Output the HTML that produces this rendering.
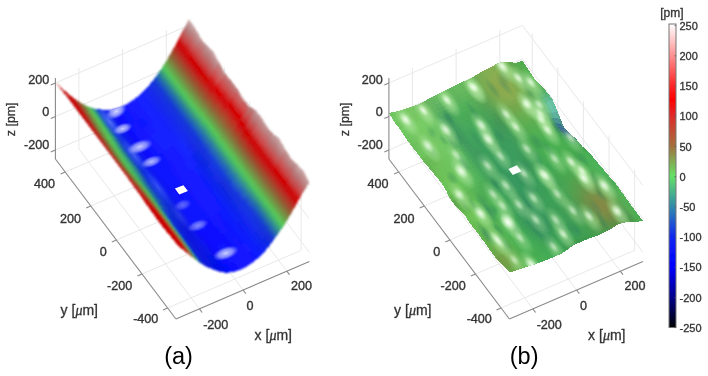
<!DOCTYPE html>
<html><head><meta charset="utf-8"><style>
html,body{margin:0;padding:0;background:#fff;}
svg{display:block;}
text{font-family:"Liberation Sans",sans-serif;fill:#333;}
.tk{font-size:12.6px;stroke:#333;stroke-width:0.35px;}
.al{font-size:14px;stroke:#333;stroke-width:0.3px;}
.mu{font-family:"Liberation Serif",serif;font-style:italic;}
.cb{font-size:11px;stroke:#333;stroke-width:0.3px;}
.g{stroke:#e8e8e8;stroke-width:1;}
.ax{stroke:#8a8a8a;stroke-width:1.1;}
.cbt{stroke:#555;stroke-width:0.8;}
.lab{font-size:23.5px;fill:#000;}
</style></head><body>
<svg width="708" height="376" viewBox="0 0 708 376">
<defs>
<filter id="bl" x="-5%" y="-5%" width="110%" height="110%"><feGaussianBlur stdDeviation="0.6"/></filter>
<filter id="bla" x="-5%" y="-5%" width="110%" height="110%"><feGaussianBlur stdDeviation="0.8"/></filter>
<filter id="tb" x="-5%" y="-5%" width="110%" height="110%"><feGaussianBlur stdDeviation="0.35"/></filter>
<filter id="sb" x="-20%" y="-20%" width="140%" height="140%"><feGaussianBlur stdDeviation="1.6"/></filter>
<radialGradient id="sg"><stop offset="0" stop-color="#f4fff0" stop-opacity="0.95"/><stop offset="0.3" stop-color="#dcf8d4" stop-opacity="0.65"/><stop offset="0.65" stop-color="#c4f0bc" stop-opacity="0.22"/><stop offset="1" stop-color="#b0e8a8" stop-opacity="0"/></radialGradient>
<radialGradient id="sga"><stop offset="0" stop-color="#e0e4ff" stop-opacity="0.95"/><stop offset="0.55" stop-color="#b8c0ff" stop-opacity="0.7"/><stop offset="1" stop-color="#8090ff" stop-opacity="0"/></radialGradient>
<radialGradient id="sgb"><stop offset="0" stop-color="#7090ff" stop-opacity="0.9"/><stop offset="0.6" stop-color="#5070ff" stop-opacity="0.45"/><stop offset="1" stop-color="#3050ff" stop-opacity="0"/></radialGradient>
<radialGradient id="sh"><stop offset="0" stop-color="#c0eeb0" stop-opacity="0.75"/><stop offset="0.55" stop-color="#b0e8a0" stop-opacity="0.45"/><stop offset="1" stop-color="#a0e090" stop-opacity="0"/></radialGradient>
<clipPath id="cpA"><path d="M55.4 81.8 57.4 84.5 59.4 87.1 61.4 89.8 63.4 92.4 65.4 95.1 67.5 97.8 69.5 100.4 71.5 103.1 73.5 105.8 75.5 108.4 77.5 111.1 79.5 113.8 81.5 116.4 83.5 119.1 85.5 121.8 87.5 124.4 89.5 127.1 91.5 129.8 93.6 132.5 95.6 135.1 97.6 137.8 99.6 140.5 101.6 143.1 103.6 145.8 105.6 148.5 107.6 151.1 109.6 153.8 111.6 156.5 113.6 159.1 115.7 161.8 117.7 164.5 119.7 167.2 121.7 169.9 123.7 172.6 125.7 175.3 127.7 178.1 129.7 180.8 131.7 183.6 133.7 186.4 135.7 189.2 137.7 192.1 139.8 194.9 141.8 197.8 143.8 200.7 145.8 203.6 147.8 206.4 149.8 209.3 151.8 212.1 153.8 214.9 155.8 217.6 157.8 220.3 159.8 223.0 161.8 225.6 163.8 228.2 165.9 230.7 167.9 233.2 169.9 235.7 171.9 238.2 173.9 240.6 175.9 243.1 175.9 243.1 178.1 245.4 180.3 247.5 182.6 249.4 184.8 251.3 187.0 253.1 189.2 254.8 191.5 256.6 193.7 258.3 195.9 260.0 198.2 261.6 200.4 263.1 202.6 264.5 204.8 265.8 207.1 267.0 209.3 268.0 211.5 268.9 213.7 269.7 215.9 270.5 218.2 271.2 220.4 271.9 222.6 272.3 224.8 272.6 227.1 272.6 229.3 272.5 231.5 272.3 233.8 271.9 236.0 271.3 238.2 270.6 240.4 269.7 242.7 268.6 244.9 267.5 247.1 266.2 249.3 264.9 251.5 263.4 253.8 261.7 256.0 259.9 258.2 257.9 260.4 255.9 262.7 253.6 264.9 251.3 267.1 248.7 269.4 246.0 271.6 243.0 273.8 239.9 276.0 236.7 278.2 233.6 280.5 230.5 282.7 227.3 284.9 224.0 287.1 220.4 289.4 216.7 291.6 212.8 293.8 208.8 296.1 204.8 298.3 200.8 300.5 196.9 302.7 193.1 305.0 189.4 307.2 185.8 309.4 182.3 309.4 182.3 307.4 178.6 305.4 174.8 303.4 171.3 301.4 168.4 299.4 166.1 297.4 164.3 295.3 162.8 293.3 161.1 291.3 159.0 289.3 156.3 287.3 152.9 285.3 149.2 283.3 145.4 281.3 141.9 279.3 139.0 277.3 136.7 275.3 135.0 273.2 133.5 271.2 131.9 269.2 129.8 267.2 127.1 265.2 123.9 263.2 120.4 261.2 117.0 259.2 114.0 257.2 111.6 255.2 109.9 253.2 108.7 251.2 107.7 249.2 106.6 247.1 104.9 245.1 102.5 243.1 99.4 241.1 95.8 239.1 92.1 237.1 88.6 235.1 85.6 233.1 83.1 231.1 80.9 229.1 78.8 227.1 76.5 225.1 73.7 223.0 70.3 221.0 66.3 219.0 62.2 217.0 58.1 215.0 54.5 213.0 51.6 211.0 49.3 209.0 47.6 207.0 46.0 205.0 44.1 203.0 41.8 201.0 38.8 198.9 35.2 196.9 31.4 194.9 27.7 192.9 24.4 190.9 21.8 188.9 19.7 188.9 19.7 186.7 23.5 184.5 27.6 182.2 31.8 180.0 36.2 177.8 40.4 175.6 44.6 173.3 48.7 171.1 52.7 168.9 56.5 166.7 60.3 164.4 64.0 162.2 67.5 160.0 70.8 157.8 74.1 155.5 77.1 153.3 80.1 151.1 82.8 148.8 85.5 146.6 88.0 144.4 90.3 142.2 92.5 139.9 94.6 137.7 96.5 135.5 98.2 133.3 99.9 131.0 101.5 128.8 102.9 126.6 104.3 124.4 105.5 122.2 106.6 119.9 107.5 117.7 108.3 115.5 109.0 113.2 109.5 111.0 109.7 108.8 109.8 106.6 109.8 104.3 109.7 102.1 109.5 99.9 109.4 97.7 109.1 95.4 108.8 93.2 108.2 91.0 107.5 88.8 106.7 86.5 105.8 84.3 104.7 82.1 103.6 79.9 102.3 77.7 100.9 75.4 99.3 73.2 97.7 71.0 95.9 68.8 94.1 66.5 92.3 64.3 90.4 62.1 88.4 59.9 86.3 57.6 84.1 55.4 81.8Z"/></clipPath>
<clipPath id="cpB"><path d="M388.9 112.8 390.9 116.2 392.9 119.7 394.9 123.1 396.9 125.5 398.9 128.0 400.9 130.7 403.0 133.9 405.0 137.1 407.0 140.0 409.0 142.8 411.0 145.5 413.0 147.9 415.0 150.3 417.0 152.9 419.0 155.8 421.0 158.6 423.0 161.0 425.0 163.3 427.1 165.7 429.1 168.1 431.1 170.6 433.1 173.0 435.1 175.4 437.1 177.8 439.1 180.1 441.1 182.5 443.1 185.8 445.1 189.0 447.1 192.8 449.1 197.1 451.2 200.7 453.2 203.0 455.2 205.2 457.2 207.5 459.2 209.7 461.2 211.8 463.2 213.9 465.2 216.0 467.2 219.1 469.2 222.3 471.2 225.2 473.2 227.6 475.3 230.0 477.3 232.6 479.3 235.4 481.3 238.3 483.3 240.9 485.3 243.5 487.3 246.4 489.3 249.2 491.3 252.0 493.3 254.8 495.3 257.5 497.3 259.7 499.4 261.7 501.4 263.7 503.4 265.7 505.4 267.8 507.4 270.0 509.4 272.5 509.4 272.5 511.6 271.8 513.8 271.1 516.1 270.4 518.3 269.6 520.5 268.9 522.8 268.1 525.0 267.3 527.2 266.6 529.4 266.0 531.6 265.3 533.9 264.7 536.1 264.1 538.3 263.2 540.5 262.3 542.8 261.4 545.0 260.5 547.2 259.7 549.5 258.8 551.7 257.9 553.9 257.0 556.1 256.1 558.3 255.2 560.6 254.0 562.8 252.8 565.0 251.6 567.2 249.9 569.5 248.1 571.7 246.3 573.9 245.1 576.1 244.1 578.4 243.1 580.6 242.1 582.8 241.1 585.0 240.1 587.3 239.2 589.5 238.5 591.7 237.7 594.0 236.9 596.2 236.1 598.4 235.2 600.6 234.2 602.8 233.1 605.1 232.0 607.3 230.9 609.5 229.8 611.8 228.5 614.0 226.9 616.2 225.4 618.4 224.2 620.6 223.6 622.9 223.0 625.1 222.4 627.3 222.3 629.5 222.2 631.8 222.2 634.0 222.1 636.2 222.1 638.5 221.7 640.7 221.3 642.9 220.9 642.9 220.9 640.9 218.2 638.9 215.5 636.9 212.8 634.9 210.0 632.9 207.3 630.9 204.6 628.8 201.9 626.8 199.0 624.8 196.2 622.8 193.4 620.8 190.6 618.8 187.8 616.8 185.0 614.8 182.6 612.8 180.2 610.8 177.9 608.8 175.6 606.8 173.2 604.7 170.9 602.7 168.6 600.7 166.3 598.7 163.9 596.7 161.4 594.7 159.0 592.7 156.6 590.7 154.2 588.7 151.8 586.7 149.8 584.7 148.5 582.6 146.7 580.6 144.2 578.6 141.7 576.6 139.6 574.6 137.6 572.6 135.6 570.6 134.1 568.6 132.6 566.6 130.6 564.6 127.9 562.6 124.0 560.6 118.9 558.5 113.9 556.5 108.9 554.5 103.9 552.5 99.4 550.5 96.7 548.5 94.1 546.5 91.4 544.5 89.0 542.5 86.9 540.5 84.9 538.5 82.9 536.5 80.8 534.4 78.8 532.4 75.8 530.4 72.7 528.4 69.7 526.4 66.7 524.4 63.5 522.4 60.4 522.4 60.4 520.2 61.4 518.0 62.4 515.7 62.6 513.5 62.6 511.3 62.3 509.0 61.9 506.8 61.7 504.6 61.9 502.4 62.1 500.1 62.4 497.9 63.3 495.7 64.3 493.5 65.6 491.2 66.8 489.0 68.0 486.8 69.1 484.6 70.2 482.3 71.4 480.1 72.6 477.9 74.0 475.7 75.3 473.4 76.6 471.2 77.7 469.0 78.8 466.8 79.9 464.5 81.0 462.3 82.0 460.1 83.0 457.9 84.0 455.6 85.1 453.4 86.2 451.2 87.4 449.0 88.5 446.8 89.6 444.5 90.7 442.3 91.8 440.1 92.9 437.8 94.0 435.6 95.1 433.4 96.2 431.2 97.3 428.9 98.5 426.7 99.8 424.5 101.2 422.3 102.6 420.0 103.7 417.8 104.5 415.6 105.3 413.4 106.1 411.1 106.8 408.9 107.6 406.7 108.4 404.5 109.1 402.2 109.8 400.0 110.5 397.8 111.2 395.6 111.6 393.3 112.0 391.1 112.4 388.9 112.8Z"/></clipPath>
<radialGradient id="sgc"><stop offset="0" stop-color="#ffffff" stop-opacity="1"/><stop offset="0.4" stop-color="#e8ffe0" stop-opacity="0.75"/><stop offset="1" stop-color="#d0f8c8" stop-opacity="0"/></radialGradient>
<radialGradient id="sdk"><stop offset="0" stop-color="#2a7a60" stop-opacity="0.6"/><stop offset="0.6" stop-color="#2a7a60" stop-opacity="0.3"/><stop offset="1" stop-color="#2a7a60" stop-opacity="0"/></radialGradient>
<linearGradient id="cbg" x1="0" y1="0" x2="0" y2="1"><stop offset="0.000" stop-color="rgb(255,255,255)"/>
<stop offset="0.100" stop-color="rgb(255,150,150)"/>
<stop offset="0.200" stop-color="rgb(255,40,40)"/>
<stop offset="0.250" stop-color="rgb(255,0,0)"/>
<stop offset="0.300" stop-color="rgb(225,40,40)"/>
<stop offset="0.400" stop-color="rgb(165,110,60)"/>
<stop offset="0.500" stop-color="rgb(100,225,100)"/>
<stop offset="0.600" stop-color="rgb(50,140,170)"/>
<stop offset="0.700" stop-color="rgb(15,40,240)"/>
<stop offset="0.800" stop-color="rgb(0,0,255)"/>
<stop offset="0.900" stop-color="rgb(0,0,140)"/>
<stop offset="1.000" stop-color="rgb(0,0,0)"/></linearGradient>
</defs>
<rect width="708" height="376" fill="#fff"/>
<line x1="78.9" y1="148.9" x2="78.9" y2="67.9" class="g"/>
<line x1="122.6" y1="130.0" x2="122.6" y2="49.0" class="g"/>
<line x1="166.3" y1="111.1" x2="166.3" y2="30.1" class="g"/>
<line x1="55.4" y1="83.0" x2="188.9" y2="25.4" class="g"/>
<line x1="55.4" y1="116.5" x2="188.9" y2="58.9" class="g"/>
<line x1="55.4" y1="150.0" x2="188.9" y2="92.4" class="g"/>
<line x1="198.7" y1="114.4" x2="198.7" y2="33.4" class="g"/>
<line x1="224.3" y1="148.4" x2="224.3" y2="67.4" class="g"/>
<line x1="249.9" y1="182.4" x2="249.9" y2="101.4" class="g"/>
<line x1="275.5" y1="216.4" x2="275.5" y2="135.4" class="g"/>
<line x1="301.1" y1="250.4" x2="301.1" y2="169.4" class="g"/>
<line x1="188.9" y1="25.4" x2="309.4" y2="185.4" class="g"/>
<line x1="188.9" y1="58.9" x2="309.4" y2="218.9" class="g"/>
<line x1="188.9" y1="92.4" x2="309.4" y2="252.4" class="g"/>
<line x1="78.9" y1="148.9" x2="199.4" y2="308.9" class="g"/>
<line x1="122.6" y1="130.0" x2="243.1" y2="290.0" class="g"/>
<line x1="166.3" y1="111.1" x2="286.8" y2="271.1" class="g"/>
<line x1="65.2" y1="172.0" x2="198.7" y2="114.4" class="g"/>
<line x1="90.8" y1="206.0" x2="224.3" y2="148.4" class="g"/>
<line x1="116.4" y1="240.0" x2="249.9" y2="182.4" class="g"/>
<line x1="142.0" y1="274.0" x2="275.5" y2="216.4" class="g"/>
<line x1="167.6" y1="308.0" x2="301.1" y2="250.4" class="g"/>
<line x1="412.4" y1="148.9" x2="412.4" y2="67.9" class="g"/>
<line x1="456.1" y1="130.0" x2="456.1" y2="49.0" class="g"/>
<line x1="499.8" y1="111.1" x2="499.8" y2="30.1" class="g"/>
<line x1="388.9" y1="83.0" x2="522.4" y2="25.4" class="g"/>
<line x1="388.9" y1="116.5" x2="522.4" y2="58.9" class="g"/>
<line x1="388.9" y1="150.0" x2="522.4" y2="92.4" class="g"/>
<line x1="532.2" y1="114.4" x2="532.2" y2="33.4" class="g"/>
<line x1="557.8" y1="148.4" x2="557.8" y2="67.4" class="g"/>
<line x1="583.4" y1="182.4" x2="583.4" y2="101.4" class="g"/>
<line x1="609.0" y1="216.4" x2="609.0" y2="135.4" class="g"/>
<line x1="634.6" y1="250.4" x2="634.6" y2="169.4" class="g"/>
<line x1="522.4" y1="25.4" x2="642.9" y2="185.4" class="g"/>
<line x1="522.4" y1="58.9" x2="642.9" y2="218.9" class="g"/>
<line x1="522.4" y1="92.4" x2="642.9" y2="252.4" class="g"/>
<line x1="412.4" y1="148.9" x2="532.9" y2="308.9" class="g"/>
<line x1="456.1" y1="130.0" x2="576.6" y2="290.0" class="g"/>
<line x1="499.8" y1="111.1" x2="620.3" y2="271.1" class="g"/>
<line x1="398.7" y1="172.0" x2="532.2" y2="114.4" class="g"/>
<line x1="424.3" y1="206.0" x2="557.8" y2="148.4" class="g"/>
<line x1="449.9" y1="240.0" x2="583.4" y2="182.4" class="g"/>
<line x1="475.5" y1="274.0" x2="609.0" y2="216.4" class="g"/>
<line x1="501.1" y1="308.0" x2="634.6" y2="250.4" class="g"/>
<g filter="url(#bla)" shape-rendering="crispEdges">
<path d="M134.0 99.3L135.5 98.2L141.5 106.2L140.0 107.3Z" fill="#141fff"/>
<path d="M135.5 98.2L137.0 97.1L143.0 105.1L141.5 106.2Z" fill="#1420ff"/>
<path d="M132.5 100.4L134.0 99.3L140.0 107.3L138.6 108.4Z" fill="#141eff"/>
<path d="M131.0 101.5L132.5 100.4L138.6 108.4L137.1 109.4Z" fill="#141dff"/>
<path d="M137.0 97.1L138.5 95.8L144.5 103.8L143.0 105.1Z" fill="#1420ff"/>
<path d="M129.6 102.4L131.0 101.5L137.1 109.4L135.6 110.4Z" fill="#141cff"/>
<path d="M138.5 95.8L139.9 94.6L146.0 102.6L144.5 103.8Z" fill="#1321ff"/>
<path d="M128.1 103.4L129.6 102.4L135.6 110.4L134.1 111.3Z" fill="#141bff"/>
<path d="M139.9 94.6L141.4 93.2L147.5 101.2L146.0 102.6Z" fill="#1322fe"/>
<path d="M126.6 104.3L128.1 103.4L134.1 111.3L132.6 112.2Z" fill="#141aff"/>
<path d="M141.4 93.2L142.9 91.8L148.9 99.8L147.5 101.2Z" fill="#1223fa"/>
<path d="M125.1 105.1L126.6 104.3L132.6 112.2L131.1 113.1Z" fill="#1319ff"/>
<path d="M142.9 91.8L144.4 90.3L150.4 98.3L148.9 99.8Z" fill="#1225f6"/>
<path d="M123.6 105.8L125.1 105.1L131.1 113.1L129.7 113.8Z" fill="#1218ff"/>
<path d="M144.4 90.3L145.9 88.8L151.9 96.8L150.4 98.3Z" fill="#1227f2"/>
<path d="M122.2 106.6L123.6 105.8L129.7 113.8L128.2 114.5Z" fill="#1117ff"/>
<path d="M145.9 88.8L147.4 87.2L153.4 95.2L151.9 96.8Z" fill="#1229ee"/>
<path d="M120.7 107.2L122.2 106.6L128.2 114.5L126.7 115.2Z" fill="#1015ff"/>
<path d="M147.4 87.2L148.8 85.5L154.9 93.5L153.4 95.2Z" fill="#132ce9"/>
<path d="M119.2 107.8L120.7 107.2L126.7 115.2L125.2 115.8Z" fill="#0f14ff"/>
<path d="M148.8 85.5L150.3 83.7L156.4 91.7L154.9 93.5Z" fill="#142fe5"/>
<path d="M117.7 108.3L119.2 107.8L125.2 115.8L123.7 116.3Z" fill="#0d13ff"/>
<path d="M116.2 108.8L117.7 108.3L123.7 116.3L122.2 116.8Z" fill="#0c11ff"/>
<path d="M150.3 83.7L151.8 81.9L157.8 89.9L156.4 91.7Z" fill="#1432e1"/>
<path d="M114.7 109.1L116.2 108.8L122.2 116.8L120.8 117.1Z" fill="#0a10ff"/>
<path d="M151.8 81.9L153.3 80.1L159.3 88.1L157.8 89.9Z" fill="#1535dc"/>
<path d="M113.2 109.5L114.7 109.1L120.8 117.1L119.3 117.4Z" fill="#0910ff"/>
<path d="M153.3 80.1L154.8 78.1L160.8 86.1L159.3 88.1Z" fill="#1941d1"/>
<path d="M141.5 106.2L143.0 105.1L149.0 113.1L147.6 114.2Z" fill="#1420ff"/>
<path d="M140.0 107.3L141.5 106.2L147.6 114.2L146.1 115.3Z" fill="#141fff"/>
<path d="M111.8 109.7L113.2 109.5L119.3 117.4L117.8 117.6Z" fill="#0810fa"/>
<path d="M154.8 78.1L156.3 76.1L162.3 84.1L160.8 86.1Z" fill="#1e54c0"/>
<path d="M138.6 108.4L140.0 107.3L146.1 115.3L144.6 116.3Z" fill="#141eff"/>
<path d="M143.0 105.1L144.5 103.8L150.5 111.9L149.0 113.1Z" fill="#1421ff"/>
<path d="M137.1 109.4L138.6 108.4L144.6 116.3L143.1 117.2Z" fill="#141cff"/>
<path d="M144.5 103.8L146.0 102.6L152.0 110.6L150.5 111.9Z" fill="#1321ff"/>
<path d="M135.6 110.4L137.1 109.4L143.1 117.2L141.6 118.2Z" fill="#131bff"/>
<path d="M146.0 102.6L147.5 101.2L153.5 109.2L152.0 110.6Z" fill="#1322fe"/>
<path d="M134.1 111.3L135.6 110.4L141.6 118.2L140.1 119.1Z" fill="#131aff"/>
<path d="M147.5 101.2L148.9 99.8L155.0 107.8L153.5 109.2Z" fill="#1223fa"/>
<path d="M132.6 112.2L134.1 111.3L140.1 119.1L138.7 120.0Z" fill="#1219ff"/>
<path d="M131.1 113.1L132.6 112.2L138.7 120.0L137.2 120.9Z" fill="#1218ff"/>
<path d="M156.3 76.1L157.8 74.1L163.8 82.1L162.3 84.1Z" fill="#2469ad"/>
<path d="M110.3 109.8L111.8 109.7L117.8 117.6L116.3 117.7Z" fill="#0711f6"/>
<path d="M148.9 99.8L150.4 98.3L156.5 106.3L155.0 107.8Z" fill="#1225f6"/>
<path d="M129.7 113.8L131.1 113.1L137.2 120.9L135.7 121.7Z" fill="#1217ff"/>
<path d="M150.4 98.3L151.9 96.8L157.9 104.8L156.5 106.3Z" fill="#1227f2"/>
<path d="M128.2 114.5L129.7 113.8L135.7 121.7L134.2 122.5Z" fill="#1117ff"/>
<path d="M151.9 96.8L153.4 95.2L159.4 103.2L157.9 104.8Z" fill="#1229ee"/>
<path d="M157.8 74.1L159.2 71.9L165.3 79.9L163.8 82.1Z" fill="#2c8099"/>
<path d="M126.7 115.2L128.2 114.5L134.2 122.5L132.7 123.2Z" fill="#1116ff"/>
<path d="M108.8 109.8L110.3 109.8L116.3 117.7L114.8 117.6Z" fill="#0713f1"/>
<path d="M153.4 95.2L154.9 93.5L160.9 101.5L159.4 103.2Z" fill="#132ce9"/>
<path d="M125.2 115.8L126.7 115.2L132.7 123.2L131.2 123.8Z" fill="#0f14ff"/>
<path d="M154.9 93.5L156.4 91.7L162.4 99.7L160.9 101.5Z" fill="#142fe5"/>
<path d="M159.2 71.9L160.7 69.7L166.7 77.7L165.3 79.9Z" fill="#389b81"/>
<path d="M123.7 116.3L125.2 115.8L131.2 123.8L129.8 124.3Z" fill="#0e13ff"/>
<path d="M107.3 109.8L108.8 109.8L114.8 117.6L113.3 117.5Z" fill="#0815ed"/>
<path d="M122.2 116.8L123.7 116.3L129.8 124.3L128.3 124.8Z" fill="#0c11ff"/>
<path d="M156.4 91.7L157.8 89.9L163.9 97.9L162.4 99.7Z" fill="#1432e1"/>
<path d="M160.7 69.7L162.2 67.5L168.2 75.5L166.7 77.7Z" fill="#45b36b"/>
<path d="M120.8 117.1L122.2 116.8L128.3 124.8L126.8 125.2Z" fill="#0a10ff"/>
<path d="M157.8 89.9L159.3 88.1L165.4 96.1L163.9 97.9Z" fill="#1535dc"/>
<path d="M105.8 109.8L107.3 109.8L113.3 117.5L111.9 117.3Z" fill="#0919ea"/>
<path d="M119.3 117.4L120.8 117.1L126.8 125.2L125.3 125.4Z" fill="#0810ff"/>
<path d="M159.3 88.1L160.8 86.1L166.8 94.1L165.4 96.1Z" fill="#1941d1"/>
<path d="M162.2 67.5L163.7 65.1L169.7 73.1L168.2 75.5Z" fill="#53c45b"/>
<path d="M104.3 109.7L105.8 109.8L111.9 117.3L110.4 117.2Z" fill="#0a1de9"/>
<path d="M160.8 86.1L162.3 84.1L168.3 92.1L166.8 94.1Z" fill="#1e54c0"/>
<path d="M117.8 117.6L119.3 117.4L125.3 125.4L123.8 125.6Z" fill="#0710fa"/>
<path d="M147.6 114.2L149.0 113.1L155.1 120.9L153.6 122.0Z" fill="#1420ff"/>
<path d="M149.0 113.1L150.5 111.9L156.5 119.8L155.1 120.9Z" fill="#1421ff"/>
<path d="M146.1 115.3L147.6 114.2L153.6 122.0L152.1 122.9Z" fill="#141fff"/>
<path d="M150.5 111.9L152.0 110.6L158.0 118.5L156.5 119.8Z" fill="#1321ff"/>
<path d="M144.6 116.3L146.1 115.3L152.1 122.9L150.6 123.8Z" fill="#131eff"/>
<path d="M152.0 110.6L153.5 109.2L159.5 117.2L158.0 118.5Z" fill="#1222fe"/>
<path d="M143.1 117.2L144.6 116.3L150.6 123.8L149.1 124.7Z" fill="#121cff"/>
<path d="M163.7 65.1L165.2 62.8L171.2 70.8L169.7 73.1Z" fill="#5fb852"/>
<path d="M153.5 109.2L155.0 107.8L161.0 115.8L159.5 117.2Z" fill="#1223fa"/>
<path d="M141.6 118.2L143.1 117.2L149.1 124.7L147.6 125.5Z" fill="#111aff"/>
<path d="M102.9 109.6L104.3 109.7L110.4 117.2L108.9 117.1Z" fill="#0c21e6"/>
<path d="M140.1 119.1L141.6 118.2L147.6 125.5L146.2 126.4Z" fill="#1119ff"/>
<path d="M162.3 84.1L163.8 82.1L169.8 90.1L168.3 92.1Z" fill="#2469ad"/>
<path d="M155.0 107.8L156.5 106.3L162.5 114.3L161.0 115.8Z" fill="#1225f6"/>
<path d="M116.3 117.7L117.8 117.6L123.8 125.6L122.3 125.7Z" fill="#0711f5"/>
<path d="M138.7 120.0L140.1 119.1L146.2 126.4L144.7 127.4Z" fill="#1118ff"/>
<path d="M137.2 120.9L138.7 120.0L144.7 127.4L143.2 128.4Z" fill="#1118ff"/>
<path d="M156.5 106.3L157.9 104.8L164.0 112.8L162.5 114.3Z" fill="#1227f2"/>
<path d="M135.7 121.7L137.2 120.9L143.2 128.4L141.7 129.4Z" fill="#1118ff"/>
<path d="M134.2 122.5L135.7 121.7L141.7 129.4L140.2 130.3Z" fill="#1218ff"/>
<path d="M165.2 62.8L166.7 60.3L172.7 68.3L171.2 70.8Z" fill="#6ba24a"/>
<path d="M157.9 104.8L159.4 103.2L165.4 111.2L164.0 112.8Z" fill="#1229ee"/>
<path d="M163.8 82.1L165.3 79.9L171.3 87.9L169.8 90.1Z" fill="#2c8099"/>
<path d="M132.7 123.2L134.2 122.5L140.2 130.3L138.7 131.2Z" fill="#1218ff"/>
<path d="M114.8 117.6L116.3 117.7L122.3 125.7L120.9 125.7Z" fill="#0713f0"/>
<path d="M101.4 109.5L102.9 109.6L108.9 117.1L107.4 117.0Z" fill="#0e26e4"/>
<path d="M159.4 103.2L160.9 101.5L166.9 109.5L165.4 111.2Z" fill="#132ce9"/>
<path d="M131.2 123.8L132.7 123.2L138.7 131.2L137.3 131.9Z" fill="#1217ff"/>
<path d="M129.8 124.3L131.2 123.8L137.3 131.9L135.8 132.6Z" fill="#1015ff"/>
<path d="M165.3 79.9L166.7 77.7L172.8 85.7L171.3 87.9Z" fill="#389b81"/>
<path d="M160.9 101.5L162.4 99.7L168.4 107.7L166.9 109.5Z" fill="#142fe5"/>
<path d="M166.7 60.3L168.1 57.8L174.2 65.8L172.7 68.3Z" fill="#778c43"/>
<path d="M113.3 117.5L114.8 117.6L120.9 125.7L119.4 125.6Z" fill="#0816ed"/>
<path d="M99.9 109.4L101.4 109.5L107.4 117.0L105.9 117.0Z" fill="#102ce2"/>
<path d="M128.3 124.8L129.8 124.3L135.8 132.6L134.3 133.1Z" fill="#0d12ff"/>
<path d="M162.4 99.7L163.9 97.9L169.9 105.9L168.4 107.7Z" fill="#1432e1"/>
<path d="M166.7 77.7L168.2 75.5L174.3 83.5L172.8 85.7Z" fill="#45b36b"/>
<path d="M126.8 125.2L128.3 124.8L134.3 133.1L132.8 133.4Z" fill="#0b10ff"/>
<path d="M163.9 97.9L165.4 96.1L171.4 104.1L169.9 105.9Z" fill="#1535dc"/>
<path d="M98.4 109.2L99.9 109.4L105.9 117.0L104.4 116.9Z" fill="#1232dd"/>
<path d="M111.9 117.3L113.3 117.5L119.4 125.6L117.9 125.5Z" fill="#091aea"/>
<path d="M168.1 57.8L169.6 55.3L175.6 63.3L174.2 65.8Z" fill="#84753c"/>
<path d="M125.3 125.4L126.8 125.2L132.8 133.4L131.3 133.7Z" fill="#090fff"/>
<path d="M165.4 96.1L166.8 94.1L172.9 102.1L171.4 104.1Z" fill="#1941d1"/>
<path d="M168.2 75.5L169.7 73.1L175.7 81.1L174.3 83.5Z" fill="#53c45b"/>
<path d="M96.9 109.0L98.4 109.2L104.4 116.9L103.0 116.8Z" fill="#1741d0"/>
<path d="M110.4 117.2L111.9 117.3L117.9 125.5L116.4 125.3Z" fill="#0a1ee9"/>
<path d="M123.8 125.6L125.3 125.4L131.3 133.7L129.8 133.9Z" fill="#0810fa"/>
<path d="M166.8 94.1L168.3 92.1L174.3 100.1L172.9 102.1Z" fill="#1e54c0"/>
<path d="M169.6 55.3L171.1 52.7L177.1 60.7L175.6 63.3Z" fill="#925f35"/>
<path d="M155.1 120.9L156.5 119.8L162.6 127.6L161.1 128.8Z" fill="#1421ff"/>
<path d="M153.6 122.0L155.1 120.9L161.1 128.8L159.6 129.8Z" fill="#1521ff"/>
<path d="M156.5 119.8L158.0 118.5L164.0 126.4L162.6 127.6Z" fill="#1322ff"/>
<path d="M152.1 122.9L153.6 122.0L159.6 129.8L158.1 130.8Z" fill="#1521ff"/>
<path d="M158.0 118.5L159.5 117.2L165.5 125.0L164.0 126.4Z" fill="#1222fd"/>
<path d="M169.7 73.1L171.2 70.8L177.2 78.8L175.7 81.1Z" fill="#5fb852"/>
<path d="M150.6 123.8L152.1 122.9L158.1 130.8L156.6 131.6Z" fill="#1520ff"/>
<path d="M159.5 117.2L161.0 115.8L167.0 123.6L165.5 125.0Z" fill="#1224fa"/>
<path d="M149.1 124.7L150.6 123.8L156.6 131.6L155.1 132.4Z" fill="#141fff"/>
<path d="M122.3 125.7L123.8 125.6L129.8 133.9L128.4 134.0Z" fill="#0711f6"/>
<path d="M168.3 92.1L169.8 90.1L175.8 98.1L174.3 100.1Z" fill="#2469ad"/>
<path d="M161.0 115.8L162.5 114.3L168.5 122.2L167.0 123.6Z" fill="#1225f7"/>
<path d="M108.9 117.1L110.4 117.2L116.4 125.3L114.9 125.2Z" fill="#0c22e7"/>
<path d="M95.4 108.8L96.9 109.0L103.0 116.8L101.5 116.6Z" fill="#1f5cb9"/>
<path d="M147.6 125.5L149.1 124.7L155.1 132.4L153.7 133.3Z" fill="#141eff"/>
<path d="M146.2 126.4L147.6 125.5L153.7 133.3L152.2 134.2Z" fill="#141dff"/>
<path d="M162.5 114.3L164.0 112.8L170.0 120.7L168.5 122.2Z" fill="#1227f2"/>
<path d="M144.7 127.4L146.2 126.4L152.2 134.2L150.7 135.2Z" fill="#131cff"/>
<path d="M171.1 52.7L172.6 50.0L178.6 58.0L177.1 60.7Z" fill="#a14b2d"/>
<path d="M143.2 128.4L144.7 127.4L150.7 135.2L149.2 136.2Z" fill="#131bff"/>
<path d="M141.7 129.4L143.2 128.4L149.2 136.2L147.7 137.3Z" fill="#1319ff"/>
<path d="M171.2 70.8L172.7 68.3L178.7 76.3L177.2 78.8Z" fill="#6ba24a"/>
<path d="M140.2 130.3L141.7 129.4L147.7 137.3L146.2 138.3Z" fill="#1319ff"/>
<path d="M164.0 112.8L165.4 111.2L171.5 119.1L170.0 120.7Z" fill="#1229ee"/>
<path d="M169.8 90.1L171.3 87.9L177.3 95.9L175.8 98.1Z" fill="#2c8099"/>
<path d="M120.9 125.7L122.3 125.7L128.4 134.0L126.9 134.0Z" fill="#0713f2"/>
<path d="M138.7 131.2L140.2 130.3L146.2 138.3L144.8 139.3Z" fill="#1419ff"/>
<path d="M107.4 117.0L108.9 117.1L114.9 125.2L113.4 125.2Z" fill="#0e27e6"/>
<path d="M137.3 131.9L138.7 131.2L144.8 139.3L143.3 140.1Z" fill="#1418ff"/>
<path d="M165.4 111.2L166.9 109.5L172.9 117.5L171.5 119.1Z" fill="#132cea"/>
<path d="M94.0 108.4L95.4 108.8L101.5 116.6L100.0 116.3Z" fill="#2573a4"/>
<path d="M135.8 132.6L137.3 131.9L143.3 140.1L141.8 140.9Z" fill="#1216ff"/>
<path d="M171.3 87.9L172.8 85.7L178.8 93.7L177.3 95.9Z" fill="#389b81"/>
<path d="M166.9 109.5L168.4 107.7L174.4 115.7L172.9 117.5Z" fill="#142fe5"/>
<path d="M119.4 125.6L120.9 125.7L126.9 134.0L125.4 134.0Z" fill="#0816ef"/>
<path d="M172.6 50.0L174.1 47.3L180.1 55.3L178.6 58.0Z" fill="#b03725"/>
<path d="M172.7 68.3L174.2 65.8L180.2 73.8L178.7 76.3Z" fill="#778c43"/>
<path d="M134.3 133.1L135.8 132.6L141.8 140.9L140.3 141.4Z" fill="#0e13ff"/>
<path d="M105.9 117.0L107.4 117.0L113.4 125.2L112.0 125.1Z" fill="#112de3"/>
<path d="M168.4 107.7L169.9 105.9L175.9 113.9L174.4 115.7Z" fill="#1432e1"/>
<path d="M132.8 133.4L134.3 133.1L140.3 141.4L138.8 141.8Z" fill="#0a0fff"/>
<path d="M92.5 108.0L94.0 108.4L100.0 116.3L98.5 116.0Z" fill="#2f8a8e"/>
<path d="M172.8 85.7L174.3 83.5L180.3 91.5L178.8 93.7Z" fill="#45b36b"/>
<path d="M117.9 125.5L119.4 125.6L125.4 134.0L123.9 134.0Z" fill="#0919ed"/>
<path d="M169.9 105.9L171.4 104.1L177.4 112.1L175.9 113.9Z" fill="#1535dc"/>
<path d="M174.2 65.8L175.6 63.3L181.7 71.3L180.2 73.8Z" fill="#84753c"/>
<path d="M104.4 116.9L105.9 117.0L112.0 125.1L110.5 125.0Z" fill="#1332df"/>
<path d="M131.3 133.7L132.8 133.4L138.8 141.8L137.3 142.0Z" fill="#080eff"/>
<path d="M174.1 47.3L175.6 44.6L181.6 52.6L180.1 55.3Z" fill="#c0221c"/>
<path d="M171.4 104.1L172.9 102.1L178.9 110.1L177.4 112.1Z" fill="#1941d1"/>
<path d="M174.3 83.5L175.7 81.1L181.8 89.1L180.3 91.5Z" fill="#53c45b"/>
<path d="M116.4 125.3L117.9 125.5L123.9 134.0L122.4 133.9Z" fill="#0a1deb"/>
<path d="M91.0 107.5L92.5 108.0L98.5 116.0L97.0 115.5Z" fill="#3ba277"/>
<path d="M129.8 133.9L131.3 133.7L137.3 142.0L135.9 142.1Z" fill="#070efa"/>
<path d="M103.0 116.8L104.4 116.9L110.5 125.0L109.0 124.9Z" fill="#173fd3"/>
<path d="M172.9 102.1L174.3 100.1L180.4 108.1L178.9 110.1Z" fill="#1e55c0"/>
<path d="M175.6 63.3L177.1 60.7L183.2 68.7L181.7 71.3Z" fill="#925f35"/>
<path d="M159.6 129.8L161.1 128.8L167.1 136.7L165.6 137.9Z" fill="#1521ff"/>
<path d="M175.6 44.6L177.0 41.8L183.1 49.8L181.6 52.6Z" fill="#c90f0d"/>
<path d="M158.1 130.8L159.6 129.8L165.6 137.9L164.1 139.0Z" fill="#1722ff"/>
<path d="M161.1 128.8L162.6 127.6L168.6 135.4L167.1 136.7Z" fill="#1321ff"/>
<path d="M175.7 81.1L177.2 78.8L183.2 86.8L181.8 89.1Z" fill="#5fb852"/>
<path d="M162.6 127.6L164.0 126.4L170.1 134.1L168.6 135.4Z" fill="#1322ff"/>
<path d="M156.6 131.6L158.1 130.8L164.1 139.0L162.7 140.0Z" fill="#1823ff"/>
<path d="M128.4 134.0L129.8 133.9L135.9 142.1L134.4 142.2Z" fill="#0710f6"/>
<path d="M164.0 126.4L165.5 125.0L171.6 132.8L170.1 134.1Z" fill="#1223fd"/>
<path d="M114.9 125.2L116.4 125.3L122.4 133.9L120.9 133.8Z" fill="#0c21e9"/>
<path d="M155.1 132.4L156.6 131.6L162.7 140.0L161.2 140.9Z" fill="#1923ff"/>
<path d="M174.3 100.1L175.8 98.1L181.8 106.1L180.4 108.1Z" fill="#2469ad"/>
<path d="M165.5 125.0L167.0 123.6L173.0 131.4L171.6 132.8Z" fill="#1224fa"/>
<path d="M153.7 133.3L155.1 132.4L161.2 140.9L159.7 141.8Z" fill="#1923ff"/>
<path d="M89.5 107.0L91.0 107.5L97.0 115.5L95.5 115.0Z" fill="#47b565"/>
<path d="M101.5 116.6L103.0 116.8L109.0 124.9L107.5 124.7Z" fill="#1e59bc"/>
<path d="M152.2 134.2L153.7 133.3L159.7 141.8L158.2 142.7Z" fill="#1922ff"/>
<path d="M167.0 123.6L168.5 122.2L174.5 130.0L173.0 131.4Z" fill="#1326f7"/>
<path d="M150.7 135.2L152.2 134.2L158.2 142.7L156.7 143.6Z" fill="#1821ff"/>
<path d="M177.1 60.7L178.6 58.0L184.6 66.1L183.2 68.7Z" fill="#a14b2d"/>
<path d="M168.5 122.2L170.0 120.7L176.0 128.6L174.5 130.0Z" fill="#1328f3"/>
<path d="M149.2 136.2L150.7 135.2L156.7 143.6L155.2 144.5Z" fill="#171eff"/>
<path d="M126.9 134.0L128.4 134.0L134.4 142.2L132.9 142.2Z" fill="#0712f3"/>
<path d="M147.7 137.3L149.2 136.2L155.2 144.5L153.8 145.4Z" fill="#151cff"/>
<path d="M177.2 78.8L178.7 76.3L184.7 84.3L183.2 86.8Z" fill="#6ba24a"/>
<path d="M146.2 138.3L147.7 137.3L153.8 145.4L152.3 146.2Z" fill="#141aff"/>
<path d="M175.8 98.1L177.3 95.9L183.3 103.9L181.8 106.1Z" fill="#2c8099"/>
<path d="M113.4 125.2L114.9 125.2L120.9 133.8L119.5 133.7Z" fill="#0e26e6"/>
<path d="M170.0 120.7L171.5 119.1L177.5 127.0L176.0 128.6Z" fill="#132aef"/>
<path d="M177.0 41.8L178.5 39.0L184.5 47.0L183.1 49.8Z" fill="#ce0909"/>
<path d="M144.8 139.3L146.2 138.3L152.3 146.2L150.8 147.1Z" fill="#1318ff"/>
<path d="M143.3 140.1L144.8 139.3L150.8 147.1L149.3 147.8Z" fill="#1116ff"/>
<path d="M171.5 119.1L172.9 117.5L179.0 125.4L177.5 127.0Z" fill="#132cea"/>
<path d="M100.0 116.3L101.5 116.6L107.5 124.7L106.0 124.4Z" fill="#246fa7"/>
<path d="M141.8 140.9L143.3 140.1L149.3 147.8L147.8 148.5Z" fill="#0f14ff"/>
<path d="M125.4 134.0L126.9 134.0L132.9 142.2L131.4 142.2Z" fill="#0815f1"/>
<path d="M88.0 106.4L89.5 107.0L95.5 115.0L94.1 114.5Z" fill="#54c558"/>
<path d="M177.3 95.9L178.8 93.7L184.8 101.7L183.3 103.9Z" fill="#389a81"/>
<path d="M172.9 117.5L174.4 115.7L180.5 123.7L179.0 125.4Z" fill="#142fe6"/>
<path d="M178.6 58.0L180.1 55.3L186.1 63.4L184.6 66.1Z" fill="#b03725"/>
<path d="M112.0 125.1L113.4 125.2L119.5 133.7L118.0 133.5Z" fill="#102be3"/>
<path d="M178.7 76.3L180.2 73.8L186.2 81.8L184.7 84.3Z" fill="#778c43"/>
<path d="M140.3 141.4L141.8 140.9L147.8 148.5L146.3 149.1Z" fill="#0c11ff"/>
<path d="M174.4 115.7L175.9 113.9L181.9 121.9L180.5 123.7Z" fill="#1532e1"/>
<path d="M178.5 39.0L180.0 36.2L186.0 44.2L184.5 47.0Z" fill="#cb2828"/>
<path d="M138.8 141.8L140.3 141.4L146.3 149.1L144.9 149.5Z" fill="#090eff"/>
<path d="M123.9 134.0L125.4 134.0L131.4 142.2L129.9 142.2Z" fill="#0918ef"/>
<path d="M98.5 116.0L100.0 116.3L106.0 124.4L104.5 124.0Z" fill="#2d8493"/>
<path d="M178.8 93.7L180.3 91.5L186.3 99.5L184.8 101.7Z" fill="#45b36b"/>
<path d="M175.9 113.9L177.4 112.1L183.4 120.1L181.9 121.9Z" fill="#1635dd"/>
<path d="M110.5 125.0L112.0 125.1L118.0 133.5L116.5 133.4Z" fill="#1230de"/>
<path d="M86.5 105.8L88.0 106.4L94.1 114.5L92.6 114.0Z" fill="#5db851"/>
<path d="M180.2 73.8L181.7 71.3L187.7 79.3L186.2 81.8Z" fill="#84763c"/>
<path d="M137.3 142.0L138.8 141.8L144.9 149.5L143.4 149.8Z" fill="#070dfe"/>
<path d="M180.1 55.3L181.6 52.6L187.6 60.7L186.1 63.4Z" fill="#c0231d"/>
<path d="M122.4 133.9L123.9 134.0L129.9 142.2L128.4 142.2Z" fill="#0a1ced"/>
<path d="M177.4 112.1L178.9 110.1L184.9 118.1L183.4 120.1Z" fill="#1941d2"/>
<path d="M180.3 91.5L181.8 89.1L187.8 97.2L186.3 99.5Z" fill="#53c45b"/>
<path d="M97.0 115.5L98.5 116.0L104.5 124.0L103.0 123.5Z" fill="#379b7e"/>
<path d="M135.9 142.1L137.3 142.0L143.4 149.8L141.9 150.0Z" fill="#060ef9"/>
<path d="M180.0 36.2L181.5 33.3L187.5 41.3L186.0 44.2Z" fill="#c84646"/>
<path d="M109.0 124.9L110.5 125.0L116.5 133.4L115.0 133.1Z" fill="#1436d8"/>
<path d="M178.9 110.1L180.4 108.1L186.4 116.2L184.9 118.1Z" fill="#1e54c0"/>
<path d="M181.7 71.3L183.2 68.7L189.2 76.7L187.7 79.3Z" fill="#916035"/>
<path d="M162.7 140.0L164.1 139.0L170.2 147.3L168.7 148.4Z" fill="#1620ff"/>
<path d="M164.1 139.0L165.6 137.9L171.7 146.0L170.2 147.3Z" fill="#1520ff"/>
<path d="M85.1 105.1L86.5 105.8L92.6 114.0L91.1 113.4Z" fill="#66a74b"/>
<path d="M181.6 52.6L183.1 49.8L189.1 58.1L187.6 60.7Z" fill="#ca100e"/>
<path d="M161.2 140.9L162.7 140.0L168.7 148.4L167.2 149.5Z" fill="#1821ff"/>
<path d="M120.9 133.8L122.4 133.9L128.4 142.2L127.0 142.1Z" fill="#0b1fea"/>
<path d="M165.6 137.9L167.1 136.7L173.1 144.7L171.7 146.0Z" fill="#1320ff"/>
<path d="M159.7 141.8L161.2 140.9L167.2 149.5L165.7 150.4Z" fill="#1821ff"/>
<path d="M167.1 136.7L168.6 135.4L174.6 143.4L173.1 144.7Z" fill="#1320ff"/>
<path d="M181.8 89.1L183.2 86.8L189.3 94.8L187.8 97.2Z" fill="#5fb852"/>
<path d="M134.4 142.2L135.9 142.1L141.9 150.0L140.4 150.1Z" fill="#070ff6"/>
<path d="M168.6 135.4L170.1 134.1L176.1 142.1L174.6 143.4Z" fill="#1322ff"/>
<path d="M158.2 142.7L159.7 141.8L165.7 150.4L164.2 151.3Z" fill="#1820ff"/>
<path d="M170.1 134.1L171.6 132.8L177.6 140.8L176.1 142.1Z" fill="#1324fd"/>
<path d="M180.4 108.1L181.8 106.1L187.9 114.1L186.4 116.2Z" fill="#2469ae"/>
<path d="M156.7 143.6L158.2 142.7L164.2 151.3L162.8 152.0Z" fill="#171eff"/>
<path d="M107.5 124.7L109.0 124.9L115.0 133.1L113.5 132.8Z" fill="#1b4fc1"/>
<path d="M171.6 132.8L173.0 131.4L179.1 139.4L177.6 140.8Z" fill="#1426fc"/>
<path d="M95.5 115.0L97.0 115.5L103.0 123.5L101.6 123.0Z" fill="#43b16a"/>
<path d="M155.2 144.5L156.7 143.6L162.8 152.0L161.3 152.7Z" fill="#161cff"/>
<path d="M181.5 33.3L183.0 30.4L189.0 38.4L187.5 41.3Z" fill="#c15a5a"/>
<path d="M173.0 131.4L174.5 130.0L180.6 138.0L179.1 139.4Z" fill="#1428f9"/>
<path d="M119.5 133.7L120.9 133.8L127.0 142.1L125.5 142.0Z" fill="#0d23e6"/>
<path d="M183.2 68.7L184.6 66.1L190.7 74.1L189.2 76.7Z" fill="#a14c2d"/>
<path d="M132.9 142.2L134.4 142.2L140.4 150.1L138.9 150.2Z" fill="#0712f4"/>
<path d="M153.8 145.4L155.2 144.5L161.3 152.7L159.8 153.4Z" fill="#141aff"/>
<path d="M174.5 130.0L176.0 128.6L182.0 136.6L180.6 138.0Z" fill="#142af5"/>
<path d="M183.2 86.8L184.7 84.3L190.8 92.3L189.3 94.8Z" fill="#6ba24a"/>
<path d="M183.1 49.8L184.5 47.0L190.6 55.5L189.1 58.1Z" fill="#d00707"/>
<path d="M181.8 106.1L183.3 103.9L189.4 112.0L187.9 114.1Z" fill="#2c8099"/>
<path d="M152.3 146.2L153.8 145.4L159.8 153.4L158.3 154.0Z" fill="#1218ff"/>
<path d="M83.6 104.4L85.1 105.1L91.1 113.4L89.6 112.8Z" fill="#6f9646"/>
<path d="M176.0 128.6L177.5 127.0L183.5 135.0L182.0 136.6Z" fill="#142bf0"/>
<path d="M150.8 147.1L152.3 146.2L158.3 154.0L156.8 154.6Z" fill="#1016ff"/>
<path d="M106.0 124.4L107.5 124.7L113.5 132.8L112.0 132.4Z" fill="#2165ad"/>
<path d="M177.5 127.0L179.0 125.4L185.0 133.4L183.5 135.0Z" fill="#142deb"/>
<path d="M131.4 142.2L132.9 142.2L138.9 150.2L137.4 150.2Z" fill="#0814f2"/>
<path d="M149.3 147.8L150.8 147.1L156.8 154.6L155.3 155.2Z" fill="#0f14ff"/>
<path d="M94.1 114.5L95.5 115.0L101.6 123.0L100.1 122.5Z" fill="#4fbf5d"/>
<path d="M118.0 133.5L119.5 133.7L125.5 142.0L124.0 141.8Z" fill="#0f28e2"/>
<path d="M183.3 103.9L184.8 101.7L190.8 109.8L189.4 112.0Z" fill="#389a82"/>
<path d="M179.0 125.4L180.5 123.7L186.5 131.7L185.0 133.4Z" fill="#142fe6"/>
<path d="M184.6 66.1L186.1 63.4L192.1 71.4L190.7 74.1Z" fill="#b03825"/>
<path d="M183.0 30.4L184.5 27.6L190.5 35.5L189.0 38.4Z" fill="#bb6d6d"/>
<path d="M184.7 84.3L186.2 81.8L192.2 89.9L190.8 92.3Z" fill="#778c43"/>
<path d="M147.8 148.5L149.3 147.8L155.3 155.2L153.9 155.9Z" fill="#0d13ff"/>
<path d="M184.5 47.0L186.0 44.2L192.1 52.9L190.6 55.5Z" fill="#ce2424"/>
<path d="M180.5 123.7L181.9 121.9L188.0 129.9L186.5 131.7Z" fill="#1532e1"/>
<path d="M146.3 149.1L147.8 148.5L153.9 155.9L152.4 156.4Z" fill="#0c11ff"/>
<path d="M129.9 142.2L131.4 142.2L137.4 150.2L136.0 150.3Z" fill="#0918ef"/>
<path d="M82.1 103.6L83.6 104.4L89.6 112.8L88.1 112.1Z" fill="#798440"/>
<path d="M104.5 124.0L106.0 124.4L112.0 132.4L110.6 131.9Z" fill="#27789c"/>
<path d="M184.8 101.7L186.3 99.5L192.3 107.6L190.8 109.8Z" fill="#45b26b"/>
<path d="M116.5 133.4L118.0 133.5L124.0 141.8L122.5 141.5Z" fill="#102ddd"/>
<path d="M144.9 149.5L146.3 149.1L152.4 156.4L150.9 156.9Z" fill="#0a10ff"/>
<path d="M181.9 121.9L183.4 120.1L189.5 128.1L188.0 129.9Z" fill="#1635dd"/>
<path d="M92.6 114.0L94.1 114.5L100.1 122.5L98.6 122.0Z" fill="#5ac154"/>
<path d="M186.2 81.8L187.7 79.3L193.7 87.3L192.2 89.9Z" fill="#84763c"/>
<path d="M186.1 63.4L187.6 60.7L193.6 68.7L192.1 71.4Z" fill="#c0241d"/>
<path d="M184.5 27.6L185.9 24.8L192.0 32.8L190.5 35.5Z" fill="#b58080"/>
<path d="M128.4 142.2L129.9 142.2L136.0 150.3L134.5 150.2Z" fill="#0a1bed"/>
<path d="M143.4 149.8L144.9 149.5L150.9 156.9L149.4 157.4Z" fill="#090fff"/>
<path d="M186.0 44.2L187.5 41.3L193.5 50.5L192.1 52.9Z" fill="#cc4141"/>
<path d="M183.4 120.1L184.9 118.1L190.9 126.2L189.5 128.1Z" fill="#1941d2"/>
<path d="M186.3 99.5L187.8 97.2L193.8 105.3L192.3 107.6Z" fill="#53c35c"/>
<path d="M115.0 133.1L116.5 133.4L122.5 141.5L121.0 141.2Z" fill="#1232d8"/>
<path d="M103.0 123.5L104.5 124.0L110.6 131.9L109.1 131.3Z" fill="#328e87"/>
<path d="M80.6 102.7L82.1 103.6L88.1 112.1L86.6 111.3Z" fill="#82733b"/>
<path d="M141.9 150.0L143.4 149.8L149.4 157.4L147.9 157.7Z" fill="#0810fc"/>
<path d="M168.7 148.4L170.2 147.3L176.2 155.4L174.7 156.6Z" fill="#141dff"/>
<path d="M184.9 118.1L186.4 116.2L192.4 124.3L190.9 126.2Z" fill="#1e54c1"/>
<path d="M167.2 149.5L168.7 148.4L174.7 156.6L173.2 157.6Z" fill="#151dff"/>
<path d="M170.2 147.3L171.7 146.0L177.7 154.2L176.2 155.4Z" fill="#131eff"/>
<path d="M187.7 79.3L189.2 76.7L195.2 84.7L193.7 87.3Z" fill="#916035"/>
<path d="M91.1 113.4L92.6 114.0L98.6 122.0L97.1 121.5Z" fill="#62b24f"/>
<path d="M165.7 150.4L167.2 149.5L173.2 157.6L171.7 158.5Z" fill="#151dff"/>
<path d="M127.0 142.1L128.4 142.2L134.5 150.2L133.0 150.1Z" fill="#0b1fea"/>
<path d="M171.7 146.0L173.1 144.7L179.2 153.0L177.7 154.2Z" fill="#131fff"/>
<path d="M187.6 60.7L189.1 58.1L195.1 66.1L193.6 68.7Z" fill="#ca110e"/>
<path d="M173.1 144.7L174.6 143.4L180.6 151.7L179.2 153.0Z" fill="#1321ff"/>
<path d="M164.2 151.3L165.7 150.4L171.7 158.5L170.3 159.4Z" fill="#151cff"/>
<path d="M185.9 24.8L187.4 22.2L193.4 30.2L192.0 32.8Z" fill="#be9292"/>
<path d="M187.8 97.2L189.3 94.8L195.3 102.9L193.8 105.3Z" fill="#5fb952"/>
<path d="M174.6 143.4L176.1 142.1L182.1 150.4L180.6 151.7Z" fill="#1423ff"/>
<path d="M187.5 41.3L189.0 38.4L195.0 48.0L193.5 50.5Z" fill="#c75656"/>
<path d="M162.8 152.0L164.2 151.3L170.3 159.4L168.8 160.1Z" fill="#141aff"/>
<path d="M176.1 142.1L177.6 140.8L183.6 149.1L182.1 150.4Z" fill="#1525ff"/>
<path d="M140.4 150.1L141.9 150.0L147.9 157.7L146.4 157.9Z" fill="#0811f9"/>
<path d="M186.4 116.2L187.9 114.1L193.9 122.3L192.4 124.3Z" fill="#2468b0"/>
<path d="M113.5 132.8L115.0 133.1L121.0 141.2L119.5 140.9Z" fill="#1744c8"/>
<path d="M177.6 140.8L179.1 139.4L185.1 147.7L183.6 149.1Z" fill="#1527fe"/>
<path d="M161.3 152.7L162.8 152.0L168.8 160.1L167.3 160.7Z" fill="#1218ff"/>
<path d="M179.1 139.4L180.6 138.0L186.6 146.3L185.1 147.7Z" fill="#1529fb"/>
<path d="M101.6 123.0L103.0 123.5L109.1 131.3L107.6 130.7Z" fill="#3ca572"/>
<path d="M125.5 142.0L127.0 142.1L133.0 150.1L131.5 150.0Z" fill="#0c22e6"/>
<path d="M180.6 138.0L182.0 136.6L188.1 144.8L186.6 146.3Z" fill="#142af6"/>
<path d="M189.2 76.7L190.7 74.1L196.7 82.1L195.2 84.7Z" fill="#a14c2d"/>
<path d="M159.8 153.4L161.3 152.7L167.3 160.7L165.8 161.3Z" fill="#1016ff"/>
<path d="M138.9 150.2L140.4 150.1L146.4 157.9L145.0 158.1Z" fill="#0813f6"/>
<path d="M189.1 58.1L190.6 55.5L196.6 63.4L195.1 66.1Z" fill="#d10505"/>
<path d="M79.1 101.8L80.6 102.7L86.6 111.3L85.2 110.4Z" fill="#8a6335"/>
<path d="M189.3 94.8L190.8 92.3L196.8 100.5L195.3 102.9Z" fill="#6aa34a"/>
<path d="M89.6 112.8L91.1 113.4L97.1 121.5L95.6 121.0Z" fill="#6aa34a"/>
<path d="M187.9 114.1L189.4 112.0L195.4 120.2L193.9 122.3Z" fill="#2b7f9c"/>
<path d="M187.4 22.2L188.9 19.7L194.9 27.7L193.4 30.2Z" fill="#c8a4a4"/>
<path d="M182.0 136.6L183.5 135.0L189.5 143.2L188.1 144.8Z" fill="#142bf0"/>
<path d="M158.3 154.0L159.8 153.4L165.8 161.3L164.3 161.9Z" fill="#0f16ff"/>
<path d="M189.0 38.4L190.5 35.5L196.5 45.7L195.0 48.0Z" fill="#c26767"/>
<path d="M183.5 135.0L185.0 133.4L191.0 141.6L189.5 143.2Z" fill="#142ceb"/>
<path d="M112.0 132.4L113.5 132.8L119.5 140.9L118.1 140.4Z" fill="#1d59b5"/>
<path d="M156.8 154.6L158.3 154.0L164.3 161.9L162.8 162.4Z" fill="#0f15ff"/>
<path d="M124.0 141.8L125.5 142.0L131.5 150.0L130.0 149.9Z" fill="#0e27e2"/>
<path d="M137.4 150.2L138.9 150.2L145.0 158.1L143.5 158.2Z" fill="#0815f3"/>
<path d="M189.4 112.0L190.8 109.8L196.9 118.1L195.4 120.2Z" fill="#379885"/>
<path d="M100.1 122.5L101.6 123.0L107.6 130.7L106.1 130.1Z" fill="#48b664"/>
<path d="M185.0 133.4L186.5 131.7L192.5 139.8L191.0 141.6Z" fill="#142fe6"/>
<path d="M190.7 74.1L192.1 71.4L198.2 79.5L196.7 82.1Z" fill="#b03825"/>
<path d="M190.8 92.3L192.2 89.9L198.3 98.0L196.8 100.5Z" fill="#778d44"/>
<path d="M155.3 155.2L156.8 154.6L162.8 162.4L161.4 163.0Z" fill="#0f15ff"/>
<path d="M190.6 55.5L192.1 52.9L198.1 60.8L196.6 63.4Z" fill="#cf2121"/>
<path d="M88.1 112.1L89.6 112.8L95.6 121.0L94.1 120.4Z" fill="#729245"/>
<path d="M190.5 35.5L192.0 32.8L198.0 43.4L196.5 45.7Z" fill="#bd7979"/>
<path d="M186.5 131.7L188.0 129.9L194.0 138.0L192.5 139.8Z" fill="#1532e1"/>
<path d="M153.9 155.9L155.3 155.2L161.4 163.0L159.9 163.6Z" fill="#0f15ff"/>
<path d="M136.0 150.3L137.4 150.2L143.5 158.2L142.0 158.2Z" fill="#0918f0"/>
<path d="M77.7 100.9L79.1 101.8L85.2 110.4L83.7 109.3Z" fill="#94542f"/>
<path d="M190.8 109.8L192.3 107.6L198.4 115.9L196.9 118.1Z" fill="#43b16e"/>
<path d="M122.5 141.5L124.0 141.8L130.0 149.9L128.5 149.6Z" fill="#102bdd"/>
<path d="M110.6 131.9L112.0 132.4L118.1 140.4L116.6 139.8Z" fill="#226aa4"/>
<path d="M152.4 156.4L153.9 155.9L159.9 163.6L158.4 164.2Z" fill="#0e15ff"/>
<path d="M188.0 129.9L189.5 128.1L195.5 136.2L194.0 138.0Z" fill="#1635dd"/>
<path d="M192.2 89.9L193.7 87.3L199.7 95.5L198.3 98.0Z" fill="#83773d"/>
<path d="M98.6 122.0L100.1 122.5L106.1 130.1L104.6 129.6Z" fill="#53c359"/>
<path d="M192.1 71.4L193.6 68.7L199.7 76.8L198.2 79.5Z" fill="#c0241d"/>
<path d="M192.1 52.9L193.5 50.5L199.6 58.2L198.1 60.8Z" fill="#cd3c3c"/>
<path d="M150.9 156.9L152.4 156.4L158.4 164.2L156.9 164.7Z" fill="#0d14ff"/>
<path d="M134.5 150.2L136.0 150.3L142.0 158.2L140.5 158.2Z" fill="#0a1bee"/>
<path d="M192.3 107.6L193.8 105.3L199.8 113.7L198.4 115.9Z" fill="#51c15f"/>
<path d="M192.0 32.8L193.4 30.2L199.5 41.1L198.0 43.4Z" fill="#bd8a8a"/>
<path d="M189.5 128.1L190.9 126.2L197.0 134.3L195.5 136.2Z" fill="#1940d4"/>
<path d="M86.6 111.3L88.1 112.1L94.1 120.4L92.7 119.7Z" fill="#7a823f"/>
<path d="M121.0 141.2L122.5 141.5L128.5 149.6L127.1 149.3Z" fill="#1130d8"/>
<path d="M149.4 157.4L150.9 156.9L156.9 164.7L155.4 165.2Z" fill="#0c13ff"/>
<path d="M109.1 131.3L110.6 131.9L116.6 139.8L115.1 139.2Z" fill="#2b7f92"/>
<path d="M190.9 126.2L192.4 124.3L198.4 132.4L197.0 134.3Z" fill="#1e53c4"/>
<path d="M174.7 156.6L176.2 155.4L182.2 163.5L180.7 164.6Z" fill="#141dff"/>
<path d="M176.2 155.4L177.7 154.2L183.7 162.3L182.2 163.5Z" fill="#141eff"/>
<path d="M173.2 157.6L174.7 156.6L180.7 164.6L179.2 165.6Z" fill="#141cff"/>
<path d="M193.7 87.3L195.2 84.7L201.2 92.9L199.7 95.5Z" fill="#916136"/>
<path d="M177.7 154.2L179.2 153.0L185.2 161.2L183.7 162.3Z" fill="#141fff"/>
<path d="M76.2 99.9L77.7 100.9L83.7 109.3L82.2 108.2Z" fill="#9f4429"/>
<path d="M171.7 158.5L173.2 157.6L179.2 165.6L177.8 166.5Z" fill="#141cff"/>
<path d="M179.2 153.0L180.6 151.7L186.7 160.0L185.2 161.2Z" fill="#1522ff"/>
<path d="M193.5 50.5L195.0 48.0L201.0 55.6L199.6 58.2Z" fill="#ca5151"/>
<path d="M133.0 150.1L134.5 150.2L140.5 158.2L139.0 158.2Z" fill="#0b1eeb"/>
<path d="M147.9 157.7L149.4 157.4L155.4 165.2L153.9 165.5Z" fill="#0a13ff"/>
<path d="M180.6 151.7L182.1 150.4L188.1 158.8L186.7 160.0Z" fill="#1524ff"/>
<path d="M193.8 105.3L195.3 102.9L201.3 111.3L199.8 113.7Z" fill="#5ebc53"/>
<path d="M193.6 68.7L195.1 66.1L201.1 74.0L199.7 76.8Z" fill="#c9100e"/>
<path d="M97.1 121.5L98.6 122.0L104.6 129.6L103.1 129.1Z" fill="#5cbe53"/>
<path d="M170.3 159.4L171.7 158.5L177.8 166.5L176.3 167.4Z" fill="#141bff"/>
<path d="M193.4 30.2L194.9 27.7L201.0 38.8L199.5 41.1Z" fill="#c69a9a"/>
<path d="M182.1 150.4L183.6 149.1L189.6 157.5L188.1 158.8Z" fill="#1625ff"/>
<path d="M183.6 149.1L185.1 147.7L191.1 156.2L189.6 157.5Z" fill="#1526ff"/>
<path d="M168.8 160.1L170.3 159.4L176.3 167.4L174.8 168.2Z" fill="#1319ff"/>
<path d="M192.4 124.3L193.9 122.3L199.9 130.5L198.4 132.4Z" fill="#2467b4"/>
<path d="M185.1 147.7L186.6 146.3L192.6 154.7L191.1 156.2Z" fill="#1427fa"/>
<path d="M119.5 140.9L121.0 141.2L127.1 149.3L125.6 149.0Z" fill="#153acf"/>
<path d="M146.4 157.9L147.9 157.7L153.9 165.5L152.5 165.8Z" fill="#0913fc"/>
<path d="M167.3 160.7L168.8 160.1L174.8 168.2L173.3 168.8Z" fill="#1218ff"/>
<path d="M186.6 146.3L188.1 144.8L194.1 153.1L192.6 154.7Z" fill="#1327f4"/>
<path d="M85.2 110.4L86.6 111.3L92.7 119.7L91.2 118.8Z" fill="#81723a"/>
<path d="M131.5 150.0L133.0 150.1L139.0 158.2L137.5 158.1Z" fill="#0c22e7"/>
<path d="M195.2 84.7L196.7 82.1L202.7 90.3L201.2 92.9Z" fill="#a04d2e"/>
<path d="M195.0 48.0L196.5 45.7L202.5 53.1L201.0 55.6Z" fill="#c56161"/>
<path d="M107.6 130.7L109.1 131.3L115.1 139.2L113.6 138.6Z" fill="#35957d"/>
<path d="M195.3 102.9L196.8 100.5L202.8 108.8L201.3 111.3Z" fill="#69a64c"/>
<path d="M165.8 161.3L167.3 160.7L173.3 168.8L171.8 169.5Z" fill="#1017ff"/>
<path d="M193.9 122.3L195.4 120.2L201.4 128.6L199.9 130.5Z" fill="#2a7ca2"/>
<path d="M188.1 144.8L189.5 143.2L195.6 151.4L194.1 153.1Z" fill="#1228ed"/>
<path d="M145.0 158.1L146.4 157.9L152.5 165.8L151.0 166.0Z" fill="#0914f8"/>
<path d="M195.1 66.1L196.6 63.4L202.6 71.2L201.1 74.0Z" fill="#cf0606"/>
<path d="M95.6 121.0L97.1 121.5L103.1 129.1L101.7 128.6Z" fill="#63b14f"/>
<path d="M164.3 161.9L165.8 161.3L171.8 169.5L170.4 170.1Z" fill="#1016ff"/>
<path d="M74.7 98.8L76.2 99.9L82.2 108.2L80.7 107.0Z" fill="#aa3523"/>
<path d="M189.5 143.2L191.0 141.6L197.1 149.6L195.6 151.4Z" fill="#122ae8"/>
<path d="M118.1 140.4L119.5 140.9L125.6 149.0L124.1 148.5Z" fill="#1a4dbd"/>
<path d="M195.4 120.2L196.9 118.1L202.9 126.6L201.4 128.6Z" fill="#35938c"/>
<path d="M130.0 149.9L131.5 150.0L137.5 158.1L136.1 157.9Z" fill="#0e26e3"/>
<path d="M162.8 162.4L164.3 161.9L170.4 170.1L168.9 170.6Z" fill="#1017ff"/>
<path d="M196.5 45.7L198.0 43.4L204.0 50.7L202.5 53.1Z" fill="#c07171"/>
<path d="M143.5 158.2L145.0 158.1L151.0 166.0L149.5 166.2Z" fill="#0916f5"/>
<path d="M196.8 100.5L198.3 98.0L204.3 106.3L202.8 108.8Z" fill="#759044"/>
<path d="M196.7 82.1L198.2 79.5L204.2 87.7L202.7 90.3Z" fill="#af3a26"/>
<path d="M191.0 141.6L192.5 139.8L198.5 147.7L197.1 149.6Z" fill="#132de3"/>
<path d="M161.4 163.0L162.8 162.4L168.9 170.6L167.4 171.2Z" fill="#1017ff"/>
<path d="M106.1 130.1L107.6 130.7L113.6 138.6L112.1 137.9Z" fill="#40ab6b"/>
<path d="M83.7 109.3L85.2 110.4L91.2 118.8L89.7 117.8Z" fill="#896034"/>
<path d="M196.9 118.1L198.4 115.9L204.4 124.6L202.9 126.6Z" fill="#40ac75"/>
<path d="M196.6 63.4L198.1 60.8L204.1 68.3L202.6 71.2Z" fill="#cc2323"/>
<path d="M94.1 120.4L95.6 121.0L101.7 128.6L100.2 128.1Z" fill="#6aa24a"/>
<path d="M192.5 139.8L194.0 138.0L200.0 145.9L198.5 147.7Z" fill="#1431e0"/>
<path d="M159.9 163.6L161.4 163.0L167.4 171.2L165.9 171.8Z" fill="#1117ff"/>
<path d="M142.0 158.2L143.5 158.2L149.5 166.2L148.0 166.2Z" fill="#0918f2"/>
<path d="M128.5 149.6L130.0 149.9L136.1 157.9L134.6 157.7Z" fill="#0f2ade"/>
<path d="M198.0 43.4L199.5 41.1L205.5 48.3L204.0 50.7Z" fill="#bb8080"/>
<path d="M116.6 139.8L118.1 140.4L124.1 148.5L122.6 148.0Z" fill="#1f5dae"/>
<path d="M158.4 164.2L159.9 163.6L165.9 171.8L164.4 172.3Z" fill="#1017ff"/>
<path d="M198.3 98.0L199.7 95.5L205.8 103.8L204.3 106.3Z" fill="#827a3e"/>
<path d="M194.0 138.0L195.5 136.2L201.5 144.0L200.0 145.9Z" fill="#1635dd"/>
<path d="M198.2 79.5L199.7 76.8L205.7 85.1L204.2 87.7Z" fill="#bf261e"/>
<path d="M198.4 115.9L199.8 113.7L205.9 122.3L204.4 124.6Z" fill="#4dbd64"/>
<path d="M73.2 97.7L74.7 98.8L80.7 107.0L79.2 105.8Z" fill="#b3281e"/>
<path d="M156.9 164.7L158.4 164.2L164.4 172.3L162.9 172.8Z" fill="#0f16ff"/>
<path d="M140.5 158.2L142.0 158.2L148.0 166.2L146.5 166.2Z" fill="#0a1bef"/>
<path d="M104.6 129.6L106.1 130.1L112.1 137.9L110.7 137.3Z" fill="#4ab960"/>
<path d="M195.5 136.2L197.0 134.3L203.0 142.2L201.5 144.0Z" fill="#1941d4"/>
<path d="M198.1 60.8L199.6 58.2L205.6 65.4L204.1 68.3Z" fill="#c94141"/>
<path d="M199.5 41.1L201.0 38.8L207.0 46.0L205.5 48.3Z" fill="#bf8f8f"/>
<path d="M92.7 119.7L94.1 120.4L100.2 128.1L98.7 127.6Z" fill="#719445"/>
<path d="M127.1 149.3L128.5 149.6L134.6 157.7L133.1 157.4Z" fill="#112ed9"/>
<path d="M155.4 165.2L156.9 164.7L162.9 172.8L161.4 173.2Z" fill="#0d15ff"/>
<path d="M82.2 108.2L83.7 109.3L89.7 117.8L88.2 116.5Z" fill="#94502e"/>
<path d="M199.8 113.7L201.3 111.3L207.3 120.0L205.9 122.3Z" fill="#5ac356"/>
<path d="M199.7 95.5L201.2 92.9L207.2 101.3L205.8 103.8Z" fill="#8f6437"/>
<path d="M115.1 139.2L116.6 139.8L122.6 148.0L121.1 147.4Z" fill="#236e9f"/>
<path d="M182.2 163.5L183.7 162.3L189.7 170.4L188.2 171.5Z" fill="#141eff"/>
<path d="M183.7 162.3L185.2 161.2L191.2 169.3L189.7 170.4Z" fill="#1520ff"/>
<path d="M180.7 164.6L182.2 163.5L188.2 171.5L186.8 172.6Z" fill="#141dff"/>
<path d="M197.0 134.3L198.4 132.4L204.5 140.4L203.0 142.2Z" fill="#1e54c5"/>
<path d="M185.2 161.2L186.7 160.0L192.7 168.1L191.2 169.3Z" fill="#1521ff"/>
<path d="M179.2 165.6L180.7 164.6L186.8 172.6L185.3 173.6Z" fill="#141cff"/>
<path d="M186.7 160.0L188.1 158.8L194.2 166.9L192.7 168.1Z" fill="#1422ff"/>
<path d="M199.7 76.8L201.1 74.0L207.2 82.5L205.7 85.1Z" fill="#c91210"/>
<path d="M177.8 166.5L179.2 165.6L185.3 173.6L183.8 174.5Z" fill="#141cff"/>
<path d="M139.0 158.2L140.5 158.2L146.5 166.2L145.0 166.2Z" fill="#0b1eec"/>
<path d="M188.1 158.8L189.6 157.5L195.7 165.6L194.2 166.9Z" fill="#1423ff"/>
<path d="M153.9 165.5L155.4 165.2L161.4 173.2L160.0 173.6Z" fill="#0b14ff"/>
<path d="M176.3 167.4L177.8 166.5L183.8 174.5L182.3 175.4Z" fill="#141bff"/>
<path d="M189.6 157.5L191.1 156.2L197.1 164.1L195.7 165.6Z" fill="#1223fb"/>
<path d="M174.8 168.2L176.3 167.4L182.3 175.4L180.8 176.3Z" fill="#141aff"/>
<path d="M198.4 132.4L199.9 130.5L205.9 138.5L204.5 140.4Z" fill="#2466b6"/>
<path d="M103.1 129.1L104.6 129.6L110.7 137.3L109.2 136.7Z" fill="#54c558"/>
<path d="M191.1 156.2L192.6 154.7L198.6 162.5L197.1 164.1Z" fill="#1023f4"/>
<path d="M125.6 149.0L127.1 149.3L133.1 157.4L131.6 157.0Z" fill="#1233d4"/>
<path d="M199.6 58.2L201.0 55.6L207.1 62.5L205.6 65.4Z" fill="#c45555"/>
<path d="M71.7 96.5L73.2 97.7L79.2 105.8L77.7 104.5Z" fill="#bc1d19"/>
<path d="M173.3 168.8L174.8 168.2L180.8 176.3L179.3 177.0Z" fill="#1319ff"/>
<path d="M201.3 111.3L202.8 108.8L208.8 117.5L207.3 120.0Z" fill="#65ac4e"/>
<path d="M152.5 165.8L153.9 165.5L160.0 173.6L158.5 173.8Z" fill="#0a14fd"/>
<path d="M91.2 118.8L92.7 119.7L98.7 127.6L97.2 126.8Z" fill="#778540"/>
<path d="M201.2 92.9L202.7 90.3L208.7 98.8L207.2 101.3Z" fill="#9e512f"/>
<path d="M192.6 154.7L194.1 153.1L200.1 160.8L198.6 162.5Z" fill="#0f23ed"/>
<path d="M137.5 158.1L139.0 158.2L145.0 166.2L143.6 166.1Z" fill="#0c22e8"/>
<path d="M171.8 169.5L173.3 168.8L179.3 177.0L177.9 177.7Z" fill="#1218ff"/>
<path d="M199.9 130.5L201.4 128.6L207.4 136.6L205.9 138.5Z" fill="#297aa6"/>
<path d="M113.6 138.6L115.1 139.2L121.1 147.4L119.6 146.7Z" fill="#2d838c"/>
<path d="M201.1 74.0L202.6 71.2L208.6 79.9L207.2 82.5Z" fill="#d00303"/>
<path d="M194.1 153.1L195.6 151.4L201.6 158.9L200.1 160.8Z" fill="#0f26e7"/>
<path d="M170.4 170.1L171.8 169.5L177.9 177.7L176.4 178.4Z" fill="#1217ff"/>
<path d="M151.0 166.0L152.5 165.8L158.5 173.8L157.0 174.0Z" fill="#0915f9"/>
<path d="M80.7 107.0L82.2 108.2L88.2 116.5L86.7 115.2Z" fill="#9f4027"/>
<path d="M201.4 128.6L202.9 126.6L208.9 134.7L207.4 136.6Z" fill="#339091"/>
<path d="M101.7 128.6L103.1 129.1L109.2 136.7L107.7 136.3Z" fill="#5cbe53"/>
<path d="M124.1 148.5L125.6 149.0L131.6 157.0L130.1 156.5Z" fill="#1744c4"/>
<path d="M168.9 170.6L170.4 170.1L176.4 178.4L174.9 179.0Z" fill="#1117ff"/>
<path d="M202.8 108.8L204.3 106.3L210.3 114.9L208.8 117.5Z" fill="#719546"/>
<path d="M201.0 55.6L202.5 53.1L208.6 59.5L207.1 62.5Z" fill="#bd6767"/>
<path d="M195.6 151.4L197.1 149.6L203.1 157.0L201.6 158.9Z" fill="#1029e3"/>
<path d="M136.1 157.9L137.5 158.1L143.6 166.1L142.1 166.0Z" fill="#0e26e4"/>
<path d="M202.7 90.3L204.2 87.7L210.2 96.3L208.7 98.8Z" fill="#ae3e28"/>
<path d="M149.5 166.2L151.0 166.0L157.0 174.0L155.5 174.2Z" fill="#0916f6"/>
<path d="M167.4 171.2L168.9 170.6L174.9 179.0L173.4 179.5Z" fill="#1117ff"/>
<path d="M202.9 126.6L204.4 124.6L210.4 132.6L208.9 134.7Z" fill="#3ea77a"/>
<path d="M89.7 117.8L91.2 118.8L97.2 126.8L95.7 125.9Z" fill="#7e743a"/>
<path d="M70.2 95.3L71.7 96.5L77.7 104.5L76.3 103.2Z" fill="#c0110f"/>
<path d="M202.6 71.2L204.1 68.3L210.1 77.3L208.6 79.9Z" fill="#cd2020"/>
<path d="M112.1 137.9L113.6 138.6L119.6 146.7L118.2 146.1Z" fill="#37987a"/>
<path d="M197.1 149.6L198.5 147.7L204.6 155.2L203.1 157.0Z" fill="#122de0"/>
<path d="M165.9 171.8L167.4 171.2L173.4 179.5L171.9 180.1Z" fill="#1016ff"/>
<path d="M204.3 106.3L205.8 103.8L211.8 112.4L210.3 114.9Z" fill="#7f7f3f"/>
<path d="M134.6 157.7L136.1 157.9L142.1 166.0L140.6 165.8Z" fill="#0f29df"/>
<path d="M148.0 166.2L149.5 166.2L155.5 174.2L154.0 174.3Z" fill="#0a19f2"/>
<path d="M100.2 128.1L101.7 128.6L107.7 136.3L106.2 135.8Z" fill="#63b24f"/>
<path d="M122.6 148.0L124.1 148.5L130.1 156.5L128.6 156.0Z" fill="#1b52b6"/>
<path d="M202.5 53.1L204.0 50.7L210.0 56.7L208.6 59.5Z" fill="#b87878"/>
<path d="M198.5 147.7L200.0 145.9L206.0 153.3L204.6 155.2Z" fill="#1431de"/>
<path d="M204.2 87.7L205.7 85.1L211.7 93.8L210.2 96.3Z" fill="#bd2b20"/>
<path d="M164.4 172.3L165.9 171.8L171.9 180.1L170.4 180.5Z" fill="#0f15ff"/>
<path d="M204.4 124.6L205.9 122.3L211.9 130.4L210.4 132.6Z" fill="#4ab967"/>
<path d="M79.2 105.8L80.7 107.0L86.7 115.2L85.2 113.8Z" fill="#a93322"/>
<path d="M162.9 172.8L164.4 172.3L170.4 180.5L169.0 181.0Z" fill="#0d14ff"/>
<path d="M200.0 145.9L201.5 144.0L207.5 151.5L206.0 153.3Z" fill="#1636dc"/>
<path d="M204.1 68.3L205.6 65.4L211.6 74.7L210.1 77.3Z" fill="#cb3e3e"/>
<path d="M146.5 166.2L148.0 166.2L154.0 174.3L152.6 174.3Z" fill="#0a1cf0"/>
<path d="M110.7 137.3L112.1 137.9L118.2 146.1L116.7 145.4Z" fill="#40ac6b"/>
<path d="M133.1 157.4L134.6 157.7L140.6 165.8L139.1 165.5Z" fill="#102dda"/>
<path d="M205.8 103.8L207.2 101.3L213.3 109.9L211.8 112.4Z" fill="#8c6a39"/>
<path d="M205.9 122.3L207.3 120.0L213.4 128.1L211.9 130.4Z" fill="#57c857"/>
<path d="M88.2 116.5L89.7 117.8L95.7 125.9L94.2 124.7Z" fill="#866234"/>
<path d="M161.4 173.2L162.9 172.8L169.0 181.0L167.5 181.3Z" fill="#0c14ff"/>
<path d="M201.5 144.0L203.0 142.2L209.0 149.8L207.5 151.5Z" fill="#1a45d1"/>
<path d="M205.7 85.1L207.2 82.5L213.2 91.4L211.7 93.8Z" fill="#c91915"/>
<path d="M204.0 50.7L205.5 48.3L211.5 54.0L210.0 56.7Z" fill="#ba8989"/>
<path d="M98.7 127.6L100.2 128.1L106.2 135.8L104.7 135.3Z" fill="#68a64b"/>
<path d="M68.8 94.1L70.2 95.3L76.3 103.2L74.8 101.9Z" fill="#c50605"/>
<path d="M121.1 147.4L122.6 148.0L128.6 156.0L127.2 155.3Z" fill="#2062a8"/>
<path d="M188.2 171.5L189.7 170.4L195.8 178.5L194.3 179.6Z" fill="#141eff"/>
<path d="M189.7 170.4L191.2 169.3L197.2 177.3L195.8 178.5Z" fill="#141fff"/>
<path d="M186.8 172.6L188.2 171.5L194.3 179.6L192.8 180.6Z" fill="#141dff"/>
<path d="M191.2 169.3L192.7 168.1L198.7 176.0L197.2 177.3Z" fill="#131fff"/>
<path d="M185.3 173.6L186.8 172.6L192.8 180.6L191.3 181.6Z" fill="#151dff"/>
<path d="M192.7 168.1L194.2 166.9L200.2 174.7L198.7 176.0Z" fill="#1220ff"/>
<path d="M145.0 166.2L146.5 166.2L152.6 174.3L151.1 174.3Z" fill="#0b1fed"/>
<path d="M183.8 174.5L185.3 173.6L191.3 181.6L189.8 182.6Z" fill="#151cff"/>
<path d="M203.0 142.2L204.5 140.4L210.5 148.0L209.0 149.8Z" fill="#2057c3"/>
<path d="M160.0 173.6L161.4 173.2L167.5 181.3L166.0 181.6Z" fill="#0a13ff"/>
<path d="M194.2 166.9L195.7 165.6L201.7 173.2L200.2 174.7Z" fill="#1020fa"/>
<path d="M182.3 175.4L183.8 174.5L189.8 182.6L188.3 183.5Z" fill="#141bff"/>
<path d="M180.8 176.3L182.3 175.4L188.3 183.5L186.8 184.3Z" fill="#141aff"/>
<path d="M205.6 65.4L207.1 62.5L213.1 72.1L211.6 74.7Z" fill="#c65454"/>
<path d="M195.7 165.6L197.1 164.1L203.2 171.6L201.7 173.2Z" fill="#0f20f4"/>
<path d="M207.3 120.0L208.8 117.5L214.9 125.6L213.4 128.1Z" fill="#62b14f"/>
<path d="M207.2 101.3L208.7 98.8L214.8 107.4L213.3 109.9Z" fill="#9b5632"/>
<path d="M131.6 157.0L133.1 157.4L139.1 165.5L137.6 165.1Z" fill="#1231d4"/>
<path d="M109.2 136.7L110.7 137.3L116.7 145.4L115.2 144.8Z" fill="#49b762"/>
<path d="M205.5 48.3L207.0 46.0L213.0 51.6L211.5 54.0Z" fill="#c29a9a"/>
<path d="M207.2 82.5L208.6 79.9L214.7 89.0L213.2 91.4Z" fill="#d10707"/>
<path d="M204.5 140.4L205.9 138.5L212.0 146.1L210.5 148.0Z" fill="#256ab3"/>
<path d="M179.3 177.0L180.8 176.3L186.8 184.3L185.4 185.1Z" fill="#1319ff"/>
<path d="M77.7 104.5L79.2 105.8L85.2 113.8L83.8 112.4Z" fill="#b3261d"/>
<path d="M158.5 173.8L160.0 173.6L166.0 181.6L164.5 181.9Z" fill="#0a14fc"/>
<path d="M197.1 164.1L198.6 162.5L204.7 169.9L203.2 171.6Z" fill="#0e21ee"/>
<path d="M143.6 166.1L145.0 166.2L151.1 174.3L149.6 174.4Z" fill="#0c22ea"/>
<path d="M177.9 177.7L179.3 177.0L185.4 185.1L183.9 185.8Z" fill="#1218ff"/>
<path d="M97.2 126.8L98.7 127.6L104.7 135.3L103.2 134.7Z" fill="#6d9846"/>
<path d="M119.6 146.7L121.1 147.4L127.2 155.3L125.7 154.7Z" fill="#267499"/>
<path d="M205.9 138.5L207.4 136.6L213.5 144.2L212.0 146.1Z" fill="#2b7da2"/>
<path d="M176.4 178.4L177.9 177.7L183.9 185.8L182.4 186.5Z" fill="#1117ff"/>
<path d="M198.6 162.5L200.1 160.8L206.1 168.1L204.7 169.9Z" fill="#0e23e9"/>
<path d="M86.7 115.2L88.2 116.5L94.2 124.7L92.8 123.4Z" fill="#90522e"/>
<path d="M157.0 174.0L158.5 173.8L164.5 181.9L163.0 182.1Z" fill="#0914f9"/>
<path d="M208.8 117.5L210.3 114.9L216.3 123.2L214.9 125.6Z" fill="#6e9a47"/>
<path d="M67.3 92.9L68.8 94.1L74.8 101.9L73.3 100.6Z" fill="#c70303"/>
<path d="M208.7 98.8L210.2 96.3L216.2 105.0L214.8 107.4Z" fill="#aa442a"/>
<path d="M174.9 179.0L176.4 178.4L182.4 186.5L180.9 187.1Z" fill="#1016ff"/>
<path d="M208.6 79.9L210.1 77.3L216.2 86.7L214.7 89.0Z" fill="#d31212"/>
<path d="M207.1 62.5L208.6 59.5L214.6 69.5L213.1 72.1Z" fill="#c06666"/>
<path d="M130.1 156.5L131.6 157.0L137.6 165.1L136.1 164.5Z" fill="#163ec8"/>
<path d="M200.1 160.8L201.6 158.9L207.6 166.3L206.1 168.1Z" fill="#0f27e4"/>
<path d="M142.1 166.0L143.6 166.1L149.6 174.4L148.1 174.3Z" fill="#0e26e7"/>
<path d="M207.4 136.6L208.9 134.7L214.9 142.2L213.5 144.2Z" fill="#35938c"/>
<path d="M107.7 136.3L109.2 136.7L115.2 144.8L113.7 144.2Z" fill="#52c35a"/>
<path d="M173.4 179.5L174.9 179.0L180.9 187.1L179.4 187.7Z" fill="#0f15ff"/>
<path d="M155.5 174.2L157.0 174.0L163.0 182.1L161.5 182.2Z" fill="#0916f6"/>
<path d="M201.6 158.9L203.1 157.0L209.1 164.5L207.6 166.3Z" fill="#112be1"/>
<path d="M95.7 125.9L97.2 126.8L103.2 134.7L101.8 133.8Z" fill="#728941"/>
<path d="M118.2 146.1L119.6 146.7L125.7 154.7L124.2 154.0Z" fill="#2f8789"/>
<path d="M171.9 180.1L173.4 179.5L179.4 187.7L177.9 188.2Z" fill="#0e14ff"/>
<path d="M210.2 96.3L211.7 93.8L217.7 102.6L216.2 105.0Z" fill="#b93223"/>
<path d="M76.3 103.2L77.7 104.5L83.8 112.4L82.3 111.0Z" fill="#bb1915"/>
<path d="M208.9 134.7L210.4 132.6L216.4 140.1L214.9 142.2Z" fill="#3faa76"/>
<path d="M210.3 114.9L211.8 112.4L217.8 120.7L216.3 123.2Z" fill="#7c8541"/>
<path d="M210.1 77.3L211.6 74.7L217.6 84.5L216.2 86.7Z" fill="#d22c2c"/>
<path d="M140.6 165.8L142.1 166.0L148.1 174.3L146.6 174.2Z" fill="#0f29e2"/>
<path d="M203.1 157.0L204.6 155.2L210.6 162.7L209.1 164.5Z" fill="#132fe0"/>
<path d="M208.6 59.5L210.0 56.7L216.1 67.0L214.6 69.5Z" fill="#bb7979"/>
<path d="M154.0 174.3L155.5 174.2L161.5 182.2L160.1 182.3Z" fill="#0a19f3"/>
<path d="M170.4 180.5L171.9 180.1L177.9 188.2L176.5 188.6Z" fill="#0d13ff"/>
<path d="M128.6 156.0L130.1 156.5L136.1 164.5L134.7 163.9Z" fill="#1a4cb9"/>
<path d="M106.2 135.8L107.7 136.3L113.7 144.2L112.2 143.6Z" fill="#5ac154"/>
<path d="M85.2 113.8L86.7 115.2L92.8 123.4L91.3 122.0Z" fill="#9a4328"/>
<path d="M65.8 91.6L67.3 92.9L73.3 100.6L71.8 99.4Z" fill="#c60909"/>
<path d="M210.4 132.6L211.9 130.4L217.9 137.8L216.4 140.1Z" fill="#4bbb64"/>
<path d="M204.6 155.2L206.0 153.3L212.1 161.0L210.6 162.7Z" fill="#1534df"/>
<path d="M169.0 181.0L170.4 180.5L176.5 188.6L175.0 189.0Z" fill="#0b12ff"/>
<path d="M211.7 93.8L213.2 91.4L219.2 100.2L217.7 102.6Z" fill="#c8211c"/>
<path d="M211.8 112.4L213.3 109.9L219.3 118.3L217.8 120.7Z" fill="#8a703b"/>
<path d="M211.6 74.7L213.1 72.1L219.1 82.4L217.6 84.5Z" fill="#d14646"/>
<path d="M152.6 174.3L154.0 174.3L160.1 182.3L158.6 182.4Z" fill="#0b1cf1"/>
<path d="M139.1 165.5L140.6 165.8L146.6 174.2L145.1 174.0Z" fill="#102cdc"/>
<path d="M116.7 145.4L118.2 146.1L124.2 154.0L122.7 153.4Z" fill="#37997a"/>
<path d="M206.0 153.3L207.5 151.5L213.6 159.3L212.1 161.0Z" fill="#183add"/>
<path d="M167.5 181.3L169.0 181.0L175.0 189.0L173.5 189.4Z" fill="#0a12ff"/>
<path d="M94.2 124.7L95.7 125.9L101.8 133.8L100.3 132.7Z" fill="#79773b"/>
<path d="M210.0 56.7L211.5 54.0L217.5 64.5L216.1 67.0Z" fill="#bc8b8b"/>
<path d="M211.9 130.4L213.4 128.1L219.4 135.5L217.9 137.8Z" fill="#59c556"/>
<path d="M127.2 155.3L128.6 156.0L134.7 163.9L133.2 163.1Z" fill="#1e5cab"/>
<path d="M207.5 151.5L209.0 149.8L215.0 157.6L213.6 159.3Z" fill="#1d4ccf"/>
<path d="M104.7 135.3L106.2 135.8L112.2 143.6L110.7 143.0Z" fill="#5fb650"/>
<path d="M194.3 179.6L195.8 178.5L201.8 186.5L200.3 187.6Z" fill="#141eff"/>
<path d="M74.8 101.9L76.3 103.2L82.3 111.0L80.8 109.7Z" fill="#c10d0b"/>
<path d="M195.8 178.5L197.2 177.3L203.3 185.3L201.8 186.5Z" fill="#131eff"/>
<path d="M192.8 180.6L194.3 179.6L200.3 187.6L198.8 188.7Z" fill="#151dff"/>
<path d="M191.3 181.6L192.8 180.6L198.8 188.7L197.3 189.6Z" fill="#151dff"/>
<path d="M213.2 91.4L214.7 89.0L220.7 97.8L219.2 100.2Z" fill="#d0100e"/>
<path d="M197.2 177.3L198.7 176.0L204.7 184.0L203.3 185.3Z" fill="#121fff"/>
<path d="M151.1 174.3L152.6 174.3L158.6 182.4L157.1 182.4Z" fill="#0b1fef"/>
<path d="M213.1 72.1L214.6 69.5L220.6 80.3L219.1 82.4Z" fill="#cd5757"/>
<path d="M189.8 182.6L191.3 181.6L197.3 189.6L195.8 190.6Z" fill="#151cff"/>
<path d="M213.3 109.9L214.8 107.4L220.8 116.0L219.3 118.3Z" fill="#985d35"/>
<path d="M166.0 181.6L167.5 181.3L173.5 189.4L172.0 189.7Z" fill="#0a12ff"/>
<path d="M198.7 176.0L200.2 174.7L206.2 182.6L204.7 184.0Z" fill="#111ffd"/>
<path d="M188.3 183.5L189.8 182.6L195.8 190.6L194.4 191.5Z" fill="#141bff"/>
<path d="M137.6 165.1L139.1 165.5L145.1 174.0L143.6 173.6Z" fill="#1130d6"/>
<path d="M209.0 149.8L210.5 148.0L216.5 155.8L215.0 157.6Z" fill="#215dc0"/>
<path d="M200.2 174.7L201.7 173.2L207.7 181.1L206.2 182.6Z" fill="#101ff7"/>
<path d="M186.8 184.3L188.3 183.5L194.4 191.5L192.9 192.3Z" fill="#141aff"/>
<path d="M211.5 54.0L213.0 51.6L219.0 62.2L217.5 64.5Z" fill="#c69d9d"/>
<path d="M115.2 144.8L116.7 145.4L122.7 153.4L121.2 152.8Z" fill="#3faa6c"/>
<path d="M64.3 90.4L65.8 91.6L71.8 99.4L70.3 98.1Z" fill="#c60f0f"/>
<path d="M213.4 128.1L214.9 125.6L220.9 133.2L219.4 135.5Z" fill="#64af4e"/>
<path d="M185.4 185.1L186.8 184.3L192.9 192.3L191.4 193.1Z" fill="#1319ff"/>
<path d="M83.8 112.4L85.2 113.8L91.3 122.0L89.8 120.5Z" fill="#a53623"/>
<path d="M201.7 173.2L203.2 171.6L209.2 179.4L207.7 181.1Z" fill="#0f20f2"/>
<path d="M164.5 181.9L166.0 181.6L172.0 189.7L170.5 189.9Z" fill="#0913fb"/>
<path d="M149.6 174.4L151.1 174.3L157.1 182.4L155.6 182.5Z" fill="#0d22ed"/>
<path d="M210.5 148.0L212.0 146.1L218.0 153.9L216.5 155.8Z" fill="#266eb0"/>
<path d="M183.9 185.8L185.4 185.1L191.4 193.1L189.9 193.8Z" fill="#1217ff"/>
<path d="M214.7 89.0L216.2 86.7L222.2 95.4L220.7 97.8Z" fill="#d60404"/>
<path d="M214.6 69.5L216.1 67.0L222.1 78.2L220.6 80.3Z" fill="#c86767"/>
<path d="M214.8 107.4L216.2 105.0L222.3 113.8L220.8 116.0Z" fill="#a74c2e"/>
<path d="M203.2 171.6L204.7 169.9L210.7 177.8L209.2 179.4Z" fill="#0f23ee"/>
<path d="M103.2 134.7L104.7 135.3L110.7 143.0L109.3 142.3Z" fill="#63a94c"/>
<path d="M125.7 154.7L127.2 155.3L133.2 163.1L131.7 162.4Z" fill="#236d9d"/>
<path d="M182.4 186.5L183.9 185.8L189.9 193.8L188.4 194.5Z" fill="#1116ff"/>
<path d="M92.8 123.4L94.2 124.7L100.3 132.7L98.8 131.3Z" fill="#816635"/>
<path d="M163.0 182.1L164.5 181.9L170.5 189.9L169.1 190.1Z" fill="#0914f8"/>
<path d="M212.0 146.1L213.5 144.2L219.5 152.0L218.0 153.9Z" fill="#2d829d"/>
<path d="M136.1 164.5L137.6 165.1L143.6 173.6L142.2 173.1Z" fill="#1437cc"/>
<path d="M180.9 187.1L182.4 186.5L188.4 194.5L186.9 195.1Z" fill="#1015ff"/>
<path d="M204.7 169.9L206.1 168.1L212.2 176.0L210.7 177.8Z" fill="#1026ea"/>
<path d="M214.9 125.6L216.3 123.2L222.4 130.8L220.9 133.2Z" fill="#6f9947"/>
<path d="M148.1 174.3L149.6 174.4L155.6 182.5L154.1 182.5Z" fill="#0e26ea"/>
<path d="M73.3 100.6L74.8 101.9L80.8 109.7L79.3 108.4Z" fill="#c50504"/>
<path d="M216.2 86.7L217.6 84.5L223.7 93.0L222.2 95.4Z" fill="#d41c1c"/>
<path d="M216.1 67.0L217.5 64.5L223.6 76.0L222.1 78.2Z" fill="#c37676"/>
<path d="M113.7 144.2L115.2 144.8L121.2 152.8L119.7 152.1Z" fill="#47b563"/>
<path d="M216.2 105.0L217.7 102.6L223.8 111.6L222.3 113.8Z" fill="#b53c27"/>
<path d="M179.4 187.7L180.9 187.1L186.9 195.1L185.5 195.7Z" fill="#0f14ff"/>
<path d="M206.1 168.1L207.6 166.3L213.6 174.3L212.2 176.0Z" fill="#1129e7"/>
<path d="M213.5 144.2L214.9 142.2L221.0 149.9L219.5 152.0Z" fill="#379986"/>
<path d="M161.5 182.2L163.0 182.1L169.1 190.1L167.6 190.2Z" fill="#0916f5"/>
<path d="M62.8 89.1L64.3 90.4L70.3 98.1L68.8 96.9Z" fill="#c51515"/>
<path d="M177.9 188.2L179.4 187.7L185.5 195.7L184.0 196.2Z" fill="#0d13ff"/>
<path d="M146.6 174.2L148.1 174.3L154.1 182.5L152.6 182.5Z" fill="#0f29e6"/>
<path d="M124.2 154.0L125.7 154.7L131.7 162.4L130.2 161.7Z" fill="#2b808e"/>
<path d="M207.6 166.3L209.1 164.5L215.1 172.6L213.6 174.3Z" fill="#132ee5"/>
<path d="M82.3 111.0L83.8 112.4L89.8 120.5L88.3 119.1Z" fill="#b0291e"/>
<path d="M216.3 123.2L217.8 120.7L223.8 128.5L222.4 130.8Z" fill="#7c8541"/>
<path d="M101.8 133.8L103.2 134.7L109.3 142.3L107.8 141.3Z" fill="#689a46"/>
<path d="M217.6 84.5L219.1 82.4L225.1 90.5L223.7 93.0Z" fill="#d23434"/>
<path d="M217.5 64.5L219.0 62.2L225.1 73.7L223.6 76.0Z" fill="#be8585"/>
<path d="M217.7 102.6L219.2 100.2L225.2 109.3L223.8 111.6Z" fill="#c22a20"/>
<path d="M134.7 163.9L136.1 164.5L142.2 173.1L140.7 172.3Z" fill="#1847bc"/>
<path d="M214.9 142.2L216.4 140.1L222.5 147.8L221.0 149.9Z" fill="#42b06f"/>
<path d="M176.5 188.6L177.9 188.2L184.0 196.2L182.5 196.7Z" fill="#0c12ff"/>
<path d="M160.1 182.3L161.5 182.2L167.6 190.2L166.1 190.3Z" fill="#0a19f3"/>
<path d="M209.1 164.5L210.6 162.7L216.6 170.9L215.1 172.6Z" fill="#1532e4"/>
<path d="M112.2 143.6L113.7 144.2L119.7 152.1L118.2 151.5Z" fill="#50be5b"/>
<path d="M91.3 122.0L92.8 123.4L98.8 131.3L97.3 129.8Z" fill="#8a5630"/>
<path d="M175.0 189.0L176.5 188.6L182.5 196.7L181.0 197.1Z" fill="#0b11ff"/>
<path d="M145.1 174.0L146.6 174.2L152.6 182.5L151.2 182.4Z" fill="#102ce0"/>
<path d="M71.8 99.4L73.3 100.6L79.3 108.4L77.8 107.2Z" fill="#c70000"/>
<path d="M210.6 162.7L212.1 161.0L218.1 169.2L216.6 170.9Z" fill="#1737e2"/>
<path d="M217.8 120.7L219.3 118.3L225.3 126.3L223.8 128.5Z" fill="#8a723c"/>
<path d="M219.1 82.4L220.6 80.3L226.6 88.1L225.1 90.5Z" fill="#d04b4b"/>
<path d="M216.4 140.1L217.9 137.8L223.9 145.5L222.5 147.8Z" fill="#50c060"/>
<path d="M158.6 182.4L160.1 182.3L166.1 190.3L164.6 190.3Z" fill="#0a1cf1"/>
<path d="M219.2 100.2L220.7 97.8L226.7 106.8L225.2 109.3Z" fill="#cb1916"/>
<path d="M122.7 153.4L124.2 154.0L130.2 161.7L128.7 161.2Z" fill="#339281"/>
<path d="M212.1 161.0L213.6 159.3L219.6 167.5L218.1 169.2Z" fill="#193cde"/>
<path d="M173.5 189.4L175.0 189.0L181.0 197.1L179.5 197.4Z" fill="#0a11ff"/>
<path d="M61.3 87.7L62.8 89.1L68.8 96.9L67.4 95.6Z" fill="#c41c1c"/>
<path d="M133.2 163.1L134.7 163.9L140.7 172.3L139.2 171.5Z" fill="#1d58ad"/>
<path d="M100.3 132.7L101.8 133.8L107.8 141.3L106.3 140.2Z" fill="#6e8940"/>
<path d="M200.3 187.6L201.8 186.5L207.8 194.5L206.3 195.6Z" fill="#141eff"/>
<path d="M198.8 188.7L200.3 187.6L206.3 195.6L204.8 196.7Z" fill="#141dff"/>
<path d="M201.8 186.5L203.3 185.3L209.3 193.3L207.8 194.5Z" fill="#131eff"/>
<path d="M219.3 118.3L220.8 116.0L226.8 124.1L225.3 126.3Z" fill="#976136"/>
<path d="M213.6 159.3L215.0 157.6L221.1 165.7L219.6 167.5Z" fill="#1e4dd0"/>
<path d="M197.3 189.6L198.8 188.7L204.8 196.7L203.3 197.7Z" fill="#151cff"/>
<path d="M80.8 109.7L82.3 111.0L88.3 119.1L86.8 117.7Z" fill="#ba1c18"/>
<path d="M143.6 173.6L145.1 174.0L151.2 182.4L149.7 182.1Z" fill="#112fd9"/>
<path d="M203.3 185.3L204.7 184.0L210.8 192.0L209.3 193.3Z" fill="#121eff"/>
<path d="M220.6 80.3L222.1 78.2L228.1 85.7L226.6 88.1Z" fill="#ca5959"/>
<path d="M157.1 182.4L158.6 182.4L164.6 190.3L163.1 190.3Z" fill="#0b1fef"/>
<path d="M217.9 137.8L219.4 135.5L225.4 143.2L223.9 145.5Z" fill="#5cc054"/>
<path d="M110.7 143.0L112.2 143.6L118.2 151.5L116.8 150.7Z" fill="#56c154"/>
<path d="M195.8 190.6L197.3 189.6L203.3 197.7L201.9 198.7Z" fill="#151cff"/>
<path d="M172.0 189.7L173.5 189.4L179.5 197.4L178.0 197.7Z" fill="#0912fe"/>
<path d="M204.7 184.0L206.2 182.6L212.2 190.6L210.8 192.0Z" fill="#111ffd"/>
<path d="M194.4 191.5L195.8 190.6L201.9 198.7L200.4 199.6Z" fill="#151bff"/>
<path d="M220.7 97.8L222.2 95.4L228.2 104.3L226.7 106.8Z" fill="#d10807"/>
<path d="M192.9 192.3L194.4 191.5L200.4 199.6L198.9 200.4Z" fill="#141aff"/>
<path d="M215.0 157.6L216.5 155.8L222.5 163.9L221.1 165.7Z" fill="#225ec0"/>
<path d="M206.2 182.6L207.7 181.1L213.7 189.2L212.2 190.6Z" fill="#101ff8"/>
<path d="M191.4 193.1L192.9 192.3L198.9 200.4L197.4 201.2Z" fill="#1319ff"/>
<path d="M121.2 152.8L122.7 153.4L128.7 161.2L127.2 160.7Z" fill="#3ba274"/>
<path d="M89.8 120.5L91.3 122.0L97.3 129.8L95.8 128.2Z" fill="#95482a"/>
<path d="M220.8 116.0L222.3 113.8L228.3 122.0L226.8 124.1Z" fill="#a55230"/>
<path d="M207.7 181.1L209.2 179.4L215.2 187.6L213.7 189.2Z" fill="#0f21f3"/>
<path d="M170.5 189.9L172.0 189.7L178.0 197.7L176.6 197.9Z" fill="#0913fb"/>
<path d="M70.3 98.1L71.8 99.4L77.8 107.2L76.3 106.0Z" fill="#c70606"/>
<path d="M155.6 182.5L157.1 182.4L163.1 190.3L161.6 190.3Z" fill="#0d22ec"/>
<path d="M222.1 78.2L223.6 76.0L229.6 83.3L228.1 85.7Z" fill="#c56767"/>
<path d="M189.9 193.8L191.4 193.1L197.4 201.2L195.9 201.9Z" fill="#1217ff"/>
<path d="M216.5 155.8L218.0 153.9L224.0 162.0L222.5 163.9Z" fill="#266faf"/>
<path d="M219.4 135.5L220.9 133.2L226.9 140.9L225.4 143.2Z" fill="#67ab4d"/>
<path d="M142.2 173.1L143.6 173.6L149.7 182.1L148.2 181.7Z" fill="#1232d2"/>
<path d="M209.2 179.4L210.7 177.8L216.7 185.9L215.2 187.6Z" fill="#1023ef"/>
<path d="M131.7 162.4L133.2 163.1L139.2 171.5L137.7 170.7Z" fill="#226a9f"/>
<path d="M188.4 194.5L189.9 193.8L195.9 201.9L194.5 202.6Z" fill="#1116ff"/>
<path d="M222.2 95.4L223.7 93.0L229.7 101.7L228.2 104.3Z" fill="#d21212"/>
<path d="M169.1 190.1L170.5 189.9L176.6 197.9L175.1 198.1Z" fill="#0914f8"/>
<path d="M109.3 142.3L110.7 143.0L116.8 150.7L115.3 149.9Z" fill="#5bb44f"/>
<path d="M222.3 113.8L223.8 111.6L229.8 119.8L228.3 122.0Z" fill="#b1422a"/>
<path d="M218.0 153.9L219.5 152.0L225.5 160.0L224.0 162.0Z" fill="#2e839c"/>
<path d="M98.8 131.3L100.3 132.7L106.3 140.2L104.8 138.8Z" fill="#76783b"/>
<path d="M186.9 195.1L188.4 194.5L194.5 202.6L193.0 203.2Z" fill="#1015ff"/>
<path d="M210.7 177.8L212.2 176.0L218.2 184.1L216.7 185.9Z" fill="#1026eb"/>
<path d="M59.9 86.3L61.3 87.7L67.4 95.6L65.9 94.3Z" fill="#c32020"/>
<path d="M154.1 182.5L155.6 182.5L161.6 190.3L160.2 190.3Z" fill="#0e25e9"/>
<path d="M223.6 76.0L225.1 73.7L231.1 80.9L229.6 83.3Z" fill="#bf7676"/>
<path d="M79.3 108.4L80.8 109.7L86.8 117.7L85.3 116.4Z" fill="#bf1310"/>
<path d="M220.9 133.2L222.4 130.8L228.4 138.5L226.9 140.9Z" fill="#739646"/>
<path d="M119.7 152.1L121.2 152.8L127.2 160.7L125.8 160.2Z" fill="#42af6a"/>
<path d="M185.5 195.7L186.9 195.1L193.0 203.2L191.5 203.7Z" fill="#0e13ff"/>
<path d="M212.2 176.0L213.6 174.3L219.7 182.4L218.2 184.1Z" fill="#122ae7"/>
<path d="M167.6 190.2L169.1 190.1L175.1 198.1L173.6 198.2Z" fill="#0916f5"/>
<path d="M219.5 152.0L221.0 149.9L227.0 158.0L225.5 160.0Z" fill="#389a85"/>
<path d="M223.8 111.6L225.2 109.3L231.3 117.6L229.8 119.8Z" fill="#be3123"/>
<path d="M184.0 196.2L185.5 195.7L191.5 203.7L190.0 204.2Z" fill="#0d12ff"/>
<path d="M140.7 172.3L142.2 173.1L148.2 181.7L146.7 181.1Z" fill="#163ec4"/>
<path d="M223.7 93.0L225.1 90.5L231.2 99.0L229.7 101.7Z" fill="#cf2d2d"/>
<path d="M152.6 182.5L154.1 182.5L160.2 190.3L158.7 190.2Z" fill="#0f28e5"/>
<path d="M68.8 96.9L70.3 98.1L76.3 106.0L74.9 104.8Z" fill="#c60d0d"/>
<path d="M213.6 174.3L215.1 172.6L221.2 180.5L219.7 182.4Z" fill="#132de5"/>
<path d="M130.2 161.7L131.7 162.4L137.7 170.7L136.2 170.0Z" fill="#2a7d90"/>
<path d="M88.3 119.1L89.8 120.5L95.8 128.2L94.3 126.7Z" fill="#a03b25"/>
<path d="M222.4 130.8L223.8 128.5L229.9 136.1L228.4 138.5Z" fill="#7f8240"/>
<path d="M182.5 196.7L184.0 196.2L190.0 204.2L188.5 204.7Z" fill="#0c12ff"/>
<path d="M166.1 190.3L167.6 190.2L173.6 198.2L172.1 198.3Z" fill="#0918f2"/>
<path d="M221.0 149.9L222.5 147.8L228.5 155.9L227.0 158.0Z" fill="#43b26f"/>
<path d="M107.8 141.3L109.3 142.3L115.3 149.9L113.8 148.9Z" fill="#60a64a"/>
<path d="M215.1 172.6L216.6 170.9L222.6 178.7L221.2 180.5Z" fill="#1531e2"/>
<path d="M118.2 151.5L119.7 152.1L125.8 160.2L124.3 159.6Z" fill="#49b762"/>
<path d="M225.2 109.3L226.7 106.8L232.7 115.4L231.3 117.6Z" fill="#c9201c"/>
<path d="M181.0 197.1L182.5 196.7L188.5 204.7L187.0 205.1Z" fill="#0b11ff"/>
<path d="M151.2 182.4L152.6 182.5L158.7 190.2L157.2 190.1Z" fill="#102ce0"/>
<path d="M97.3 129.8L98.8 131.3L104.8 138.8L103.3 137.3Z" fill="#7e6735"/>
<path d="M58.4 84.9L59.9 86.3L65.9 94.3L64.4 92.8Z" fill="#c21f1f"/>
<path d="M216.6 170.9L218.1 169.2L224.1 176.9L222.6 178.7Z" fill="#1635e0"/>
<path d="M225.1 90.5L226.6 88.1L232.7 96.3L231.2 99.0Z" fill="#cc4848"/>
<path d="M77.8 107.2L79.3 108.4L85.3 116.4L83.9 115.2Z" fill="#c20e0c"/>
<path d="M222.5 147.8L223.9 145.5L230.0 153.7L228.5 155.9Z" fill="#51c160"/>
<path d="M164.6 190.3L166.1 190.3L172.1 198.3L170.6 198.3Z" fill="#0a1bef"/>
<path d="M223.8 128.5L225.3 126.3L231.3 133.7L229.9 136.1Z" fill="#8c6f3b"/>
<path d="M139.2 171.5L140.7 172.3L146.7 181.1L145.2 180.4Z" fill="#1a4fb5"/>
<path d="M128.7 161.2L130.2 161.7L136.2 170.0L134.8 169.5Z" fill="#328f84"/>
<path d="M179.5 197.4L181.0 197.1L187.0 205.1L185.6 205.5Z" fill="#0a12ff"/>
<path d="M218.1 169.2L219.6 167.5L225.6 175.2L224.1 176.9Z" fill="#183cdc"/>
<path d="M226.7 106.8L228.2 104.3L234.2 113.1L232.7 115.4Z" fill="#cf100e"/>
<path d="M67.4 95.6L68.8 96.9L74.9 104.8L73.4 103.5Z" fill="#c51414"/>
<path d="M204.8 196.7L206.3 195.6L212.3 203.7L210.9 204.9Z" fill="#141dff"/>
<path d="M206.3 195.6L207.8 194.5L213.8 202.5L212.3 203.7Z" fill="#131dff"/>
<path d="M203.3 197.7L204.8 196.7L210.9 204.9L209.4 205.9Z" fill="#151cff"/>
<path d="M207.8 194.5L209.3 193.3L215.3 201.3L213.8 202.5Z" fill="#131eff"/>
<path d="M149.7 182.1L151.2 182.4L157.2 190.1L155.7 189.8Z" fill="#112fda"/>
<path d="M201.9 198.7L203.3 197.7L209.4 205.9L207.9 207.0Z" fill="#161cff"/>
<path d="M219.6 167.5L221.1 165.7L227.1 173.4L225.6 175.2Z" fill="#1d4dce"/>
<path d="M209.3 193.3L210.8 192.0L216.8 200.0L215.3 201.3Z" fill="#121eff"/>
<path d="M178.0 197.7L179.5 197.4L185.6 205.5L184.1 205.8Z" fill="#0a12ff"/>
<path d="M116.8 150.7L118.2 151.5L124.3 159.6L122.8 159.0Z" fill="#50be59"/>
<path d="M200.4 199.6L201.9 198.7L207.9 207.0L206.4 207.9Z" fill="#161cff"/>
<path d="M86.8 117.7L88.3 119.1L94.3 126.7L92.8 125.4Z" fill="#ac2e20"/>
<path d="M106.3 140.2L107.8 141.3L113.8 148.9L112.3 147.8Z" fill="#669644"/>
<path d="M163.1 190.3L164.6 190.3L170.6 198.3L169.1 198.2Z" fill="#0b1eed"/>
<path d="M223.9 145.5L225.4 143.2L231.4 151.4L230.0 153.7Z" fill="#5dbf54"/>
<path d="M226.6 88.1L228.1 85.7L234.1 93.6L232.7 96.3Z" fill="#c65959"/>
<path d="M225.3 126.3L226.8 124.1L232.8 131.4L231.3 133.7Z" fill="#995d35"/>
<path d="M210.8 192.0L212.2 190.6L218.3 198.6L216.8 200.0Z" fill="#111ffd"/>
<path d="M198.9 200.4L200.4 199.6L206.4 207.9L204.9 208.7Z" fill="#151bff"/>
<path d="M212.2 190.6L213.7 189.2L219.8 197.1L218.3 198.6Z" fill="#1020f8"/>
<path d="M221.1 165.7L222.5 163.9L228.6 171.7L227.1 173.4Z" fill="#225ebe"/>
<path d="M197.4 201.2L198.9 200.4L204.9 208.7L203.4 209.4Z" fill="#1419ff"/>
<path d="M127.2 160.7L128.7 161.2L134.8 169.5L133.3 169.0Z" fill="#399f7a"/>
<path d="M176.6 197.9L178.0 197.7L184.1 205.8L182.6 206.1Z" fill="#0913fd"/>
<path d="M228.2 104.3L229.7 101.7L235.7 110.8L234.2 113.1Z" fill="#d40505"/>
<path d="M137.7 170.7L139.2 171.5L145.2 180.4L143.7 179.7Z" fill="#1f60a7"/>
<path d="M213.7 189.2L215.2 187.6L221.2 195.5L219.8 197.1Z" fill="#0f21f3"/>
<path d="M195.9 201.9L197.4 201.2L203.4 209.4L202.0 210.1Z" fill="#1217ff"/>
<path d="M76.3 106.0L77.8 107.2L83.9 115.2L82.4 114.1Z" fill="#c50807"/>
<path d="M56.9 83.4L58.4 84.9L64.4 92.8L62.9 91.3Z" fill="#c11d1d"/>
<path d="M161.6 190.3L163.1 190.3L169.1 198.2L167.7 198.1Z" fill="#0c21e9"/>
<path d="M226.8 124.1L228.3 122.0L234.3 129.1L232.8 131.4Z" fill="#a64d2e"/>
<path d="M95.8 128.2L97.3 129.8L103.3 137.3L101.8 135.8Z" fill="#885830"/>
<path d="M222.5 163.9L224.0 162.0L230.1 169.8L228.6 171.7Z" fill="#2670af"/>
<path d="M148.2 181.7L149.7 182.1L155.7 189.8L154.2 189.5Z" fill="#1232d5"/>
<path d="M225.4 143.2L226.9 140.9L232.9 149.0L231.4 151.4Z" fill="#67aa4d"/>
<path d="M215.2 187.6L216.7 185.9L222.7 193.8L221.2 195.5Z" fill="#0f22ee"/>
<path d="M194.5 202.6L195.9 201.9L202.0 210.1L200.5 210.7Z" fill="#1116ff"/>
<path d="M228.1 85.7L229.6 83.3L235.6 91.0L234.1 93.6Z" fill="#c16969"/>
<path d="M175.1 198.1L176.6 197.9L182.6 206.1L181.1 206.3Z" fill="#0914fa"/>
<path d="M115.3 149.9L116.8 150.7L122.8 159.0L121.3 158.2Z" fill="#56be52"/>
<path d="M193.0 203.2L194.5 202.6L200.5 210.7L199.0 211.3Z" fill="#0f14ff"/>
<path d="M224.0 162.0L225.5 160.0L231.5 168.0L230.1 169.8Z" fill="#2e849c"/>
<path d="M216.7 185.9L218.2 184.1L224.2 192.0L222.7 193.8Z" fill="#0f25e8"/>
<path d="M65.9 94.3L67.4 95.6L73.4 103.5L71.9 102.2Z" fill="#c41a1a"/>
<path d="M229.7 101.7L231.2 99.0L237.2 108.5L235.7 110.8Z" fill="#d22020"/>
<path d="M228.3 122.0L229.8 119.8L235.8 126.8L234.3 129.1Z" fill="#b33d28"/>
<path d="M125.8 160.2L127.2 160.7L133.3 169.0L131.8 168.6Z" fill="#40ad6f"/>
<path d="M104.8 138.8L106.3 140.2L112.3 147.8L110.8 146.6Z" fill="#6e863f"/>
<path d="M160.2 190.3L161.6 190.3L167.7 198.1L166.2 198.0Z" fill="#0d25e6"/>
<path d="M85.3 116.4L86.8 117.7L92.8 125.4L91.4 124.1Z" fill="#b5241c"/>
<path d="M191.5 203.7L193.0 203.2L199.0 211.3L197.5 211.8Z" fill="#0e13ff"/>
<path d="M226.9 140.9L228.4 138.5L234.4 146.5L232.9 149.0Z" fill="#739446"/>
<path d="M173.6 198.2L175.1 198.1L181.1 206.3L179.6 206.5Z" fill="#0915f6"/>
<path d="M136.2 170.0L137.7 170.7L143.7 179.7L142.3 179.0Z" fill="#25729a"/>
<path d="M218.2 184.1L219.7 182.4L225.7 190.0L224.2 192.0Z" fill="#1028e4"/>
<path d="M229.6 83.3L231.1 80.9L237.1 88.6L235.6 91.0Z" fill="#bd7a7a"/>
<path d="M146.7 181.1L148.2 181.7L154.2 189.5L152.7 189.2Z" fill="#153acb"/>
<path d="M225.5 160.0L227.0 158.0L233.0 166.0L231.5 168.0Z" fill="#389b86"/>
<path d="M190.0 204.2L191.5 203.7L197.5 211.8L196.0 212.3Z" fill="#0d12ff"/>
<path d="M74.9 104.8L76.3 106.0L82.4 114.1L80.9 112.8Z" fill="#c70303"/>
<path d="M229.8 119.8L231.3 117.6L237.3 124.5L235.8 126.8Z" fill="#bf2d21"/>
<path d="M219.7 182.4L221.2 180.5L227.2 188.1L225.7 190.0Z" fill="#122ce0"/>
<path d="M231.2 99.0L232.7 96.3L238.7 106.2L237.2 108.5Z" fill="#d03b3b"/>
<path d="M158.7 190.2L160.2 190.3L166.2 198.0L164.7 197.8Z" fill="#0e28e2"/>
<path d="M172.1 198.3L173.6 198.2L179.6 206.5L178.1 206.5Z" fill="#0917f2"/>
<path d="M188.5 204.7L190.0 204.2L196.0 212.3L194.5 212.8Z" fill="#0c12ff"/>
<path d="M227.0 158.0L228.5 155.9L234.5 163.9L233.0 166.0Z" fill="#43b270"/>
<path d="M55.4 81.8L56.9 83.4L62.9 91.3L61.4 89.8Z" fill="#c11c1c"/>
<path d="M94.3 126.7L95.8 128.2L101.8 135.8L100.4 134.3Z" fill="#934b2b"/>
<path d="M113.8 148.9L115.3 149.9L121.3 158.2L119.8 157.3Z" fill="#5bb04e"/>
<path d="M124.3 159.6L125.8 160.2L131.8 168.6L130.3 168.2Z" fill="#46b468"/>
<path d="M228.4 138.5L229.9 136.1L235.9 143.9L234.4 146.5Z" fill="#807e3f"/>
<path d="M221.2 180.5L222.6 178.7L228.7 186.1L227.2 188.1Z" fill="#1330dd"/>
<path d="M187.0 205.1L188.5 204.7L194.5 212.8L193.1 213.2Z" fill="#0c12ff"/>
<path d="M145.2 180.4L146.7 181.1L152.7 189.2L151.2 188.7Z" fill="#1948be"/>
<path d="M134.8 169.5L136.2 170.0L142.3 179.0L140.8 178.4Z" fill="#2d848d"/>
<path d="M231.3 117.6L232.7 115.4L238.8 122.2L237.3 124.5Z" fill="#ca1c18"/>
<path d="M64.4 92.8L65.9 94.3L71.9 102.2L70.4 100.8Z" fill="#c31c1c"/>
<path d="M83.9 115.2L85.3 116.4L91.4 124.1L89.9 123.0Z" fill="#bc1d19"/>
<path d="M170.6 198.3L172.1 198.3L178.1 206.5L176.7 206.5Z" fill="#091aef"/>
<path d="M228.5 155.9L230.0 153.7L236.0 161.7L234.5 163.9Z" fill="#50c061"/>
<path d="M103.3 137.3L104.8 138.8L110.8 146.6L109.4 145.3Z" fill="#76773b"/>
<path d="M157.2 190.1L158.7 190.2L164.7 197.8L163.2 197.5Z" fill="#102cde"/>
<path d="M232.7 96.3L234.1 93.6L240.2 104.0L238.7 106.2Z" fill="#cd5151"/>
<path d="M222.6 178.7L224.1 176.9L230.1 184.3L228.7 186.1Z" fill="#1535dc"/>
<path d="M185.6 205.5L187.0 205.1L193.1 213.2L191.6 213.7Z" fill="#0c12ff"/>
<path d="M229.9 136.1L231.3 133.7L237.4 141.4L235.9 143.9Z" fill="#8d6938"/>
<path d="M209.4 205.9L210.9 204.9L216.9 213.1L215.4 214.3Z" fill="#141bff"/>
<path d="M207.9 207.0L209.4 205.9L215.4 214.3L213.9 215.4Z" fill="#151bff"/>
<path d="M210.9 204.9L212.3 203.7L218.4 211.9L216.9 213.1Z" fill="#131bff"/>
<path d="M212.3 203.7L213.8 202.5L219.9 210.6L218.4 211.9Z" fill="#121cff"/>
<path d="M122.8 159.0L124.3 159.6L130.3 168.2L128.8 167.6Z" fill="#4bba60"/>
<path d="M206.4 207.9L207.9 207.0L213.9 215.4L212.4 216.4Z" fill="#161bff"/>
<path d="M224.1 176.9L225.6 175.2L231.6 182.5L230.1 184.3Z" fill="#1942d4"/>
<path d="M73.4 103.5L74.9 104.8L80.9 112.8L79.4 111.6Z" fill="#c70505"/>
<path d="M213.8 202.5L215.3 201.3L221.3 209.3L219.9 210.6Z" fill="#121dff"/>
<path d="M232.7 115.4L234.2 113.1L240.2 119.9L238.8 122.2Z" fill="#d00d0b"/>
<path d="M184.1 205.8L185.6 205.5L191.6 213.7L190.1 214.1Z" fill="#0b13ff"/>
<path d="M204.9 208.7L206.4 207.9L212.4 216.4L210.9 217.2Z" fill="#161aff"/>
<path d="M215.3 201.3L216.8 200.0L222.8 208.0L221.3 209.3Z" fill="#111eff"/>
<path d="M230.0 153.7L231.4 151.4L237.5 159.4L236.0 161.7Z" fill="#5cc055"/>
<path d="M169.1 198.2L170.6 198.3L176.7 206.5L175.2 206.3Z" fill="#0a1ceb"/>
<path d="M112.3 147.8L113.8 148.9L119.8 157.3L118.3 156.2Z" fill="#61a148"/>
<path d="M216.8 200.0L218.3 198.6L224.3 206.6L222.8 208.0Z" fill="#111ffd"/>
<path d="M133.3 169.0L134.8 169.5L140.8 178.4L139.3 177.8Z" fill="#349482"/>
<path d="M143.7 179.7L145.2 180.4L151.2 188.7L149.8 188.2Z" fill="#1d58b1"/>
<path d="M203.4 209.4L204.9 208.7L210.9 217.2L209.5 217.8Z" fill="#1418ff"/>
<path d="M155.7 189.8L157.2 190.1L163.2 197.5L161.7 197.2Z" fill="#112fd9"/>
<path d="M234.1 93.6L235.6 91.0L241.6 101.7L240.2 104.0Z" fill="#c86161"/>
<path d="M225.6 175.2L227.1 173.4L233.1 180.8L231.6 182.5Z" fill="#1f54c8"/>
<path d="M92.8 125.4L94.3 126.7L100.4 134.3L98.9 133.0Z" fill="#9f3f26"/>
<path d="M218.3 198.6L219.8 197.1L225.8 205.1L224.3 206.6Z" fill="#1020f8"/>
<path d="M182.6 206.1L184.1 205.8L190.1 214.1L188.6 214.5Z" fill="#0b14ff"/>
<path d="M231.3 133.7L232.8 131.4L238.9 138.8L237.4 141.4Z" fill="#9b5631"/>
<path d="M202.0 210.1L203.4 209.4L209.5 217.8L208.0 218.4Z" fill="#1115ff"/>
<path d="M219.8 197.1L221.2 195.5L227.3 203.6L225.8 205.1Z" fill="#0f21f3"/>
<path d="M234.2 113.1L235.7 110.8L241.7 117.7L240.2 119.9Z" fill="#d50606"/>
<path d="M227.1 173.4L228.6 171.7L234.6 179.2L233.1 180.8Z" fill="#2465bb"/>
<path d="M82.4 114.1L83.9 115.2L89.9 123.0L88.4 121.9Z" fill="#bf1714"/>
<path d="M200.5 210.7L202.0 210.1L208.0 218.4L206.5 218.9Z" fill="#0f13ff"/>
<path d="M62.9 91.3L64.4 92.8L70.4 100.8L68.9 99.3Z" fill="#c21d1d"/>
<path d="M231.4 151.4L232.9 149.0L239.0 157.0L237.5 159.4Z" fill="#67aa4d"/>
<path d="M167.7 198.1L169.1 198.2L175.2 206.3L173.7 206.1Z" fill="#0b20e7"/>
<path d="M101.8 135.8L103.3 137.3L109.4 145.3L107.9 144.0Z" fill="#7f6836"/>
<path d="M181.1 206.3L182.6 206.1L188.6 214.5L187.1 214.8Z" fill="#0a14fe"/>
<path d="M221.2 195.5L222.7 193.8L228.8 201.9L227.3 203.6Z" fill="#0f23ee"/>
<path d="M121.3 158.2L122.8 159.0L128.8 167.6L127.3 166.8Z" fill="#51bf57"/>
<path d="M228.6 171.7L230.1 169.8L236.1 177.4L234.6 179.2Z" fill="#2876ac"/>
<path d="M235.6 91.0L237.1 88.6L243.1 99.4L241.6 101.7Z" fill="#c37171"/>
<path d="M154.2 189.5L155.7 189.8L161.7 197.2L160.2 196.9Z" fill="#1232d6"/>
<path d="M199.0 211.3L200.5 210.7L206.5 218.9L205.0 219.4Z" fill="#0e12ff"/>
<path d="M131.8 168.6L133.3 169.0L139.3 177.8L137.8 177.2Z" fill="#3ba277"/>
<path d="M142.3 179.0L143.7 179.7L149.8 188.2L148.3 187.7Z" fill="#2167a5"/>
<path d="M232.8 131.4L234.3 129.1L240.3 136.2L238.9 138.8Z" fill="#a9442a"/>
<path d="M222.7 193.8L224.2 192.0L230.2 200.0L228.8 201.9Z" fill="#0f25e8"/>
<path d="M235.7 110.8L237.2 108.5L243.2 115.5L241.7 117.7Z" fill="#d31e1e"/>
<path d="M71.9 102.2L73.4 103.5L79.4 111.6L77.9 110.2Z" fill="#c50e0e"/>
<path d="M230.1 169.8L231.5 168.0L237.6 175.6L236.1 177.4Z" fill="#318999"/>
<path d="M179.6 206.5L181.1 206.3L187.1 214.8L185.6 215.0Z" fill="#0914f9"/>
<path d="M110.8 146.6L112.3 147.8L118.3 156.2L116.9 155.0Z" fill="#689243"/>
<path d="M197.5 211.8L199.0 211.3L205.0 219.4L203.5 219.9Z" fill="#0d12ff"/>
<path d="M166.2 198.0L167.7 198.1L173.7 206.1L172.2 205.9Z" fill="#0c23e3"/>
<path d="M232.9 149.0L234.4 146.5L240.4 154.4L239.0 157.0Z" fill="#729345"/>
<path d="M91.4 124.1L92.8 125.4L98.9 133.0L97.4 131.8Z" fill="#a93523"/>
<path d="M224.2 192.0L225.7 190.0L231.7 198.1L230.2 200.0Z" fill="#1028e3"/>
<path d="M196.0 212.3L197.5 211.8L203.5 219.9L202.1 220.4Z" fill="#0d12ff"/>
<path d="M231.5 168.0L233.0 166.0L239.0 173.7L237.6 175.6Z" fill="#3a9e84"/>
<path d="M152.7 189.2L154.2 189.5L160.2 196.9L158.8 196.6Z" fill="#153ace"/>
<path d="M237.2 108.5L238.7 106.2L244.7 113.3L243.2 115.5Z" fill="#d23535"/>
<path d="M178.1 206.5L179.6 206.5L185.6 215.0L184.2 215.1Z" fill="#0915f4"/>
<path d="M234.3 129.1L235.8 126.8L241.8 133.6L240.3 136.2Z" fill="#b73122"/>
<path d="M80.9 112.8L82.4 114.1L88.4 121.9L86.9 120.7Z" fill="#c1110e"/>
<path d="M119.8 157.3L121.3 158.2L127.3 166.8L125.9 165.9Z" fill="#56b950"/>
<path d="M130.3 168.2L131.8 168.6L137.8 177.2L136.3 176.5Z" fill="#41ae6b"/>
<path d="M194.5 212.8L196.0 212.3L202.1 220.4L200.6 220.8Z" fill="#0c12ff"/>
<path d="M225.7 190.0L227.2 188.1L233.2 196.2L231.7 198.1Z" fill="#122ddf"/>
<path d="M140.8 178.4L142.3 179.0L148.3 187.7L146.8 187.0Z" fill="#277698"/>
<path d="M61.4 89.8L62.9 91.3L68.9 99.3L67.5 97.8Z" fill="#c11f1f"/>
<path d="M164.7 197.8L166.2 198.0L172.2 205.9L170.7 205.5Z" fill="#0d26df"/>
<path d="M100.4 134.3L101.8 135.8L107.9 144.0L106.4 142.7Z" fill="#885b32"/>
<path d="M233.0 166.0L234.5 163.9L240.5 171.6L239.0 173.7Z" fill="#45b36e"/>
<path d="M234.4 146.5L235.9 143.9L241.9 151.8L240.4 154.4Z" fill="#7f7c3e"/>
<path d="M193.1 213.2L194.5 212.8L200.6 220.8L199.1 221.3Z" fill="#0d12ff"/>
<path d="M238.7 106.2L240.2 104.0L246.2 111.1L244.7 113.3Z" fill="#d04b4b"/>
<path d="M176.7 206.5L178.1 206.5L184.2 215.1L182.7 215.0Z" fill="#0917ef"/>
<path d="M227.2 188.1L228.7 186.1L234.7 194.3L233.2 196.2Z" fill="#1431dd"/>
<path d="M70.4 100.8L71.9 102.2L77.9 110.2L76.4 108.8Z" fill="#c31616"/>
<path d="M151.2 188.7L152.7 189.2L158.8 196.6L157.3 196.2Z" fill="#1847c3"/>
<path d="M109.4 145.3L110.8 146.6L116.9 155.0L115.4 153.8Z" fill="#6f853f"/>
<path d="M235.8 126.8L237.3 124.5L243.3 131.0L241.8 133.6Z" fill="#c51f1b"/>
<path d="M191.6 213.7L193.1 213.2L199.1 221.3L197.6 221.8Z" fill="#0d13ff"/>
<path d="M234.5 163.9L236.0 161.7L242.0 169.4L240.5 171.6Z" fill="#51c25f"/>
<path d="M89.9 123.0L91.4 124.1L97.4 131.8L95.9 130.8Z" fill="#b02d20"/>
<path d="M213.9 215.4L215.4 214.3L221.4 222.6L219.9 223.8Z" fill="#1318ff"/>
<path d="M215.4 214.3L216.9 213.1L222.9 221.4L221.4 222.6Z" fill="#1218ff"/>
<path d="M212.4 216.4L213.9 215.4L219.9 223.8L218.5 224.8Z" fill="#1519ff"/>
<path d="M128.8 167.6L130.3 168.2L136.3 176.5L134.8 175.8Z" fill="#47b463"/>
<path d="M228.7 186.1L230.1 184.3L236.2 192.4L234.7 194.3Z" fill="#1637dc"/>
<path d="M216.9 213.1L218.4 211.9L224.4 220.1L222.9 221.4Z" fill="#1118ff"/>
<path d="M163.2 197.5L164.7 197.8L170.7 205.5L169.2 205.1Z" fill="#0f29db"/>
<path d="M210.9 217.2L212.4 216.4L218.5 224.8L217.0 225.6Z" fill="#1518ff"/>
<path d="M240.2 104.0L241.6 101.7L247.7 108.9L246.2 111.1Z" fill="#ca5959"/>
<path d="M139.3 177.8L140.8 178.4L146.8 187.0L145.3 186.3Z" fill="#2e858a"/>
<path d="M218.4 211.9L219.9 210.6L225.9 218.7L224.4 220.1Z" fill="#111aff"/>
<path d="M235.9 143.9L237.4 141.4L243.4 149.0L241.9 151.8Z" fill="#8d6537"/>
<path d="M118.3 156.2L119.8 157.3L125.9 165.9L124.4 164.7Z" fill="#5ca94b"/>
<path d="M190.1 214.1L191.6 213.7L197.6 221.8L196.1 222.3Z" fill="#0d14ff"/>
<path d="M219.9 210.6L221.3 209.3L227.4 217.4L225.9 218.7Z" fill="#111bff"/>
<path d="M175.2 206.3L176.7 206.5L182.7 215.0L181.2 214.8Z" fill="#0919ea"/>
<path d="M79.4 111.6L80.9 112.8L86.9 120.7L85.4 119.5Z" fill="#c40908"/>
<path d="M209.5 217.8L210.9 217.2L217.0 225.6L215.5 226.2Z" fill="#1215ff"/>
<path d="M221.3 209.3L222.8 208.0L228.8 216.0L227.4 217.4Z" fill="#111dff"/>
<path d="M230.1 184.3L231.6 182.5L237.7 190.6L236.2 192.4Z" fill="#1c48d3"/>
<path d="M237.3 124.5L238.8 122.2L244.8 128.3L243.3 131.0Z" fill="#cc0e0c"/>
<path d="M236.0 161.7L237.5 159.4L243.5 167.1L242.0 169.4Z" fill="#5dbe54"/>
<path d="M222.8 208.0L224.3 206.6L230.3 214.6L228.8 216.0Z" fill="#111ffc"/>
<path d="M149.8 188.2L151.2 188.7L157.3 196.2L155.8 195.8Z" fill="#1c53b8"/>
<path d="M188.6 214.5L190.1 214.1L196.1 222.3L194.6 222.8Z" fill="#0d15ff"/>
<path d="M208.0 218.4L209.5 217.8L215.5 226.2L214.0 226.8Z" fill="#0f12ff"/>
<path d="M98.9 133.0L100.4 134.3L106.4 142.7L104.9 141.5Z" fill="#93502d"/>
<path d="M224.3 206.6L225.8 205.1L231.8 213.1L230.3 214.6Z" fill="#1020f9"/>
<path d="M231.6 182.5L233.1 180.8L239.1 188.9L237.7 190.6Z" fill="#225ac7"/>
<path d="M241.6 101.7L243.1 99.4L249.2 106.6L247.7 108.9Z" fill="#c46767"/>
<path d="M161.7 197.2L163.2 197.5L169.2 205.1L167.8 204.7Z" fill="#102dd8"/>
<path d="M225.8 205.1L227.3 203.6L233.3 211.6L231.8 213.1Z" fill="#1022f5"/>
<path d="M206.5 218.9L208.0 218.4L214.0 226.8L212.5 227.2Z" fill="#0d10ff"/>
<path d="M187.1 214.8L188.6 214.5L194.6 222.8L193.2 223.2Z" fill="#0c14ff"/>
<path d="M173.7 206.1L175.2 206.3L181.2 214.8L179.7 214.5Z" fill="#0a1ce6"/>
<path d="M127.3 166.8L128.8 167.6L134.8 175.8L133.4 174.8Z" fill="#4dba5a"/>
<path d="M107.9 144.0L109.4 145.3L115.4 153.8L113.9 152.5Z" fill="#77783b"/>
<path d="M237.4 141.4L238.9 138.8L244.9 146.3L243.4 149.0Z" fill="#9c502f"/>
<path d="M233.1 180.8L234.6 179.2L240.6 187.2L239.1 188.9Z" fill="#276bba"/>
<path d="M68.9 99.3L70.4 100.8L76.4 108.8L75.0 107.3Z" fill="#c21c1c"/>
<path d="M137.8 177.2L139.3 177.8L145.3 186.3L143.8 185.4Z" fill="#35957b"/>
<path d="M88.4 121.9L89.9 123.0L95.9 130.8L94.4 129.7Z" fill="#b7261d"/>
<path d="M227.3 203.6L228.8 201.9L234.8 210.0L233.3 211.6Z" fill="#1023f0"/>
<path d="M237.5 159.4L239.0 157.0L245.0 164.6L243.5 167.1Z" fill="#67a74c"/>
<path d="M238.8 122.2L240.2 119.9L246.3 125.6L244.8 128.3Z" fill="#d10606"/>
<path d="M205.0 219.4L206.5 218.9L212.5 227.2L211.0 227.6Z" fill="#0c10ff"/>
<path d="M234.6 179.2L236.1 177.4L242.1 185.4L240.6 187.2Z" fill="#2b7bab"/>
<path d="M185.6 215.0L187.1 214.8L193.2 223.2L191.7 223.5Z" fill="#0a13fe"/>
<path d="M148.3 187.7L149.8 188.2L155.8 195.8L154.3 195.3Z" fill="#1f60ac"/>
<path d="M116.9 155.0L118.3 156.2L124.4 164.7L122.9 163.5Z" fill="#639a46"/>
<path d="M228.8 201.9L230.2 200.0L236.3 208.3L234.8 210.0Z" fill="#1026eb"/>
<path d="M77.9 110.2L79.4 111.6L85.4 119.5L84.0 118.2Z" fill="#c60000"/>
<path d="M203.5 219.9L205.0 219.4L211.0 227.6L209.6 228.0Z" fill="#0b10ff"/>
<path d="M160.2 196.9L161.7 197.2L167.8 204.7L166.3 204.3Z" fill="#1130d5"/>
<path d="M172.2 205.9L173.7 206.1L179.7 214.5L178.2 214.0Z" fill="#0b1fe1"/>
<path d="M236.1 177.4L237.6 175.6L243.6 183.6L242.1 185.4Z" fill="#338e96"/>
<path d="M230.2 200.0L231.7 198.1L237.7 206.6L236.3 208.3Z" fill="#1129e7"/>
<path d="M238.9 138.8L240.3 136.2L246.4 143.5L244.9 146.3Z" fill="#ac3c26"/>
<path d="M97.4 131.8L98.9 133.0L104.9 141.5L103.4 140.3Z" fill="#9c462a"/>
<path d="M184.2 215.1L185.6 215.0L191.7 223.5L190.2 223.7Z" fill="#0813f8"/>
<path d="M240.2 119.9L241.7 117.7L247.8 122.9L246.3 125.6Z" fill="#ce2020"/>
<path d="M239.0 157.0L240.4 154.4L246.5 162.1L245.0 164.6Z" fill="#739044"/>
<path d="M202.1 220.4L203.5 219.9L209.6 228.0L208.1 228.5Z" fill="#0c10ff"/>
<path d="M125.9 165.9L127.3 166.8L133.4 174.8L131.9 173.8Z" fill="#54bb51"/>
<path d="M136.3 176.5L137.8 177.2L143.8 185.4L142.3 184.5Z" fill="#3da56b"/>
<path d="M237.6 175.6L239.0 173.7L245.1 181.5L243.6 183.6Z" fill="#3ca281"/>
<path d="M231.7 198.1L233.2 196.2L239.2 204.8L237.7 206.6Z" fill="#132de3"/>
<path d="M106.4 142.7L107.9 144.0L113.9 152.5L112.4 151.3Z" fill="#7f6b37"/>
<path d="M146.8 187.0L148.3 187.7L154.3 195.3L152.8 194.7Z" fill="#236c9f"/>
<path d="M86.9 120.7L88.4 121.9L94.4 129.7L92.9 128.6Z" fill="#bc1e1a"/>
<path d="M200.6 220.8L202.1 220.4L208.1 228.5L206.6 228.9Z" fill="#0c11ff"/>
<path d="M158.8 196.6L160.2 196.9L166.3 204.3L164.8 203.8Z" fill="#1232d3"/>
<path d="M182.7 215.0L184.2 215.1L190.2 223.7L188.7 223.7Z" fill="#0814f1"/>
<path d="M67.5 97.8L68.9 99.3L75.0 107.3L73.5 105.8Z" fill="#c02424"/>
<path d="M170.7 205.5L172.2 205.9L178.2 214.0L176.7 213.5Z" fill="#0c21dd"/>
<path d="M233.2 196.2L234.7 194.3L240.7 203.0L239.2 204.8Z" fill="#1532e1"/>
<path d="M241.7 117.7L243.2 115.5L249.2 120.2L247.8 122.9Z" fill="#cb3939"/>
<path d="M239.0 173.7L240.5 171.6L246.6 179.4L245.1 181.5Z" fill="#47b66c"/>
<path d="M199.1 221.3L200.6 220.8L206.6 228.9L205.1 229.4Z" fill="#0c12ff"/>
<path d="M115.4 153.8L116.9 155.0L122.9 163.5L121.4 162.2Z" fill="#6b8c41"/>
<path d="M240.3 136.2L241.8 133.6L247.9 140.7L246.4 143.5Z" fill="#bc271e"/>
<path d="M240.4 154.4L241.9 151.8L247.9 159.4L246.5 162.1Z" fill="#80793d"/>
<path d="M76.4 108.8L77.9 110.2L84.0 118.2L82.5 116.8Z" fill="#c40e0e"/>
<path d="M234.7 194.3L236.2 192.4L242.2 201.2L240.7 203.0Z" fill="#1736df"/>
<path d="M219.9 223.8L221.4 222.6L227.4 230.8L226.0 232.0Z" fill="#1216ff"/>
<path d="M218.5 224.8L219.9 223.8L226.0 232.0L224.5 233.0Z" fill="#1417ff"/>
<path d="M197.6 221.8L199.1 221.3L205.1 229.4L203.6 229.8Z" fill="#0c13ff"/>
<path d="M221.4 222.6L222.9 221.4L228.9 229.6L227.4 230.8Z" fill="#1015ff"/>
<path d="M95.9 130.8L97.4 131.8L103.4 140.3L101.9 139.2Z" fill="#a43d26"/>
<path d="M217.0 225.6L218.5 224.8L224.5 233.0L223.0 233.8Z" fill="#1316ff"/>
<path d="M181.2 214.8L182.7 215.0L188.7 223.7L187.2 223.5Z" fill="#0815ea"/>
<path d="M222.9 221.4L224.4 220.1L230.4 228.2L228.9 229.6Z" fill="#0f16ff"/>
<path d="M134.8 175.8L136.3 176.5L142.3 184.5L140.9 183.5Z" fill="#45af61"/>
<path d="M240.5 171.6L242.0 169.4L248.0 177.2L246.6 179.4Z" fill="#53c45d"/>
<path d="M157.3 196.2L158.8 196.6L164.8 203.8L163.3 203.4Z" fill="#153dca"/>
<path d="M224.4 220.1L225.9 218.7L231.9 226.8L230.4 228.2Z" fill="#0f18ff"/>
<path d="M145.3 186.3L146.8 187.0L152.8 194.7L151.3 193.9Z" fill="#297b90"/>
<path d="M124.4 164.7L125.9 165.9L131.9 173.8L130.4 172.6Z" fill="#5aab4c"/>
<path d="M215.5 226.2L217.0 225.6L223.0 233.8L221.5 234.5Z" fill="#1012ff"/>
<path d="M243.2 115.5L244.7 113.3L250.7 117.5L249.2 120.2Z" fill="#c74e4e"/>
<path d="M236.2 192.4L237.7 190.6L243.7 199.4L242.2 201.2Z" fill="#1a41d9"/>
<path d="M196.1 222.3L197.6 221.8L203.6 229.8L202.1 230.3Z" fill="#0d13ff"/>
<path d="M169.2 205.1L170.7 205.5L176.7 213.5L175.3 212.9Z" fill="#0d24d9"/>
<path d="M225.9 218.7L227.4 217.4L233.4 225.5L231.9 226.8Z" fill="#101aff"/>
<path d="M85.4 119.5L86.9 120.7L92.9 128.6L91.5 127.5Z" fill="#bf1512"/>
<path d="M227.4 217.4L228.8 216.0L234.9 224.0L233.4 225.5Z" fill="#101cfe"/>
<path d="M241.8 133.6L243.3 131.0L249.3 137.9L247.9 140.7Z" fill="#c71411"/>
<path d="M241.9 151.8L243.4 149.0L249.4 156.7L247.9 159.4Z" fill="#8e6135"/>
<path d="M104.9 141.5L106.4 142.7L112.4 151.3L110.9 150.1Z" fill="#885f33"/>
<path d="M214.0 226.8L215.5 226.2L221.5 234.5L220.0 234.9Z" fill="#0c0fff"/>
<path d="M228.8 216.0L230.3 214.6L236.3 222.6L234.9 224.0Z" fill="#101efb"/>
<path d="M237.7 190.6L239.1 188.9L245.2 197.6L243.7 199.4Z" fill="#2053cc"/>
<path d="M194.6 222.8L196.1 222.3L202.1 230.3L200.7 230.7Z" fill="#0c13ff"/>
<path d="M242.0 169.4L243.5 167.1L249.5 174.8L248.0 177.2Z" fill="#5eba52"/>
<path d="M179.7 214.5L181.2 214.8L187.2 223.5L185.7 223.1Z" fill="#0818e5"/>
<path d="M230.3 214.6L231.8 213.1L237.8 221.1L236.3 222.6Z" fill="#1020f8"/>
<path d="M113.9 152.5L115.4 153.8L121.4 162.2L119.9 160.8Z" fill="#737f3d"/>
<path d="M212.5 227.2L214.0 226.8L220.0 234.9L218.6 235.4Z" fill="#0a0dff"/>
<path d="M244.7 113.3L246.2 111.1L252.2 114.8L250.7 117.5Z" fill="#c15d5d"/>
<path d="M239.1 188.9L240.6 187.2L246.6 195.7L245.2 197.6Z" fill="#2465bc"/>
<path d="M155.8 195.8L157.3 196.2L163.3 203.4L161.8 202.9Z" fill="#1948c0"/>
<path d="M193.2 223.2L194.6 222.8L200.7 230.7L199.2 231.1Z" fill="#0b13ff"/>
<path d="M231.8 213.1L233.3 211.6L239.3 219.5L237.8 221.1Z" fill="#1021f5"/>
<path d="M167.8 204.7L169.2 205.1L175.3 212.9L173.8 212.2Z" fill="#0e27d6"/>
<path d="M75.0 107.3L76.4 108.8L82.5 116.8L81.0 115.3Z" fill="#c21b1b"/>
<path d="M133.4 174.8L134.8 175.8L140.9 183.5L139.4 182.4Z" fill="#4db857"/>
<path d="M94.4 129.7L95.9 130.8L101.9 139.2L100.5 138.0Z" fill="#ab3523"/>
<path d="M143.8 185.4L145.3 186.3L151.3 193.9L149.9 193.1Z" fill="#318c7f"/>
<path d="M233.3 211.6L234.8 210.0L240.8 217.9L239.3 219.5Z" fill="#1024f1"/>
<path d="M211.0 227.6L212.5 227.2L218.6 235.4L217.1 235.8Z" fill="#0a0dff"/>
<path d="M243.3 131.0L244.8 128.3L250.8 135.2L249.3 137.9Z" fill="#cf0101"/>
<path d="M243.4 149.0L244.9 146.3L250.9 153.9L249.4 156.7Z" fill="#9e4c2d"/>
<path d="M240.6 187.2L242.1 185.4L248.1 193.8L246.6 195.7Z" fill="#2976ac"/>
<path d="M191.7 223.5L193.2 223.2L199.2 231.1L197.7 231.4Z" fill="#0912ff"/>
<path d="M122.9 163.5L124.4 164.7L130.4 172.6L128.9 171.4Z" fill="#629c46"/>
<path d="M243.5 167.1L245.0 164.6L251.0 172.4L249.5 174.8Z" fill="#69a44b"/>
<path d="M234.8 210.0L236.3 208.3L242.3 216.3L240.8 217.9Z" fill="#1127ee"/>
<path d="M178.2 214.0L179.7 214.5L185.7 223.1L184.2 222.6Z" fill="#091ae1"/>
<path d="M209.6 228.0L211.0 227.6L217.1 235.8L215.6 236.2Z" fill="#0a0eff"/>
<path d="M246.2 111.1L247.7 108.9L253.7 112.3L252.2 114.8Z" fill="#bc6c6c"/>
<path d="M84.0 118.2L85.4 119.5L91.5 127.5L90.0 126.2Z" fill="#c30908"/>
<path d="M103.4 140.3L104.9 141.5L110.9 150.1L109.4 148.8Z" fill="#90542f"/>
<path d="M242.1 185.4L243.6 183.6L249.6 191.8L248.1 193.8Z" fill="#318a97"/>
<path d="M236.3 208.3L237.7 206.6L243.8 214.7L242.3 216.3Z" fill="#122aeb"/>
<path d="M154.3 195.3L155.8 195.8L161.8 202.9L160.3 202.4Z" fill="#1c54b5"/>
<path d="M190.2 223.7L191.7 223.5L197.7 231.4L196.2 231.6Z" fill="#0811f9"/>
<path d="M208.1 228.5L209.6 228.0L215.6 236.2L214.1 236.6Z" fill="#0b0fff"/>
<path d="M166.3 204.3L167.8 204.7L173.8 212.2L172.3 211.6Z" fill="#0f2ad4"/>
<path d="M237.7 206.6L239.2 204.8L245.2 213.1L243.8 214.7Z" fill="#142de8"/>
<path d="M244.8 128.3L246.3 125.6L252.3 132.4L250.8 135.2Z" fill="#cd1d1d"/>
<path d="M112.4 151.3L113.9 152.5L119.9 160.8L118.4 159.6Z" fill="#7b7339"/>
<path d="M245.0 164.6L246.5 162.1L252.5 169.8L251.0 172.4Z" fill="#758d43"/>
<path d="M244.9 146.3L246.4 143.5L252.4 151.0L250.9 153.9Z" fill="#af3624"/>
<path d="M243.6 183.6L245.1 181.5L251.1 189.6L249.6 191.8Z" fill="#3ba080"/>
<path d="M142.3 184.5L143.8 185.4L149.9 193.1L148.4 192.1Z" fill="#3a9e6d"/>
<path d="M247.7 108.9L249.2 106.6L255.2 109.9L253.7 112.3Z" fill="#b67b7b"/>
<path d="M131.9 173.8L133.4 174.8L139.4 182.4L137.9 181.3Z" fill="#55b64f"/>
<path d="M206.6 228.9L208.1 228.5L214.1 236.6L212.6 237.0Z" fill="#0b10ff"/>
<path d="M92.9 128.6L94.4 129.7L100.5 138.0L99.0 136.8Z" fill="#b22c1f"/>
<path d="M188.7 223.7L190.2 223.7L196.2 231.6L194.7 231.7Z" fill="#0711f3"/>
<path d="M239.2 204.8L240.7 203.0L246.7 211.4L245.2 213.1Z" fill="#1531e5"/>
<path d="M176.7 213.5L178.2 214.0L184.2 222.6L182.8 222.0Z" fill="#091bdd"/>
<path d="M73.5 105.8L75.0 107.3L81.0 115.3L79.5 113.8Z" fill="#c02929"/>
<path d="M121.4 162.2L122.9 163.5L128.9 171.4L127.4 170.1Z" fill="#698e42"/>
<path d="M152.8 194.7L154.3 195.3L160.3 202.4L158.9 201.8Z" fill="#1f60a9"/>
<path d="M205.1 229.4L206.6 228.9L212.6 237.0L211.1 237.4Z" fill="#0b11ff"/>
<path d="M240.7 203.0L242.2 201.2L248.2 209.7L246.7 211.4Z" fill="#1635e2"/>
<path d="M245.1 181.5L246.6 179.4L252.6 187.4L251.1 189.6Z" fill="#47b56b"/>
<path d="M164.8 203.8L166.3 204.3L172.3 211.6L170.8 211.0Z" fill="#102dd3"/>
<path d="M101.9 139.2L103.4 140.3L109.4 148.8L108.0 147.6Z" fill="#984a2b"/>
<path d="M246.5 162.1L247.9 159.4L254.0 167.2L252.5 169.8Z" fill="#82763c"/>
<path d="M246.3 125.6L247.8 122.9L253.8 129.7L252.3 132.4Z" fill="#ca3a3a"/>
<path d="M82.5 116.8L84.0 118.2L90.0 126.2L88.5 124.8Z" fill="#c50606"/>
<path d="M187.2 223.5L188.7 223.7L194.7 231.7L193.2 231.6Z" fill="#0713ec"/>
<path d="M226.0 232.0L227.4 230.8L233.5 238.8L232.0 239.9Z" fill="#1115ff"/>
<path d="M227.4 230.8L228.9 229.6L235.0 237.6L233.5 238.8Z" fill="#0f15ff"/>
<path d="M224.5 233.0L226.0 232.0L232.0 239.9L230.5 240.8Z" fill="#1114ff"/>
<path d="M203.6 229.8L205.1 229.4L211.1 237.4L209.7 237.8Z" fill="#0b11ff"/>
<path d="M242.2 201.2L243.7 199.4L249.7 207.9L248.2 209.7Z" fill="#1738de"/>
<path d="M246.4 143.5L247.9 140.7L253.9 148.1L252.4 151.0Z" fill="#c0211b"/>
<path d="M228.9 229.6L230.4 228.2L236.4 236.4L235.0 237.6Z" fill="#0f16ff"/>
<path d="M223.0 233.8L224.5 233.0L230.5 240.8L229.0 241.5Z" fill="#1012ff"/>
<path d="M230.4 228.2L231.9 226.8L237.9 235.0L236.4 236.4Z" fill="#0f18ff"/>
<path d="M246.6 179.4L248.0 177.2L254.1 185.1L252.6 187.4Z" fill="#54c55b"/>
<path d="M175.3 212.9L176.7 213.5L182.8 222.0L181.3 221.3Z" fill="#0a1ed9"/>
<path d="M140.9 183.5L142.3 184.5L148.4 192.1L146.9 191.1Z" fill="#44ac60"/>
<path d="M231.9 226.8L233.4 225.5L239.4 233.6L237.9 235.0Z" fill="#101aff"/>
<path d="M110.9 150.1L112.4 151.3L118.4 159.6L117.0 158.3Z" fill="#826636"/>
<path d="M221.5 234.5L223.0 233.8L229.0 241.5L227.5 242.1Z" fill="#0c0fff"/>
<path d="M202.1 230.3L203.6 229.8L209.7 237.8L208.2 238.2Z" fill="#0b11ff"/>
<path d="M243.7 199.4L245.2 197.6L251.2 206.0L249.7 207.9Z" fill="#1c48d0"/>
<path d="M130.4 172.6L131.9 173.8L137.9 181.3L136.4 180.1Z" fill="#5ca84a"/>
<path d="M233.4 225.5L234.9 224.0L240.9 232.2L239.4 233.6Z" fill="#101bfd"/>
<path d="M91.5 127.5L92.9 128.6L99.0 136.8L97.5 135.6Z" fill="#b9201a"/>
<path d="M151.3 193.9L152.8 194.7L158.9 201.8L157.4 201.2Z" fill="#236d9c"/>
<path d="M185.7 223.1L187.2 223.5L193.2 231.6L191.8 231.4Z" fill="#0715e7"/>
<path d="M234.9 224.0L236.3 222.6L242.4 230.7L240.9 232.2Z" fill="#101dfa"/>
<path d="M220.0 234.9L221.5 234.5L227.5 242.1L226.1 242.6Z" fill="#0a0dff"/>
<path d="M247.9 159.4L249.4 156.7L255.4 164.5L254.0 167.2Z" fill="#905e34"/>
<path d="M163.3 203.4L164.8 203.8L170.8 211.0L169.3 210.5Z" fill="#1130d1"/>
<path d="M247.8 122.9L249.2 120.2L255.3 127.0L253.8 129.7Z" fill="#c65050"/>
<path d="M200.7 230.7L202.1 230.3L208.2 238.2L206.7 238.5Z" fill="#0a11ff"/>
<path d="M245.2 197.6L246.6 195.7L252.7 204.1L251.2 206.0Z" fill="#215bbf"/>
<path d="M236.3 222.6L237.8 221.1L243.9 229.2L242.4 230.7Z" fill="#101ff7"/>
<path d="M119.9 160.8L121.4 162.2L127.4 170.1L125.9 168.8Z" fill="#71813e"/>
<path d="M248.0 177.2L249.5 174.8L255.5 182.8L254.1 185.1Z" fill="#5fb852"/>
<path d="M247.9 140.7L249.3 137.9L255.4 145.3L253.9 148.1Z" fill="#c90d0b"/>
<path d="M218.6 235.4L220.0 234.9L226.1 242.6L224.6 243.1Z" fill="#090cff"/>
<path d="M100.5 138.0L101.9 139.2L108.0 147.6L106.5 146.3Z" fill="#a04027"/>
<path d="M237.8 221.1L239.3 219.5L245.3 227.6L243.9 229.2Z" fill="#1021f4"/>
<path d="M199.2 231.1L200.7 230.7L206.7 238.5L205.2 238.8Z" fill="#0911ff"/>
<path d="M246.6 195.7L248.1 193.8L254.2 202.0L252.7 204.1Z" fill="#256ead"/>
<path d="M81.0 115.3L82.5 116.8L88.5 124.8L87.0 123.3Z" fill="#c21a1a"/>
<path d="M173.8 212.2L175.3 212.9L181.3 221.3L179.8 220.4Z" fill="#0b20d6"/>
<path d="M239.3 219.5L240.8 217.9L246.8 226.0L245.3 227.6Z" fill="#1124f2"/>
<path d="M217.1 235.8L218.6 235.4L224.6 243.1L223.1 243.6Z" fill="#0a0eff"/>
<path d="M184.2 222.6L185.7 223.1L191.8 231.4L190.3 231.0Z" fill="#0715e3"/>
<path d="M139.4 182.4L140.9 183.5L146.9 191.1L145.4 190.0Z" fill="#4eb855"/>
<path d="M161.8 202.9L163.3 203.4L169.3 210.5L167.8 210.0Z" fill="#1333d0"/>
<path d="M249.4 156.7L250.9 153.9L256.9 161.7L255.4 164.5Z" fill="#a0492c"/>
<path d="M149.9 193.1L151.3 193.9L157.4 201.2L155.9 200.4Z" fill="#2a7d8c"/>
<path d="M249.2 120.2L250.7 117.5L256.8 124.4L255.3 127.0Z" fill="#c06262"/>
<path d="M109.4 148.8L110.9 150.1L117.0 158.3L115.5 157.0Z" fill="#8b5a32"/>
<path d="M240.8 217.9L242.3 216.3L248.3 224.4L246.8 226.0Z" fill="#1227ef"/>
<path d="M249.5 174.8L251.0 172.4L257.0 180.3L255.5 182.8Z" fill="#6aa24a"/>
<path d="M197.7 231.4L199.2 231.1L205.2 238.8L203.7 239.0Z" fill="#0811fc"/>
<path d="M128.9 171.4L130.4 172.6L136.4 180.1L134.9 179.0Z" fill="#649945"/>
<path d="M215.6 236.2L217.1 235.8L223.1 243.6L221.6 244.2Z" fill="#0b0fff"/>
<path d="M248.1 193.8L249.6 191.8L255.6 199.9L254.2 202.0Z" fill="#2e8498"/>
<path d="M90.0 126.2L91.5 127.5L97.5 135.6L96.0 134.2Z" fill="#bf110f"/>
<path d="M249.3 137.9L250.8 135.2L256.8 142.6L255.4 145.3Z" fill="#ce0c0c"/>
<path d="M242.3 216.3L243.8 214.7L249.8 222.8L248.3 224.4Z" fill="#132bed"/>
<path d="M214.1 236.6L215.6 236.2L221.6 244.2L220.1 244.8Z" fill="#0c11ff"/>
<path d="M196.2 231.6L197.7 231.4L203.7 239.0L202.2 239.1Z" fill="#0711f7"/>
<path d="M243.8 214.7L245.2 213.1L251.3 221.2L249.8 222.8Z" fill="#142eea"/>
<path d="M118.4 159.6L119.9 160.8L125.9 168.8L124.5 167.5Z" fill="#79743a"/>
<path d="M249.6 191.8L251.1 189.6L257.1 197.7L255.6 199.9Z" fill="#399c81"/>
<path d="M172.3 211.6L173.8 212.2L179.8 220.4L178.3 219.6Z" fill="#0c23d4"/>
<path d="M182.8 222.0L184.2 222.6L190.3 231.0L188.8 230.5Z" fill="#0716e0"/>
<path d="M99.0 136.8L100.5 138.0L106.5 146.3L105.0 145.1Z" fill="#a83523"/>
<path d="M251.0 172.4L252.5 169.8L258.5 177.8L257.0 180.3Z" fill="#778c43"/>
<path d="M212.6 237.0L214.1 236.6L220.1 244.8L218.6 245.3Z" fill="#0d11ff"/>
<path d="M250.7 117.5L252.2 114.8L258.2 121.8L256.8 124.4Z" fill="#ba7474"/>
<path d="M245.2 213.1L246.7 211.4L252.8 219.5L251.3 221.2Z" fill="#1531e7"/>
<path d="M160.3 202.4L161.8 202.9L167.8 210.0L166.4 209.5Z" fill="#163ec7"/>
<path d="M250.9 153.9L252.4 151.0L258.4 158.9L256.9 161.7Z" fill="#b13323"/>
<path d="M148.4 192.1L149.9 193.1L155.9 200.4L154.4 199.6Z" fill="#33907b"/>
<path d="M194.7 231.7L196.2 231.6L202.2 239.1L200.8 239.1Z" fill="#0711f2"/>
<path d="M137.9 181.3L139.4 182.4L145.4 190.0L143.9 188.9Z" fill="#57b44e"/>
<path d="M250.8 135.2L252.3 132.4L258.3 140.1L256.8 142.6Z" fill="#cd2828"/>
<path d="M79.5 113.8L81.0 115.3L87.0 123.3L85.5 121.8Z" fill="#bf2f2f"/>
<path d="M246.7 211.4L248.2 209.7L254.2 217.8L252.8 219.5Z" fill="#1634e3"/>
<path d="M211.1 237.4L212.6 237.0L218.6 245.3L217.2 245.8Z" fill="#0c11ff"/>
<path d="M251.1 189.6L252.6 187.4L258.6 195.5L257.1 197.7Z" fill="#45b46b"/>
<path d="M108.0 147.6L109.4 148.8L115.5 157.0L114.0 155.8Z" fill="#934f2d"/>
<path d="M127.4 170.1L128.9 171.4L134.9 179.0L133.4 177.8Z" fill="#6b8c41"/>
<path d="M248.2 209.7L249.7 207.9L255.7 216.0L254.2 217.8Z" fill="#1737de"/>
<path d="M88.5 124.8L90.0 126.2L96.0 134.2L94.5 132.8Z" fill="#c50101"/>
<path d="M252.5 169.8L254.0 167.2L260.0 175.3L258.5 177.8Z" fill="#84753c"/>
<path d="M209.7 237.8L211.1 237.4L217.2 245.8L215.7 246.2Z" fill="#0b11ff"/>
<path d="M233.5 238.8L235.0 237.6L241.0 245.7L239.5 246.8Z" fill="#1217ff"/>
<path d="M252.2 114.8L253.7 112.3L259.7 119.4L258.2 121.8Z" fill="#b98585"/>
<path d="M235.0 237.6L236.4 236.4L242.5 244.6L241.0 245.7Z" fill="#1118ff"/>
<path d="M232.0 239.9L233.5 238.8L239.5 246.8L238.0 247.7Z" fill="#1216ff"/>
<path d="M181.3 221.3L182.8 222.0L188.8 230.5L187.3 229.9Z" fill="#0817dc"/>
<path d="M170.8 211.0L172.3 211.6L178.3 219.6L176.8 218.8Z" fill="#0d26d3"/>
<path d="M193.2 231.6L194.7 231.7L200.8 239.1L199.3 239.1Z" fill="#0713ee"/>
<path d="M236.4 236.4L237.9 235.0L243.9 243.3L242.5 244.6Z" fill="#1119ff"/>
<path d="M158.9 201.8L160.3 202.4L166.4 209.5L164.9 209.0Z" fill="#194abc"/>
<path d="M230.5 240.8L232.0 239.9L238.0 247.7L236.5 248.5Z" fill="#1115ff"/>
<path d="M237.9 235.0L239.4 233.6L245.4 242.0L243.9 243.3Z" fill="#111aff"/>
<path d="M252.4 151.0L253.9 148.1L259.9 156.0L258.4 158.9Z" fill="#c11d19"/>
<path d="M249.7 207.9L251.2 206.0L257.2 214.1L255.7 216.0Z" fill="#1a43d2"/>
<path d="M252.3 132.4L253.8 129.7L259.8 137.8L258.3 140.1Z" fill="#cd4444"/>
<path d="M117.0 158.3L118.4 159.6L124.5 167.5L123.0 166.3Z" fill="#816736"/>
<path d="M252.6 187.4L254.1 185.1L260.1 193.2L258.6 195.5Z" fill="#53c45b"/>
<path d="M229.0 241.5L230.5 240.8L236.5 248.5L235.1 249.2Z" fill="#0f12ff"/>
<path d="M208.2 238.2L209.7 237.8L215.7 246.2L214.2 246.5Z" fill="#0a10ff"/>
<path d="M239.4 233.6L240.9 232.2L246.9 240.6L245.4 242.0Z" fill="#111cff"/>
<path d="M97.5 135.6L99.0 136.8L105.0 145.1L103.5 143.7Z" fill="#b2281e"/>
<path d="M240.9 232.2L242.4 230.7L248.4 239.2L246.9 240.6Z" fill="#101dfc"/>
<path d="M227.5 242.1L229.0 241.5L235.1 249.2L233.6 249.8Z" fill="#0d10ff"/>
<path d="M146.9 191.1L148.4 192.1L154.4 199.6L152.9 198.7Z" fill="#3da568"/>
<path d="M136.4 180.1L137.9 181.3L143.9 188.9L142.4 187.8Z" fill="#5fa549"/>
<path d="M251.2 206.0L252.7 204.1L258.7 212.1L257.2 214.1Z" fill="#1f56c0"/>
<path d="M242.4 230.7L243.9 229.2L249.9 237.7L248.4 239.2Z" fill="#101ff9"/>
<path d="M253.7 112.3L255.2 109.9L261.2 117.0L259.7 119.4Z" fill="#c19696"/>
<path d="M254.0 167.2L255.4 164.5L261.5 172.6L260.0 175.3Z" fill="#915e34"/>
<path d="M191.8 231.4L193.2 231.6L199.3 239.1L197.8 239.0Z" fill="#0714ea"/>
<path d="M206.7 238.5L208.2 238.2L214.2 246.5L212.7 246.7Z" fill="#0910ff"/>
<path d="M226.1 242.6L227.5 242.1L233.6 249.8L232.1 250.4Z" fill="#0c10ff"/>
<path d="M254.1 185.1L255.5 182.8L261.6 190.8L260.1 193.2Z" fill="#5fb852"/>
<path d="M243.9 229.2L245.3 227.6L251.4 236.1L249.9 237.7Z" fill="#1121f6"/>
<path d="M106.5 146.3L108.0 147.6L114.0 155.8L112.5 154.5Z" fill="#9c4429"/>
<path d="M125.9 168.8L127.4 170.1L133.4 177.8L132.0 176.6Z" fill="#73803e"/>
<path d="M253.8 129.7L255.3 127.0L261.3 135.6L259.8 137.8Z" fill="#c95757"/>
<path d="M157.4 201.2L158.9 201.8L164.9 209.0L163.4 208.5Z" fill="#1d57b1"/>
<path d="M169.3 210.5L170.8 211.0L176.8 218.8L175.4 218.2Z" fill="#0f29d3"/>
<path d="M179.8 220.4L181.3 221.3L187.3 229.9L185.8 229.2Z" fill="#0819da"/>
<path d="M224.6 243.1L226.1 242.6L232.1 250.4L230.6 251.1Z" fill="#0d11ff"/>
<path d="M252.7 204.1L254.2 202.0L260.2 210.1L258.7 212.1Z" fill="#246aae"/>
<path d="M253.9 148.1L255.4 145.3L261.4 153.1L259.9 156.0Z" fill="#cb0908"/>
<path d="M245.3 227.6L246.8 226.0L252.9 234.5L251.4 236.1Z" fill="#1124f4"/>
<path d="M205.2 238.8L206.7 238.5L212.7 246.7L211.2 246.9Z" fill="#0810fd"/>
<path d="M87.0 123.3L88.5 124.8L94.5 132.8L93.0 131.3Z" fill="#c21919"/>
<path d="M223.1 243.6L224.6 243.1L230.6 251.1L229.1 251.8Z" fill="#0f13ff"/>
<path d="M246.8 226.0L248.3 224.4L254.3 232.9L252.9 234.5Z" fill="#1227f1"/>
<path d="M190.3 231.0L191.8 231.4L197.8 239.0L196.3 238.7Z" fill="#0714e7"/>
<path d="M115.5 157.0L117.0 158.3L123.0 166.3L121.5 165.0Z" fill="#895b32"/>
<path d="M255.4 164.5L256.9 161.7L263.0 169.9L261.5 172.6Z" fill="#a1492c"/>
<path d="M255.5 182.8L257.0 180.3L263.1 188.3L261.6 190.8Z" fill="#6ba24a"/>
<path d="M221.6 244.2L223.1 243.6L229.1 251.8L227.6 252.5Z" fill="#1114ff"/>
<path d="M255.3 127.0L256.8 124.4L262.8 133.5L261.3 135.6Z" fill="#c56767"/>
<path d="M254.2 202.0L255.6 199.9L261.7 207.9L260.2 210.1Z" fill="#2c8199"/>
<path d="M145.4 190.0L146.9 191.1L152.9 198.7L151.4 197.7Z" fill="#49b35b"/>
<path d="M203.7 239.0L205.2 238.8L211.2 246.9L209.7 247.0Z" fill="#0710f9"/>
<path d="M248.3 224.4L249.8 222.8L255.8 231.2L254.3 232.9Z" fill="#132aee"/>
<path d="M96.0 134.2L97.5 135.6L103.5 143.7L102.0 142.3Z" fill="#bc1713"/>
<path d="M134.9 179.0L136.4 180.1L142.4 187.8L141.0 186.8Z" fill="#669645"/>
<path d="M167.8 210.0L169.3 210.5L175.4 218.2L173.9 217.6Z" fill="#102cd4"/>
<path d="M220.1 244.8L221.6 244.2L227.6 252.5L226.2 253.2Z" fill="#1115ff"/>
<path d="M155.9 200.4L157.4 201.2L163.4 208.5L161.9 207.9Z" fill="#2064a4"/>
<path d="M249.8 222.8L251.3 221.2L257.3 229.5L255.8 231.2Z" fill="#142dea"/>
<path d="M178.3 219.6L179.8 220.4L185.8 229.2L184.3 228.5Z" fill="#091bd8"/>
<path d="M255.4 145.3L256.8 142.6L262.9 150.3L261.4 153.1Z" fill="#ce1111"/>
<path d="M218.6 245.3L220.1 244.8L226.2 253.2L224.7 253.8Z" fill="#1114ff"/>
<path d="M124.5 167.5L125.9 168.8L132.0 176.6L130.5 175.4Z" fill="#7a743a"/>
<path d="M255.6 199.9L257.1 197.7L263.1 205.8L261.7 207.9Z" fill="#389a81"/>
<path d="M188.8 230.5L190.3 231.0L196.3 238.7L194.8 238.4Z" fill="#0714e4"/>
<path d="M202.2 239.1L203.7 239.0L209.7 247.0L208.3 247.1Z" fill="#0711f5"/>
<path d="M105.0 145.1L106.5 146.3L112.5 154.5L111.0 153.1Z" fill="#a43924"/>
<path d="M251.3 221.2L252.8 219.5L258.8 227.7L257.3 229.5Z" fill="#1530e6"/>
<path d="M256.8 124.4L258.2 121.8L264.3 131.4L262.8 133.5Z" fill="#c17777"/>
<path d="M257.0 180.3L258.5 177.8L264.5 185.9L263.1 188.3Z" fill="#778c43"/>
<path d="M256.9 161.7L258.4 158.9L264.4 167.1L263.0 169.9Z" fill="#b13423"/>
<path d="M217.2 245.8L218.6 245.3L224.7 253.8L223.2 254.4Z" fill="#0f13ff"/>
<path d="M252.8 219.5L254.2 217.8L260.3 225.9L258.8 227.7Z" fill="#1532e1"/>
<path d="M85.5 121.8L87.0 123.3L93.0 131.3L91.6 129.8Z" fill="#bf3434"/>
<path d="M166.4 209.5L167.8 210.0L173.9 217.6L172.4 217.1Z" fill="#112ed3"/>
<path d="M200.8 239.1L202.2 239.1L208.3 247.1L206.8 247.1Z" fill="#0712f2"/>
<path d="M114.0 155.8L115.5 157.0L121.5 165.0L120.0 163.8Z" fill="#92502e"/>
<path d="M257.1 197.7L258.6 195.5L264.6 203.5L263.1 205.8Z" fill="#45b36b"/>
<path d="M143.9 188.9L145.4 190.0L151.4 197.7L150.0 196.7Z" fill="#55b950"/>
<path d="M215.7 246.2L217.2 245.8L223.2 254.4L221.7 254.8Z" fill="#0c11ff"/>
<path d="M256.8 142.6L258.3 140.1L264.4 147.6L262.9 150.3Z" fill="#cd2e2e"/>
<path d="M154.4 199.6L155.9 200.4L161.9 207.9L160.4 207.2Z" fill="#267396"/>
<path d="M258.2 121.8L259.7 119.4L265.7 129.3L264.3 131.4Z" fill="#bd8686"/>
<path d="M254.2 217.8L255.7 216.0L261.8 223.9L260.3 225.9Z" fill="#1635dc"/>
<path d="M133.4 177.8L134.9 179.0L141.0 186.8L139.5 185.7Z" fill="#6e8941"/>
<path d="M176.8 218.8L178.3 219.6L184.3 228.5L182.9 227.7Z" fill="#0a1ed7"/>
<path d="M94.5 132.8L96.0 134.2L102.0 142.3L100.5 140.9Z" fill="#c30403"/>
<path d="M187.3 229.9L188.8 230.5L194.8 238.4L193.3 238.0Z" fill="#0714e1"/>
<path d="M241.0 245.7L242.5 244.6L248.5 252.9L247.0 254.0Z" fill="#1319ff"/>
<path d="M239.5 246.8L241.0 245.7L247.0 254.0L245.5 255.1Z" fill="#1419ff"/>
<path d="M258.5 177.8L260.0 175.3L266.0 183.3L264.5 185.9Z" fill="#84763c"/>
<path d="M242.5 244.6L243.9 243.3L250.0 251.7L248.5 252.9Z" fill="#121aff"/>
<path d="M238.0 247.7L239.5 246.8L245.5 255.1L244.0 256.0Z" fill="#1519ff"/>
<path d="M243.9 243.3L245.4 242.0L251.5 250.4L250.0 251.7Z" fill="#121aff"/>
<path d="M214.2 246.5L215.7 246.2L221.7 254.8L220.2 255.1Z" fill="#0a0fff"/>
<path d="M236.5 248.5L238.0 247.7L244.0 256.0L242.6 256.9Z" fill="#1518ff"/>
<path d="M245.4 242.0L246.9 240.6L252.9 249.1L251.5 250.4Z" fill="#111bff"/>
<path d="M258.4 158.9L259.9 156.0L265.9 164.3L264.4 167.1Z" fill="#c21e1a"/>
<path d="M199.3 239.1L200.8 239.1L206.8 247.1L205.3 247.0Z" fill="#0714ee"/>
<path d="M258.6 195.5L260.1 193.2L266.1 201.2L264.6 203.5Z" fill="#53c35c"/>
<path d="M246.9 240.6L248.4 239.2L254.4 247.7L252.9 249.1Z" fill="#111dfe"/>
<path d="M235.1 249.2L236.5 248.5L242.6 256.9L241.1 257.7Z" fill="#1417ff"/>
<path d="M255.7 216.0L257.2 214.1L263.2 221.9L261.8 223.9Z" fill="#1942d0"/>
<path d="M123.0 166.3L124.5 167.5L130.5 175.4L129.0 174.2Z" fill="#826736"/>
<path d="M103.5 143.7L105.0 145.1L111.0 153.1L109.5 151.8Z" fill="#af2b1f"/>
<path d="M259.7 119.4L261.2 117.0L267.2 127.1L265.7 129.3Z" fill="#c49595"/>
<path d="M248.4 239.2L249.9 237.7L255.9 246.2L254.4 247.7Z" fill="#101efb"/>
<path d="M164.9 209.0L166.4 209.5L172.4 217.1L170.9 216.6Z" fill="#1231d2"/>
<path d="M258.3 140.1L259.8 137.8L265.8 145.1L264.4 147.6Z" fill="#cd4949"/>
<path d="M233.6 249.8L235.1 249.2L241.1 257.7L239.6 258.5Z" fill="#1416ff"/>
<path d="M212.7 246.7L214.2 246.5L220.2 255.1L218.7 255.4Z" fill="#090eff"/>
<path d="M249.9 237.7L251.4 236.1L257.4 244.7L255.9 246.2Z" fill="#1020f7"/>
<path d="M260.0 175.3L261.5 172.6L267.5 180.7L266.0 183.3Z" fill="#915f35"/>
<path d="M232.1 250.4L233.6 249.8L239.6 258.5L238.1 259.2Z" fill="#1417ff"/>
<path d="M257.2 214.1L258.7 212.1L264.7 219.9L263.2 221.9Z" fill="#1e56be"/>
<path d="M152.9 198.7L154.4 199.6L160.4 207.2L158.9 206.4Z" fill="#318b81"/>
<path d="M185.8 229.2L187.3 229.9L193.3 238.0L191.8 237.5Z" fill="#0715de"/>
<path d="M142.4 187.8L143.9 188.9L150.0 196.7L148.5 195.7Z" fill="#5ea74a"/>
<path d="M175.4 218.2L176.8 218.8L182.9 227.7L181.4 226.9Z" fill="#0b21d7"/>
<path d="M197.8 239.0L199.3 239.1L205.3 247.0L203.8 246.8Z" fill="#0715eb"/>
<path d="M251.4 236.1L252.9 234.5L258.9 243.1L257.4 244.7Z" fill="#1122f4"/>
<path d="M112.5 154.5L114.0 155.8L120.0 163.8L118.5 162.5Z" fill="#9b4529"/>
<path d="M260.1 193.2L261.6 190.8L267.6 198.8L266.1 201.2Z" fill="#5fb852"/>
<path d="M230.6 251.1L232.1 250.4L238.1 259.2L236.6 259.9Z" fill="#1518ff"/>
<path d="M211.2 246.9L212.7 246.7L218.7 255.4L217.2 255.6Z" fill="#080efc"/>
<path d="M132.0 176.6L133.4 177.8L139.5 185.7L138.0 184.5Z" fill="#767d3d"/>
<path d="M259.8 137.8L261.3 135.6L267.3 142.7L265.8 145.1Z" fill="#c95959"/>
<path d="M259.9 156.0L261.4 153.1L267.4 161.4L265.9 164.3Z" fill="#ca0a08"/>
<path d="M229.1 251.8L230.6 251.1L236.6 259.9L235.1 260.7Z" fill="#1618ff"/>
<path d="M252.9 234.5L254.3 232.9L260.4 241.4L258.9 243.1Z" fill="#1125f1"/>
<path d="M258.7 212.1L260.2 210.1L266.2 217.8L264.7 219.9Z" fill="#246bac"/>
<path d="M93.0 131.3L94.5 132.8L100.5 140.9L99.1 139.4Z" fill="#c21818"/>
<path d="M163.4 208.5L164.9 209.0L170.9 216.6L169.4 216.1Z" fill="#1438cc"/>
<path d="M227.6 252.5L229.1 251.8L235.1 260.7L233.7 261.4Z" fill="#1618ff"/>
<path d="M254.3 232.9L255.8 231.2L261.8 239.6L260.4 241.4Z" fill="#1127ec"/>
<path d="M209.7 247.0L211.2 246.9L217.2 255.6L215.8 255.6Z" fill="#070ff8"/>
<path d="M261.5 172.6L263.0 169.9L269.0 178.1L267.5 180.7Z" fill="#a14b2d"/>
<path d="M121.5 165.0L123.0 166.3L129.0 174.2L127.5 173.0Z" fill="#8a5b32"/>
<path d="M226.2 253.2L227.6 252.5L233.7 261.4L232.2 262.0Z" fill="#1517ff"/>
<path d="M196.3 238.7L197.8 239.0L203.8 246.8L202.3 246.5Z" fill="#0715e8"/>
<path d="M261.6 190.8L263.1 188.3L269.1 196.4L267.6 198.8Z" fill="#6aa24a"/>
<path d="M102.0 142.3L103.5 143.7L109.5 151.8L108.1 150.3Z" fill="#bb1815"/>
<path d="M184.3 228.5L185.8 229.2L191.8 237.5L190.4 236.9Z" fill="#0716dc"/>
<path d="M260.2 210.1L261.7 207.9L267.7 215.8L266.2 217.8Z" fill="#2d8297"/>
<path d="M261.3 135.6L262.8 133.5L268.8 140.3L267.3 142.7Z" fill="#c56868"/>
<path d="M255.8 231.2L257.3 229.5L263.3 237.8L261.8 239.6Z" fill="#122ae7"/>
<path d="M151.4 197.7L152.9 198.7L158.9 206.4L157.5 205.6Z" fill="#3ea767"/>
<path d="M173.9 217.6L175.4 218.2L181.4 226.9L179.9 226.2Z" fill="#0c23d7"/>
<path d="M224.7 253.8L226.2 253.2L232.2 262.0L230.7 262.6Z" fill="#1215ff"/>
<path d="M141.0 186.8L142.4 187.8L148.5 195.7L147.0 194.7Z" fill="#689645"/>
<path d="M208.3 247.1L209.7 247.0L215.8 255.6L214.3 255.7Z" fill="#0710f5"/>
<path d="M261.4 153.1L262.9 150.3L268.9 158.5L267.4 161.4Z" fill="#cd1111"/>
<path d="M223.2 254.4L224.7 253.8L230.7 262.6L229.2 263.1Z" fill="#0f12ff"/>
<path d="M257.3 229.5L258.8 227.7L264.8 235.9L263.3 237.8Z" fill="#122de2"/>
<path d="M161.9 207.9L163.4 208.5L169.4 216.1L167.9 215.6Z" fill="#1845c0"/>
<path d="M111.0 153.1L112.5 154.5L118.5 162.5L117.0 161.1Z" fill="#a43924"/>
<path d="M261.7 207.9L263.1 205.8L269.2 213.6L267.7 215.8Z" fill="#399c80"/>
<path d="M130.5 175.4L132.0 176.6L138.0 184.5L136.5 183.4Z" fill="#7d7039"/>
<path d="M262.8 133.5L264.3 131.4L270.3 138.0L268.8 140.3Z" fill="#c17676"/>
<path d="M263.1 188.3L264.5 185.9L270.6 193.9L269.1 196.4Z" fill="#778c43"/>
<path d="M194.8 238.4L196.3 238.7L202.3 246.5L200.8 246.2Z" fill="#0714e6"/>
<path d="M263.0 169.9L264.4 167.1L270.5 175.4L269.0 178.1Z" fill="#b03624"/>
<path d="M221.7 254.8L223.2 254.4L229.2 263.1L227.7 263.5Z" fill="#0c0fff"/>
<path d="M258.8 227.7L260.3 225.9L266.3 233.8L264.8 235.9Z" fill="#1330dd"/>
<path d="M206.8 247.1L208.3 247.1L214.3 255.7L212.8 255.6Z" fill="#0711f1"/>
<path d="M91.6 129.8L93.0 131.3L99.1 139.4L97.6 137.8Z" fill="#be3636"/>
<path d="M182.9 227.7L184.3 228.5L190.4 236.9L188.9 236.3Z" fill="#0818db"/>
<path d="M172.4 217.1L173.9 217.6L179.9 226.2L178.4 225.5Z" fill="#0d26d7"/>
<path d="M120.0 163.8L121.5 165.0L127.5 173.0L126.0 171.8Z" fill="#92502e"/>
<path d="M263.1 205.8L264.6 203.5L270.7 211.4L269.2 213.6Z" fill="#45b36b"/>
<path d="M220.2 255.1L221.7 254.8L227.7 263.5L226.2 263.8Z" fill="#090dff"/>
<path d="M264.3 131.4L265.7 129.3L271.8 135.7L270.3 138.0Z" fill="#bb8383"/>
<path d="M150.0 196.7L151.4 197.7L157.5 205.6L156.0 204.7Z" fill="#4eba57"/>
<path d="M247.0 254.0L248.5 252.9L254.5 261.1L253.0 262.3Z" fill="#1218ff"/>
<path d="M245.5 255.1L247.0 254.0L253.0 262.3L251.5 263.4Z" fill="#1317ff"/>
<path d="M248.5 252.9L250.0 251.7L256.0 259.9L254.5 261.1Z" fill="#1118ff"/>
<path d="M244.0 256.0L245.5 255.1L251.5 263.4L250.1 264.4Z" fill="#1417ff"/>
<path d="M262.9 150.3L264.4 147.6L270.4 155.6L268.9 158.5Z" fill="#cb3030"/>
<path d="M250.0 251.7L251.5 250.4L257.5 258.6L256.0 259.9Z" fill="#1119ff"/>
<path d="M100.5 140.9L102.0 142.3L108.1 150.3L106.6 148.9Z" fill="#c30504"/>
<path d="M260.3 225.9L261.8 223.9L267.8 231.7L266.3 233.8Z" fill="#1434d8"/>
<path d="M242.6 256.9L244.0 256.0L250.1 264.4L248.6 265.3Z" fill="#1517ff"/>
<path d="M264.5 185.9L266.0 183.3L272.0 191.3L270.6 193.9Z" fill="#84763c"/>
<path d="M160.4 207.2L161.9 207.9L167.9 215.6L166.4 215.0Z" fill="#1b52b3"/>
<path d="M139.5 185.7L141.0 186.8L147.0 194.7L145.5 193.6Z" fill="#72853f"/>
<path d="M251.5 250.4L252.9 249.1L259.0 257.3L257.5 258.6Z" fill="#101aff"/>
<path d="M193.3 238.0L194.8 238.4L200.8 246.2L199.4 245.8Z" fill="#0714e3"/>
<path d="M241.1 257.7L242.6 256.9L248.6 265.3L247.1 266.2Z" fill="#1517ff"/>
<path d="M264.4 167.1L265.9 164.3L272.0 172.7L270.5 175.4Z" fill="#c1211c"/>
<path d="M252.9 249.1L254.4 247.7L260.4 255.9L259.0 257.3Z" fill="#101bfe"/>
<path d="M205.3 247.0L206.8 247.1L212.8 255.6L211.3 255.4Z" fill="#0713ed"/>
<path d="M218.7 255.4L220.2 255.1L226.2 263.8L224.8 264.1Z" fill="#080cff"/>
<path d="M239.6 258.5L241.1 257.7L247.1 266.2L245.6 267.1Z" fill="#1516ff"/>
<path d="M254.4 247.7L255.9 246.2L261.9 254.4L260.4 255.9Z" fill="#101cfb"/>
<path d="M264.6 203.5L266.1 201.2L272.1 209.2L270.7 211.4Z" fill="#53c45c"/>
<path d="M265.7 129.3L267.2 127.1L273.2 133.5L271.8 135.7Z" fill="#c09090"/>
<path d="M129.0 174.2L130.5 175.4L136.5 183.4L135.0 182.2Z" fill="#856335"/>
<path d="M109.5 151.8L111.0 153.1L117.0 161.1L115.6 159.8Z" fill="#ae2b1f"/>
<path d="M238.1 259.2L239.6 258.5L245.6 267.1L244.1 267.9Z" fill="#1516ff"/>
<path d="M261.8 223.9L263.2 221.9L269.3 229.6L267.8 231.7Z" fill="#1943cb"/>
<path d="M170.9 216.6L172.4 217.1L178.4 225.5L176.9 225.0Z" fill="#0e29d6"/>
<path d="M255.9 246.2L257.4 244.7L263.4 252.9L261.9 254.4Z" fill="#0f1ef7"/>
<path d="M181.4 226.9L182.9 227.7L188.9 236.3L187.4 235.6Z" fill="#091ada"/>
<path d="M236.6 259.9L238.1 259.2L244.1 267.9L242.7 268.6Z" fill="#1415ff"/>
<path d="M217.2 255.6L218.7 255.4L224.8 264.1L223.3 264.2Z" fill="#070cfc"/>
<path d="M266.0 183.3L267.5 180.7L273.5 188.7L272.0 191.3Z" fill="#916035"/>
<path d="M264.4 147.6L265.8 145.1L271.9 152.6L270.4 155.6Z" fill="#c84b4b"/>
<path d="M257.4 244.7L258.9 243.1L264.9 251.3L263.4 252.9Z" fill="#0f20f4"/>
<path d="M235.1 260.7L236.6 259.9L242.7 268.6L241.2 269.3Z" fill="#1414ff"/>
<path d="M191.8 237.5L193.3 238.0L199.4 245.8L197.9 245.3Z" fill="#0714e1"/>
<path d="M203.8 246.8L205.3 247.0L211.3 255.4L209.8 255.2Z" fill="#0714ea"/>
<path d="M148.5 195.7L150.0 196.7L156.0 204.7L154.5 203.7Z" fill="#5bae4d"/>
<path d="M263.2 221.9L264.7 219.9L270.7 227.5L269.3 229.6Z" fill="#1f59b9"/>
<path d="M158.9 206.4L160.4 207.2L166.4 215.0L165.0 214.3Z" fill="#22699f"/>
<path d="M118.5 162.5L120.0 163.8L126.0 171.8L124.5 170.5Z" fill="#9b4529"/>
<path d="M266.1 201.2L267.6 198.8L273.6 206.8L272.1 209.2Z" fill="#5fb952"/>
<path d="M265.9 164.3L267.4 161.4L273.4 169.9L272.0 172.7Z" fill="#ca0d0c"/>
<path d="M233.7 261.4L235.1 260.7L241.2 269.3L239.7 270.0Z" fill="#1213ff"/>
<path d="M258.9 243.1L260.4 241.4L266.4 249.6L264.9 251.3Z" fill="#0f22f0"/>
<path d="M138.0 184.5L139.5 185.7L145.5 193.6L144.0 192.5Z" fill="#7b753b"/>
<path d="M215.8 255.6L217.2 255.6L223.3 264.2L221.8 264.3Z" fill="#060cf8"/>
<path d="M232.2 262.0L233.7 261.4L239.7 270.0L238.2 270.6Z" fill="#1111ff"/>
<path d="M99.1 139.4L100.5 140.9L106.6 148.9L105.1 147.4Z" fill="#c21818"/>
<path d="M260.4 241.4L261.8 239.6L267.9 247.8L266.4 249.6Z" fill="#1025eb"/>
<path d="M169.4 216.1L170.9 216.6L176.9 225.0L175.4 224.4Z" fill="#102cd5"/>
<path d="M264.7 219.9L266.2 217.8L272.2 225.5L270.7 227.5Z" fill="#256fa8"/>
<path d="M179.9 226.2L181.4 226.9L187.4 235.6L185.9 234.9Z" fill="#091cda"/>
<path d="M267.5 180.7L269.0 178.1L275.0 186.1L273.5 188.7Z" fill="#a04c2d"/>
<path d="M230.7 262.6L232.2 262.0L238.2 270.6L236.7 271.1Z" fill="#0e0fff"/>
<path d="M265.8 145.1L267.3 142.7L273.3 149.7L271.9 152.6Z" fill="#c25d5d"/>
<path d="M127.5 173.0L129.0 174.2L135.0 182.2L133.5 181.0Z" fill="#8d5831"/>
<path d="M202.3 246.5L203.8 246.8L209.8 255.2L208.4 254.8Z" fill="#0714e7"/>
<path d="M267.6 198.8L269.1 196.4L275.1 204.4L273.6 206.8Z" fill="#6aa24a"/>
<path d="M190.4 236.9L191.8 237.5L197.9 245.3L196.4 244.8Z" fill="#0715e0"/>
<path d="M261.8 239.6L263.3 237.8L269.4 246.0L267.9 247.8Z" fill="#1028e6"/>
<path d="M108.1 150.3L109.5 151.8L115.6 159.8L114.1 158.4Z" fill="#bb1915"/>
<path d="M214.3 255.7L215.8 255.6L221.8 264.3L220.3 264.3Z" fill="#060df5"/>
<path d="M229.2 263.1L230.7 262.6L236.7 271.1L235.2 271.5Z" fill="#0b0cff"/>
<path d="M267.4 161.4L268.9 158.5L274.9 167.2L273.4 169.9Z" fill="#ce0c0c"/>
<path d="M266.2 217.8L267.7 215.8L273.7 223.4L272.2 225.5Z" fill="#2f8794"/>
<path d="M157.5 205.6L158.9 206.4L165.0 214.3L163.5 213.5Z" fill="#328e7f"/>
<path d="M147.0 194.7L148.5 195.7L154.5 203.7L153.0 202.7Z" fill="#689645"/>
<path d="M263.3 237.8L264.8 235.9L270.8 244.0L269.4 246.0Z" fill="#112be0"/>
<path d="M227.7 263.5L229.2 263.1L235.2 271.5L233.8 271.9Z" fill="#090aff"/>
<path d="M117.0 161.1L118.5 162.5L124.5 170.5L123.1 169.2Z" fill="#a33924"/>
<path d="M167.9 215.6L169.4 216.1L175.4 224.4L174.0 223.8Z" fill="#112ed2"/>
<path d="M269.0 178.1L270.5 175.4L276.5 183.5L275.0 186.1Z" fill="#b03825"/>
<path d="M136.5 183.4L138.0 184.5L144.0 192.5L142.5 191.4Z" fill="#846636"/>
<path d="M269.1 196.4L270.6 193.9L276.6 201.9L275.1 204.4Z" fill="#778c43"/>
<path d="M200.8 246.2L202.3 246.5L208.4 254.8L206.9 254.3Z" fill="#0714e4"/>
<path d="M267.3 142.7L268.8 140.3L274.8 146.8L273.3 149.7Z" fill="#bc6e6e"/>
<path d="M212.8 255.6L214.3 255.7L220.3 264.3L218.8 264.2Z" fill="#060ff1"/>
<path d="M267.7 215.8L269.2 213.6L275.2 221.4L273.7 223.4Z" fill="#3ba17d"/>
<path d="M178.4 225.5L179.9 226.2L185.9 234.9L184.4 234.2Z" fill="#0a1ed9"/>
<path d="M264.8 235.9L266.3 233.8L272.3 242.0L270.8 244.0Z" fill="#122fdb"/>
<path d="M188.9 236.3L190.4 236.9L196.4 244.8L194.9 244.3Z" fill="#0716de"/>
<path d="M226.2 263.8L227.7 263.5L233.8 271.9L232.3 272.2Z" fill="#0709ff"/>
<path d="M97.6 137.8L99.1 139.4L105.1 147.4L103.6 145.8Z" fill="#be3737"/>
<path d="M268.9 158.5L270.4 155.6L276.4 164.5L274.9 167.2Z" fill="#cc2a2a"/>
<path d="M126.0 171.8L127.5 173.0L133.5 181.0L132.1 179.8Z" fill="#954d2c"/>
<path d="M269.2 213.6L270.7 211.4L276.7 219.3L275.2 221.4Z" fill="#47b66a"/>
<path d="M156.0 204.7L157.5 205.6L163.5 213.5L162.0 212.6Z" fill="#45af61"/>
<path d="M211.3 255.4L212.8 255.6L218.8 264.2L217.3 264.1Z" fill="#0611ed"/>
<path d="M106.6 148.9L108.1 150.3L114.1 158.4L112.6 156.9Z" fill="#c20504"/>
<path d="M266.3 233.8L267.8 231.7L273.8 239.9L272.3 242.0Z" fill="#1433d7"/>
<path d="M224.8 264.1L226.2 263.8L232.3 272.2L230.8 272.4Z" fill="#0609ff"/>
<path d="M270.6 193.9L272.0 191.3L278.1 199.3L276.6 201.9Z" fill="#84763c"/>
<path d="M270.5 175.4L272.0 172.7L278.0 180.8L276.5 183.5Z" fill="#c0241d"/>
<path d="M145.5 193.6L147.0 194.7L153.0 202.7L151.5 201.6Z" fill="#767f3e"/>
<path d="M268.8 140.3L270.3 138.0L276.3 144.0L274.8 146.8Z" fill="#b77f7f"/>
<path d="M166.4 215.0L167.9 215.6L174.0 223.8L172.5 223.1Z" fill="#1231ce"/>
<path d="M199.4 245.8L200.8 246.2L206.9 254.3L205.4 253.8Z" fill="#0714e2"/>
<path d="M176.9 225.0L178.4 225.5L184.4 234.2L182.9 233.6Z" fill="#0c22d8"/>
<path d="M187.4 235.6L188.9 236.3L194.9 244.3L193.4 243.8Z" fill="#0818dd"/>
<path d="M270.7 211.4L272.1 209.2L278.2 217.1L276.7 219.3Z" fill="#55c65b"/>
<path d="M135.0 182.2L136.5 183.4L142.5 191.4L141.1 190.2Z" fill="#8d5831"/>
<path d="M115.6 159.8L117.0 161.1L123.1 169.2L121.6 167.8Z" fill="#ae2b1f"/>
<path d="M223.3 264.2L224.8 264.1L230.8 272.4L229.3 272.5Z" fill="#0509fc"/>
<path d="M267.8 231.7L269.3 229.6L275.3 237.7L273.8 239.9Z" fill="#1944c9"/>
<path d="M270.4 155.6L271.9 152.6L277.9 161.8L276.4 164.5Z" fill="#c94848"/>
<path d="M209.8 255.2L211.3 255.4L217.3 264.1L215.9 263.8Z" fill="#0612e9"/>
<path d="M272.0 191.3L273.5 188.7L279.6 196.7L278.1 199.3Z" fill="#916035"/>
<path d="M270.3 138.0L271.8 135.7L277.8 141.4L276.3 144.0Z" fill="#bd8f8f"/>
<path d="M272.0 172.7L273.4 169.9L279.5 178.1L278.0 180.8Z" fill="#ca100e"/>
<path d="M197.9 245.3L199.4 245.8L205.4 253.8L203.9 253.3Z" fill="#0714e1"/>
<path d="M154.5 203.7L156.0 204.7L162.0 212.6L160.5 211.7Z" fill="#58b64f"/>
<path d="M124.5 170.5L126.0 171.8L132.1 179.8L130.6 178.5Z" fill="#9d4228"/>
<path d="M221.8 264.3L223.3 264.2L229.3 272.5L227.8 272.6Z" fill="#050af8"/>
<path d="M165.0 214.3L166.4 215.0L172.5 223.1L171.0 222.4Z" fill="#1a4cb7"/>
<path d="M269.3 229.6L270.7 227.5L276.8 235.6L275.3 237.7Z" fill="#205bb8"/>
<path d="M272.1 209.2L273.6 206.8L279.6 214.8L278.2 217.1Z" fill="#60b952"/>
<path d="M175.4 224.4L176.9 225.0L182.9 233.6L181.5 232.9Z" fill="#0d25d6"/>
<path d="M144.0 192.5L145.5 193.6L151.5 201.6L150.0 200.5Z" fill="#826a37"/>
<path d="M185.9 234.9L187.4 235.6L193.4 243.8L191.9 243.2Z" fill="#0819dd"/>
<path d="M105.1 147.4L106.6 148.9L112.6 156.9L111.1 155.4Z" fill="#c21818"/>
<path d="M208.4 254.8L209.8 255.2L215.9 263.8L214.4 263.4Z" fill="#0613e6"/>
<path d="M271.8 135.7L273.2 133.5L279.3 139.0L277.8 141.4Z" fill="#c59f9f"/>
<path d="M271.9 152.6L273.3 149.7L279.4 159.1L277.9 161.8Z" fill="#c35b5b"/>
<path d="M270.7 227.5L272.2 225.5L278.2 233.6L276.8 235.6Z" fill="#2672a7"/>
<path d="M273.5 188.7L275.0 186.1L281.0 194.1L279.6 196.7Z" fill="#a04c2d"/>
<path d="M220.3 264.3L221.8 264.3L227.8 272.6L226.3 272.6Z" fill="#050bf5"/>
<path d="M133.5 181.0L135.0 182.2L141.1 190.2L139.6 189.1Z" fill="#964d2c"/>
<path d="M273.6 206.8L275.1 204.4L281.1 212.4L279.6 214.8Z" fill="#6ba34a"/>
<path d="M273.4 169.9L274.9 167.2L280.9 175.5L279.5 178.1Z" fill="#d00606"/>
<path d="M114.1 158.4L115.6 159.8L121.6 167.8L120.1 166.4Z" fill="#bb1915"/>
<path d="M196.4 244.8L197.9 245.3L203.9 253.3L202.4 252.8Z" fill="#0715e1"/>
<path d="M163.5 213.5L165.0 214.3L171.0 222.4L169.5 221.5Z" fill="#267495"/>
<path d="M272.2 225.5L273.7 223.4L279.7 231.5L278.2 233.6Z" fill="#318b92"/>
<path d="M153.0 202.7L154.5 203.7L160.5 211.7L159.0 210.7Z" fill="#689745"/>
<path d="M174.0 223.8L175.4 224.4L181.5 232.9L180.0 232.2Z" fill="#0e28d3"/>
<path d="M218.8 264.2L220.3 264.3L226.3 272.6L224.8 272.6Z" fill="#050df1"/>
<path d="M184.4 234.2L185.9 234.9L191.9 243.2L190.5 242.6Z" fill="#091bdc"/>
<path d="M206.9 254.3L208.4 254.8L214.4 263.4L212.9 262.9Z" fill="#0613e3"/>
<path d="M123.1 169.2L124.5 170.5L130.6 178.5L129.1 177.2Z" fill="#a53723"/>
<path d="M273.3 149.7L274.8 146.8L280.9 156.5L279.4 159.1Z" fill="#bd6d6d"/>
<path d="M275.0 186.1L276.5 183.5L282.5 191.4L281.0 194.1Z" fill="#b03825"/>
<path d="M142.5 191.4L144.0 192.5L150.0 200.5L148.6 199.4Z" fill="#8f5731"/>
<path d="M275.1 204.4L276.6 201.9L282.6 209.9L281.1 212.4Z" fill="#778d43"/>
<path d="M274.9 167.2L276.4 164.5L282.4 173.0L280.9 175.5Z" fill="#cf2222"/>
<path d="M273.7 223.4L275.2 221.4L281.2 229.4L279.7 231.5Z" fill="#3da47d"/>
<path d="M194.9 244.3L196.4 244.8L202.4 252.8L200.9 252.3Z" fill="#0816e0"/>
<path d="M103.6 145.8L105.1 147.4L111.1 155.4L109.6 153.8Z" fill="#be3737"/>
<path d="M217.3 264.1L218.8 264.2L224.8 272.6L223.4 272.4Z" fill="#060fed"/>
<path d="M132.1 179.8L133.5 181.0L139.6 189.1L138.1 187.8Z" fill="#9d4328"/>
<path d="M162.0 212.6L163.5 213.5L169.5 221.5L168.0 220.7Z" fill="#3ba26c"/>
<path d="M275.2 221.4L276.7 219.3L282.7 227.3L281.2 229.4Z" fill="#49b86a"/>
<path d="M205.4 253.8L206.9 254.3L212.9 262.9L211.4 262.4Z" fill="#0613e1"/>
<path d="M172.5 223.1L174.0 223.8L180.0 232.2L178.5 231.4Z" fill="#102cd0"/>
<path d="M112.6 156.9L114.1 158.4L120.1 166.4L118.6 164.9Z" fill="#c20504"/>
<path d="M276.6 201.9L278.1 199.3L284.1 207.4L282.6 209.9Z" fill="#83763c"/>
<path d="M182.9 233.6L184.4 234.2L190.5 242.6L189.0 242.0Z" fill="#0a1ed9"/>
<path d="M274.8 146.8L276.3 144.0L282.3 154.0L280.9 156.5Z" fill="#b88080"/>
<path d="M276.5 183.5L278.0 180.8L284.0 188.7L282.5 191.4Z" fill="#c0241d"/>
<path d="M151.5 201.6L153.0 202.7L159.0 210.7L157.6 209.6Z" fill="#7a793c"/>
<path d="M276.4 164.5L277.9 161.8L283.9 170.5L282.4 173.0Z" fill="#cd3e3e"/>
<path d="M193.4 243.8L194.9 244.3L200.9 252.3L199.4 251.8Z" fill="#0818e0"/>
<path d="M215.9 263.8L217.3 264.1L223.4 272.4L221.9 272.2Z" fill="#0611ea"/>
<path d="M141.1 190.2L142.5 191.4L148.6 199.4L147.1 198.3Z" fill="#9b472a"/>
<path d="M121.6 167.8L123.1 169.2L129.1 177.2L127.6 175.8Z" fill="#b0291e"/>
<path d="M276.7 219.3L278.2 217.1L284.2 225.1L282.7 227.3Z" fill="#56c75b"/>
<path d="M278.1 199.3L279.6 196.7L285.6 204.8L284.1 207.4Z" fill="#916035"/>
<path d="M203.9 253.3L205.4 253.8L211.4 262.4L209.9 261.8Z" fill="#0713e1"/>
<path d="M276.3 144.0L277.8 141.4L283.8 151.5L282.3 154.0Z" fill="#c09292"/>
<path d="M278.0 180.8L279.5 178.1L285.5 185.9L284.0 188.7Z" fill="#c9100e"/>
<path d="M277.9 161.8L279.4 159.1L285.4 168.2L283.9 170.5Z" fill="#ca5353"/>
<path d="M171.0 222.4L172.5 223.1L178.5 231.4L177.0 230.6Z" fill="#1337c6"/>
<path d="M181.5 232.9L182.9 233.6L189.0 242.0L187.5 241.3Z" fill="#0c22d6"/>
<path d="M160.5 211.7L162.0 212.6L168.0 220.7L166.5 219.7Z" fill="#54bd52"/>
<path d="M130.6 178.5L132.1 179.8L138.1 187.8L136.6 186.6Z" fill="#a53924"/>
<path d="M278.2 217.1L279.6 214.8L285.7 222.8L284.2 225.1Z" fill="#60b952"/>
<path d="M214.4 263.4L215.9 263.8L221.9 272.2L220.4 271.9Z" fill="#0611e7"/>
<path d="M150.0 200.5L151.5 201.6L157.6 209.6L156.1 208.6Z" fill="#8b5d33"/>
<path d="M191.9 243.2L193.4 243.8L199.4 251.8L198.0 251.4Z" fill="#0819df"/>
<path d="M111.1 155.4L112.6 156.9L118.6 164.9L117.1 163.4Z" fill="#c21717"/>
<path d="M277.8 141.4L279.3 139.0L285.3 149.2L283.8 151.5Z" fill="#c9a3a3"/>
<path d="M279.6 196.7L281.0 194.1L287.1 202.1L285.6 204.8Z" fill="#a04c2d"/>
<path d="M279.4 159.1L280.9 156.5L286.9 165.8L285.4 168.2Z" fill="#c56464"/>
<path d="M139.6 189.1L141.1 190.2L147.1 198.3L145.6 197.1Z" fill="#a53a25"/>
<path d="M202.4 252.8L203.9 253.3L209.9 261.8L208.4 261.3Z" fill="#0714e1"/>
<path d="M279.6 214.8L281.1 212.4L287.1 220.4L285.7 222.8Z" fill="#6ba34b"/>
<path d="M279.5 178.1L280.9 175.5L287.0 183.1L285.5 185.9Z" fill="#d00606"/>
<path d="M120.1 166.4L121.6 167.8L127.6 175.8L126.1 174.4Z" fill="#bb1814"/>
<path d="M180.0 232.2L181.5 232.9L187.5 241.3L186.0 240.5Z" fill="#0d25d3"/>
<path d="M212.9 262.9L214.4 263.4L220.4 271.9L218.9 271.5Z" fill="#0611e4"/>
<path d="M169.5 221.5L171.0 222.4L177.0 230.6L175.5 229.7Z" fill="#2063a2"/>
<path d="M159.0 210.7L160.5 211.7L166.5 219.7L165.1 218.7Z" fill="#689845"/>
<path d="M190.5 242.6L191.9 243.2L198.0 251.4L196.5 250.9Z" fill="#091bde"/>
<path d="M129.1 177.2L130.6 178.5L136.6 186.6L135.1 185.3Z" fill="#ac2f20"/>
<path d="M280.9 156.5L282.3 154.0L288.4 163.6L286.9 165.8Z" fill="#c17474"/>
<path d="M148.6 199.4L150.0 200.5L156.1 208.6L154.6 207.5Z" fill="#9b482a"/>
<path d="M281.0 194.1L282.5 191.4L288.5 199.4L287.1 202.1Z" fill="#b03825"/>
<path d="M281.1 212.4L282.6 209.9L288.6 217.9L287.1 220.4Z" fill="#778d43"/>
<path d="M200.9 252.3L202.4 252.8L208.4 261.3L207.0 260.8Z" fill="#0716e1"/>
<path d="M280.9 175.5L282.4 173.0L288.4 180.3L287.0 183.1Z" fill="#cd2222"/>
<path d="M109.6 153.8L111.1 155.4L117.1 163.4L115.7 161.8Z" fill="#be3737"/>
<path d="M211.4 262.4L212.9 262.9L218.9 271.5L217.4 271.0Z" fill="#0611e3"/>
<path d="M138.1 187.8L139.6 189.1L145.6 197.1L144.1 195.9Z" fill="#ab3222"/>
<path d="M178.5 231.4L180.0 232.2L186.0 240.5L184.5 239.7Z" fill="#0f29d0"/>
<path d="M189.0 242.0L190.5 242.6L196.5 250.9L195.0 250.3Z" fill="#0a1ddb"/>
<path d="M282.3 154.0L283.8 151.5L289.8 161.3L288.4 163.6Z" fill="#bc8484"/>
<path d="M168.0 220.7L169.5 221.5L175.5 229.7L174.1 228.7Z" fill="#369577"/>
<path d="M118.6 164.9L120.1 166.4L126.1 174.4L124.6 173.0Z" fill="#c30404"/>
<path d="M282.6 209.9L284.1 207.4L290.1 215.4L288.6 217.9Z" fill="#83773c"/>
<path d="M157.6 209.6L159.0 210.7L165.1 218.7L163.6 217.7Z" fill="#7e733a"/>
<path d="M282.5 191.4L284.0 188.7L290.0 196.7L288.5 199.4Z" fill="#c0231c"/>
<path d="M282.4 173.0L283.9 170.5L289.9 177.5L288.4 180.3Z" fill="#cb3f3f"/>
<path d="M199.4 251.8L200.9 252.3L207.0 260.8L205.5 260.3Z" fill="#0817e1"/>
<path d="M127.6 175.8L129.1 177.2L135.1 185.3L133.6 184.0Z" fill="#b6221b"/>
<path d="M147.1 198.3L148.6 199.4L154.6 207.5L153.1 206.4Z" fill="#ab3322"/>
<path d="M209.9 261.8L211.4 262.4L217.4 271.0L215.9 270.5Z" fill="#0612e2"/>
<path d="M283.8 151.5L285.3 149.2L291.3 159.0L289.8 161.3Z" fill="#c29393"/>
<path d="M284.1 207.4L285.6 204.8L291.6 212.8L290.1 215.4Z" fill="#916035"/>
<path d="M187.5 241.3L189.0 242.0L195.0 250.3L193.5 249.6Z" fill="#0b21d7"/>
<path d="M177.0 230.6L178.5 231.4L184.5 239.7L183.0 238.8Z" fill="#1130ca"/>
<path d="M136.6 186.6L138.1 187.8L144.1 195.9L142.6 194.7Z" fill="#b12a1e"/>
<path d="M284.0 188.7L285.5 185.9L291.5 193.9L290.0 196.7Z" fill="#c90f0d"/>
<path d="M166.5 219.7L168.0 220.7L174.1 228.7L172.6 227.8Z" fill="#50bc54"/>
<path d="M283.9 170.5L285.4 168.2L291.4 174.7L289.9 177.5Z" fill="#c65353"/>
<path d="M198.0 251.4L199.4 251.8L205.5 260.3L204.0 259.8Z" fill="#0818e1"/>
<path d="M156.1 208.6L157.6 209.6L163.6 217.7L162.1 216.6Z" fill="#93532f"/>
<path d="M117.1 163.4L118.6 164.9L124.6 173.0L123.2 171.5Z" fill="#c21717"/>
<path d="M208.4 261.3L209.9 261.8L215.9 270.5L214.5 270.0Z" fill="#0612e2"/>
<path d="M285.6 204.8L287.1 202.1L293.1 210.1L291.6 212.8Z" fill="#a04c2d"/>
<path d="M145.6 197.1L147.1 198.3L153.1 206.4L151.6 205.2Z" fill="#b6261d"/>
<path d="M126.1 174.4L127.6 175.8L133.6 184.0L132.2 182.6Z" fill="#bd1310"/>
<path d="M186.0 240.5L187.5 241.3L193.5 249.6L192.0 248.9Z" fill="#0d24d3"/>
<path d="M285.4 168.2L286.9 165.8L292.9 171.9L291.4 174.7Z" fill="#c16464"/>
<path d="M285.5 185.9L287.0 183.1L293.0 191.0L291.5 193.9Z" fill="#ce0808"/>
<path d="M175.5 229.7L177.0 230.6L183.0 238.8L181.6 237.9Z" fill="#1e5ca6"/>
<path d="M196.5 250.9L198.0 251.4L204.0 259.8L202.5 259.3Z" fill="#091adf"/>
<path d="M165.1 218.7L166.5 219.7L172.6 227.8L171.1 226.7Z" fill="#679946"/>
<path d="M135.1 185.3L136.6 186.6L142.6 194.7L141.1 193.5Z" fill="#b8211b"/>
<path d="M207.0 260.8L208.4 261.3L214.5 270.0L213.0 269.5Z" fill="#0714e1"/>
<path d="M154.6 207.5L156.1 208.6L162.1 216.6L160.6 215.5Z" fill="#a63a25"/>
<path d="M287.1 202.1L288.5 199.4L294.6 207.5L293.1 210.1Z" fill="#b03825"/>
<path d="M286.9 165.8L288.4 163.6L294.4 169.3L292.9 171.9Z" fill="#bb7474"/>
<path d="M115.7 161.8L117.1 163.4L123.2 171.5L121.7 169.9Z" fill="#bf3535"/>
<path d="M287.0 183.1L288.4 180.3L294.5 188.1L293.0 191.0Z" fill="#cb2727"/>
<path d="M184.5 239.7L186.0 240.5L192.0 248.9L190.6 248.0Z" fill="#0e27d0"/>
<path d="M144.1 195.9L145.6 197.1L151.6 205.2L150.1 204.1Z" fill="#bb201a"/>
<path d="M195.0 250.3L196.5 250.9L202.5 259.3L201.0 258.7Z" fill="#0a1cdc"/>
<path d="M174.1 228.7L175.5 229.7L181.6 237.9L180.1 236.9Z" fill="#338f7b"/>
<path d="M124.6 173.0L126.1 174.4L132.2 182.6L130.7 181.1Z" fill="#c40202"/>
<path d="M205.5 260.3L207.0 260.8L213.0 269.5L211.5 268.9Z" fill="#0715e1"/>
<path d="M163.6 217.7L165.1 218.7L171.1 226.7L169.6 225.7Z" fill="#7f7039"/>
<path d="M288.5 199.4L290.0 196.7L296.1 204.8L294.6 207.5Z" fill="#c0241d"/>
<path d="M288.4 163.6L289.8 161.3L295.9 166.7L294.4 169.3Z" fill="#b88484"/>
<path d="M133.6 184.0L135.1 185.3L141.1 193.5L139.7 192.2Z" fill="#bd1714"/>
<path d="M153.1 206.4L154.6 207.5L160.6 215.5L159.1 214.5Z" fill="#b9221c"/>
<path d="M288.4 180.3L289.9 177.5L296.0 185.2L294.5 188.1Z" fill="#c84646"/>
<path d="M193.5 249.6L195.0 250.3L201.0 258.7L199.5 258.0Z" fill="#0b1fd8"/>
<path d="M183.0 238.8L184.5 239.7L190.6 248.0L189.1 247.1Z" fill="#112eca"/>
<path d="M289.8 161.3L291.3 159.0L297.4 164.3L295.9 166.7Z" fill="#bf9393"/>
<path d="M204.0 259.8L205.5 260.3L211.5 268.9L210.0 268.3Z" fill="#0817e0"/>
<path d="M142.6 194.7L144.1 195.9L150.1 204.1L148.7 202.9Z" fill="#be1916"/>
<path d="M172.6 227.8L174.1 228.7L180.1 236.9L178.6 235.8Z" fill="#4eba56"/>
<path d="M290.0 196.7L291.5 193.9L297.5 202.1L296.1 204.8Z" fill="#c9100e"/>
<path d="M162.1 216.6L163.6 217.7L169.6 225.7L168.1 224.6Z" fill="#974e2d"/>
<path d="M123.2 171.5L124.6 173.0L130.7 181.1L129.2 179.6Z" fill="#c21717"/>
<path d="M289.9 177.5L291.4 174.7L297.4 182.2L296.0 185.2Z" fill="#c15959"/>
<path d="M151.6 205.2L153.1 206.4L159.1 214.5L157.6 213.4Z" fill="#c11512"/>
<path d="M192.0 248.9L193.5 249.6L199.5 258.0L198.1 257.2Z" fill="#0c23d4"/>
<path d="M132.2 182.6L133.6 184.0L139.7 192.2L138.2 190.8Z" fill="#c10c0a"/>
<path d="M202.5 259.3L204.0 259.8L210.0 268.3L208.5 267.7Z" fill="#0818de"/>
<path d="M181.6 237.9L183.0 238.8L189.1 247.1L187.6 246.1Z" fill="#1d58a9"/>
<path d="M291.5 193.9L293.0 191.0L299.0 199.5L297.5 202.1Z" fill="#cf0707"/>
<path d="M171.1 226.7L172.6 227.8L178.6 235.8L177.1 234.7Z" fill="#669946"/>
<path d="M141.1 193.5L142.6 194.7L148.7 202.9L147.2 201.8Z" fill="#c01310"/>
<path d="M160.6 215.5L162.1 216.6L168.1 224.6L166.6 223.5Z" fill="#ad3222"/>
<path d="M291.4 174.7L292.9 171.9L298.9 179.3L297.4 182.2Z" fill="#bb6c6c"/>
<path d="M190.6 248.0L192.0 248.9L198.1 257.2L196.6 256.4Z" fill="#0e26d0"/>
<path d="M201.0 258.7L202.5 259.3L208.5 267.7L207.1 267.0Z" fill="#091bdc"/>
<path d="M293.0 191.0L294.5 188.1L300.5 196.9L299.0 199.5Z" fill="#cd2424"/>
<path d="M121.7 169.9L123.2 171.5L129.2 179.6L127.7 178.1Z" fill="#bf3232"/>
<path d="M150.1 204.1L151.6 205.2L157.6 213.4L156.2 212.3Z" fill="#c2110e"/>
<path d="M180.1 236.9L181.6 237.9L187.6 246.1L186.1 245.1Z" fill="#318b7d"/>
<path d="M130.7 181.1L132.2 182.6L138.2 190.8L136.7 189.4Z" fill="#c50202"/>
<path d="M169.6 225.7L171.1 226.7L177.1 234.7L175.6 233.6Z" fill="#806e38"/>
<path d="M292.9 171.9L294.4 169.3L300.4 176.4L298.9 179.3Z" fill="#b57f7f"/>
<path d="M139.7 192.2L141.1 193.5L147.2 201.8L145.7 200.5Z" fill="#c20c0a"/>
<path d="M294.5 188.1L296.0 185.2L302.0 194.3L300.5 196.9Z" fill="#cb4242"/>
<path d="M159.1 214.5L160.6 215.5L166.6 223.5L165.2 222.5Z" fill="#c01915"/>
<path d="M199.5 258.0L201.0 258.7L207.1 267.0L205.6 266.2Z" fill="#0a1ed8"/>
<path d="M189.1 247.1L190.6 248.0L196.6 256.4L195.1 255.4Z" fill="#102dca"/>
<path d="M148.7 202.9L150.1 204.1L156.2 212.3L154.7 211.2Z" fill="#c40c0a"/>
<path d="M178.6 235.8L180.1 236.9L186.1 245.1L184.6 244.0Z" fill="#4db757"/>
<path d="M294.4 169.3L295.9 166.7L301.9 173.8L300.4 176.4Z" fill="#bd9191"/>
<path d="M129.2 179.6L130.7 181.1L136.7 189.4L135.2 188.0Z" fill="#c21616"/>
<path d="M296.0 185.2L297.4 182.2L303.5 191.8L302.0 194.3Z" fill="#c55757"/>
<path d="M168.1 224.6L169.6 225.7L175.6 233.6L174.1 232.5Z" fill="#994b2c"/>
<path d="M198.1 257.2L199.5 258.0L205.6 266.2L204.1 265.4Z" fill="#0c22d4"/>
<path d="M138.2 190.8L139.7 192.2L145.7 200.5L144.2 199.3Z" fill="#c50404"/>
<path d="M157.6 213.4L159.1 214.5L165.2 222.5L163.7 221.5Z" fill="#c60b09"/>
<path d="M187.6 246.1L189.1 247.1L195.1 255.4L193.6 254.5Z" fill="#1b53ac"/>
<path d="M295.9 166.7L297.4 164.3L303.4 171.3L301.9 173.8Z" fill="#c7a3a3"/>
<path d="M147.2 201.8L148.7 202.9L154.7 211.2L153.2 210.1Z" fill="#c60807"/>
<path d="M177.1 234.7L178.6 235.8L184.6 244.0L183.1 242.9Z" fill="#659946"/>
<path d="M297.4 182.2L298.9 179.3L305.0 189.4L303.5 191.8Z" fill="#c06969"/>
<path d="M166.6 223.5L168.1 224.6L174.1 232.5L172.7 231.5Z" fill="#af2f21"/>
<path d="M196.6 256.4L198.1 257.2L204.1 265.4L202.6 264.5Z" fill="#0d25d0"/>
<path d="M127.7 178.1L129.2 179.6L135.2 188.0L133.7 186.4Z" fill="#c02c2c"/>
<path d="M156.2 212.3L157.6 213.4L163.7 221.5L162.2 220.4Z" fill="#c70807"/>
<path d="M186.1 245.1L187.6 246.1L193.6 254.5L192.1 253.4Z" fill="#2f8681"/>
<path d="M136.7 189.4L138.2 190.8L144.2 199.3L142.7 197.9Z" fill="#c50606"/>
<path d="M298.9 179.3L300.4 176.4L306.4 187.0L305.0 189.4Z" fill="#bb7b7b"/>
<path d="M145.7 200.5L147.2 201.8L153.2 210.1L151.7 209.0Z" fill="#c70303"/>
<path d="M175.6 233.6L177.1 234.7L183.1 242.9L181.7 241.7Z" fill="#7f6f38"/>
<path d="M195.1 255.4L196.6 256.4L202.6 264.5L201.1 263.6Z" fill="#102cca"/>
<path d="M165.2 222.5L166.6 223.5L172.7 231.5L171.2 230.4Z" fill="#c11612"/>
<path d="M300.4 176.4L301.9 173.8L307.9 184.7L306.4 187.0Z" fill="#be8c8c"/>
<path d="M154.7 211.2L156.2 212.3L162.2 220.4L160.7 219.4Z" fill="#c90504"/>
<path d="M184.6 244.0L186.1 245.1L192.1 253.4L190.6 252.3Z" fill="#4bb559"/>
<path d="M135.2 188.0L136.7 189.4L142.7 197.9L141.2 196.5Z" fill="#c31414"/>
<path d="M301.9 173.8L303.4 171.3L309.4 182.3L307.9 184.7Z" fill="#c79e9e"/>
<path d="M174.1 232.5L175.6 233.6L181.7 241.7L180.2 240.6Z" fill="#984b2c"/>
<path d="M144.2 199.3L145.7 200.5L151.7 209.0L150.2 207.8Z" fill="#c80101"/>
<path d="M193.6 254.5L195.1 255.4L201.1 263.6L199.6 262.6Z" fill="#1a4fae"/>
<path d="M163.7 221.5L165.2 222.5L171.2 230.4L169.7 229.4Z" fill="#c80807"/>
<path d="M153.2 210.1L154.7 211.2L160.7 219.4L159.2 218.4Z" fill="#ca0201"/>
<path d="M183.1 242.9L184.6 244.0L190.6 252.3L189.2 251.2Z" fill="#649c47"/>
<path d="M133.7 186.4L135.2 188.0L141.2 196.5L139.8 194.9Z" fill="#c12323"/>
<path d="M172.7 231.5L174.1 232.5L180.2 240.6L178.7 239.5Z" fill="#af2f21"/>
<path d="M142.7 197.9L144.2 199.3L150.2 207.8L148.7 206.5Z" fill="#c60808"/>
<path d="M192.1 253.4L193.6 254.5L199.6 262.6L198.2 261.6Z" fill="#2d8284"/>
<path d="M162.2 220.4L163.7 221.5L169.7 229.4L168.2 228.5Z" fill="#c90505"/>
<path d="M151.7 209.0L153.2 210.1L159.2 218.4L157.7 217.3Z" fill="#ca0101"/>
<path d="M181.7 241.7L183.1 242.9L189.2 251.2L187.7 250.1Z" fill="#7d7139"/>
<path d="M171.2 230.4L172.7 231.5L178.7 239.5L177.2 238.5Z" fill="#c11512"/>
<path d="M190.6 252.3L192.1 253.4L198.2 261.6L196.7 260.5Z" fill="#48b25b"/>
<path d="M160.7 219.4L162.2 220.4L168.2 228.5L166.7 227.5Z" fill="#ca0303"/>
<path d="M141.2 196.5L142.7 197.9L148.7 206.5L147.3 205.1Z" fill="#c40f0f"/>
<path d="M150.2 207.8L151.7 209.0L157.7 217.3L156.2 216.2Z" fill="#c90404"/>
<path d="M180.2 240.6L181.7 241.7L187.7 250.1L186.2 248.9Z" fill="#974d2d"/>
<path d="M169.7 229.4L171.2 230.4L177.2 238.5L175.7 237.4Z" fill="#c80807"/>
<path d="M159.2 218.4L160.7 219.4L166.7 227.5L165.2 226.5Z" fill="#cb0101"/>
<path d="M189.2 251.2L190.6 252.3L196.7 260.5L195.2 259.4Z" fill="#629f48"/>
<path d="M139.8 194.9L141.2 196.5L147.3 205.1L145.8 203.6Z" fill="#c21818"/>
<path d="M148.7 206.5L150.2 207.8L156.2 216.2L154.8 215.0Z" fill="#c70606"/>
<path d="M178.7 239.5L180.2 240.6L186.2 248.9L184.7 247.8Z" fill="#ae3121"/>
<path d="M168.2 228.5L169.7 229.4L175.7 237.4L174.2 236.5Z" fill="#c90605"/>
<path d="M157.7 217.3L159.2 218.4L165.2 226.5L163.8 225.5Z" fill="#cb0101"/>
<path d="M187.7 250.1L189.2 251.2L195.2 259.4L193.7 258.3Z" fill="#7c743a"/>
<path d="M177.2 238.5L178.7 239.5L184.7 247.8L183.2 246.7Z" fill="#c01713"/>
<path d="M147.3 205.1L148.7 206.5L154.8 215.0L153.3 213.6Z" fill="#c50a0a"/>
<path d="M166.7 227.5L168.2 228.5L174.2 236.5L172.8 235.5Z" fill="#ca0303"/>
<path d="M156.2 216.2L157.7 217.3L163.8 225.5L162.3 224.4Z" fill="#ca0202"/>
<path d="M186.2 248.9L187.7 250.1L193.7 258.3L192.2 257.1Z" fill="#94502e"/>
<path d="M175.7 237.4L177.2 238.5L183.2 246.7L181.7 245.6Z" fill="#c70907"/>
<path d="M165.2 226.5L166.7 227.5L172.8 235.5L171.3 234.5Z" fill="#cb0101"/>
<path d="M145.8 203.6L147.3 205.1L153.3 213.6L151.8 212.1Z" fill="#c30f0f"/>
<path d="M154.8 215.0L156.2 216.2L162.3 224.4L160.8 223.2Z" fill="#c80303"/>
<path d="M184.7 247.8L186.2 248.9L192.2 257.1L190.7 256.0Z" fill="#ab3322"/>
<path d="M174.2 236.5L175.7 237.4L181.7 245.6L180.3 244.5Z" fill="#c80605"/>
<path d="M163.8 225.5L165.2 226.5L171.3 234.5L169.8 233.4Z" fill="#cb0101"/>
<path d="M153.3 213.6L154.8 215.0L160.8 223.2L159.3 221.9Z" fill="#c60505"/>
<path d="M183.2 246.7L184.7 247.8L190.7 256.0L189.2 254.8Z" fill="#bf1815"/>
<path d="M172.8 235.5L174.2 236.5L180.3 244.5L178.8 243.4Z" fill="#c90303"/>
<path d="M162.3 224.4L163.8 225.5L169.8 233.4L168.3 232.3Z" fill="#c90101"/>
<path d="M181.7 245.6L183.2 246.7L189.2 254.8L187.8 253.6Z" fill="#c50a09"/>
<path d="M151.8 212.1L153.3 213.6L159.3 221.9L157.8 220.3Z" fill="#c30909"/>
<path d="M171.3 234.5L172.8 235.5L178.8 243.4L177.3 242.3Z" fill="#ca0100"/>
<path d="M160.8 223.2L162.3 224.4L168.3 232.3L166.8 231.1Z" fill="#c80202"/>
<path d="M180.3 244.5L181.7 245.6L187.8 253.6L186.3 252.5Z" fill="#c60605"/>
<path d="M169.8 233.4L171.3 234.5L177.3 242.3L175.8 241.2Z" fill="#c90303"/>
<path d="M159.3 221.9L160.8 223.2L166.8 231.1L165.3 229.7Z" fill="#c50404"/>
<path d="M178.8 243.4L180.3 244.5L186.3 252.5L184.8 251.3Z" fill="#c80302"/>
<path d="M168.3 232.3L169.8 233.4L175.8 241.2L174.3 240.0Z" fill="#c80404"/>
<path d="M157.8 220.3L159.3 221.9L165.3 229.7L163.8 228.2Z" fill="#c30909"/>
<path d="M177.3 242.3L178.8 243.4L184.8 251.3L183.3 250.1Z" fill="#c80101"/>
<path d="M166.8 231.1L168.3 232.3L174.3 240.0L172.8 238.7Z" fill="#c60505"/>
<path d="M175.8 241.2L177.3 242.3L183.3 250.1L181.8 248.8Z" fill="#c70606"/>
<path d="M165.3 229.7L166.8 231.1L172.8 238.7L171.4 237.3Z" fill="#c40808"/>
<path d="M174.3 240.0L175.8 241.2L181.8 248.8L180.3 247.5Z" fill="#c60909"/>
<path d="M163.8 228.2L165.3 229.7L171.4 237.3L169.9 235.7Z" fill="#c20d0d"/>
<path d="M172.8 238.7L174.3 240.0L180.3 247.5L178.9 246.1Z" fill="#c50b0b"/>
<path d="M171.4 237.3L172.8 238.7L178.9 246.1L177.4 244.7Z" fill="#c30f0f"/>
<path d="M169.9 235.7L171.4 237.3L177.4 244.7L175.9 243.1Z" fill="#c11414"/>
</g>
<g clip-path="url(#cpA)">
<ellipse cx="109.8" cy="121.8" rx="22.0" ry="5.5" fill="url(#sgb)" opacity="0.75" transform="rotate(53 109.8 121.8)"/>
<ellipse cx="133.9" cy="154.7" rx="24.0" ry="5.5" fill="url(#sgb)" opacity="0.60" transform="rotate(53 133.9 154.7)"/>
<ellipse cx="158.0" cy="187.2" rx="24.0" ry="5.5" fill="url(#sgb)" opacity="0.45" transform="rotate(53 158.0 187.2)"/>
<ellipse cx="179.7" cy="215.8" rx="20.0" ry="5.5" fill="url(#sgb)" opacity="0.30" transform="rotate(53 179.7 215.8)"/>
<ellipse cx="116.3" cy="111.5" rx="11.5" ry="7.0" fill="url(#sga)" opacity="1.00" transform="rotate(-30 116.3 111.5)"/>
<ellipse cx="122.7" cy="128.7" rx="10.3" ry="5.5" fill="url(#sga)" opacity="0.94" transform="rotate(-20 122.7 128.7)"/>
<ellipse cx="139.7" cy="146.8" rx="13.8" ry="6.6" fill="url(#sga)" opacity="0.94" transform="rotate(-20 139.7 146.8)"/>
<ellipse cx="151.4" cy="161.7" rx="11.5" ry="5.5" fill="url(#sga)" opacity="0.85" transform="rotate(-20 151.4 161.7)"/>
<ellipse cx="197.9" cy="225.5" rx="11.5" ry="5.5" fill="url(#sga)" opacity="0.59" transform="rotate(-20 197.9 225.5)"/>
<ellipse cx="225.7" cy="253.2" rx="13.8" ry="6.6" fill="url(#sga)" opacity="0.94" transform="rotate(-20 225.7 253.2)"/>
<ellipse cx="182.7" cy="205.0" rx="9.2" ry="5.5" fill="url(#sga)" opacity="0.42" transform="rotate(-20 182.7 205.0)"/>
</g>
<g filter="url(#bl)"><path d="M174.9 188.6L183.4 185.2L187.9 191.1L179.3 194.5 Z" fill="#fff"/></g>
<g filter="url(#bl)" shape-rendering="crispEdges">
<path d="M519.4 61.8 522.4 60.4 525.1 64.7 522.1 65.8" fill="#50ac4f"/>
<path d="M516.3 62.6 519.4 61.8 522.1 65.8 519.1 66.6" fill="#54ac50"/>
<path d="M522.1 65.8 525.1 64.7 527.9 68.9 524.8 69.8" fill="#52ae51"/>
<path d="M513.3 62.6 516.3 62.6 519.1 66.6 516.0 66.8" fill="#58ab4f"/>
<path d="M519.1 66.6 522.1 65.8 524.8 69.8 521.8 70.6" fill="#56ad50"/>
<path d="M524.8 69.8 527.9 68.9 530.6 73.0 527.6 73.8" fill="#53b051"/>
<path d="M516.0 66.8 519.1 66.6 521.8 70.6 518.8 71.0" fill="#5bad50"/>
<path d="M510.3 62.2 513.3 62.6 516.0 66.8 513.0 66.8" fill="#5da84e"/>
<path d="M521.8 70.6 524.8 69.8 527.6 73.8 524.5 74.5" fill="#58af51"/>
<path d="M527.6 73.8 530.6 73.0 533.4 77.1 530.3 77.8" fill="#53b051"/>
<path d="M513.0 66.8 516.0 66.8 518.8 71.0 515.7 71.2" fill="#61ac50"/>
<path d="M518.8 71.0 521.8 70.6 524.5 74.5 521.5 75.0" fill="#5dae51"/>
<path d="M507.2 61.7 510.3 62.2 513.0 66.8 510.0 66.7" fill="#62a74d"/>
<path d="M524.5 74.5 527.6 73.8 530.3 77.8 527.3 78.4" fill="#59b052"/>
<path d="M530.3 77.8 533.4 77.1 536.1 80.5 533.1 81.2" fill="#52ae50"/>
<path d="M515.7 71.2 518.8 71.0 521.5 75.0 518.5 75.4" fill="#64ae51"/>
<path d="M510.0 66.7 513.0 66.8 515.7 71.2 512.7 71.4" fill="#68ab4f"/>
<path d="M521.5 75.0 524.5 74.5 527.3 78.4 524.3 78.9" fill="#5eb051"/>
<path d="M504.2 61.9 507.2 61.7 510.0 66.7 506.9 67.2" fill="#6dad50"/>
<path d="M527.3 78.4 530.3 77.8 533.1 81.2 530.0 81.9" fill="#58af51"/>
<path d="M512.7 71.4 515.7 71.2 518.5 75.4 515.4 75.8" fill="#6bad50"/>
<path d="M506.9 67.2 510.0 66.7 512.7 71.4 509.7 72.0" fill="#71ae51"/>
<path d="M518.5 75.4 521.5 75.0 524.3 78.9 521.2 79.4" fill="#65af51"/>
<path d="M501.2 62.1 504.2 61.9 506.9 67.2 503.9 67.6" fill="#74ad51"/>
<path d="M533.1 81.2 536.1 80.5 538.8 83.2 535.8 84.2" fill="#52ac50"/>
<path d="M524.3 78.9 527.3 78.4 530.0 81.9 527.0 82.6" fill="#5eaf51"/>
<path d="M503.9 67.6 506.9 67.2 509.7 72.0 506.6 72.6" fill="#79af51"/>
<path d="M509.7 72.0 512.7 71.4 515.4 75.8 512.4 76.4" fill="#74af51"/>
<path d="M515.4 75.8 518.5 75.4 521.2 79.4 518.2 79.9" fill="#6daf51"/>
<path d="M498.1 63.2 501.2 62.1 503.9 67.6 500.9 68.7" fill="#7aad51"/>
<path d="M530.0 81.9 533.1 81.2 535.8 84.2 532.8 85.1" fill="#57ae51"/>
<path d="M521.2 79.4 524.3 78.9 527.0 82.6 524.0 83.2" fill="#65af51"/>
<path d="M495.1 64.7 498.1 63.2 500.9 68.7 497.8 70.1" fill="#7eab50"/>
<path d="M500.9 68.7 503.9 67.6 506.6 72.6 503.6 73.6" fill="#7fae51"/>
<path d="M506.6 72.6 509.7 72.0 512.4 76.4 509.4 77.1" fill="#7caf51"/>
<path d="M512.4 76.4 515.4 75.8 518.2 79.9 515.1 80.7" fill="#76af51"/>
<path d="M492.1 66.4 495.1 64.7 497.8 70.1 494.8 71.6" fill="#81ab50"/>
<path d="M527.0 82.6 530.0 81.9 532.8 85.1 529.7 85.9" fill="#5eaf51"/>
<path d="M497.8 70.1 500.9 68.7 503.6 73.6 500.6 74.9" fill="#84ac50"/>
<path d="M535.8 84.2 538.8 83.2 541.6 86.0 538.5 87.2" fill="#52ad53"/>
<path d="M518.2 79.9 521.2 79.4 524.0 83.2 520.9 83.8" fill="#6daf51"/>
<path d="M489.0 68.0 492.1 66.4 494.8 71.6 491.8 73.1" fill="#84ae51"/>
<path d="M503.6 73.6 506.6 72.6 509.4 77.1 506.3 78.2" fill="#83ae51"/>
<path d="M494.8 71.6 497.8 70.1 500.6 74.9 497.5 76.3" fill="#87ac50"/>
<path d="M509.4 77.1 512.4 76.4 515.1 80.7 512.1 81.4" fill="#7eae51"/>
<path d="M486.0 69.5 489.0 68.0 491.8 73.1 488.7 74.5" fill="#84ae51"/>
<path d="M524.0 83.2 527.0 82.6 529.7 85.9 526.7 86.7" fill="#65af51"/>
<path d="M532.8 85.1 535.8 84.2 538.5 87.2 535.5 88.3" fill="#57af54"/>
<path d="M500.6 74.9 503.6 73.6 506.3 78.2 503.3 79.4" fill="#88ad51"/>
<path d="M491.8 73.1 494.8 71.6 497.5 76.3 494.5 77.7" fill="#8aae51"/>
<path d="M515.1 80.7 518.2 79.9 520.9 83.8 517.9 84.6" fill="#76ae51"/>
<path d="M483.0 71.0 486.0 69.5 488.7 74.5 485.7 76.0" fill="#82af52"/>
<path d="M506.3 78.2 509.4 77.1 512.1 81.4 509.1 82.4" fill="#85ae51"/>
<path d="M479.9 72.8 483.0 71.0 485.7 76.0 482.7 77.5" fill="#7dad52"/>
<path d="M488.7 74.5 491.8 73.1 494.5 77.7 491.5 79.1" fill="#89ae51"/>
<path d="M497.5 76.3 500.6 74.9 503.3 79.4 500.3 80.7" fill="#8bac50"/>
<path d="M529.7 85.9 532.8 85.1 535.5 88.3 532.5 89.3" fill="#5daf53"/>
<path d="M520.9 83.8 524.0 83.2 526.7 86.7 523.7 87.5" fill="#6cae51"/>
<path d="M476.9 74.6 479.9 72.8 482.7 77.5 479.6 79.2" fill="#77ac51"/>
<path d="M512.1 81.4 515.1 80.7 517.9 84.6 514.9 85.4" fill="#7eae51"/>
<path d="M485.7 76.0 488.7 74.5 491.5 79.1 488.4 80.4" fill="#86ae51"/>
<path d="M494.5 77.7 497.5 76.3 500.3 80.7 497.2 82.0" fill="#8dac50"/>
<path d="M538.5 87.2 541.6 86.0 544.3 88.8 541.3 90.2" fill="#52ac57"/>
<path d="M503.3 79.4 506.3 78.2 509.1 82.4 506.0 83.5" fill="#8aad50"/>
<path d="M473.9 76.4 476.9 74.6 479.6 79.2 476.6 80.8" fill="#71ab52"/>
<path d="M526.7 86.7 529.7 85.9 532.5 89.3 529.4 90.2" fill="#63ae52"/>
<path d="M482.7 77.5 485.7 76.0 488.4 80.4 485.4 81.9" fill="#81ad51"/>
<path d="M517.9 84.6 520.9 83.8 523.7 87.5 520.6 88.4" fill="#74ae51"/>
<path d="M470.8 77.9 473.9 76.4 476.6 80.8 473.6 82.3" fill="#6dae54"/>
<path d="M491.5 79.1 494.5 77.7 497.2 82.0 494.2 83.3" fill="#8cac50"/>
<path d="M535.5 88.3 538.5 87.2 541.3 90.2 538.2 91.5" fill="#57af59"/>
<path d="M509.1 82.4 512.1 81.4 514.9 85.4 511.8 86.4" fill="#85ad50"/>
<path d="M500.3 80.7 503.3 79.4 506.0 83.5 503.0 84.8" fill="#8dab50"/>
<path d="M479.6 79.2 482.7 77.5 485.4 81.9 482.4 83.5" fill="#7bac51"/>
<path d="M467.8 79.4 470.8 77.9 473.6 82.3 470.5 83.7" fill="#6ab056"/>
<path d="M488.4 80.4 491.5 79.1 494.2 83.3 491.2 84.6" fill="#88ac50"/>
<path d="M523.7 87.5 526.7 86.7 529.4 90.2 526.4 91.1" fill="#6aae51"/>
<path d="M476.6 80.8 479.6 79.2 482.4 83.5 479.3 85.0" fill="#74ac52"/>
<path d="M497.2 82.0 500.3 80.7 503.0 84.8 500.0 86.0" fill="#8daa4f"/>
<path d="M514.9 85.4 517.9 84.6 520.6 88.4 517.6 89.2" fill="#7cad50"/>
<path d="M532.5 89.3 535.5 88.3 538.2 91.5 535.2 92.6" fill="#5baf57"/>
<path d="M506.0 83.5 509.1 82.4 511.8 86.4 508.8 87.5" fill="#8aac50"/>
<path d="M464.8 80.9 467.8 79.4 470.5 83.7 467.5 85.1" fill="#68b459"/>
<path d="M485.4 81.9 488.4 80.4 491.2 84.6 488.1 86.0" fill="#83ac51"/>
<path d="M473.6 82.3 476.6 80.8 479.3 85.0 476.3 86.4" fill="#70af55"/>
<path d="M494.2 83.3 497.2 82.0 500.0 86.0 496.9 87.3" fill="#8ba94f"/>
<path d="M541.3 90.2 544.3 88.8 547.0 92.1 544.0 93.6" fill="#54af64"/>
<path d="M461.7 82.3 464.8 80.9 467.5 85.1 464.5 86.4" fill="#68b75b"/>
<path d="M520.6 88.4 523.7 87.5 526.4 91.1 523.4 92.1" fill="#72ad50"/>
<path d="M529.4 90.2 532.5 89.3 535.2 92.6 532.2 93.7" fill="#61ae53"/>
<path d="M503.0 84.8 506.0 83.5 508.8 87.5 505.8 88.6" fill="#8dab4f"/>
<path d="M511.8 86.4 514.9 85.4 517.6 89.2 514.6 90.2" fill="#83ad50"/>
<path d="M482.4 83.5 485.4 81.9 488.1 86.0 485.1 87.5" fill="#7dac51"/>
<path d="M470.5 83.7 473.6 82.3 476.3 86.4 473.3 87.8" fill="#6bb157"/>
<path d="M538.2 91.5 541.3 90.2 544.0 93.6 541.0 95.0" fill="#59b266"/>
<path d="M491.2 84.6 494.2 83.3 496.9 87.3 493.9 88.6" fill="#88a94f"/>
<path d="M458.7 83.7 461.7 82.3 464.5 86.4 461.4 87.8" fill="#67b95d"/>
<path d="M479.3 85.0 482.4 83.5 485.1 87.5 482.1 89.0" fill="#76ad53"/>
<path d="M500.0 86.0 503.0 84.8 505.8 88.6 502.7 89.8" fill="#8eaa4f"/>
<path d="M467.5 85.1 470.5 83.7 473.3 87.8 470.2 89.1" fill="#69b359"/>
<path d="M526.4 91.1 529.4 90.2 532.2 93.7 529.1 94.7" fill="#67ad51"/>
<path d="M517.6 89.2 520.6 88.4 523.4 92.1 520.3 93.0" fill="#7aad50"/>
<path d="M508.8 87.5 511.8 86.4 514.6 90.2 511.5 91.3" fill="#89ac50"/>
<path d="M488.1 86.0 491.2 84.6 493.9 88.6 490.9 90.0" fill="#83aa50"/>
<path d="M535.2 92.6 538.2 91.5 541.0 95.0 537.9 96.2" fill="#5cb160"/>
<path d="M476.3 86.4 479.3 85.0 482.1 89.0 479.0 90.4" fill="#70ae55"/>
<path d="M455.6 85.1 458.7 83.7 461.4 87.8 458.4 89.2" fill="#66ba5e"/>
<path d="M464.5 86.4 467.5 85.1 470.2 89.1 467.2 90.5" fill="#67b65b"/>
<path d="M496.9 87.3 500.0 86.0 502.7 89.8 499.7 91.1" fill="#8ba84e"/>
<path d="M485.1 87.5 488.1 86.0 490.9 90.0 487.8 91.4" fill="#7daa51"/>
<path d="M505.8 88.6 508.8 87.5 511.5 91.3 508.5 92.4" fill="#8dac50"/>
<path d="M452.6 86.7 455.6 85.1 458.4 89.2 455.4 90.6" fill="#66b95e"/>
<path d="M544.0 93.6 547.0 92.1 549.8 95.8 546.8 97.3" fill="#59b376"/>
<path d="M473.3 87.8 476.3 86.4 479.0 90.4 476.0 91.7" fill="#6aaf56"/>
<path d="M523.4 92.1 526.4 91.1 529.1 94.7 526.1 95.7" fill="#6eac50"/>
<path d="M514.6 90.2 517.6 89.2 520.3 93.0 517.3 94.0" fill="#81ac50"/>
<path d="M532.2 93.7 535.2 92.6 537.9 96.2 534.9 97.3" fill="#5fae57"/>
<path d="M461.4 87.8 464.5 86.4 467.2 90.5 464.2 91.8" fill="#66b75c"/>
<path d="M493.9 88.6 496.9 87.3 499.7 91.1 496.6 92.4" fill="#87a74e"/>
<path d="M482.1 89.0 485.1 87.5 487.8 91.4 484.8 92.8" fill="#75aa52"/>
<path d="M449.6 88.2 452.6 86.7 455.4 90.6 452.3 92.1" fill="#64b65d"/>
<path d="M541.0 95.0 544.0 93.6 546.8 97.3 543.7 98.6" fill="#5eb77b"/>
<path d="M470.2 89.1 473.3 87.8 476.0 91.7 473.0 93.1" fill="#66b158"/>
<path d="M502.7 89.8 505.8 88.6 508.5 92.4 505.5 93.6" fill="#8eac50"/>
<path d="M511.5 91.3 514.6 90.2 517.3 94.0 514.3 95.0" fill="#86ac50"/>
<path d="M520.3 93.0 523.4 92.1 526.1 95.7 523.1 96.7" fill="#75ac50"/>
<path d="M458.4 89.2 461.4 87.8 464.2 91.8 461.1 93.1" fill="#65b95e"/>
<path d="M529.1 94.7 532.2 93.7 534.9 97.3 531.9 98.4" fill="#64ac51"/>
<path d="M490.9 90.0 493.9 88.6 496.6 92.4 493.6 93.7" fill="#82a84f"/>
<path d="M446.5 89.7 449.6 88.2 452.3 92.1 449.3 93.5" fill="#66b85f"/>
<path d="M479.0 90.4 482.1 89.0 484.8 92.8 481.8 94.2" fill="#6dab53"/>
<path d="M537.9 96.2 541.0 95.0 543.7 98.6 540.7 99.9" fill="#5db46e"/>
<path d="M467.2 90.5 470.2 89.1 473.0 93.1 469.9 94.4" fill="#64b35a"/>
<path d="M499.7 91.1 502.7 89.8 505.5 93.6 502.4 94.8" fill="#8caa4f"/>
<path d="M455.4 90.6 458.4 89.2 461.1 93.1 458.1 94.5" fill="#65b85e"/>
<path d="M443.5 91.2 446.5 89.7 449.3 93.5 446.3 94.9" fill="#69bd61"/>
<path d="M487.8 91.4 490.9 90.0 493.6 93.7 490.6 95.2" fill="#7aa84f"/>
<path d="M476.0 91.7 479.0 90.4 481.8 94.2 478.7 95.6" fill="#67ac55"/>
<path d="M508.5 92.4 511.5 91.3 514.3 95.0 511.2 96.1" fill="#8aac50"/>
<path d="M517.3 94.0 520.3 93.0 523.1 96.7 520.0 97.7" fill="#7cac50"/>
<path d="M526.1 95.7 529.1 94.7 531.9 98.4 528.8 99.4" fill="#6aab4f"/>
<path d="M546.8 97.3 549.8 95.8 552.5 99.4 549.5 100.9" fill="#5fb78c"/>
<path d="M464.2 91.8 467.2 90.5 469.9 94.4 466.9 95.7" fill="#62b45b"/>
<path d="M534.9 97.3 537.9 96.2 540.7 99.9 537.6 101.0" fill="#5daf5d"/>
<path d="M496.6 92.4 499.7 91.1 502.4 94.8 499.4 96.1" fill="#87a94f"/>
<path d="M440.5 92.7 443.5 91.2 446.3 94.9 443.2 96.3" fill="#6cbf63"/>
<path d="M452.3 92.1 455.4 90.6 458.1 94.5 455.1 95.9" fill="#63b65d"/>
<path d="M484.8 92.8 487.8 91.4 490.6 95.2 487.5 96.6" fill="#71a750"/>
<path d="M473.0 93.1 476.0 91.7 478.7 95.6 475.7 96.9" fill="#62ad57"/>
<path d="M543.7 98.6 546.8 97.3 549.5 100.9 546.5 102.3" fill="#63bc92"/>
<path d="M505.5 93.6 508.5 92.4 511.2 96.1 508.2 97.2" fill="#8cac50"/>
<path d="M461.1 93.1 464.2 91.8 466.9 95.7 463.9 97.0" fill="#62b65d"/>
<path d="M514.3 95.0 517.3 94.0 520.0 97.7 517.0 98.7" fill="#81ac50"/>
<path d="M523.1 96.7 526.1 95.7 528.8 99.4 525.8 100.4" fill="#70ab4f"/>
<path d="M437.4 94.2 440.5 92.7 443.2 96.3 440.2 97.7" fill="#6cbe63"/>
<path d="M449.3 93.5 452.3 92.1 455.1 95.9 452.0 97.2" fill="#65b75e"/>
<path d="M481.8 94.2 484.8 92.8 487.5 96.6 484.5 98.0" fill="#69a651"/>
<path d="M493.6 93.7 496.6 92.4 499.4 96.1 496.4 97.4" fill="#81a94f"/>
<path d="M531.9 98.4 534.9 97.3 537.6 101.0 534.6 102.1" fill="#60ac53"/>
<path d="M549.5 100.9 552.5 99.4 555.3 105.7 552.2 106.5" fill="#67c0a0"/>
<path d="M557.7 118.3 560.7 119.4 563.5 126.3 560.4 124.4" fill="#49918a"/>
<path d="M469.9 94.4 473.0 93.1 475.7 96.9 472.7 98.2" fill="#60b059"/>
<path d="M555.0 112.4 558.0 112.5 560.7 119.4 557.7 118.3" fill="#5bae97"/>
<path d="M552.2 106.5 555.3 105.7 558.0 112.5 555.0 112.4" fill="#66bea3"/>
<path d="M540.7 99.9 543.7 98.6 546.5 102.3 543.4 103.5" fill="#60b87e"/>
<path d="M502.4 94.8 505.5 93.6 508.2 97.2 505.2 98.5" fill="#8aab50"/>
<path d="M458.1 94.5 461.1 93.1 463.9 97.0 460.8 98.3" fill="#61b65d"/>
<path d="M434.4 95.7 437.4 94.2 440.2 97.7 437.1 99.2" fill="#6abc63"/>
<path d="M446.3 94.9 449.3 93.5 452.0 97.2 449.0 98.6" fill="#68bb61"/>
<path d="M490.6 95.2 493.6 93.7 496.4 97.4 493.3 98.9" fill="#79a850"/>
<path d="M478.7 95.6 481.8 94.2 484.5 98.0 481.5 99.3" fill="#62a753"/>
<path d="M511.2 96.1 514.3 95.0 517.0 98.7 514.0 99.8" fill="#85ac50"/>
<path d="M520.0 97.7 523.1 96.7 525.8 100.4 522.8 101.4" fill="#76ab4f"/>
<path d="M528.8 99.4 531.9 98.4 534.6 102.1 531.6 103.2" fill="#65aa4f"/>
<path d="M466.9 95.7 469.9 94.4 472.7 98.2 469.6 99.5" fill="#5eb15a"/>
<path d="M546.5 102.3 549.5 100.9 552.2 106.5 549.2 107.3" fill="#6ac5a7"/>
<path d="M560.4 124.4 563.5 126.3 566.2 130.1 563.2 128.1" fill="#366f85"/>
<path d="M537.6 101.0 540.7 99.9 543.4 103.5 540.4 104.7" fill="#5cb164"/>
<path d="M431.4 97.2 434.4 95.7 437.1 99.2 434.1 100.6" fill="#67b963"/>
<path d="M455.1 95.9 458.1 94.5 460.8 98.3 457.8 99.6" fill="#60b45d"/>
<path d="M499.4 96.1 502.4 94.8 505.2 98.5 502.1 99.8" fill="#86ab50"/>
<path d="M487.5 96.6 490.6 95.2 493.3 98.9 490.3 100.3" fill="#6fa650"/>
<path d="M443.2 96.3 446.3 94.9 449.0 98.6 446.0 99.9" fill="#6abd63"/>
<path d="M475.7 96.9 478.7 95.6 481.5 99.3 478.4 100.7" fill="#5da955"/>
<path d="M549.2 107.3 552.2 106.5 555.0 112.4 551.9 112.6" fill="#69c2a9"/>
<path d="M508.2 97.2 511.2 96.1 514.0 99.8 510.9 101.0" fill="#86ac50"/>
<path d="M463.9 97.0 466.9 95.7 469.6 99.5 466.6 100.8" fill="#5db35b"/>
<path d="M428.3 98.9 431.4 97.2 434.1 100.6 431.1 102.1" fill="#66b662"/>
<path d="M517.0 98.7 520.0 97.7 522.8 101.4 519.7 102.5" fill="#7baa4f"/>
<path d="M525.8 100.4 528.8 99.4 531.6 103.2 528.5 104.2" fill="#6baa4f"/>
<path d="M543.4 103.5 546.5 102.3 549.2 107.3 546.2 108.2" fill="#63be8e"/>
<path d="M452.0 97.2 455.1 95.9 457.8 99.6 454.8 100.9" fill="#61b55d"/>
<path d="M484.5 98.0 487.5 96.6 490.3 100.3 487.3 101.7" fill="#65a451"/>
<path d="M534.6 102.1 537.6 101.0 540.4 104.7 537.4 105.9" fill="#5dac55"/>
<path d="M496.4 97.4 499.4 96.1 502.1 99.8 499.1 101.1" fill="#80ab50"/>
<path d="M440.2 97.7 443.2 96.3 446.0 99.9 442.9 101.3" fill="#6abd63"/>
<path d="M472.7 98.2 475.7 96.9 478.4 100.7 475.4 102.0" fill="#5bac58"/>
<path d="M425.3 100.7 428.3 98.9 431.1 102.1 428.0 103.8" fill="#68b560"/>
<path d="M551.9 112.6 555.0 112.4 557.7 118.3 554.7 117.9" fill="#5fb39f"/>
<path d="M460.8 98.3 463.9 97.0 466.6 100.8 463.6 102.1" fill="#5cb45c"/>
<path d="M505.2 98.5 508.2 97.2 510.9 101.0 507.9 102.2" fill="#85ab50"/>
<path d="M422.3 102.6 425.3 100.7 428.0 103.8 425.0 105.4" fill="#6ab45e"/>
<path d="M481.5 99.3 484.5 98.0 487.3 101.7 484.2 103.1" fill="#5da352"/>
<path d="M449.0 98.6 452.0 97.2 454.8 100.9 451.7 102.3" fill="#63b85f"/>
<path d="M493.3 98.9 496.4 97.4 499.1 101.1 496.1 102.5" fill="#78aa51"/>
<path d="M437.1 99.2 440.2 97.7 442.9 101.3 439.9 102.6" fill="#68ba63"/>
<path d="M554.7 117.9 557.7 118.3 560.4 124.4 557.4 123.3" fill="#4c9496"/>
<path d="M514.0 99.8 517.0 98.7 519.7 102.5 516.7 103.6" fill="#7eaa4f"/>
<path d="M540.4 104.7 543.4 103.5 546.2 108.2 543.1 109.2" fill="#5db56c"/>
<path d="M522.8 101.4 525.8 100.4 528.5 104.2 525.5 105.2" fill="#70aa4f"/>
<path d="M469.6 99.5 472.7 98.2 475.4 102.0 472.4 103.3" fill="#59ae59"/>
<path d="M531.6 103.2 534.6 102.1 537.4 105.9 534.3 106.9" fill="#61ab50"/>
<path d="M546.2 108.2 549.2 107.3 551.9 112.6 548.9 113.1" fill="#60b990"/>
<path d="M419.2 104.0 422.3 102.6 425.0 105.4 422.0 106.8" fill="#6fb85f"/>
<path d="M457.8 99.6 460.8 98.3 463.6 102.1 460.5 103.4" fill="#5bb25c"/>
<path d="M502.1 99.8 505.2 98.5 507.9 102.2 504.9 103.5" fill="#81ab50"/>
<path d="M490.3 100.3 493.3 98.9 496.1 102.5 493.0 104.0" fill="#6ea852"/>
<path d="M563.2 128.1 566.2 130.1 569.0 132.9 565.9 131.2" fill="#2b5a84"/>
<path d="M478.4 100.7 481.5 99.3 484.2 103.1 481.2 104.4" fill="#58a555"/>
<path d="M434.1 100.6 437.1 99.2 439.9 102.6 436.9 104.0" fill="#65b763"/>
<path d="M446.0 99.9 449.0 98.6 451.7 102.3 448.7 103.6" fill="#65ba61"/>
<path d="M466.6 100.8 469.6 99.5 472.4 103.3 469.3 104.5" fill="#57b05a"/>
<path d="M510.9 101.0 514.0 99.8 516.7 103.6 513.7 104.7" fill="#7ea94f"/>
<path d="M537.4 105.9 540.4 104.7 543.1 109.2 540.1 110.1" fill="#5cb159"/>
<path d="M519.7 102.5 522.8 101.4 525.5 105.2 522.5 106.3" fill="#74aa4f"/>
<path d="M528.5 104.2 531.6 103.2 534.3 106.9 531.3 108.0" fill="#65aa4f"/>
<path d="M548.9 113.1 551.9 112.6 554.7 117.9 551.6 117.9" fill="#58ad8b"/>
<path d="M454.8 100.9 457.8 99.6 460.5 103.4 457.5 104.6" fill="#5bb35c"/>
<path d="M416.2 105.1 419.2 104.0 422.0 106.8 418.9 107.9" fill="#74bf62"/>
<path d="M557.4 123.3 560.4 124.4 563.2 128.1 560.1 127.0" fill="#376e95"/>
<path d="M487.3 101.7 490.3 100.3 493.0 104.0 490.0 105.4" fill="#63a552"/>
<path d="M499.1 101.1 502.1 99.8 504.9 103.5 501.8 104.8" fill="#7cac51"/>
<path d="M431.1 102.1 434.1 100.6 436.9 104.0 433.8 105.4" fill="#64b563"/>
<path d="M475.4 102.0 478.4 100.7 481.2 104.4 478.1 105.7" fill="#56a857"/>
<path d="M442.9 101.3 446.0 99.9 448.7 103.6 445.7 104.9" fill="#64b961"/>
<path d="M543.1 109.2 546.2 108.2 548.9 113.1 545.9 113.7" fill="#59b16e"/>
<path d="M463.6 102.1 466.6 100.8 469.3 104.5 466.3 105.8" fill="#56b05a"/>
<path d="M507.9 102.2 510.9 101.0 513.7 104.7 510.6 105.9" fill="#7da94f"/>
<path d="M428.0 103.8 431.1 102.1 433.8 105.4 430.8 107.0" fill="#67b662"/>
<path d="M484.2 103.1 487.3 101.7 490.0 105.4 487.0 106.8" fill="#5aa253"/>
<path d="M451.7 102.3 454.8 100.9 457.5 104.6 454.5 105.9" fill="#5db55e"/>
<path d="M496.1 102.5 499.1 101.1 501.8 104.8 498.8 106.2" fill="#74ab52"/>
<path d="M534.3 106.9 537.4 105.9 540.1 110.1 537.1 111.1" fill="#5faf52"/>
<path d="M516.7 103.6 519.7 102.5 522.5 106.3 519.4 107.4" fill="#76a94e"/>
<path d="M525.5 105.2 528.5 104.2 531.3 108.0 528.3 109.1" fill="#6aaa4f"/>
<path d="M439.9 102.6 442.9 101.3 445.7 104.9 442.6 106.2" fill="#62b662"/>
<path d="M413.2 106.1 416.2 105.1 418.9 107.9 415.9 109.1" fill="#77c363"/>
<path d="M551.6 117.9 554.7 117.9 557.4 123.3 554.4 122.9" fill="#4a9687"/>
<path d="M472.4 103.3 475.4 102.0 478.1 105.7 475.1 107.0" fill="#54ab58"/>
<path d="M425.0 105.4 428.0 103.8 430.8 107.0 427.8 108.5" fill="#6bb760"/>
<path d="M460.5 103.4 463.6 102.1 466.3 105.8 463.3 107.1" fill="#55b05a"/>
<path d="M540.1 110.1 543.1 109.2 545.9 113.7 542.8 114.4" fill="#58af59"/>
<path d="M504.9 103.5 507.9 102.2 510.6 105.9 507.6 107.2" fill="#7aa94f"/>
<path d="M493.0 104.0 496.1 102.5 498.8 106.2 495.8 107.7" fill="#6aa953"/>
<path d="M481.2 104.4 484.2 103.1 487.0 106.8 483.9 108.1" fill="#55a355"/>
<path d="M545.9 113.7 548.9 113.1 551.6 117.9 548.6 118.3" fill="#52aa6c"/>
<path d="M448.7 103.6 451.7 102.3 454.5 105.9 451.4 107.2" fill="#5eb65f"/>
<path d="M436.9 104.0 439.9 102.6 442.6 106.2 439.6 107.5" fill="#5fb362"/>
<path d="M513.7 104.7 516.7 103.6 519.4 107.4 516.4 108.5" fill="#77a84e"/>
<path d="M469.3 104.5 472.4 103.3 475.1 107.0 472.1 108.3" fill="#52ac58"/>
<path d="M531.3 108.0 534.3 106.9 537.1 111.1 534.0 112.1" fill="#62ad50"/>
<path d="M522.5 106.3 525.5 105.2 528.3 109.1 525.2 110.1" fill="#6eab4f"/>
<path d="M422.0 106.8 425.0 105.4 427.8 108.5 424.7 109.9" fill="#6fba60"/>
<path d="M410.1 107.2 413.2 106.1 415.9 109.1 412.9 110.2" fill="#78c564"/>
<path d="M457.5 104.6 460.5 103.4 463.3 107.1 460.2 108.3" fill="#56b15b"/>
<path d="M490.0 105.4 493.0 104.0 495.8 107.7 492.7 109.1" fill="#5fa553"/>
<path d="M501.8 104.8 504.9 103.5 507.6 107.2 504.6 108.6" fill="#76ab50"/>
<path d="M478.1 105.7 481.2 104.4 483.9 108.1 480.9 109.5" fill="#52a657"/>
<path d="M560.1 127.0 563.2 128.1 565.9 131.2 562.9 130.3" fill="#295598"/>
<path d="M445.7 104.9 448.7 103.6 451.4 107.2 448.4 108.5" fill="#5db45f"/>
<path d="M565.9 131.2 569.0 132.9 571.7 135.0 568.7 133.7" fill="#28587d"/>
<path d="M433.8 105.4 436.9 104.0 439.6 107.5 436.6 108.8" fill="#5fb262"/>
<path d="M554.4 122.9 557.4 123.3 560.1 127.0 557.1 126.6" fill="#3b7c87"/>
<path d="M537.1 111.1 540.1 110.1 542.8 114.4 539.8 115.3" fill="#5bb053"/>
<path d="M466.3 105.8 469.3 104.5 472.1 108.3 469.0 109.5" fill="#51ad59"/>
<path d="M510.6 105.9 513.7 104.7 516.4 108.5 513.4 109.7" fill="#75a74e"/>
<path d="M418.9 107.9 422.0 106.8 424.7 109.9 421.7 111.0" fill="#75c163"/>
<path d="M548.6 118.3 551.6 117.9 554.4 122.9 551.3 122.8" fill="#4b9f6a"/>
<path d="M528.3 109.1 531.3 108.0 534.0 112.1 531.0 113.1" fill="#66ad50"/>
<path d="M519.4 107.4 522.5 106.3 525.2 110.1 522.2 111.2" fill="#71ab4f"/>
<path d="M407.1 108.2 410.1 107.2 412.9 110.2 409.8 111.3" fill="#78c664"/>
<path d="M487.0 106.8 490.0 105.4 492.7 109.1 489.7 110.5" fill="#56a254"/>
<path d="M542.8 114.4 545.9 113.7 548.6 118.3 545.6 118.8" fill="#53ab58"/>
<path d="M498.8 106.2 501.8 104.8 504.6 108.6 501.5 110.0" fill="#6faa52"/>
<path d="M454.5 105.9 457.5 104.6 460.2 108.3 457.2 109.6" fill="#57b25c"/>
<path d="M475.1 107.0 478.1 105.7 480.9 109.5 477.9 110.7" fill="#4fa857"/>
<path d="M430.8 107.0 433.8 105.4 436.6 108.8 433.5 110.3" fill="#63b562"/>
<path d="M442.6 106.2 445.7 104.9 448.4 108.5 445.4 109.7" fill="#5ab05f"/>
<path d="M463.3 107.1 466.3 105.8 469.0 109.5 466.0 110.8" fill="#50ad59"/>
<path d="M507.6 107.2 510.6 105.9 513.4 109.7 510.3 111.0" fill="#73a74e"/>
<path d="M495.8 107.7 498.8 106.2 501.5 110.0 498.5 111.4" fill="#65a753"/>
<path d="M534.0 112.1 537.1 111.1 539.8 115.3 536.8 116.2" fill="#5eaf51"/>
<path d="M483.9 108.1 487.0 106.8 489.7 110.5 486.7 111.9" fill="#51a256"/>
<path d="M415.9 109.1 418.9 107.9 421.7 111.0 418.6 112.2" fill="#79c665"/>
<path d="M451.4 107.2 454.5 105.9 457.2 109.6 454.2 110.8" fill="#57b25c"/>
<path d="M427.8 108.5 430.8 107.0 433.5 110.3 430.5 111.7" fill="#69b861"/>
<path d="M516.4 108.5 519.4 107.4 522.2 111.2 519.1 112.4" fill="#72ab50"/>
<path d="M525.2 110.1 528.3 109.1 531.0 113.1 528.0 114.1" fill="#69ae51"/>
<path d="M404.1 109.2 407.1 108.2 409.8 111.3 406.8 112.4" fill="#77c663"/>
<path d="M472.1 108.3 475.1 107.0 477.9 110.7 474.8 112.0" fill="#4da957"/>
<path d="M439.6 107.5 442.6 106.2 445.4 109.7 442.3 111.0" fill="#58ad60"/>
<path d="M539.8 115.3 542.8 114.4 545.6 118.8 542.5 119.5" fill="#56ae52"/>
<path d="M460.2 108.3 463.3 107.1 466.0 110.8 463.0 112.0" fill="#50ae5a"/>
<path d="M504.6 108.6 507.6 107.2 510.3 111.0 507.3 112.4" fill="#6fa950"/>
<path d="M492.7 109.1 495.8 107.7 498.5 111.4 495.5 112.8" fill="#5aa253"/>
<path d="M480.9 109.5 483.9 108.1 486.7 111.9 483.6 113.2" fill="#4ea457"/>
<path d="M545.6 118.8 548.6 118.3 551.3 122.8 548.3 123.1" fill="#4ea656"/>
<path d="M424.7 109.9 427.8 108.5 430.5 111.7 427.5 113.0" fill="#6ebb60"/>
<path d="M551.3 122.8 554.4 122.9 557.1 126.6 554.1 126.5" fill="#429269"/>
<path d="M412.9 110.2 415.9 109.1 418.6 112.2 415.6 113.4" fill="#7ac865"/>
<path d="M448.4 108.5 451.4 107.2 454.2 110.8 451.1 112.1" fill="#56af5c"/>
<path d="M513.4 109.7 516.4 108.5 519.1 112.4 516.1 113.6" fill="#70aa4f"/>
<path d="M531.0 113.1 534.0 112.1 536.8 116.2 533.7 117.1" fill="#60ad50"/>
<path d="M469.0 109.5 472.1 108.3 474.8 112.0 471.8 113.3" fill="#4ca957"/>
<path d="M436.6 108.8 439.6 107.5 442.3 111.0 439.3 112.3" fill="#58ae61"/>
<path d="M557.1 126.6 560.1 127.0 562.9 130.3 559.9 129.9" fill="#316b88"/>
<path d="M522.2 111.2 525.2 110.1 528.0 114.1 524.9 115.2" fill="#6bae51"/>
<path d="M401.0 110.2 404.1 109.2 406.8 112.4 403.8 113.5" fill="#76c563"/>
<path d="M501.5 110.0 504.6 108.6 507.3 112.4 504.3 113.8" fill="#68a851"/>
<path d="M489.7 110.5 492.7 109.1 495.5 112.8 492.4 114.2" fill="#519f54"/>
<path d="M457.2 109.6 460.2 108.3 463.0 112.0 459.9 113.3" fill="#51af5a"/>
<path d="M562.9 130.3 565.9 131.2 568.7 133.7 565.6 133.1" fill="#265290"/>
<path d="M477.9 110.7 480.9 109.5 483.6 113.2 480.6 114.5" fill="#4ca657"/>
<path d="M421.7 111.0 424.7 109.9 427.5 113.0 424.4 114.2" fill="#74c163"/>
<path d="M536.8 116.2 539.8 115.3 542.5 119.5 539.5 120.3" fill="#59af51"/>
<path d="M445.4 109.7 448.4 108.5 451.1 112.1 448.1 113.3" fill="#53ab5d"/>
<path d="M409.8 111.3 412.9 110.2 415.6 113.4 412.6 114.6" fill="#7ac865"/>
<path d="M433.5 110.3 436.6 108.8 439.3 112.3 436.3 113.7" fill="#5eb362"/>
<path d="M510.3 111.0 513.4 109.7 516.1 113.6 513.1 114.9" fill="#6da84f"/>
<path d="M466.0 110.8 469.0 109.5 471.8 113.3 468.8 114.5" fill="#4baa58"/>
<path d="M568.7 133.7 571.7 135.0 574.4 137.4 571.4 136.4" fill="#2d6872"/>
<path d="M498.5 111.4 501.5 110.0 504.3 113.8 501.2 115.2" fill="#5fa552"/>
<path d="M528.0 114.1 531.0 113.1 533.7 117.1 530.7 118.1" fill="#63ae51"/>
<path d="M486.7 111.9 489.7 110.5 492.4 114.2 489.4 115.6" fill="#4da056"/>
<path d="M519.1 112.4 522.2 111.2 524.9 115.2 521.9 116.3" fill="#6cae51"/>
<path d="M542.5 119.5 545.6 118.8 548.3 123.1 545.3 123.7" fill="#51ac51"/>
<path d="M398.0 111.1 401.0 110.2 403.8 113.5 400.7 114.6" fill="#75c662"/>
<path d="M454.2 110.8 457.2 109.6 459.9 113.3 456.9 114.5" fill="#51ae5b"/>
<path d="M474.8 112.0 477.9 110.7 480.6 114.5 477.6 115.7" fill="#4aa657"/>
<path d="M430.5 111.7 433.5 110.3 436.3 113.7 433.2 115.1" fill="#66b962"/>
<path d="M418.6 112.2 421.7 111.0 424.4 114.2 421.4 115.4" fill="#78c665"/>
<path d="M442.3 111.0 445.4 109.7 448.1 113.3 445.1 114.6" fill="#51a95e"/>
<path d="M548.3 123.1 551.3 122.8 554.1 126.5 551.0 126.8" fill="#49a155"/>
<path d="M507.3 112.4 510.3 111.0 513.1 114.9 510.0 116.2" fill="#69aa51"/>
<path d="M463.0 112.0 466.0 110.8 468.8 114.5 465.7 115.7" fill="#4cab59"/>
<path d="M406.8 112.4 409.8 111.3 412.6 114.6 409.5 115.8" fill="#79c864"/>
<path d="M495.5 112.8 498.5 111.4 501.2 115.2 498.2 116.6" fill="#549f52"/>
<path d="M483.6 113.2 486.7 111.9 489.4 115.6 486.4 116.9" fill="#4ba358"/>
<path d="M533.7 117.1 536.8 116.2 539.5 120.3 536.5 121.2" fill="#5bae50"/>
<path d="M516.1 113.6 519.1 112.4 521.9 116.3 518.9 117.5" fill="#6bad51"/>
<path d="M524.9 115.2 528.0 114.1 530.7 118.1 527.7 119.2" fill="#65af51"/>
<path d="M451.1 112.1 454.2 110.8 456.9 114.5 453.9 115.7" fill="#51ac5b"/>
<path d="M554.1 126.5 557.1 126.6 559.9 129.9 556.8 130.0" fill="#3e8c68"/>
<path d="M471.8 113.3 474.8 112.0 477.6 115.7 474.5 117.0" fill="#49a757"/>
<path d="M427.5 113.0 430.5 111.7 433.2 115.1 430.2 116.3" fill="#6cbc61"/>
<path d="M395.0 111.7 398.0 111.1 400.7 114.6 397.7 115.6" fill="#75c863"/>
<path d="M439.3 112.3 442.3 111.0 445.1 114.6 442.0 115.9" fill="#52aa60"/>
<path d="M504.3 113.8 507.3 112.4 510.0 116.2 507.0 117.6" fill="#63a852"/>
<path d="M415.6 113.4 418.6 112.2 421.4 115.4 418.4 116.6" fill="#79c765"/>
<path d="M492.4 114.2 495.5 112.8 498.2 116.6 495.2 118.0" fill="#4c9b53"/>
<path d="M539.5 120.3 542.5 119.5 545.3 123.7 542.2 124.3" fill="#55af51"/>
<path d="M459.9 113.3 463.0 112.0 465.7 115.7 462.7 117.0" fill="#4cac59"/>
<path d="M480.6 114.5 483.6 113.2 486.4 116.9 483.3 118.2" fill="#49a458"/>
<path d="M403.8 113.5 406.8 112.4 409.5 115.8 406.5 117.0" fill="#78c763"/>
<path d="M559.9 129.9 562.9 130.3 565.6 133.1 562.6 133.0" fill="#306b81"/>
<path d="M513.1 114.9 516.1 113.6 518.9 117.5 515.8 118.8" fill="#68ab50"/>
<path d="M530.7 118.1 533.7 117.1 536.5 121.2 533.4 122.1" fill="#5dad50"/>
<path d="M448.1 113.3 451.1 112.1 453.9 115.7 450.8 117.0" fill="#4ea85c"/>
<path d="M468.8 114.5 471.8 113.3 474.5 117.0 471.5 118.2" fill="#48a858"/>
<path d="M521.9 116.3 524.9 115.2 527.7 119.2 524.6 120.3" fill="#66af51"/>
<path d="M501.2 115.2 504.3 113.8 507.0 117.6 504.0 119.0" fill="#5aa553"/>
<path d="M545.3 123.7 548.3 123.1 551.0 126.8 548.0 127.4" fill="#4da950"/>
<path d="M424.4 114.2 427.5 113.0 430.2 116.3 427.2 117.5" fill="#72c263"/>
<path d="M436.3 113.7 439.3 112.3 442.0 115.9 439.0 117.2" fill="#59b161"/>
<path d="M489.4 115.6 492.4 114.2 495.2 118.0 492.1 119.3" fill="#499d56"/>
<path d="M412.6 114.6 415.6 113.4 418.4 116.6 415.3 117.8" fill="#79c764"/>
<path d="M565.6 133.1 568.7 133.7 571.4 136.4 568.4 136.1" fill="#2d6581"/>
<path d="M456.9 114.5 459.9 113.3 462.7 117.0 459.6 118.2" fill="#4dac5a"/>
<path d="M477.6 115.7 480.6 114.5 483.3 118.2 480.3 119.5" fill="#48a558"/>
<path d="M400.7 114.6 403.8 113.5 406.5 117.0 403.5 118.3" fill="#76c662"/>
<path d="M391.9 112.3 395.0 111.7 397.7 115.6 394.7 116.5" fill="#73c762"/>
<path d="M510.0 116.2 513.1 114.9 515.8 118.8 512.8 120.1" fill="#64ac52"/>
<path d="M536.5 121.2 539.5 120.3 542.2 124.3 539.2 125.2" fill="#57af51"/>
<path d="M445.1 114.6 448.1 113.3 450.8 117.0 447.8 118.2" fill="#4ba45d"/>
<path d="M571.4 136.4 574.4 137.4 577.2 140.2 574.1 139.5" fill="#357d63"/>
<path d="M498.2 116.6 501.2 115.2 504.0 119.0 500.9 120.4" fill="#509e53"/>
<path d="M551.0 126.8 554.1 126.5 556.8 130.0 553.8 130.4" fill="#46a055"/>
<path d="M465.7 115.7 468.8 114.5 471.5 118.2 468.5 119.4" fill="#48a958"/>
<path d="M433.2 115.1 436.3 113.7 439.0 117.2 436.0 118.5" fill="#62b861"/>
<path d="M518.9 117.5 521.9 116.3 524.6 120.3 521.6 121.5" fill="#64ae51"/>
<path d="M486.4 116.9 489.4 115.6 492.1 119.3 489.1 120.7" fill="#48a158"/>
<path d="M527.7 119.2 530.7 118.1 533.4 122.1 530.4 123.1" fill="#5eae51"/>
<path d="M421.4 115.4 424.4 114.2 427.2 117.5 424.1 118.7" fill="#76c664"/>
<path d="M409.5 115.8 412.6 114.6 415.3 117.8 412.3 119.1" fill="#78c663"/>
<path d="M474.5 117.0 477.6 115.7 480.3 119.5 477.3 120.7" fill="#46a557"/>
<path d="M453.9 115.7 456.9 114.5 459.6 118.2 456.6 119.4" fill="#4dab5b"/>
<path d="M507.0 117.6 510.0 116.2 512.8 120.1 509.8 121.4" fill="#5ea953"/>
<path d="M397.7 115.6 400.7 114.6 403.5 118.3 400.4 119.5" fill="#76c963"/>
<path d="M542.2 124.3 545.3 123.7 548.0 127.4 545.0 128.1" fill="#51ae51"/>
<path d="M495.2 118.0 498.2 116.6 500.9 120.4 497.9 121.7" fill="#489853"/>
<path d="M556.8 130.0 559.9 129.9 562.6 133.0 559.6 133.2" fill="#3d8d65"/>
<path d="M442.0 115.9 445.1 114.6 447.8 118.2 444.8 119.4" fill="#4ca65f"/>
<path d="M462.7 117.0 465.7 115.7 468.5 119.4 465.4 120.7" fill="#49aa59"/>
<path d="M430.2 116.3 433.2 115.1 436.0 118.5 432.9 119.8" fill="#69bd61"/>
<path d="M483.3 118.2 486.4 116.9 489.1 120.7 486.1 122.0" fill="#47a359"/>
<path d="M515.8 118.8 518.9 117.5 521.6 121.5 518.6 122.7" fill="#62ad51"/>
<path d="M388.9 112.8 391.9 112.3 394.7 116.5 391.6 117.5" fill="#70c561"/>
<path d="M533.4 122.1 536.5 121.2 539.2 125.2 536.2 126.1" fill="#58ae50"/>
<path d="M418.4 116.6 421.4 115.4 424.1 118.7 421.1 119.9" fill="#77c865"/>
<path d="M524.6 120.3 527.7 119.2 530.4 123.1 527.4 124.2" fill="#5fae51"/>
<path d="M406.5 117.0 409.5 115.8 412.3 119.1 409.3 120.3" fill="#76c462"/>
<path d="M471.5 118.2 474.5 117.0 477.3 120.7 474.2 122.0" fill="#46a758"/>
<path d="M450.8 117.0 453.9 115.7 456.6 119.4 453.6 120.6" fill="#4aa65c"/>
<path d="M504.0 119.0 507.0 117.6 509.8 121.4 506.7 122.8" fill="#57a755"/>
<path d="M492.1 119.3 495.2 118.0 497.9 121.7 494.9 123.1" fill="#459a56"/>
<path d="M548.0 127.4 551.0 126.8 553.8 130.4 550.8 130.9" fill="#4ba950"/>
<path d="M394.7 116.5 397.7 115.6 400.4 119.5 397.4 120.7" fill="#75ca63"/>
<path d="M562.6 133.0 565.6 133.1 568.4 136.1 565.3 136.2" fill="#357a76"/>
<path d="M439.0 117.2 442.0 115.9 444.8 119.4 441.7 120.7" fill="#53ad60"/>
<path d="M480.3 119.5 483.3 118.2 486.1 122.0 483.0 123.2" fill="#46a458"/>
<path d="M427.2 117.5 430.2 116.3 432.9 119.8 429.9 121.0" fill="#70c363"/>
<path d="M459.6 118.2 462.7 117.0 465.4 120.7 462.4 121.9" fill="#4aaa5a"/>
<path d="M512.8 120.1 515.8 118.8 518.6 122.7 515.5 123.9" fill="#5fac52"/>
<path d="M539.2 125.2 542.2 124.3 545.0 128.1 541.9 128.9" fill="#53af51"/>
<path d="M415.3 117.8 418.4 116.6 421.1 119.9 418.1 121.1" fill="#78c864"/>
<path d="M403.5 118.3 406.5 117.0 409.3 120.3 406.2 121.6" fill="#74c260"/>
<path d="M521.6 121.5 524.6 120.3 527.4 124.2 524.3 125.4" fill="#5ead51"/>
<path d="M500.9 120.4 504.0 119.0 506.7 122.8 503.7 124.1" fill="#4d9f54"/>
<path d="M530.4 123.1 533.4 122.1 536.2 126.1 533.1 127.1" fill="#59ae51"/>
<path d="M468.5 119.4 471.5 118.2 474.2 122.0 471.2 123.2" fill="#46a859"/>
<path d="M447.8 118.2 450.8 117.0 453.6 120.6 450.5 121.8" fill="#47a15c"/>
<path d="M489.1 120.7 492.1 119.3 494.9 123.1 491.8 124.4" fill="#459e59"/>
<path d="M568.4 136.1 571.4 136.4 574.1 139.5 571.1 139.3" fill="#377f6e"/>
<path d="M436.0 118.5 439.0 117.2 441.7 120.7 438.7 122.0" fill="#5db661"/>
<path d="M553.8 130.4 556.8 130.0 559.6 133.2 556.5 133.7" fill="#45a254"/>
<path d="M391.6 117.5 394.7 116.5 397.4 120.7 394.4 122.2" fill="#73c963"/>
<path d="M477.3 120.7 480.3 119.5 483.0 123.2 480.0 124.5" fill="#45a558"/>
<path d="M509.8 121.4 512.8 120.1 515.5 123.9 512.5 125.3" fill="#59aa54"/>
<path d="M424.1 118.7 427.2 117.5 429.9 121.0 426.9 122.2" fill="#74c864"/>
<path d="M456.6 119.4 459.6 118.2 462.4 121.9 459.4 123.0" fill="#4aa95b"/>
<path d="M574.1 139.5 577.2 140.2 579.9 143.3 576.9 142.7" fill="#3d9159"/>
<path d="M497.9 121.7 500.9 120.4 503.7 124.1 500.6 125.5" fill="#459754"/>
<path d="M545.0 128.1 548.0 127.4 550.8 130.9 547.7 131.7" fill="#4eae51"/>
<path d="M412.3 119.1 415.3 117.8 418.1 121.1 415.0 122.4" fill="#77c864"/>
<path d="M400.4 119.5 403.5 118.3 406.2 121.6 403.2 122.9" fill="#73c461"/>
<path d="M518.6 122.7 521.6 121.5 524.3 125.4 521.3 126.6" fill="#5cac51"/>
<path d="M486.1 122.0 489.1 120.7 491.8 124.4 488.8 125.7" fill="#45a159"/>
<path d="M465.4 120.7 468.5 119.4 471.2 123.2 468.2 124.4" fill="#47a959"/>
<path d="M536.2 126.1 539.2 125.2 541.9 128.9 538.9 129.8" fill="#54ae51"/>
<path d="M444.8 119.4 447.8 118.2 450.5 121.8 447.5 123.0" fill="#48a25d"/>
<path d="M527.4 124.2 530.4 123.1 533.1 127.1 530.1 128.1" fill="#59ad51"/>
<path d="M432.9 119.8 436.0 118.5 438.7 122.0 435.7 123.3" fill="#67bd61"/>
<path d="M559.6 133.2 562.6 133.0 565.3 136.2 562.3 136.5" fill="#3f9561"/>
<path d="M506.7 122.8 509.8 121.4 512.5 125.3 509.5 126.6" fill="#53a856"/>
<path d="M474.2 122.0 477.3 120.7 480.0 124.5 477.0 125.7" fill="#44a659"/>
<path d="M421.1 119.9 424.1 118.7 426.9 122.2 423.8 123.4" fill="#77ca65"/>
<path d="M453.6 120.6 456.6 119.4 459.4 123.0 456.3 124.2" fill="#47a55c"/>
<path d="M494.9 123.1 497.9 121.7 500.6 125.5 497.6 126.9" fill="#429856"/>
<path d="M409.3 120.3 412.3 119.1 415.0 122.4 412.0 123.6" fill="#76c662"/>
<path d="M397.4 120.7 400.4 119.5 403.2 122.9 400.1 124.3" fill="#73c561"/>
<path d="M515.5 123.9 518.6 122.7 521.3 126.6 518.3 127.8" fill="#59ac53"/>
<path d="M483.0 123.2 486.1 122.0 488.8 125.7 485.8 127.0" fill="#44a359"/>
<path d="M550.8 130.9 553.8 130.4 556.5 133.7 553.5 134.4" fill="#4aaa50"/>
<path d="M441.7 120.7 444.8 119.4 447.5 123.0 444.5 124.3" fill="#4fa95e"/>
<path d="M462.4 121.9 465.4 120.7 468.2 124.4 465.1 125.5" fill="#48a95a"/>
<path d="M541.9 128.9 545.0 128.1 547.7 131.7 544.7 132.6" fill="#50b051"/>
<path d="M524.3 125.4 527.4 124.2 530.1 128.1 527.1 129.2" fill="#58ad51"/>
<path d="M429.9 121.0 432.9 119.8 435.7 123.3 432.6 124.5" fill="#6ec363"/>
<path d="M533.1 127.1 536.2 126.1 538.9 129.8 535.9 130.8" fill="#54ae51"/>
<path d="M503.7 124.1 506.7 122.8 509.5 126.6 506.4 127.9" fill="#4ba056"/>
<path d="M565.3 136.2 568.4 136.1 571.1 139.3 568.1 139.5" fill="#3c8d68"/>
<path d="M471.2 123.2 474.2 122.0 477.0 125.7 473.9 126.9" fill="#45a759"/>
<path d="M491.8 124.4 494.9 123.1 497.6 126.9 494.6 128.2" fill="#429c59"/>
<path d="M418.1 121.1 421.1 119.9 423.8 123.4 420.8 124.7" fill="#78cb65"/>
<path d="M450.5 121.8 453.6 120.6 456.3 124.2 453.3 125.4" fill="#449f5c"/>
<path d="M394.4 122.2 397.4 120.7 400.1 124.3 397.1 125.8" fill="#70c560"/>
<path d="M406.2 121.6 409.3 120.3 412.0 123.6 409.0 124.9" fill="#73c360"/>
<path d="M512.5 125.3 515.5 123.9 518.3 127.8 515.2 129.1" fill="#55aa54"/>
<path d="M480.0 124.5 483.0 123.2 485.8 127.0 482.7 128.2" fill="#43a459"/>
<path d="M438.7 122.0 441.7 120.7 444.5 124.3 441.4 125.6" fill="#59b25f"/>
<path d="M459.4 123.0 462.4 121.9 465.1 125.5 462.1 126.7" fill="#48a85b"/>
<path d="M571.1 139.3 574.1 139.5 576.9 142.7 573.8 142.7" fill="#3f9760"/>
<path d="M556.5 133.7 559.6 133.2 562.3 136.5 559.3 137.1" fill="#46a654"/>
<path d="M500.6 125.5 503.7 124.1 506.4 127.9 503.4 129.3" fill="#439856"/>
<path d="M426.9 122.2 429.9 121.0 432.6 124.5 429.6 125.7" fill="#73c864"/>
<path d="M521.3 126.6 524.3 125.4 527.1 129.2 524.0 130.4" fill="#57ac51"/>
<path d="M547.7 131.7 550.8 130.9 553.5 134.4 550.5 135.2" fill="#4caf51"/>
<path d="M488.8 125.7 491.8 124.4 494.6 128.2 491.5 129.5" fill="#429f5a"/>
<path d="M576.9 142.7 579.9 143.3 582.6 146.7 579.6 146.2" fill="#429e53"/>
<path d="M530.1 128.1 533.1 127.1 535.9 130.8 532.8 131.9" fill="#54ae51"/>
<path d="M468.2 124.4 471.2 123.2 473.9 126.9 470.9 128.1" fill="#45a85a"/>
<path d="M538.9 129.8 541.9 128.9 544.7 132.6 541.6 133.5" fill="#51af51"/>
<path d="M415.0 122.4 418.1 121.1 420.8 124.7 417.8 125.9" fill="#78cb65"/>
<path d="M447.5 123.0 450.5 121.8 453.3 125.4 450.3 126.6" fill="#449e5d"/>
<path d="M403.2 122.9 406.2 121.6 409.0 124.9 405.9 126.2" fill="#73c460"/>
<path d="M509.5 126.6 512.5 125.3 515.2 129.1 512.2 130.4" fill="#4fa756"/>
<path d="M477.0 125.7 480.0 124.5 482.7 128.2 479.7 129.4" fill="#43a559"/>
<path d="M435.7 123.3 438.7 122.0 441.4 125.6 438.4 126.8" fill="#64bc61"/>
<path d="M497.6 126.9 500.6 125.5 503.4 129.3 500.4 130.6" fill="#409858"/>
<path d="M456.3 124.2 459.4 123.0 462.1 126.7 459.1 127.9" fill="#46a45c"/>
<path d="M423.8 123.4 426.9 122.2 429.6 125.7 426.6 127.0" fill="#76ca65"/>
<path d="M562.3 136.5 565.3 136.2 568.1 139.5 565.0 139.9" fill="#429f5b"/>
<path d="M518.3 127.8 521.3 126.6 524.0 130.4 521.0 131.6" fill="#54ab53"/>
<path d="M485.8 127.0 488.8 125.7 491.5 129.5 488.5 130.8" fill="#42a159"/>
<path d="M412.0 123.6 415.0 122.4 417.8 125.9 414.7 127.2" fill="#77ca64"/>
<path d="M465.1 125.5 468.2 124.4 470.9 128.1 467.9 129.3" fill="#46a95b"/>
<path d="M400.1 124.3 403.2 122.9 405.9 126.2 402.9 127.6" fill="#72c460"/>
<path d="M527.1 129.2 530.1 128.1 532.8 131.9 529.8 133.0" fill="#54ad51"/>
<path d="M444.5 124.3 447.5 123.0 450.3 126.6 447.2 127.9" fill="#4ba45d"/>
<path d="M506.4 127.9 509.5 126.6 512.2 130.4 509.2 131.7" fill="#48a158"/>
<path d="M553.5 134.4 556.5 133.7 559.3 137.1 556.2 137.9" fill="#49ac51"/>
<path d="M535.9 130.8 538.9 129.8 541.6 133.5 538.6 134.5" fill="#51af51"/>
<path d="M544.7 132.6 547.7 131.7 550.5 135.2 547.4 136.1" fill="#4db051"/>
<path d="M432.6 124.5 435.7 123.3 438.4 126.8 435.4 128.0" fill="#6cc362"/>
<path d="M473.9 126.9 477.0 125.7 479.7 129.4 476.7 130.6" fill="#43a65a"/>
<path d="M494.6 128.2 497.6 126.9 500.4 130.6 497.3 132.0" fill="#409b5a"/>
<path d="M453.3 125.4 456.3 124.2 459.1 127.9 456.0 129.1" fill="#429e5c"/>
<path d="M568.1 139.5 571.1 139.3 573.8 142.7 570.8 142.9" fill="#429f5e"/>
<path d="M420.8 124.7 423.8 123.4 426.6 127.0 423.5 128.3" fill="#78cc65"/>
<path d="M515.2 129.1 518.3 127.8 521.0 131.6 518.0 132.9" fill="#51aa55"/>
<path d="M482.7 128.2 485.8 127.0 488.5 130.8 485.5 132.0" fill="#41a259"/>
<path d="M397.1 125.8 400.1 124.3 402.9 127.6 399.9 129.1" fill="#6fc35f"/>
<path d="M409.0 124.9 412.0 123.6 414.7 127.2 411.7 128.6" fill="#75c762"/>
<path d="M462.1 126.7 465.1 125.5 467.9 129.3 464.8 130.4" fill="#46a75c"/>
<path d="M441.4 125.6 444.5 124.3 447.2 127.9 444.2 129.1" fill="#56af5e"/>
<path d="M503.4 129.3 506.4 127.9 509.2 131.7 506.1 133.1" fill="#429a58"/>
<path d="M524.0 130.4 527.1 129.2 529.8 133.0 526.8 134.2" fill="#52ac52"/>
<path d="M491.5 129.5 494.6 128.2 497.3 132.0 494.3 133.3" fill="#409d5a"/>
<path d="M573.8 142.7 576.9 142.7 579.6 146.2 576.6 146.2" fill="#45a559"/>
<path d="M532.8 131.9 535.9 130.8 538.6 134.5 535.6 135.6" fill="#51ae51"/>
<path d="M429.6 125.7 432.6 124.5 435.4 128.0 432.3 129.3" fill="#71c763"/>
<path d="M559.3 137.1 562.3 136.5 565.0 139.9 562.0 140.6" fill="#47aa53"/>
<path d="M470.9 128.1 473.9 126.9 476.7 130.6 473.6 131.8" fill="#44a75b"/>
<path d="M541.6 133.5 544.7 132.6 547.4 136.1 544.4 137.1" fill="#4eaf51"/>
<path d="M550.5 135.2 553.5 134.4 556.2 137.9 553.2 138.7" fill="#4baf51"/>
<path d="M417.8 125.9 420.8 124.7 423.5 128.3 420.5 129.6" fill="#78cc65"/>
<path d="M450.3 126.6 453.3 125.4 456.0 129.1 453.0 130.3" fill="#429c5c"/>
<path d="M512.2 130.4 515.2 129.1 518.0 132.9 514.9 134.2" fill="#4ca757"/>
<path d="M405.9 126.2 409.0 124.9 411.7 128.6 408.7 130.0" fill="#74c862"/>
<path d="M479.7 129.4 482.7 128.2 485.5 132.0 482.4 133.2" fill="#41a35a"/>
<path d="M500.4 130.6 503.4 129.3 506.1 133.1 503.1 134.4" fill="#40995a"/>
<path d="M438.4 126.8 441.4 125.6 444.2 129.1 441.2 130.4" fill="#61b95f"/>
<path d="M459.1 127.9 462.1 126.7 464.8 130.4 461.8 131.6" fill="#44a35c"/>
<path d="M579.6 146.2 582.6 146.7 585.4 149.0 582.4 148.9" fill="#43a04f"/>
<path d="M521.0 131.6 524.0 130.4 526.8 134.2 523.7 135.4" fill="#50ab53"/>
<path d="M488.5 130.8 491.5 129.5 494.3 133.3 491.3 134.5" fill="#409e59"/>
<path d="M426.6 127.0 429.6 125.7 432.3 129.3 429.3 130.5" fill="#74c964"/>
<path d="M467.9 129.3 470.9 128.1 473.6 131.8 470.6 133.0" fill="#45a85b"/>
<path d="M529.8 133.0 532.8 131.9 535.6 135.6 532.5 136.8" fill="#50ae52"/>
<path d="M565.0 139.9 568.1 139.5 570.8 142.9 567.8 143.4" fill="#45a756"/>
<path d="M414.7 127.2 417.8 125.9 420.5 129.6 417.5 131.0" fill="#77cb64"/>
<path d="M509.2 131.7 512.2 130.4 514.9 134.2 511.9 135.5" fill="#46a159"/>
<path d="M402.9 127.6 405.9 126.2 408.7 130.0 405.6 131.6" fill="#73c962"/>
<path d="M447.2 127.9 450.3 126.6 453.0 130.3 450.0 131.5" fill="#48a15c"/>
<path d="M538.6 134.5 541.6 133.5 544.4 137.1 541.4 138.2" fill="#4eae51"/>
<path d="M476.7 130.6 479.7 129.4 482.4 133.2 479.4 134.4" fill="#42a45a"/>
<path d="M497.3 132.0 500.4 130.6 503.1 134.4 500.1 135.7" fill="#3f9b5a"/>
<path d="M556.2 137.9 559.3 137.1 562.0 140.6 559.0 141.4" fill="#49ae51"/>
<path d="M547.4 136.1 550.5 135.2 553.2 138.7 550.2 139.7" fill="#4baf51"/>
<path d="M435.4 128.0 438.4 126.8 441.2 130.4 438.1 131.6" fill="#6ac161"/>
<path d="M518.0 132.9 521.0 131.6 523.7 135.4 520.7 136.7" fill="#4da955"/>
<path d="M456.0 129.1 459.1 127.9 461.8 131.6 458.8 132.7" fill="#419d5d"/>
<path d="M485.5 132.0 488.5 130.8 491.3 134.5 488.2 135.8" fill="#3f9f59"/>
<path d="M423.5 128.3 426.6 127.0 429.3 130.5 426.3 131.8" fill="#76cb65"/>
<path d="M399.9 129.1 402.9 127.6 405.6 131.6 402.6 133.3" fill="#71c961"/>
<path d="M411.7 128.6 414.7 127.2 417.5 131.0 414.4 132.4" fill="#75c862"/>
<path d="M570.8 142.9 573.8 142.7 576.6 146.2 573.5 146.5" fill="#46a957"/>
<path d="M506.1 133.1 509.2 131.7 511.9 135.5 508.9 136.9" fill="#419c5a"/>
<path d="M464.8 130.4 467.9 129.3 470.6 133.0 467.6 134.1" fill="#45a65c"/>
<path d="M526.8 134.2 529.8 133.0 532.5 136.8 529.5 137.9" fill="#4fac52"/>
<path d="M444.2 129.1 447.2 127.9 450.0 131.5 446.9 132.7" fill="#53ab5c"/>
<path d="M494.3 133.3 497.3 132.0 500.1 135.7 497.0 137.0" fill="#3e9b5a"/>
<path d="M473.6 131.8 476.7 130.6 479.4 134.4 476.4 135.6" fill="#43a55b"/>
<path d="M535.6 135.6 538.6 134.5 541.4 138.2 538.3 139.3" fill="#4eae51"/>
<path d="M432.3 129.3 435.4 128.0 438.1 131.6 435.1 132.8" fill="#70c663"/>
<path d="M514.9 134.2 518.0 132.9 520.7 136.7 517.7 138.0" fill="#49a657"/>
<path d="M562.0 140.6 565.0 139.9 567.8 143.4 564.7 144.1" fill="#47ad52"/>
<path d="M544.4 137.1 547.4 136.1 550.2 139.7 547.1 140.7" fill="#4baf51"/>
<path d="M408.7 130.0 411.7 128.6 414.4 132.4 411.4 134.0" fill="#74c861"/>
<path d="M453.0 130.3 456.0 129.1 458.8 132.7 455.7 133.9" fill="#409a5c"/>
<path d="M420.5 129.6 423.5 128.3 426.3 131.8 423.2 133.2" fill="#77cb64"/>
<path d="M482.4 133.2 485.5 132.0 488.2 135.8 485.2 137.0" fill="#40a15a"/>
<path d="M553.2 138.7 556.2 137.9 559.0 141.4 555.9 142.3" fill="#4aaf51"/>
<path d="M576.6 146.2 579.6 146.2 582.4 148.9 579.3 149.1" fill="#46a753"/>
<path d="M503.1 134.4 506.1 133.1 508.9 136.9 505.8 138.2" fill="#3f9b5b"/>
<path d="M523.7 135.4 526.8 134.2 529.5 137.9 526.5 139.2" fill="#4daa53"/>
<path d="M461.8 131.6 464.8 130.4 467.6 134.1 464.5 135.3" fill="#43a25d"/>
<path d="M441.2 130.4 444.2 129.1 446.9 132.7 443.9 133.9" fill="#5fb65e"/>
<path d="M491.3 134.5 494.3 133.3 497.0 137.0 494.0 138.3" fill="#3e9c59"/>
<path d="M405.6 131.6 408.7 130.0 411.4 134.0 408.4 135.7" fill="#73c961"/>
<path d="M470.6 133.0 473.6 131.8 476.4 135.6 473.3 136.7" fill="#44a65b"/>
<path d="M429.3 130.5 432.3 129.3 435.1 132.8 432.0 134.1" fill="#73c863"/>
<path d="M532.5 136.8 535.6 135.6 538.3 139.3 535.3 140.4" fill="#4dac51"/>
<path d="M511.9 135.5 514.9 134.2 517.7 138.0 514.6 139.3" fill="#44a159"/>
<path d="M417.5 131.0 420.5 129.6 423.2 133.2 420.2 134.6" fill="#76ca63"/>
<path d="M567.8 143.4 570.8 142.9 573.5 146.5 570.5 147.0" fill="#47ac54"/>
<path d="M450.0 131.5 453.0 130.3 455.7 133.9 452.7 135.1" fill="#469f5c"/>
<path d="M479.4 134.4 482.4 133.2 485.2 137.0 482.1 138.2" fill="#40a25b"/>
<path d="M500.1 135.7 503.1 134.4 505.8 138.2 502.8 139.5" fill="#3e9b5c"/>
<path d="M541.4 138.2 544.4 137.1 547.1 140.7 544.1 141.8" fill="#4bad51"/>
<path d="M402.6 133.3 405.6 131.6 408.4 135.7 405.3 137.6" fill="#70c860"/>
<path d="M550.2 139.7 553.2 138.7 555.9 142.3 552.9 143.3" fill="#4aaf51"/>
<path d="M559.0 141.4 562.0 140.6 564.7 144.1 561.7 145.0" fill="#48af51"/>
<path d="M520.7 136.7 523.7 135.4 526.5 139.2 523.4 140.4" fill="#4aa954"/>
<path d="M438.1 131.6 441.2 130.4 443.9 133.9 440.9 135.1" fill="#69bf61"/>
<path d="M488.2 135.8 491.3 134.5 494.0 138.3 491.0 139.6" fill="#3d9c59"/>
<path d="M458.8 132.7 461.8 131.6 464.5 135.3 461.5 136.4" fill="#409c5d"/>
<path d="M582.4 148.9 585.4 149.0 588.1 151.1 585.1 151.4" fill="#44a24f"/>
<path d="M414.4 132.4 417.5 131.0 420.2 134.6 417.2 136.1" fill="#75c861"/>
<path d="M508.9 136.9 511.9 135.5 514.6 139.3 511.6 140.6" fill="#409d5b"/>
<path d="M426.3 131.8 429.3 130.5 432.0 134.1 429.0 135.4" fill="#75c963"/>
<path d="M467.6 134.1 470.6 133.0 473.3 136.7 470.3 137.8" fill="#44a55c"/>
<path d="M529.5 137.9 532.5 136.8 535.3 140.4 532.3 141.6" fill="#4baa51"/>
<path d="M497.0 137.0 500.1 135.7 502.8 139.5 499.8 140.8" fill="#3d9b5a"/>
<path d="M446.9 132.7 450.0 131.5 452.7 135.1 449.7 136.3" fill="#51a85b"/>
<path d="M573.5 146.5 576.6 146.2 579.3 149.1 576.3 149.6" fill="#46aa53"/>
<path d="M476.4 135.6 479.4 134.4 482.1 138.2 479.1 139.3" fill="#41a35b"/>
<path d="M538.3 139.3 541.4 138.2 544.1 141.8 541.1 142.9" fill="#4bac51"/>
<path d="M517.7 138.0 520.7 136.7 523.4 140.4 520.4 141.7" fill="#47a557"/>
<path d="M411.4 134.0 414.4 132.4 417.2 136.1 414.1 137.7" fill="#73c760"/>
<path d="M435.1 132.8 438.1 131.6 440.9 135.1 437.8 136.4" fill="#6fc462"/>
<path d="M485.2 137.0 488.2 135.8 491.0 139.6 487.9 140.8" fill="#3e9e5a"/>
<path d="M564.7 144.1 567.8 143.4 570.5 147.0 567.5 147.7" fill="#47ae51"/>
<path d="M547.1 140.7 550.2 139.7 552.9 143.3 549.9 144.4" fill="#4aaf51"/>
<path d="M455.7 133.9 458.8 132.7 461.5 136.4 458.5 137.6" fill="#3f9a5c"/>
<path d="M505.8 138.2 508.9 136.9 511.6 140.6 508.6 142.0" fill="#3e9b5c"/>
<path d="M423.2 133.2 426.3 131.8 429.0 135.4 426.0 136.8" fill="#75c863"/>
<path d="M555.9 142.3 559.0 141.4 561.7 145.0 558.7 145.9" fill="#49b051"/>
<path d="M526.5 139.2 529.5 137.9 532.3 141.6 529.2 142.8" fill="#49a952"/>
<path d="M464.5 135.3 467.6 134.1 470.3 137.8 467.3 139.0" fill="#42a15d"/>
<path d="M494.0 138.3 497.0 137.0 499.8 140.8 496.7 142.1" fill="#3c9a59"/>
<path d="M408.4 135.7 411.4 134.0 414.1 137.7 411.1 139.5" fill="#71c660"/>
<path d="M443.9 133.9 446.9 132.7 449.7 136.3 446.6 137.5" fill="#5db35d"/>
<path d="M473.3 136.7 476.4 135.6 479.1 139.3 476.1 140.5" fill="#42a45b"/>
<path d="M514.6 139.3 517.7 138.0 520.4 141.7 517.4 143.0" fill="#42a159"/>
<path d="M535.3 140.4 538.3 139.3 541.1 142.9 538.0 144.1" fill="#4aab51"/>
<path d="M405.3 137.6 408.4 135.7 411.1 139.5 408.1 141.5" fill="#6ec45e"/>
<path d="M432.0 134.1 435.1 132.8 437.8 136.4 434.8 137.6" fill="#72c663"/>
<path d="M420.2 134.6 423.2 133.2 426.0 136.8 422.9 138.2" fill="#75c862"/>
<path d="M482.1 138.2 485.2 137.0 487.9 140.8 484.9 142.0" fill="#3ea05a"/>
<path d="M502.8 139.5 505.8 138.2 508.6 142.0 505.5 143.3" fill="#3d9b5c"/>
<path d="M579.3 149.1 582.4 148.9 585.1 151.4 582.1 151.9" fill="#46a852"/>
<path d="M452.7 135.1 455.7 133.9 458.5 137.6 455.4 138.7" fill="#469f5c"/>
<path d="M544.1 141.8 547.1 140.7 549.9 144.4 546.8 145.4" fill="#4aae51"/>
<path d="M570.5 147.0 573.5 146.5 576.3 149.6 573.3 150.3" fill="#46aa51"/>
<path d="M523.4 140.4 526.5 139.2 529.2 142.8 526.2 144.1" fill="#47a754"/>
<path d="M491.0 139.6 494.0 138.3 496.7 142.1 493.7 143.4" fill="#3c9a59"/>
<path d="M552.9 143.3 555.9 142.3 558.7 145.9 555.6 146.9" fill="#49b051"/>
<path d="M561.7 145.0 564.7 144.1 567.5 147.7 564.4 148.6" fill="#48af51"/>
<path d="M461.5 136.4 464.5 135.3 467.3 139.0 464.2 140.1" fill="#3f9b5d"/>
<path d="M440.9 135.1 443.9 133.9 446.6 137.5 443.6 138.7" fill="#67be60"/>
<path d="M511.6 140.6 514.6 139.3 517.4 143.0 514.3 144.4" fill="#3f9d5b"/>
<path d="M417.2 136.1 420.2 134.6 422.9 138.2 419.9 139.7" fill="#74c761"/>
<path d="M470.3 137.8 473.3 136.7 476.1 140.5 473.0 141.6" fill="#42a35c"/>
<path d="M429.0 135.4 432.0 134.1 434.8 137.6 431.8 138.9" fill="#73c662"/>
<path d="M532.3 141.6 535.3 140.4 538.0 144.1 535.0 145.3" fill="#48a850"/>
<path d="M499.8 140.8 502.8 139.5 505.5 143.3 502.5 144.6" fill="#3d9b5b"/>
<path d="M479.1 139.3 482.1 138.2 484.9 142.0 481.9 143.1" fill="#3fa15b"/>
<path d="M449.7 136.3 452.7 135.1 455.4 138.7 452.4 139.9" fill="#50a75b"/>
<path d="M541.1 142.9 544.1 141.8 546.8 145.4 543.8 146.6" fill="#49ad51"/>
<path d="M520.4 141.7 523.4 140.4 526.2 144.1 523.1 145.4" fill="#44a456"/>
<path d="M487.9 140.8 491.0 139.6 493.7 143.4 490.7 144.6" fill="#3c9c59"/>
<path d="M414.1 137.7 417.2 136.1 419.9 139.7 416.9 141.4" fill="#73c660"/>
<path d="M585.1 151.4 588.1 151.1 590.9 154.4 587.8 154.8" fill="#49ad54"/>
<path d="M508.6 142.0 511.6 140.6 514.3 144.4 511.3 145.7" fill="#3d9c5d"/>
<path d="M458.5 137.6 461.5 136.4 464.2 140.1 461.2 141.2" fill="#3f9a5d"/>
<path d="M437.8 136.4 440.9 135.1 443.6 138.7 440.6 139.9" fill="#6ec462"/>
<path d="M549.9 144.4 552.9 143.3 555.6 146.9 552.6 148.0" fill="#49af51"/>
<path d="M576.3 149.6 579.3 149.1 582.1 151.9 579.0 152.7" fill="#46a951"/>
<path d="M567.5 147.7 570.5 147.0 573.3 150.3 570.2 151.1" fill="#46ab4f"/>
<path d="M558.7 145.9 561.7 145.0 564.4 148.6 561.4 149.5" fill="#48af51"/>
<path d="M426.0 136.8 429.0 135.4 431.8 138.9 428.7 140.3" fill="#73c561"/>
<path d="M496.7 142.1 499.8 140.8 502.5 144.6 499.5 145.9" fill="#3c9b5a"/>
<path d="M467.3 139.0 470.3 137.8 473.0 141.6 470.0 142.7" fill="#41a05d"/>
<path d="M529.2 142.8 532.3 141.6 535.0 145.3 532.0 146.5" fill="#47a751"/>
<path d="M411.1 139.5 414.1 137.7 416.9 141.4 413.8 143.2" fill="#71c55f"/>
<path d="M476.1 140.5 479.1 139.3 481.9 143.1 478.8 144.2" fill="#40a15b"/>
<path d="M446.6 137.5 449.7 136.3 452.4 139.9 449.4 141.1" fill="#5bb15c"/>
<path d="M517.4 143.0 520.4 141.7 523.1 145.4 520.1 146.7" fill="#41a059"/>
<path d="M408.1 141.5 411.1 139.5 413.8 143.2 410.8 145.3" fill="#6dc25d"/>
<path d="M538.0 144.1 541.1 142.9 543.8 146.6 540.8 147.8" fill="#48ab51"/>
<path d="M484.9 142.0 487.9 140.8 490.7 144.6 487.6 145.7" fill="#3d9e5b"/>
<path d="M505.5 143.3 508.6 142.0 511.3 145.7 508.3 147.1" fill="#3c9b5d"/>
<path d="M434.8 137.6 437.8 136.4 440.6 139.9 437.5 141.2" fill="#72c663"/>
<path d="M422.9 138.2 426.0 136.8 428.7 140.3 425.7 141.7" fill="#73c460"/>
<path d="M455.4 138.7 458.5 137.6 461.2 141.2 458.2 142.4" fill="#46a15d"/>
<path d="M546.8 145.4 549.9 144.4 552.6 148.0 549.6 149.1" fill="#49af51"/>
<path d="M493.7 143.4 496.7 142.1 499.5 145.9 496.4 147.2" fill="#3a9959"/>
<path d="M526.2 144.1 529.2 142.8 532.0 146.5 528.9 147.8" fill="#45a553"/>
<path d="M464.2 140.1 467.3 139.0 470.0 142.7 467.0 143.8" fill="#3e9b5d"/>
<path d="M555.6 146.9 558.7 145.9 561.4 149.5 558.4 150.5" fill="#49b051"/>
<path d="M564.4 148.6 567.5 147.7 570.2 151.1 567.2 152.0" fill="#47ac50"/>
<path d="M514.3 144.4 517.4 143.0 520.1 146.7 517.1 148.1" fill="#3e9d5b"/>
<path d="M443.6 138.7 446.6 137.5 449.4 141.1 446.3 142.3" fill="#66bd60"/>
<path d="M582.1 151.9 585.1 151.4 587.8 154.8 584.8 155.4" fill="#4aaf55"/>
<path d="M473.0 141.6 476.1 140.5 478.8 144.2 475.8 145.3" fill="#41a15c"/>
<path d="M573.3 150.3 576.3 149.6 579.0 152.7 576.0 153.5" fill="#46a84f"/>
<path d="M502.5 144.6 505.5 143.3 508.3 147.1 505.2 148.4" fill="#3c9b5c"/>
<path d="M419.9 139.7 422.9 138.2 425.7 141.7 422.6 143.2" fill="#73c55f"/>
<path d="M535.0 145.3 538.0 144.1 540.8 147.8 537.7 149.0" fill="#47a851"/>
<path d="M481.9 143.1 484.9 142.0 487.6 145.7 484.6 146.9" fill="#3d9f5b"/>
<path d="M431.8 138.9 434.8 137.6 437.5 141.2 434.5 142.5" fill="#73c662"/>
<path d="M452.4 139.9 455.4 138.7 458.2 142.4 455.1 143.6" fill="#50a95c"/>
<path d="M490.7 144.6 493.7 143.4 496.4 147.2 493.4 148.4" fill="#3b9a5a"/>
<path d="M523.1 145.4 526.2 144.1 528.9 147.8 525.9 149.1" fill="#42a255"/>
<path d="M543.8 146.6 546.8 145.4 549.6 149.1 546.5 150.2" fill="#49ae52"/>
<path d="M511.3 145.7 514.3 144.4 517.1 148.1 514.0 149.5" fill="#3d9b5d"/>
<path d="M416.9 141.4 419.9 139.7 422.6 143.2 419.6 144.8" fill="#72c45e"/>
<path d="M461.2 141.2 464.2 140.1 467.0 143.8 463.9 144.9" fill="#3f9a5d"/>
<path d="M440.6 139.9 443.6 138.7 446.3 142.3 443.3 143.6" fill="#6ec462"/>
<path d="M552.6 148.0 555.6 146.9 558.4 150.5 555.3 151.6" fill="#49b052"/>
<path d="M499.5 145.9 502.5 144.6 505.2 148.4 502.2 149.7" fill="#3b9b5c"/>
<path d="M587.8 154.8 590.9 154.4 593.6 157.7 590.6 158.2" fill="#4baf56"/>
<path d="M470.0 142.7 473.0 141.6 475.8 145.3 472.8 146.4" fill="#409f5c"/>
<path d="M561.4 149.5 564.4 148.6 567.2 152.0 564.1 153.0" fill="#47ad50"/>
<path d="M532.0 146.5 535.0 145.3 537.7 149.0 534.7 150.2" fill="#45a651"/>
<path d="M428.7 140.3 431.8 138.9 434.5 142.5 431.5 143.8" fill="#73c460"/>
<path d="M478.8 144.2 481.9 143.1 484.6 146.9 481.6 148.0" fill="#3e9f5b"/>
<path d="M413.8 143.2 416.9 141.4 419.6 144.8 416.6 146.6" fill="#6fc25d"/>
<path d="M570.2 151.1 573.3 150.3 576.0 153.5 573.0 154.5" fill="#45a84e"/>
<path d="M579.0 152.7 582.1 151.9 584.8 155.4 581.8 156.2" fill="#49ad53"/>
<path d="M449.4 141.1 452.4 139.9 455.1 143.6 452.1 144.8" fill="#5ab15c"/>
<path d="M520.1 146.7 523.1 145.4 525.9 149.1 522.9 150.4" fill="#3f9e58"/>
<path d="M487.6 145.7 490.7 144.6 493.4 148.4 490.4 149.5" fill="#3c9d5b"/>
<path d="M508.3 147.1 511.3 145.7 514.0 149.5 511.0 150.8" fill="#3c9b5d"/>
<path d="M540.8 147.8 543.8 146.6 546.5 150.2 543.5 151.4" fill="#48ae52"/>
<path d="M410.8 145.3 413.8 143.2 416.6 146.6 413.5 148.6" fill="#6bbe5b"/>
<path d="M437.5 141.2 440.6 139.9 443.3 143.6 440.3 144.8" fill="#72c763"/>
<path d="M458.2 142.4 461.2 141.2 463.9 144.9 460.9 146.0" fill="#46a35f"/>
<path d="M496.4 147.2 499.5 145.9 502.2 149.7 499.2 151.0" fill="#3a995a"/>
<path d="M425.7 141.7 428.7 140.3 431.5 143.8 428.4 145.2" fill="#72c35f"/>
<path d="M549.6 149.1 552.6 148.0 555.3 151.6 552.3 152.7" fill="#48af52"/>
<path d="M528.9 147.8 532.0 146.5 534.7 150.2 531.7 151.5" fill="#43a453"/>
<path d="M467.0 143.8 470.0 142.7 472.8 146.4 469.7 147.5" fill="#3f9b5d"/>
<path d="M517.1 148.1 520.1 146.7 522.9 150.4 519.8 151.8" fill="#3d9c5a"/>
<path d="M558.4 150.5 561.4 149.5 564.1 153.0 561.1 154.1" fill="#48ae51"/>
<path d="M475.8 145.3 478.8 144.2 481.6 148.0 478.5 149.0" fill="#3f9f5b"/>
<path d="M446.3 142.3 449.4 141.1 452.1 144.8 449.1 146.0" fill="#65bc60"/>
<path d="M505.2 148.4 508.3 147.1 511.0 150.8 508.0 152.2" fill="#3b9b5d"/>
<path d="M484.6 146.9 487.6 145.7 490.4 149.5 487.3 150.7" fill="#3c9e5b"/>
<path d="M567.2 152.0 570.2 151.1 573.0 154.5 569.9 155.5" fill="#46a94e"/>
<path d="M584.8 155.4 587.8 154.8 590.6 158.2 587.5 158.9" fill="#4bb056"/>
<path d="M537.7 149.0 540.8 147.8 543.5 151.4 540.5 152.6" fill="#46ab52"/>
<path d="M422.6 143.2 425.7 141.7 428.4 145.2 425.4 146.7" fill="#72c45e"/>
<path d="M576.0 153.5 579.0 152.7 581.8 156.2 578.7 157.1" fill="#47ab50"/>
<path d="M434.5 142.5 437.5 141.2 440.3 144.8 437.2 146.1" fill="#74c863"/>
<path d="M493.4 148.4 496.4 147.2 499.2 151.0 496.1 152.2" fill="#3a9a5b"/>
<path d="M455.1 143.6 458.2 142.4 460.9 146.0 457.9 147.2" fill="#51ab5e"/>
<path d="M525.9 149.1 528.9 147.8 531.7 151.5 528.6 152.8" fill="#41a155"/>
<path d="M546.5 150.2 549.6 149.1 552.3 152.7 549.3 153.9" fill="#48af52"/>
<path d="M514.0 149.5 517.1 148.1 519.8 151.8 516.8 153.2" fill="#3c9b5c"/>
<path d="M463.9 144.9 467.0 143.8 469.7 147.5 466.7 148.6" fill="#409c5e"/>
<path d="M502.2 149.7 505.2 148.4 508.0 152.2 504.9 153.5" fill="#3b9c5d"/>
<path d="M443.3 143.6 446.3 142.3 449.1 146.0 446.0 147.2" fill="#6dc562"/>
<path d="M555.3 151.6 558.4 150.5 561.1 154.1 558.1 155.2" fill="#48af51"/>
<path d="M419.6 144.8 422.6 143.2 425.4 146.7 422.4 148.2" fill="#72c45e"/>
<path d="M472.8 146.4 475.8 145.3 478.5 149.0 475.5 150.1" fill="#3f9e5c"/>
<path d="M534.7 150.2 537.7 149.0 540.5 152.6 537.4 153.9" fill="#45a852"/>
<path d="M481.6 148.0 484.6 146.9 487.3 150.7 484.3 151.7" fill="#3d9e5b"/>
<path d="M431.5 143.8 434.5 142.5 437.2 146.1 434.2 147.5" fill="#73c561"/>
<path d="M590.6 158.2 593.6 157.7 596.3 161.0 593.3 161.6" fill="#4cb157"/>
<path d="M564.1 153.0 567.2 152.0 569.9 155.5 566.9 156.5" fill="#46ab4f"/>
<path d="M490.4 149.5 493.4 148.4 496.1 152.2 493.1 153.3" fill="#3b9c5c"/>
<path d="M522.9 150.4 525.9 149.1 528.6 152.8 525.6 154.1" fill="#3e9d57"/>
<path d="M452.1 144.8 455.1 143.6 457.9 147.2 454.8 148.4" fill="#5ab25d"/>
<path d="M511.0 150.8 514.0 149.5 516.8 153.2 513.8 154.6" fill="#3b9b5d"/>
<path d="M416.6 146.6 419.6 144.8 422.4 148.2 419.3 149.9" fill="#70c35d"/>
<path d="M573.0 154.5 576.0 153.5 578.7 157.1 575.7 158.0" fill="#46aa4f"/>
<path d="M581.8 156.2 584.8 155.4 587.5 158.9 584.5 159.7" fill="#49ad53"/>
<path d="M543.5 151.4 546.5 150.2 549.3 153.9 546.2 155.0" fill="#48ae53"/>
<path d="M499.2 151.0 502.2 149.7 504.9 153.5 501.9 154.7" fill="#39995b"/>
<path d="M460.9 146.0 463.9 144.9 466.7 148.6 463.6 149.7" fill="#47a45f"/>
<path d="M440.3 144.8 443.3 143.6 446.0 147.2 443.0 148.5" fill="#72c863"/>
<path d="M413.5 148.6 416.6 146.6 419.3 149.9 416.3 151.9" fill="#6cbf5b"/>
<path d="M428.4 145.2 431.5 143.8 434.2 147.5 431.2 148.9" fill="#72c35f"/>
<path d="M552.3 152.7 555.3 151.6 558.1 155.2 555.0 156.3" fill="#48ae51"/>
<path d="M531.7 151.5 534.7 150.2 537.4 153.9 534.4 155.1" fill="#43a654"/>
<path d="M469.7 147.5 472.8 146.4 475.5 150.1 472.5 151.2" fill="#3f9d5d"/>
<path d="M519.8 151.8 522.9 150.4 525.6 154.1 522.6 155.5" fill="#3c9a59"/>
<path d="M478.5 149.0 481.6 148.0 484.3 151.7 481.3 152.8" fill="#3e9e5b"/>
<path d="M508.0 152.2 511.0 150.8 513.8 154.6 510.7 155.9" fill="#3b9c5d"/>
<path d="M561.1 154.1 564.1 153.0 566.9 156.5 563.9 157.6" fill="#47ad50"/>
<path d="M449.1 146.0 452.1 144.8 454.8 148.4 451.8 149.6" fill="#65bc60"/>
<path d="M487.3 150.7 490.4 149.5 493.1 153.3 490.1 154.4" fill="#3c9d5c"/>
<path d="M540.5 152.6 543.5 151.4 546.2 155.0 543.2 156.3" fill="#46ac52"/>
<path d="M496.1 152.2 499.2 151.0 501.9 154.7 498.9 156.0" fill="#39995b"/>
<path d="M569.9 155.5 573.0 154.5 575.7 158.0 572.7 159.0" fill="#46a84e"/>
<path d="M437.2 146.1 440.3 144.8 443.0 148.5 440.0 149.8" fill="#74c963"/>
<path d="M587.5 158.9 590.6 158.2 593.3 161.6 590.3 162.3" fill="#4cb157"/>
<path d="M425.4 146.7 428.4 145.2 431.2 148.9 428.1 150.4" fill="#72c45e"/>
<path d="M578.7 157.1 581.8 156.2 584.5 159.7 581.5 160.6" fill="#48ac51"/>
<path d="M457.9 147.2 460.9 146.0 463.6 149.7 460.6 150.8" fill="#51ad5f"/>
<path d="M528.6 152.8 531.7 151.5 534.4 155.1 531.4 156.5" fill="#41a355"/>
<path d="M516.8 153.2 519.8 151.8 522.6 155.5 519.5 156.9" fill="#3b9a5c"/>
<path d="M549.3 153.9 552.3 152.7 555.0 156.3 552.0 157.5" fill="#47ae52"/>
<path d="M466.7 148.6 469.7 147.5 472.5 151.2 469.4 152.3" fill="#409d5e"/>
<path d="M504.9 153.5 508.0 152.2 510.7 155.9 507.7 157.2" fill="#3b9c5e"/>
<path d="M475.5 150.1 478.5 149.0 481.3 152.8 478.2 153.8" fill="#3f9e5c"/>
<path d="M446.0 147.2 449.1 146.0 451.8 149.6 448.8 150.8" fill="#6cc462"/>
<path d="M422.4 148.2 425.4 146.7 428.1 150.4 425.1 152.0" fill="#72c55e"/>
<path d="M558.1 155.2 561.1 154.1 563.9 157.6 560.8 158.7" fill="#47ad51"/>
<path d="M484.3 151.7 487.3 150.7 490.1 154.4 487.0 155.5" fill="#3d9f5c"/>
<path d="M537.4 153.9 540.5 152.6 543.2 156.3 540.2 157.5" fill="#45aa53"/>
<path d="M434.2 147.5 437.2 146.1 440.0 149.8 436.9 151.1" fill="#73c561"/>
<path d="M493.1 153.3 496.1 152.2 498.9 156.0 495.8 157.1" fill="#3a9c5d"/>
<path d="M525.6 154.1 528.6 152.8 531.4 156.5 528.3 157.8" fill="#3e9e57"/>
<path d="M566.9 156.5 569.9 155.5 572.7 159.0 569.6 160.1" fill="#46a94e"/>
<path d="M513.8 154.6 516.8 153.2 519.5 156.9 516.5 158.3" fill="#3b9b5d"/>
<path d="M454.8 148.4 457.9 147.2 460.6 150.8 457.6 152.0" fill="#5bb55e"/>
<path d="M593.3 161.6 596.3 161.0 599.1 164.3 596.0 165.0" fill="#4db258"/>
<path d="M419.3 149.9 422.4 148.2 425.1 152.0 422.1 153.8" fill="#71c55e"/>
<path d="M575.7 158.0 578.7 157.1 581.5 160.6 578.4 161.6" fill="#48ab50"/>
<path d="M546.2 155.0 549.3 153.9 552.0 157.5 549.0 158.7" fill="#47ad52"/>
<path d="M501.9 154.7 504.9 153.5 507.7 157.2 504.6 158.5" fill="#399a5c"/>
<path d="M584.5 159.7 587.5 158.9 590.3 162.3 587.2 163.2" fill="#4aae54"/>
<path d="M463.6 149.7 466.7 148.6 469.4 152.3 466.4 153.4" fill="#47a45f"/>
<path d="M443.0 148.5 446.0 147.2 448.8 150.8 445.7 152.0" fill="#71c763"/>
<path d="M416.3 151.9 419.3 149.9 422.1 153.8 419.0 155.8" fill="#6ec35d"/>
<path d="M431.2 148.9 434.2 147.5 436.9 151.1 433.9 152.5" fill="#71c25e"/>
<path d="M534.4 155.1 537.4 153.9 540.2 157.5 537.1 158.8" fill="#43a855"/>
<path d="M472.5 151.2 475.5 150.1 478.2 153.8 475.2 154.9" fill="#3f9d5d"/>
<path d="M555.0 156.3 558.1 155.2 560.8 158.7 557.8 159.9" fill="#47ad51"/>
<path d="M481.3 152.8 484.3 151.7 487.0 155.5 484.0 156.5" fill="#3e9e5c"/>
<path d="M522.6 155.5 525.6 154.1 528.3 157.8 525.3 159.2" fill="#3b9958"/>
<path d="M510.7 155.9 513.8 154.6 516.5 158.3 513.5 159.7" fill="#3b9c5e"/>
<path d="M490.1 154.4 493.1 153.3 495.8 157.1 492.8 158.2" fill="#3b9d5d"/>
<path d="M451.8 149.6 454.8 148.4 457.6 152.0 454.5 153.2" fill="#64bd60"/>
<path d="M563.9 157.6 566.9 156.5 569.6 160.1 566.6 161.2" fill="#47ac50"/>
<path d="M498.9 156.0 501.9 154.7 504.6 158.5 501.6 159.7" fill="#399a5d"/>
<path d="M543.2 156.3 546.2 155.0 549.0 158.7 545.9 159.9" fill="#45ab52"/>
<path d="M428.1 150.4 431.2 148.9 433.9 152.5 430.9 154.1" fill="#71c35d"/>
<path d="M572.7 159.0 575.7 158.0 578.4 161.6 575.4 162.6" fill="#46a84e"/>
<path d="M440.0 149.8 443.0 148.5 445.7 152.0 442.7 153.3" fill="#73c863"/>
<path d="M460.6 150.8 463.6 149.7 466.4 153.4 463.4 154.5" fill="#51ae5f"/>
<path d="M531.4 156.5 534.4 155.1 537.1 158.8 534.1 160.1" fill="#41a556"/>
<path d="M581.5 160.6 584.5 159.7 587.2 163.2 584.2 164.1" fill="#49ad52"/>
<path d="M590.3 162.3 593.3 161.6 596.0 165.0 593.0 165.8" fill="#4db258"/>
<path d="M519.5 156.9 522.6 155.5 525.3 159.2 522.3 160.6" fill="#3a995a"/>
<path d="M507.7 157.2 510.7 155.9 513.5 159.7 510.4 161.0" fill="#3a9c5e"/>
<path d="M552.0 157.5 555.0 156.3 557.8 159.9 554.8 161.1" fill="#47ac51"/>
<path d="M469.4 152.3 472.5 151.2 475.2 154.9 472.2 155.9" fill="#409e5e"/>
<path d="M478.2 153.8 481.3 152.8 484.0 156.5 481.0 157.6" fill="#3e9e5c"/>
<path d="M487.0 155.5 490.1 154.4 492.8 158.2 489.8 159.3" fill="#3c9e5d"/>
<path d="M425.1 152.0 428.1 150.4 430.9 154.1 427.8 155.7" fill="#71c45d"/>
<path d="M448.8 150.8 451.8 149.6 454.5 153.2 451.5 154.4" fill="#6bc462"/>
<path d="M560.8 158.7 563.9 157.6 566.6 161.2 563.6 162.3" fill="#48ad51"/>
<path d="M540.2 157.5 543.2 156.3 545.9 159.9 542.9 161.1" fill="#44aa53"/>
<path d="M495.8 157.1 498.9 156.0 501.6 159.7 498.6 160.9" fill="#399b5d"/>
<path d="M436.9 151.1 440.0 149.8 442.7 153.3 439.7 154.6" fill="#72c560"/>
<path d="M528.3 157.8 531.4 156.5 534.1 160.1 531.1 161.5" fill="#3e9f57"/>
<path d="M516.5 158.3 519.5 156.9 522.3 160.6 519.2 162.0" fill="#3a9a5c"/>
<path d="M457.6 152.0 460.6 150.8 463.4 154.5 460.3 155.6" fill="#5bb65f"/>
<path d="M569.6 160.1 572.7 159.0 575.4 162.6 572.4 163.7" fill="#46a74d"/>
<path d="M422.1 153.8 425.1 152.0 427.8 155.7 424.8 157.5" fill="#70c45d"/>
<path d="M504.6 158.5 507.7 157.2 510.4 161.0 507.4 162.3" fill="#399b5e"/>
<path d="M549.0 158.7 552.0 157.5 554.8 161.1 551.7 162.3" fill="#46ac52"/>
<path d="M578.4 161.6 581.5 160.6 584.2 164.1 581.2 165.1" fill="#49ad51"/>
<path d="M466.4 153.4 469.4 152.3 472.2 155.9 469.1 157.0" fill="#46a45e"/>
<path d="M419.0 155.8 422.1 153.8 424.8 157.5 421.8 159.6" fill="#6dc25b"/>
<path d="M587.2 163.2 590.3 162.3 593.0 165.8 590.0 166.7" fill="#4cb055"/>
<path d="M596.0 165.0 599.1 164.3 601.8 167.5 598.8 168.3" fill="#4db259"/>
<path d="M445.7 152.0 448.8 150.8 451.5 154.4 448.5 155.6" fill="#6fc762"/>
<path d="M475.2 154.9 478.2 153.8 481.0 157.6 477.9 158.6" fill="#3f9d5d"/>
<path d="M537.1 158.8 540.2 157.5 542.9 161.1 539.9 162.4" fill="#43a955"/>
<path d="M433.9 152.5 436.9 151.1 439.7 154.6 436.6 156.0" fill="#70c15d"/>
<path d="M484.0 156.5 487.0 155.5 489.8 159.3 486.7 160.3" fill="#3d9e5c"/>
<path d="M557.8 159.9 560.8 158.7 563.6 162.3 560.5 163.5" fill="#47ad51"/>
<path d="M525.3 159.2 528.3 157.8 531.1 161.5 528.0 162.9" fill="#3b9a58"/>
<path d="M513.5 159.7 516.5 158.3 519.2 162.0 516.2 163.4" fill="#3a9b5e"/>
<path d="M492.8 158.2 495.8 157.1 498.6 160.9 495.5 162.0" fill="#3a9c5d"/>
<path d="M501.6 159.7 504.6 158.5 507.4 162.3 504.4 163.5" fill="#399b5e"/>
<path d="M454.5 153.2 457.6 152.0 460.3 155.6 457.3 156.8" fill="#63bd60"/>
<path d="M566.6 161.2 569.6 160.1 572.4 163.7 569.3 164.8" fill="#48aa4f"/>
<path d="M545.9 159.9 549.0 158.7 551.7 162.3 548.7 163.5" fill="#45a952"/>
<path d="M430.9 154.1 433.9 152.5 436.6 156.0 433.6 157.5" fill="#6fc05b"/>
<path d="M463.4 154.5 466.4 153.4 469.1 157.0 466.1 158.1" fill="#50ae5f"/>
<path d="M575.4 162.6 578.4 161.6 581.2 165.1 578.1 166.2" fill="#48a84e"/>
<path d="M442.7 153.3 445.7 152.0 448.5 155.6 445.4 156.9" fill="#71c862"/>
<path d="M534.1 160.1 537.1 158.8 539.9 162.4 536.8 163.8" fill="#41a657"/>
<path d="M522.3 160.6 525.3 159.2 528.0 162.9 525.0 164.3" fill="#3a9759"/>
<path d="M510.4 161.0 513.5 159.7 516.2 163.4 513.2 164.7" fill="#3a9b5e"/>
<path d="M584.2 164.1 587.2 163.2 590.0 166.7 586.9 167.7" fill="#4bae53"/>
<path d="M472.2 155.9 475.2 154.9 477.9 158.6 474.9 159.6" fill="#409e5d"/>
<path d="M554.8 161.1 557.8 159.9 560.5 163.5 557.5 164.7" fill="#47ac51"/>
<path d="M593.0 165.8 596.0 165.0 598.8 168.3 595.8 169.2" fill="#4eb259"/>
<path d="M481.0 157.6 484.0 156.5 486.7 160.3 483.7 161.3" fill="#3e9e5c"/>
<path d="M489.8 159.3 492.8 158.2 495.5 162.0 492.5 163.0" fill="#3b9c5d"/>
<path d="M451.5 154.4 454.5 153.2 457.3 156.8 454.3 158.0" fill="#69c361"/>
<path d="M498.6 160.9 501.6 159.7 504.4 163.5 501.3 164.6" fill="#399b5e"/>
<path d="M427.8 155.7 430.9 154.1 433.6 157.5 430.6 159.0" fill="#6ebf5a"/>
<path d="M542.9 161.1 545.9 159.9 548.7 163.5 545.6 164.8" fill="#44a853"/>
<path d="M563.6 162.3 566.6 161.2 569.3 164.8 566.3 165.9" fill="#49ac50"/>
<path d="M519.2 162.0 522.3 160.6 525.0 164.3 522.0 165.7" fill="#39985b"/>
<path d="M531.1 161.5 534.1 160.1 536.8 163.8 533.8 165.1" fill="#3fa158"/>
<path d="M439.7 154.6 442.7 153.3 445.4 156.9 442.4 158.2" fill="#71c660"/>
<path d="M507.4 162.3 510.4 161.0 513.2 164.7 510.1 166.0" fill="#399b5e"/>
<path d="M460.3 155.6 463.4 154.5 466.1 158.1 463.1 159.3" fill="#59b65f"/>
<path d="M572.4 163.7 575.4 162.6 578.1 166.2 575.1 167.3" fill="#47a64d"/>
<path d="M424.8 157.5 427.8 155.7 430.6 159.0 427.5 160.8" fill="#6cbd59"/>
<path d="M551.7 162.3 554.8 161.1 557.5 164.7 554.5 165.9" fill="#46ac52"/>
<path d="M469.1 157.0 472.2 155.9 474.9 159.6 471.9 160.7" fill="#46a45d"/>
<path d="M581.2 165.1 584.2 164.1 586.9 167.7 583.9 168.7" fill="#4cae51"/>
<path d="M477.9 158.6 481.0 157.6 483.7 161.3 480.7 162.3" fill="#3f9d5d"/>
<path d="M421.8 159.6 424.8 157.5 427.5 160.8 424.5 162.7" fill="#69b957"/>
<path d="M486.7 160.3 489.8 159.3 492.5 163.0 489.5 164.0" fill="#3c9d5c"/>
<path d="M448.5 155.6 451.5 154.4 454.3 158.0 451.2 159.2" fill="#6dc561"/>
<path d="M590.0 166.7 593.0 165.8 595.8 169.2 592.7 170.2" fill="#4eb156"/>
<path d="M539.9 162.4 542.9 161.1 545.6 164.8 542.6 166.1" fill="#43a855"/>
<path d="M495.5 162.0 498.6 160.9 501.3 164.6 498.3 165.7" fill="#399b5d"/>
<path d="M516.2 163.4 519.2 162.0 522.0 165.7 518.9 167.1" fill="#399a5c"/>
<path d="M528.0 162.9 531.1 161.5 533.8 165.1 530.8 166.5" fill="#3c9b58"/>
<path d="M436.6 156.0 439.7 154.6 442.4 158.2 439.4 159.5" fill="#70c25d"/>
<path d="M598.8 168.3 601.8 167.5 604.6 170.7 601.5 171.6" fill="#4eb35a"/>
<path d="M560.5 163.5 563.6 162.3 566.3 165.9 563.3 167.1" fill="#48ac51"/>
<path d="M504.4 163.5 507.4 162.3 510.1 166.0 507.1 167.2" fill="#389b5f"/>
<path d="M457.3 156.8 460.3 155.6 463.1 159.3 460.0 160.4" fill="#61bc60"/>
<path d="M569.3 164.8 572.4 163.7 575.1 167.3 572.1 168.4" fill="#49a84e"/>
<path d="M548.7 163.5 551.7 162.3 554.5 165.9 551.4 167.1" fill="#44a952"/>
<path d="M466.1 158.1 469.1 157.0 471.9 160.7 468.8 161.8" fill="#4fac5e"/>
<path d="M536.8 163.8 539.9 162.4 542.6 166.1 539.6 167.4" fill="#41a556"/>
<path d="M445.4 156.9 448.5 155.6 451.2 159.2 448.2 160.5" fill="#6fc661"/>
<path d="M525.0 164.3 528.0 162.9 530.8 166.5 527.7 167.9" fill="#399758"/>
<path d="M513.2 164.7 516.2 163.4 518.9 167.1 515.9 168.4" fill="#399a5d"/>
<path d="M578.1 166.2 581.2 165.1 583.9 168.7 580.9 169.7" fill="#4ba94f"/>
<path d="M433.6 157.5 436.6 156.0 439.4 159.5 436.3 161.0" fill="#6fc05b"/>
<path d="M474.9 159.6 477.9 158.6 480.7 162.3 477.6 163.3" fill="#409f5d"/>
<path d="M483.7 161.3 486.7 160.3 489.5 164.0 486.4 165.0" fill="#3d9d5c"/>
<path d="M492.5 163.0 495.5 162.0 498.3 165.7 495.3 166.8" fill="#3a9b5d"/>
<path d="M557.5 164.7 560.5 163.5 563.3 167.1 560.2 168.3" fill="#48ac51"/>
<path d="M586.9 167.7 590.0 166.7 592.7 170.2 589.7 171.2" fill="#4eaf53"/>
<path d="M501.3 164.6 504.4 163.5 507.1 167.2 504.1 168.4" fill="#389a5e"/>
<path d="M595.8 169.2 598.8 168.3 601.5 171.6 598.5 172.6" fill="#4fb359"/>
<path d="M454.3 158.0 457.3 156.8 460.0 160.4 457.0 161.6" fill="#67c160"/>
<path d="M545.6 164.8 548.7 163.5 551.4 167.1 548.4 168.4" fill="#43a752"/>
<path d="M566.3 165.9 569.3 164.8 572.1 168.4 569.0 169.5" fill="#4aab50"/>
<path d="M430.6 159.0 433.6 157.5 436.3 161.0 433.3 162.5" fill="#6dbe59"/>
<path d="M522.0 165.7 525.0 164.3 527.7 167.9 524.7 169.4" fill="#399659"/>
<path d="M533.8 165.1 536.8 163.8 539.6 167.4 536.5 168.8" fill="#3fa258"/>
<path d="M510.1 166.0 513.2 164.7 515.9 168.4 512.9 169.7" fill="#389a5e"/>
<path d="M442.4 158.2 445.4 156.9 448.2 160.5 445.1 161.7" fill="#70c55f"/>
<path d="M463.1 159.3 466.1 158.1 468.8 161.8 465.8 162.9" fill="#57b45e"/>
<path d="M575.1 167.3 578.1 166.2 580.9 169.7 577.8 170.8" fill="#4aa64d"/>
<path d="M471.9 160.7 474.9 159.6 477.6 163.3 474.6 164.4" fill="#45a35d"/>
<path d="M554.5 165.9 557.5 164.7 560.2 168.3 557.2 169.5" fill="#47ab52"/>
<path d="M480.7 162.3 483.7 161.3 486.4 165.0 483.4 166.0" fill="#3e9e5c"/>
<path d="M427.5 160.8 430.6 159.0 433.3 162.5 430.3 164.1" fill="#6bbb58"/>
<path d="M489.5 164.0 492.5 163.0 495.3 166.8 492.2 167.7" fill="#3b9b5c"/>
<path d="M583.9 168.7 586.9 167.7 589.7 171.2 586.6 172.2" fill="#4fad52"/>
<path d="M498.3 165.7 501.3 164.6 504.1 168.4 501.0 169.5" fill="#389a5e"/>
<path d="M451.2 159.2 454.3 158.0 457.0 161.6 454.0 162.8" fill="#6bc360"/>
<path d="M542.6 166.1 545.6 164.8 548.4 168.4 545.4 169.7" fill="#43a754"/>
<path d="M518.9 167.1 522.0 165.7 524.7 169.4 521.7 170.8" fill="#38975b"/>
<path d="M530.8 166.5 533.8 165.1 536.5 168.8 533.5 170.2" fill="#3c9d58"/>
<path d="M592.7 170.2 595.8 169.2 598.5 172.6 595.5 173.6" fill="#4fb157"/>
<path d="M563.3 167.1 566.3 165.9 569.0 169.5 566.0 170.7" fill="#4aab51"/>
<path d="M439.4 159.5 442.4 158.2 445.1 161.7 442.1 163.1" fill="#6fc25d"/>
<path d="M507.1 167.2 510.1 166.0 512.9 169.7 509.8 170.9" fill="#389a5f"/>
<path d="M424.5 162.7 427.5 160.8 430.3 164.1 427.2 165.9" fill="#67b856"/>
<path d="M460.0 160.4 463.1 159.3 465.8 162.9 462.8 164.0" fill="#5fba5e"/>
<path d="M601.5 171.6 604.6 170.7 607.3 173.9 604.3 174.9" fill="#4fb35a"/>
<path d="M572.1 168.4 575.1 167.3 577.8 170.8 574.8 171.9" fill="#4ba74e"/>
<path d="M551.4 167.1 554.5 165.9 557.2 169.5 554.2 170.7" fill="#45a952"/>
<path d="M468.8 161.8 471.9 160.7 474.6 164.4 471.6 165.4" fill="#4dab5c"/>
<path d="M515.9 168.4 518.9 167.1 521.7 170.8 518.6 172.1" fill="#38985c"/>
<path d="M527.7 167.9 530.8 166.5 533.5 170.2 530.5 171.6" fill="#3a9858"/>
<path d="M539.6 167.4 542.6 166.1 545.4 169.7 542.3 171.0" fill="#41a556"/>
<path d="M448.2 160.5 451.2 159.2 454.0 162.8 450.9 164.0" fill="#6dc460"/>
<path d="M477.6 163.3 480.7 162.3 483.4 166.0 480.4 167.0" fill="#409f5c"/>
<path d="M580.9 169.7 583.9 168.7 586.6 172.2 583.6 173.2" fill="#4eaa4f"/>
<path d="M486.4 165.0 489.5 164.0 492.2 167.7 489.2 168.7" fill="#3c9c5b"/>
<path d="M436.3 161.0 439.4 159.5 442.1 163.1 439.1 164.5" fill="#6ec05b"/>
<path d="M495.3 166.8 498.3 165.7 501.0 169.5 498.0 170.5" fill="#399b5d"/>
<path d="M560.2 168.3 563.3 167.1 566.0 170.7 563.0 171.9" fill="#49ab51"/>
<path d="M504.1 168.4 507.1 167.2 509.8 170.9 506.8 172.1" fill="#37995e"/>
<path d="M589.7 171.2 592.7 170.2 595.5 173.6 592.4 174.6" fill="#50ae53"/>
<path d="M457.0 161.6 460.0 160.4 462.8 164.0 459.7 165.2" fill="#64bf5f"/>
<path d="M548.4 168.4 551.4 167.1 554.2 170.7 551.1 172.0" fill="#43a752"/>
<path d="M598.5 172.6 601.5 171.6 604.3 174.9 601.2 176.0" fill="#50b25a"/>
<path d="M524.7 169.4 527.7 167.9 530.5 171.6 527.4 173.0" fill="#389658"/>
<path d="M569.0 169.5 572.1 168.4 574.8 171.9 571.8 173.0" fill="#4ca950"/>
<path d="M512.9 169.7 515.9 168.4 518.6 172.1 515.6 173.4" fill="#37985d"/>
<path d="M536.5 168.8 539.6 167.4 542.3 171.0 539.3 172.4" fill="#3fa358"/>
<path d="M433.3 162.5 436.3 161.0 439.1 164.5 436.0 165.9" fill="#6dbe59"/>
<path d="M465.8 162.9 468.8 161.8 471.6 165.4 468.5 166.5" fill="#55b35d"/>
<path d="M445.1 161.7 448.2 160.5 450.9 164.0 447.9 165.3" fill="#6ec45f"/>
<path d="M474.6 164.4 477.6 163.3 480.4 167.0 477.3 168.0" fill="#45a45c"/>
<path d="M577.8 170.8 580.9 169.7 583.6 173.2 580.6 174.3" fill="#4ea64e"/>
<path d="M557.2 169.5 560.2 168.3 563.0 171.9 559.9 173.1" fill="#48aa52"/>
<path d="M483.4 166.0 486.4 165.0 489.2 168.7 486.1 169.7" fill="#3e9d5c"/>
<path d="M492.2 167.7 495.3 166.8 498.0 170.5 495.0 171.5" fill="#3a9b5c"/>
<path d="M501.0 169.5 504.1 168.4 506.8 172.1 503.8 173.2" fill="#389a5e"/>
<path d="M586.6 172.2 589.7 171.2 592.4 174.6 589.4 175.7" fill="#51ab51"/>
<path d="M454.0 162.8 457.0 161.6 459.7 165.2 456.7 166.4" fill="#68c15f"/>
<path d="M521.7 170.8 524.7 169.4 527.4 173.0 524.4 174.4" fill="#38965a"/>
<path d="M430.3 164.1 433.3 162.5 436.0 165.9 433.0 167.5" fill="#6bbc57"/>
<path d="M545.4 169.7 548.4 168.4 551.1 172.0 548.1 173.3" fill="#42a754"/>
<path d="M533.5 170.2 536.5 168.8 539.3 172.4 536.3 173.8" fill="#3d9f59"/>
<path d="M509.8 170.9 512.9 169.7 515.6 173.4 512.6 174.6" fill="#37995e"/>
<path d="M566.0 170.7 569.0 169.5 571.8 173.0 568.7 174.2" fill="#4ba950"/>
<path d="M442.1 163.1 445.1 161.7 447.9 165.3 444.9 166.6" fill="#6ec35d"/>
<path d="M595.5 173.6 598.5 172.6 601.2 176.0 598.2 177.0" fill="#50af56"/>
<path d="M462.8 164.0 465.8 162.9 468.5 166.5 465.5 167.7" fill="#5cb85d"/>
<path d="M427.2 165.9 430.3 164.1 433.0 167.5 430.0 169.2" fill="#66b755"/>
<path d="M554.2 170.7 557.2 169.5 559.9 173.1 556.9 174.3" fill="#46a852"/>
<path d="M574.8 171.9 577.8 170.8 580.6 174.3 577.5 175.4" fill="#4fa64e"/>
<path d="M471.6 165.4 474.6 164.4 477.3 168.0 474.3 169.1" fill="#4dab5c"/>
<path d="M518.6 172.1 521.7 170.8 524.4 174.4 521.4 175.7" fill="#37965b"/>
<path d="M604.3 174.9 607.3 173.9 610.0 177.1 607.0 178.2" fill="#4fb25a"/>
<path d="M530.5 171.6 533.5 170.2 536.3 173.8 533.2 175.2" fill="#3a9a58"/>
<path d="M542.3 171.0 545.4 169.7 548.1 173.3 545.1 174.6" fill="#41a556"/>
<path d="M480.4 167.0 483.4 166.0 486.1 169.7 483.1 170.7" fill="#41a05c"/>
<path d="M489.2 168.7 492.2 167.7 495.0 171.5 491.9 172.4" fill="#3c9b5b"/>
<path d="M450.9 164.0 454.0 162.8 456.7 166.4 453.7 167.6" fill="#6bc25f"/>
<path d="M498.0 170.5 501.0 169.5 503.8 173.2 500.7 174.2" fill="#399b5d"/>
<path d="M583.6 173.2 586.6 172.2 589.4 175.7 586.4 176.7" fill="#52a84f"/>
<path d="M439.1 164.5 442.1 163.1 444.9 166.6 441.8 168.0" fill="#6ec15b"/>
<path d="M506.8 172.1 509.8 170.9 512.6 174.6 509.5 175.8" fill="#37995e"/>
<path d="M563.0 171.9 566.0 170.7 568.7 174.2 565.7 175.4" fill="#4aa951"/>
<path d="M592.4 174.6 595.5 173.6 598.2 177.0 595.2 178.1" fill="#51ab52"/>
<path d="M459.7 165.2 462.8 164.0 465.5 167.7 462.5 168.8" fill="#62bd5e"/>
<path d="M551.1 172.0 554.2 170.7 556.9 174.3 553.9 175.6" fill="#44a652"/>
<path d="M527.4 173.0 530.5 171.6 533.2 175.2 530.2 176.6" fill="#399859"/>
<path d="M515.6 173.4 518.6 172.1 521.4 175.7 518.3 177.0" fill="#37975c"/>
<path d="M539.3 172.4 542.3 171.0 545.1 174.6 542.0 176.0" fill="#40a358"/>
<path d="M571.8 173.0 574.8 171.9 577.5 175.4 574.5 176.6" fill="#4fa74f"/>
<path d="M468.5 166.5 471.6 165.4 474.3 169.1 471.3 170.2" fill="#54b25c"/>
<path d="M447.9 165.3 450.9 164.0 453.7 167.6 450.6 168.9" fill="#6dc35e"/>
<path d="M601.2 176.0 604.3 174.9 607.0 178.2 604.0 179.4" fill="#50b159"/>
<path d="M436.0 165.9 439.1 164.5 441.8 168.0 438.8 169.4" fill="#6ec15a"/>
<path d="M477.3 168.0 480.4 167.0 483.1 170.7 480.1 171.7" fill="#45a55c"/>
<path d="M486.1 169.7 489.2 168.7 491.9 172.4 488.9 173.4" fill="#3e9d5b"/>
<path d="M495.0 171.5 498.0 170.5 500.7 174.2 497.7 175.2" fill="#3a9b5c"/>
<path d="M580.6 174.3 583.6 173.2 586.4 176.7 583.3 177.8" fill="#53a54e"/>
<path d="M559.9 173.1 563.0 171.9 565.7 175.4 562.7 176.6" fill="#49a951"/>
<path d="M503.8 173.2 506.8 172.1 509.5 175.8 506.5 176.8" fill="#38995e"/>
<path d="M524.4 174.4 527.4 173.0 530.2 176.6 527.1 178.0" fill="#38975a"/>
<path d="M456.7 166.4 459.7 165.2 462.5 168.8 459.4 170.0" fill="#66c05e"/>
<path d="M548.1 173.3 551.1 172.0 553.9 175.6 550.8 176.9" fill="#42a553"/>
<path d="M536.3 173.8 539.3 172.4 542.0 176.0 539.0 177.4" fill="#3ea059"/>
<path d="M589.4 175.7 592.4 174.6 595.2 178.1 592.1 179.1" fill="#54a84f"/>
<path d="M512.6 174.6 515.6 173.4 518.3 177.0 515.3 178.3" fill="#37985e"/>
<path d="M433.0 167.5 436.0 165.9 438.8 169.4 435.8 170.9" fill="#6cbe58"/>
<path d="M568.7 174.2 571.8 173.0 574.5 176.6 571.5 177.7" fill="#4ea74f"/>
<path d="M444.9 166.6 447.9 165.3 450.6 168.9 447.6 170.1" fill="#6ec35c"/>
<path d="M465.5 167.7 468.5 166.5 471.3 170.2 468.2 171.3" fill="#5ab75c"/>
<path d="M598.2 177.0 601.2 176.0 604.0 179.4 600.9 180.5" fill="#51ad55"/>
<path d="M474.3 169.1 477.3 168.0 480.1 171.7 477.0 172.8" fill="#4cac5c"/>
<path d="M556.9 174.3 559.9 173.1 562.7 176.6 559.6 177.9" fill="#46a751"/>
<path d="M430.0 169.2 433.0 167.5 435.8 170.9 432.7 172.5" fill="#67b855"/>
<path d="M521.4 175.7 524.4 174.4 527.1 178.0 524.1 179.4" fill="#37965b"/>
<path d="M483.1 170.7 486.1 169.7 488.9 173.4 485.9 174.4" fill="#40a05b"/>
<path d="M577.5 175.4 580.6 174.3 583.3 177.8 580.3 178.9" fill="#53a44d"/>
<path d="M491.9 172.4 495.0 171.5 497.7 175.2 494.7 176.1" fill="#3b9b5b"/>
<path d="M533.2 175.2 536.3 173.8 539.0 177.4 536.0 178.8" fill="#3b9d59"/>
<path d="M500.7 174.2 503.8 173.2 506.5 176.8 503.5 177.8" fill="#399b5e"/>
<path d="M545.1 174.6 548.1 173.3 550.8 176.9 547.8 178.2" fill="#41a555"/>
<path d="M453.7 167.6 456.7 166.4 459.4 170.0 456.4 171.2" fill="#69c15e"/>
<path d="M509.5 175.8 512.6 174.6 515.3 178.3 512.3 179.4" fill="#37995e"/>
<path d="M607.0 178.2 610.0 177.1 612.8 180.2 609.7 181.5" fill="#4faf58"/>
<path d="M441.8 168.0 444.9 166.6 447.6 170.1 444.6 171.5" fill="#6ec25b"/>
<path d="M586.4 176.7 589.4 175.7 592.1 179.1 589.1 180.2" fill="#56a44d"/>
<path d="M565.7 175.4 568.7 174.2 571.5 177.7 568.4 178.9" fill="#4ca750"/>
<path d="M462.5 168.8 465.5 167.7 468.2 171.3 465.2 172.4" fill="#60bc5d"/>
<path d="M595.2 178.1 598.2 177.0 600.9 180.5 597.9 181.5" fill="#53a751"/>
<path d="M553.9 175.6 556.9 174.3 559.6 177.9 556.6 179.2" fill="#44a451"/>
<path d="M530.2 176.6 533.2 175.2 536.0 178.8 532.9 180.2" fill="#3a9a5a"/>
<path d="M518.3 177.0 521.4 175.7 524.1 179.4 521.1 180.6" fill="#36965c"/>
<path d="M542.0 176.0 545.1 174.6 547.8 178.2 544.8 179.6" fill="#40a357"/>
<path d="M471.3 170.2 474.3 169.1 477.0 172.8 474.0 173.8" fill="#53b25c"/>
<path d="M574.5 176.6 577.5 175.4 580.3 178.9 577.3 180.0" fill="#53a44e"/>
<path d="M450.6 168.9 453.7 167.6 456.4 171.2 453.4 172.4" fill="#6bc35d"/>
<path d="M480.1 171.7 483.1 170.7 485.9 174.4 482.8 175.4" fill="#45a55c"/>
<path d="M488.9 173.4 491.9 172.4 494.7 176.1 491.6 177.1" fill="#3d9c5a"/>
<path d="M438.8 169.4 441.8 168.0 444.6 171.5 441.5 172.8" fill="#6ec25a"/>
<path d="M497.7 175.2 500.7 174.2 503.5 177.8 500.4 178.8" fill="#3a9b5c"/>
<path d="M604.0 179.4 607.0 178.2 609.7 181.5 606.7 182.7" fill="#50ae58"/>
<path d="M506.5 176.8 509.5 175.8 512.3 179.4 509.2 180.5" fill="#37995e"/>
<path d="M562.7 176.6 565.7 175.4 568.4 178.9 565.4 180.1" fill="#4aa650"/>
<path d="M583.3 177.8 586.4 176.7 589.1 180.2 586.1 181.3" fill="#58a14c"/>
<path d="M527.1 178.0 530.2 176.6 532.9 180.2 529.9 181.6" fill="#39995a"/>
<path d="M459.4 170.0 462.5 168.8 465.2 172.4 462.2 173.6" fill="#64c05e"/>
<path d="M550.8 176.9 553.9 175.6 556.6 179.2 553.6 180.5" fill="#42a352"/>
<path d="M539.0 177.4 542.0 176.0 544.8 179.6 541.7 181.0" fill="#3ea158"/>
<path d="M515.3 178.3 518.3 177.0 521.1 180.6 518.0 181.9" fill="#36975d"/>
<path d="M592.1 179.1 595.2 178.1 597.9 181.5 594.9 182.6" fill="#57a34d"/>
<path d="M435.8 170.9 438.8 169.4 441.5 172.8 438.5 174.3" fill="#6dc159"/>
<path d="M468.2 171.3 471.3 170.2 474.0 173.8 471.0 175.0" fill="#59b75c"/>
<path d="M447.6 170.1 450.6 168.9 453.4 172.4 450.3 173.7" fill="#6dc45c"/>
<path d="M571.5 177.7 574.5 176.6 577.3 180.0 574.2 181.2" fill="#52a44e"/>
<path d="M477.0 172.8 480.1 171.7 482.8 175.4 479.8 176.4" fill="#4bac5c"/>
<path d="M600.9 180.5 604.0 179.4 606.7 182.7 603.7 183.9" fill="#52aa54"/>
<path d="M485.9 174.4 488.9 173.4 491.6 177.1 488.6 178.1" fill="#40a05b"/>
<path d="M559.6 177.9 562.7 176.6 565.4 180.1 562.4 181.4" fill="#48a551"/>
<path d="M494.7 176.1 497.7 175.2 500.4 178.8 497.4 179.8" fill="#3b9c5b"/>
<path d="M524.1 179.4 527.1 178.0 529.9 181.6 526.9 182.9" fill="#37975b"/>
<path d="M503.5 177.8 506.5 176.8 509.2 180.5 506.2 181.5" fill="#389a5d"/>
<path d="M536.0 178.8 539.0 177.4 541.7 181.0 538.7 182.4" fill="#3c9e59"/>
<path d="M547.8 178.2 550.8 176.9 553.6 180.5 550.5 181.8" fill="#41a254"/>
<path d="M580.3 178.9 583.3 177.8 586.1 181.3 583.0 182.3" fill="#58a04c"/>
<path d="M432.7 172.5 435.8 170.9 438.5 174.3 435.5 175.8" fill="#69bc57"/>
<path d="M456.4 171.2 459.4 170.0 462.2 173.6 459.1 174.8" fill="#67c15d"/>
<path d="M512.3 179.4 515.3 178.3 518.0 181.9 515.0 183.0" fill="#37985e"/>
<path d="M444.6 171.5 447.6 170.1 450.3 173.7 447.3 174.9" fill="#6dc25a"/>
<path d="M589.1 180.2 592.1 179.1 594.9 182.6 591.8 183.6" fill="#5a9f4b"/>
<path d="M568.4 178.9 571.5 177.7 574.2 181.2 571.2 182.4" fill="#50a44f"/>
<path d="M465.2 172.4 468.2 171.3 471.0 175.0 467.9 176.1" fill="#5ebb5d"/>
<path d="M609.7 181.5 612.8 180.2 615.5 183.4 612.5 184.8" fill="#4eab56"/>
<path d="M556.6 179.2 559.6 177.9 562.4 181.4 559.3 182.7" fill="#45a351"/>
<path d="M532.9 180.2 536.0 178.8 538.7 182.4 535.7 183.8" fill="#3b9c5a"/>
<path d="M521.1 180.6 524.1 179.4 526.9 182.9 523.8 184.2" fill="#36965b"/>
<path d="M474.0 173.8 477.0 172.8 479.8 176.4 476.8 177.5" fill="#51b25c"/>
<path d="M544.8 179.6 547.8 178.2 550.5 181.8 547.5 183.2" fill="#3fa256"/>
<path d="M597.9 181.5 600.9 180.5 603.7 183.9 600.6 185.0" fill="#56a44f"/>
<path d="M482.8 175.4 485.9 174.4 488.6 178.1 485.6 179.1" fill="#45a55b"/>
<path d="M491.6 177.1 494.7 176.1 497.4 179.8 494.4 180.7" fill="#3d9c5a"/>
<path d="M453.4 172.4 456.4 171.2 459.1 174.8 456.1 175.9" fill="#6ac35d"/>
<path d="M577.3 180.0 580.3 178.9 583.0 182.3 580.0 183.5" fill="#58a04c"/>
<path d="M500.4 178.8 503.5 177.8 506.2 181.5 503.2 182.5" fill="#3a9b5c"/>
<path d="M441.5 172.8 444.6 171.5 447.3 174.9 444.3 176.2" fill="#6ec259"/>
<path d="M509.2 180.5 512.3 179.4 515.0 183.0 512.0 184.1" fill="#37995e"/>
<path d="M565.4 180.1 568.4 178.9 571.2 182.4 568.1 183.6" fill="#4da450"/>
<path d="M606.7 182.7 609.7 181.5 612.5 184.8 609.4 186.1" fill="#50aa56"/>
<path d="M462.2 173.6 465.2 172.4 467.9 176.1 464.9 177.3" fill="#62bf5d"/>
<path d="M586.1 181.3 589.1 180.2 591.8 183.6 588.8 184.7" fill="#5d9c4a"/>
<path d="M529.9 181.6 532.9 180.2 535.7 183.8 532.6 185.1" fill="#399a5a"/>
<path d="M553.6 180.5 556.6 179.2 559.3 182.7 556.3 184.0" fill="#42a152"/>
<path d="M541.7 181.0 544.8 179.6 547.5 183.2 544.5 184.5" fill="#3ea057"/>
<path d="M518.0 181.9 521.1 180.6 523.8 184.2 520.8 185.4" fill="#36965c"/>
<path d="M471.0 175.0 474.0 173.8 476.8 177.5 473.7 178.7" fill="#57b65b"/>
<path d="M594.9 182.6 597.9 181.5 600.6 185.0 597.6 186.0" fill="#5b9f4c"/>
<path d="M450.3 173.7 453.4 172.4 456.1 175.9 453.1 177.2" fill="#6dc55c"/>
<path d="M438.5 174.3 441.5 172.8 444.3 176.2 441.2 177.6" fill="#6dc158"/>
<path d="M479.8 176.4 482.8 175.4 485.6 179.1 482.5 180.1" fill="#4aab5b"/>
<path d="M574.2 181.2 577.3 180.0 580.0 183.5 577.0 184.6" fill="#56a04d"/>
<path d="M488.6 178.1 491.6 177.1 494.4 180.7 491.3 181.7" fill="#3f9f59"/>
<path d="M497.4 179.8 500.4 178.8 503.2 182.5 500.1 183.4" fill="#3b9d5b"/>
<path d="M506.2 181.5 509.2 180.5 512.0 184.1 508.9 185.1" fill="#389a5d"/>
<path d="M562.4 181.4 565.4 180.1 568.1 183.6 565.1 184.9" fill="#4aa451"/>
<path d="M526.9 182.9 529.9 181.6 532.6 185.1 529.6 186.5" fill="#38975a"/>
<path d="M603.7 183.9 606.7 182.7 609.4 186.1 606.4 187.3" fill="#53a753"/>
<path d="M538.7 182.4 541.7 181.0 544.5 184.5 541.4 185.9" fill="#3d9f59"/>
<path d="M550.5 181.8 553.6 180.5 556.3 184.0 553.3 185.4" fill="#40a053"/>
<path d="M459.1 174.8 462.2 173.6 464.9 177.3 461.9 178.5" fill="#66c25d"/>
<path d="M583.0 182.3 586.1 181.3 588.8 184.7 585.8 185.8" fill="#5e9b4a"/>
<path d="M515.0 183.0 518.0 181.9 520.8 185.4 517.8 186.6" fill="#37985e"/>
<path d="M435.5 175.8 438.5 174.3 441.2 177.6 438.2 179.0" fill="#6abe57"/>
<path d="M467.9 176.1 471.0 175.0 473.7 178.7 470.7 179.8" fill="#5bba5c"/>
<path d="M447.3 174.9 450.3 173.7 453.1 177.2 450.0 178.4" fill="#6dc35a"/>
<path d="M591.8 183.6 594.9 182.6 597.6 186.0 594.6 187.1" fill="#609a4a"/>
<path d="M571.2 182.4 574.2 181.2 577.0 184.6 573.9 185.9" fill="#54a14e"/>
<path d="M476.8 177.5 479.8 176.4 482.5 180.1 479.5 181.3" fill="#50b15b"/>
<path d="M612.5 184.8 615.5 183.4 618.3 187.0 615.2 188.4" fill="#50ae57"/>
<path d="M535.7 183.8 538.7 182.4 541.4 185.9 538.4 187.3" fill="#3b9d5a"/>
<path d="M523.8 184.2 526.9 182.9 529.6 186.5 526.6 187.8" fill="#36955b"/>
<path d="M559.3 182.7 562.4 181.4 565.1 184.9 562.1 186.2" fill="#47a352"/>
<path d="M547.5 183.2 550.5 181.8 553.3 185.4 550.2 186.7" fill="#3f9f54"/>
<path d="M485.6 179.1 488.6 178.1 491.3 181.7 488.3 182.7" fill="#44a45a"/>
<path d="M600.6 185.0 603.7 183.9 606.4 187.3 603.4 188.4" fill="#59a24f"/>
<path d="M494.4 180.7 497.4 179.8 500.1 183.4 497.1 184.4" fill="#3d9d5a"/>
<path d="M456.1 175.9 459.1 174.8 461.9 178.5 458.8 179.7" fill="#69c45d"/>
<path d="M503.2 182.5 506.2 181.5 508.9 185.1 505.9 186.1" fill="#399b5c"/>
<path d="M580.0 183.5 583.0 182.3 585.8 185.8 582.7 186.9" fill="#5e9b4b"/>
<path d="M512.0 184.1 515.0 183.0 517.8 186.6 514.7 187.7" fill="#37995e"/>
<path d="M444.3 176.2 447.3 174.9 450.0 178.4 447.0 179.6" fill="#6dc259"/>
<path d="M464.9 177.3 467.9 176.1 470.7 179.8 467.6 181.0" fill="#60bd5c"/>
<path d="M568.1 183.6 571.2 182.4 573.9 185.9 570.9 187.1" fill="#51a24f"/>
<path d="M609.4 186.1 612.5 184.8 615.2 188.4 612.2 189.7" fill="#52ac56"/>
<path d="M532.6 185.1 535.7 183.8 538.4 187.3 535.4 188.7" fill="#3a9b5a"/>
<path d="M588.8 184.7 591.8 183.6 594.6 187.1 591.5 188.1" fill="#639749"/>
<path d="M556.3 184.0 559.3 182.7 562.1 186.2 559.0 187.6" fill="#44a252"/>
<path d="M544.5 184.5 547.5 183.2 550.2 186.7 547.2 188.1" fill="#3e9f56"/>
<path d="M520.8 185.4 523.8 184.2 526.6 187.8 523.5 189.0" fill="#36965c"/>
<path d="M473.7 178.7 476.8 177.5 479.5 181.3 476.5 182.4" fill="#54b55a"/>
<path d="M453.1 177.2 456.1 175.9 458.8 179.7 455.8 181.0" fill="#6cc55c"/>
<path d="M482.5 180.1 485.6 179.1 488.3 182.7 485.3 183.8" fill="#49a959"/>
<path d="M597.6 186.0 600.6 185.0 603.4 188.4 600.3 189.5" fill="#609d4b"/>
<path d="M491.3 181.7 494.4 180.7 497.1 184.4 494.1 185.3" fill="#3f9f59"/>
<path d="M577.0 184.6 580.0 183.5 582.7 186.9 579.7 188.1" fill="#5c9c4b"/>
<path d="M500.1 183.4 503.2 182.5 505.9 186.1 502.9 187.0" fill="#3c9e5c"/>
<path d="M441.2 177.6 444.3 176.2 447.0 179.6 444.0 180.9" fill="#6dc258"/>
<path d="M508.9 185.1 512.0 184.1 514.7 187.7 511.7 188.7" fill="#389a5d"/>
<path d="M461.9 178.5 464.9 177.3 467.6 181.0 464.6 182.3" fill="#64c05c"/>
<path d="M529.6 186.5 532.6 185.1 535.4 188.7 532.3 190.0" fill="#38985a"/>
<path d="M565.1 184.9 568.1 183.6 570.9 187.1 567.9 188.4" fill="#4da351"/>
<path d="M541.4 185.9 544.5 184.5 547.2 188.1 544.2 189.5" fill="#3d9e58"/>
<path d="M606.4 187.3 609.4 186.1 612.2 189.7 609.1 190.9" fill="#56a853"/>
<path d="M553.3 185.4 556.3 184.0 559.0 187.6 556.0 188.9" fill="#41a053"/>
<path d="M517.8 186.6 520.8 185.4 523.5 189.0 520.5 190.1" fill="#36975d"/>
<path d="M470.7 179.8 473.7 178.7 476.5 182.4 473.4 183.6" fill="#59b85a"/>
<path d="M585.8 185.8 588.8 184.7 591.5 188.1 588.5 189.2" fill="#669749"/>
<path d="M450.0 178.4 453.1 177.2 455.8 181.0 452.8 182.3" fill="#6dc45a"/>
<path d="M479.5 181.3 482.5 180.1 485.3 183.8 482.2 184.9" fill="#4dae59"/>
<path d="M615.2 188.4 618.3 187.0 621.0 190.8 618.0 192.2" fill="#52b158"/>
<path d="M438.2 179.0 441.2 177.6 444.0 180.9 440.9 182.2" fill="#6abf57"/>
<path d="M594.6 187.1 597.6 186.0 600.3 189.5 597.3 190.5" fill="#669749"/>
<path d="M573.9 185.9 577.0 184.6 579.7 188.1 576.7 189.3" fill="#599d4d"/>
<path d="M458.8 179.7 461.9 178.5 464.6 182.3 461.6 183.6" fill="#68c35c"/>
<path d="M538.4 187.3 541.4 185.9 544.2 189.5 541.1 190.8" fill="#3c9d59"/>
<path d="M526.6 187.8 529.6 186.5 532.3 190.0 529.3 191.3" fill="#36955a"/>
<path d="M488.3 182.7 491.3 181.7 494.1 185.3 491.0 186.4" fill="#43a358"/>
<path d="M562.1 186.2 565.1 184.9 567.9 188.4 564.8 189.7" fill="#4aa452"/>
<path d="M550.2 186.7 553.3 185.4 556.0 188.9 553.0 190.3" fill="#3f9e53"/>
<path d="M497.1 184.4 500.1 183.4 502.9 187.0 499.8 188.0" fill="#3ea05b"/>
<path d="M505.9 186.1 508.9 185.1 511.7 188.7 508.6 189.7" fill="#399b5c"/>
<path d="M603.4 188.4 606.4 187.3 609.1 190.9 606.1 192.0" fill="#5ea34f"/>
<path d="M467.6 181.0 470.7 179.8 473.4 183.6 470.4 184.9" fill="#5dbb5b"/>
<path d="M514.7 187.7 517.8 186.6 520.5 190.1 517.5 191.2" fill="#37985d"/>
<path d="M447.0 179.6 450.0 178.4 452.8 182.3 449.7 183.7" fill="#6ec459"/>
<path d="M582.7 186.9 585.8 185.8 588.5 189.2 585.5 190.3" fill="#659749"/>
<path d="M612.2 189.7 615.2 188.4 618.0 192.2 614.9 193.4" fill="#54ae57"/>
<path d="M476.5 182.4 479.5 181.3 482.2 184.9 479.2 186.1" fill="#51b158"/>
<path d="M535.4 188.7 538.4 187.3 541.1 190.8 538.1 192.2" fill="#3a9b5a"/>
<path d="M570.9 187.1 573.9 185.9 576.7 189.3 573.6 190.6" fill="#55a04e"/>
<path d="M547.2 188.1 550.2 186.7 553.0 190.3 549.9 191.6" fill="#3e9e55"/>
<path d="M455.8 181.0 458.8 179.7 461.6 183.6 458.5 184.9" fill="#6bc45b"/>
<path d="M559.0 187.6 562.1 186.2 564.8 189.7 561.8 191.1" fill="#46a353"/>
<path d="M523.5 189.0 526.6 187.8 529.3 191.3 526.3 192.5" fill="#36955b"/>
<path d="M591.5 188.1 594.6 187.1 597.3 190.5 594.3 191.6" fill="#6b9448"/>
<path d="M485.3 183.8 488.3 182.7 491.0 186.4 488.0 187.4" fill="#47a758"/>
<path d="M494.1 185.3 497.1 184.4 499.8 188.0 496.8 189.0" fill="#40a15a"/>
<path d="M600.3 189.5 603.4 188.4 606.1 192.0 603.1 193.0" fill="#679c4b"/>
<path d="M464.6 182.3 467.6 181.0 470.4 184.9 467.4 186.2" fill="#61be5b"/>
<path d="M444.0 180.9 447.0 179.6 449.7 183.7 446.7 185.1" fill="#6fc559"/>
<path d="M502.9 187.0 505.9 186.1 508.6 189.7 505.6 190.6" fill="#3c9e5c"/>
<path d="M511.7 188.7 514.7 187.7 517.5 191.2 514.4 192.2" fill="#38995d"/>
<path d="M579.7 188.1 582.7 186.9 585.5 190.3 582.4 191.5" fill="#63984a"/>
<path d="M609.1 190.9 612.2 189.7 614.9 193.4 611.9 194.6" fill="#59a953"/>
<path d="M532.3 190.0 535.4 188.7 538.1 192.2 535.1 193.5" fill="#38995a"/>
<path d="M544.2 189.5 547.2 188.1 549.9 191.6 546.9 193.0" fill="#3d9f57"/>
<path d="M567.9 188.4 570.9 187.1 573.6 190.6 570.6 191.9" fill="#51a250"/>
<path d="M452.8 182.3 455.8 181.0 458.5 184.9 455.5 186.3" fill="#6dc45a"/>
<path d="M556.0 188.9 559.0 187.6 561.8 191.1 558.8 192.4" fill="#43a153"/>
<path d="M473.4 183.6 476.5 182.4 479.2 186.1 476.2 187.3" fill="#55b458"/>
<path d="M520.5 190.1 523.5 189.0 526.3 192.5 523.2 193.7" fill="#36965c"/>
<path d="M588.5 189.2 591.5 188.1 594.3 191.6 591.2 192.6" fill="#6e9348"/>
<path d="M618.0 192.2 621.0 190.8 623.7 194.7 620.7 196.0" fill="#53b158"/>
<path d="M440.9 182.2 444.0 180.9 446.7 185.1 443.7 186.6" fill="#6dc459"/>
<path d="M461.6 183.6 464.6 182.3 467.4 186.2 464.3 187.6" fill="#66c15b"/>
<path d="M482.2 184.9 485.3 183.8 488.0 187.4 485.0 188.5" fill="#4baa57"/>
<path d="M597.3 190.5 600.3 189.5 603.1 193.0 600.0 194.0" fill="#6e9649"/>
<path d="M491.0 186.4 494.1 185.3 496.8 189.0 493.8 190.0" fill="#43a458"/>
<path d="M541.1 190.8 544.2 189.5 546.9 193.0 543.9 194.4" fill="#3c9e59"/>
<path d="M576.7 189.3 579.7 188.1 582.4 191.5 579.4 192.7" fill="#5f9a4b"/>
<path d="M529.3 191.3 532.3 190.0 535.1 193.5 532.0 194.8" fill="#37965a"/>
<path d="M449.7 183.7 452.8 182.3 455.5 186.3 452.5 187.8" fill="#6ec459"/>
<path d="M499.8 188.0 502.9 187.0 505.6 190.6 502.6 191.6" fill="#3ea15b"/>
<path d="M553.0 190.3 556.0 188.9 558.8 192.4 555.7 193.8" fill="#409f54"/>
<path d="M564.8 189.7 567.9 188.4 570.6 191.9 567.6 193.2" fill="#4da352"/>
<path d="M606.1 192.0 609.1 190.9 611.9 194.6 608.9 195.6" fill="#62a24f"/>
<path d="M508.6 189.7 511.7 188.7 514.4 192.2 511.4 193.2" fill="#399b5c"/>
<path d="M470.4 184.9 473.4 183.6 476.2 187.3 473.1 188.6" fill="#59b758"/>
<path d="M517.5 191.2 520.5 190.1 523.2 193.7 520.2 194.7" fill="#37975c"/>
<path d="M458.5 184.9 461.6 183.6 464.3 187.6 461.3 189.1" fill="#69c35a"/>
<path d="M614.9 193.4 618.0 192.2 620.7 196.0 617.7 197.1" fill="#55ad56"/>
<path d="M585.5 190.3 588.5 189.2 591.2 192.6 588.2 193.7" fill="#6e9348"/>
<path d="M479.2 186.1 482.2 184.9 485.0 188.5 481.9 189.7" fill="#4ead56"/>
<path d="M446.7 185.1 449.7 183.7 452.5 187.8 449.4 189.4" fill="#6ec458"/>
<path d="M538.1 192.2 541.1 190.8 543.9 194.4 540.8 195.7" fill="#3b9d5a"/>
<path d="M549.9 191.6 553.0 190.3 555.7 193.8 552.7 195.1" fill="#3e9e55"/>
<path d="M573.6 190.6 576.7 189.3 579.4 192.7 576.4 194.0" fill="#5a9c4d"/>
<path d="M561.8 191.1 564.8 189.7 567.6 193.2 564.5 194.6" fill="#48a353"/>
<path d="M526.3 192.5 529.3 191.3 532.0 194.8 529.0 196.0" fill="#36965b"/>
<path d="M594.3 191.6 597.3 190.5 600.0 194.0 597.0 195.1" fill="#739247"/>
<path d="M488.0 187.4 491.0 186.4 493.8 190.0 490.7 191.0" fill="#46a657"/>
<path d="M467.4 186.2 470.4 184.9 473.1 188.6 470.1 190.0" fill="#5eba58"/>
<path d="M455.5 186.3 458.5 184.9 461.3 189.1 458.3 190.8" fill="#6cc359"/>
<path d="M496.8 189.0 499.8 188.0 502.6 191.6 499.5 192.6" fill="#40a35a"/>
<path d="M603.1 193.0 606.1 192.0 608.9 195.6 605.8 196.6" fill="#6c9b4b"/>
<path d="M505.6 190.6 508.6 189.7 511.4 193.2 508.4 194.2" fill="#3c9e5c"/>
<path d="M443.7 186.6 446.7 185.1 449.4 189.4 446.4 191.2" fill="#6cc258"/>
<path d="M611.9 194.6 614.9 193.4 617.7 197.1 614.6 198.2" fill="#5ba752"/>
<path d="M514.4 192.2 517.5 191.2 520.2 194.7 517.2 195.8" fill="#37985c"/>
<path d="M582.4 191.5 585.5 190.3 588.2 193.7 585.2 194.9" fill="#6b9449"/>
<path d="M535.1 193.5 538.1 192.2 540.8 195.7 537.8 197.0" fill="#399a5a"/>
<path d="M476.2 187.3 479.2 186.1 481.9 189.7 478.9 190.9" fill="#52af56"/>
<path d="M546.9 193.0 549.9 191.6 552.7 195.1 549.6 196.5" fill="#3e9f57"/>
<path d="M558.8 192.4 561.8 191.1 564.5 194.6 561.5 195.9" fill="#44a254"/>
<path d="M570.6 191.9 573.6 190.6 576.4 194.0 573.3 195.3" fill="#559f4f"/>
<path d="M452.5 187.8 455.5 186.3 458.3 190.8 455.2 192.6" fill="#6ec458"/>
<path d="M620.7 196.0 623.7 194.7 626.5 198.5 623.4 199.7" fill="#53b057"/>
<path d="M464.3 187.6 467.4 186.2 470.1 190.0 467.1 191.4" fill="#62bc58"/>
<path d="M523.2 193.7 526.3 192.5 529.0 196.0 526.0 197.2" fill="#36955b"/>
<path d="M485.0 188.5 488.0 187.4 490.7 191.0 487.7 192.1" fill="#49a956"/>
<path d="M591.2 192.6 594.3 191.6 597.0 195.1 594.0 196.1" fill="#769047"/>
<path d="M449.4 189.4 452.5 187.8 455.2 192.6 452.2 194.7" fill="#6dc257"/>
<path d="M493.8 190.0 496.8 189.0 499.5 192.6 496.5 193.6" fill="#43a558"/>
<path d="M600.0 194.0 603.1 193.0 605.8 196.6 602.8 197.6" fill="#749448"/>
<path d="M502.6 191.6 505.6 190.6 508.4 194.2 505.3 195.2" fill="#3ea15b"/>
<path d="M543.9 194.4 546.9 193.0 549.6 196.5 546.6 197.9" fill="#3d9f59"/>
<path d="M446.4 191.2 449.4 189.4 452.2 194.7 449.1 197.1" fill="#68bc54"/>
<path d="M532.0 194.8 535.1 193.5 537.8 197.0 534.8 198.3" fill="#38985a"/>
<path d="M461.3 189.1 464.3 187.6 467.1 191.4 464.0 193.0" fill="#66bd57"/>
<path d="M608.9 195.6 611.9 194.6 614.6 198.2 611.6 199.2" fill="#64a14e"/>
<path d="M555.7 193.8 558.8 192.4 561.5 195.9 558.5 197.3" fill="#419f54"/>
<path d="M473.1 188.6 476.2 187.3 478.9 190.9 475.9 192.2" fill="#56b256"/>
<path d="M579.4 192.7 582.4 191.5 585.2 194.9 582.1 196.2" fill="#65964a"/>
<path d="M567.6 193.2 570.6 191.9 573.3 195.3 570.3 196.7" fill="#4fa151"/>
<path d="M511.4 193.2 514.4 192.2 517.2 195.8 514.1 196.8" fill="#399a5c"/>
<path d="M617.7 197.1 620.7 196.0 623.4 199.7 620.4 200.9" fill="#56ac55"/>
<path d="M520.2 194.7 523.2 193.7 526.0 197.2 522.9 198.3" fill="#36955b"/>
<path d="M481.9 189.7 485.0 188.5 487.7 192.1 484.7 193.3" fill="#4cab55"/>
<path d="M458.3 190.8 461.3 189.1 464.0 193.0 461.0 194.7" fill="#69be56"/>
<path d="M588.2 193.7 591.2 192.6 594.0 196.1 590.9 197.2" fill="#769047"/>
<path d="M540.8 195.7 543.9 194.4 546.6 197.9 543.6 199.2" fill="#3c9e5a"/>
<path d="M552.7 195.1 555.7 193.8 558.5 197.3 555.4 198.7" fill="#3f9e55"/>
<path d="M470.1 190.0 473.1 188.6 475.9 192.2 472.8 193.5" fill="#5ab556"/>
<path d="M564.5 194.6 567.6 193.2 570.3 196.7 567.3 198.1" fill="#4aa253"/>
<path d="M490.7 191.0 493.8 190.0 496.5 193.6 493.5 194.6" fill="#45a757"/>
<path d="M529.0 196.0 532.0 194.8 534.8 198.3 531.7 199.5" fill="#37975b"/>
<path d="M576.4 194.0 579.4 192.7 582.1 196.2 579.1 197.5" fill="#5f994c"/>
<path d="M597.0 195.1 600.0 194.0 602.8 197.6 599.8 198.6" fill="#7a9046"/>
<path d="M455.2 192.6 458.3 190.8 461.0 194.7 458.0 196.7" fill="#6abe55"/>
<path d="M499.5 192.6 502.6 191.6 505.3 195.2 502.3 196.2" fill="#40a35a"/>
<path d="M605.8 196.6 608.9 195.6 611.6 199.2 608.6 200.2" fill="#6f994a"/>
<path d="M449.1 197.1 452.2 194.7 454.9 198.9 451.9 201.5" fill="#63b350"/>
<path d="M508.4 194.2 511.4 193.2 514.1 196.8 511.1 197.8" fill="#3b9d5c"/>
<path d="M452.2 194.7 455.2 192.6 458.0 196.7 454.9 198.9" fill="#69bb54"/>
<path d="M614.6 198.2 617.7 197.1 620.4 200.9 617.4 201.9" fill="#5ba651"/>
<path d="M517.2 195.8 520.2 194.7 522.9 198.3 519.9 199.3" fill="#37965b"/>
<path d="M623.4 199.7 626.5 198.5 629.2 202.4 626.2 203.5" fill="#53b056"/>
<path d="M478.9 190.9 481.9 189.7 484.7 193.3 481.6 194.5" fill="#50ad55"/>
<path d="M585.2 194.9 588.2 193.7 590.9 197.2 587.9 198.4" fill="#729148"/>
<path d="M537.8 197.0 540.8 195.7 543.6 199.2 540.5 200.5" fill="#3a9c5a"/>
<path d="M549.6 196.5 552.7 195.1 555.4 198.7 552.4 200.0" fill="#3e9f57"/>
<path d="M467.1 191.4 470.1 190.0 472.8 193.5 469.8 194.9" fill="#5eb755"/>
<path d="M561.5 195.9 564.5 194.6 567.3 198.1 564.2 199.4" fill="#46a154"/>
<path d="M573.3 195.3 576.4 194.0 579.1 197.5 576.1 198.8" fill="#589b4e"/>
<path d="M526.0 197.2 529.0 196.0 531.7 199.5 528.7 200.7" fill="#36965b"/>
<path d="M487.7 192.1 490.7 191.0 493.5 194.6 490.4 195.7" fill="#49aa56"/>
<path d="M594.0 196.1 597.0 195.1 599.8 198.6 596.7 199.6" fill="#7d8e46"/>
<path d="M496.5 193.6 499.5 192.6 502.3 196.2 499.3 197.2" fill="#42a558"/>
<path d="M602.8 197.6 605.8 196.6 608.6 200.2 605.5 201.2" fill="#789248"/>
<path d="M464.0 193.0 467.1 191.4 469.8 194.9 466.8 196.5" fill="#62b854"/>
<path d="M611.6 199.2 614.6 198.2 617.4 201.9 614.3 202.8" fill="#659f4d"/>
<path d="M505.3 195.2 508.4 194.2 511.1 197.8 508.1 198.7" fill="#3da05b"/>
<path d="M475.9 192.2 478.9 190.9 481.6 194.5 478.6 195.8" fill="#54b155"/>
<path d="M546.6 197.9 549.6 196.5 552.4 200.0 549.4 201.4" fill="#3da058"/>
<path d="M558.5 197.3 561.5 195.9 564.2 199.4 561.2 200.8" fill="#429f54"/>
<path d="M534.8 198.3 537.8 197.0 540.5 200.5 537.5 201.7" fill="#399a5b"/>
<path d="M620.4 200.9 623.4 199.7 626.2 203.5 623.1 204.6" fill="#56ac54"/>
<path d="M514.1 196.8 517.2 195.8 519.9 199.3 516.9 200.3" fill="#38995b"/>
<path d="M582.1 196.2 585.2 194.9 587.9 198.4 584.9 199.7" fill="#6c9349"/>
<path d="M570.3 196.7 573.3 195.3 576.1 198.8 573.0 200.2" fill="#529e50"/>
<path d="M522.9 198.3 526.0 197.2 528.7 200.7 525.7 201.8" fill="#36955b"/>
<path d="M461.0 194.7 464.0 193.0 466.8 196.5 463.7 198.1" fill="#65b853"/>
<path d="M484.7 193.3 487.7 192.1 490.4 195.7 487.4 196.9" fill="#4cad55"/>
<path d="M590.9 197.2 594.0 196.1 596.7 199.6 593.7 200.7" fill="#7d8d46"/>
<path d="M543.6 199.2 546.6 197.9 549.4 201.4 546.3 202.7" fill="#3c9f59"/>
<path d="M555.4 198.7 558.5 197.3 561.2 200.8 558.2 202.2" fill="#3f9e54"/>
<path d="M493.5 194.6 496.5 193.6 499.3 197.2 496.2 198.2" fill="#45a857"/>
<path d="M472.8 193.5 475.9 192.2 478.6 195.8 475.6 197.1" fill="#59b555"/>
<path d="M458.0 196.7 461.0 194.7 463.7 198.1 460.7 200.0" fill="#66b752"/>
<path d="M567.3 198.1 570.3 196.7 573.0 200.2 570.0 201.6" fill="#4c9f52"/>
<path d="M599.8 198.6 602.8 197.6 605.5 201.2 602.5 202.1" fill="#7f8d46"/>
<path d="M531.7 199.5 534.8 198.3 537.5 201.7 534.5 203.0" fill="#38985b"/>
<path d="M579.1 197.5 582.1 196.2 584.9 199.7 581.8 201.0" fill="#63954a"/>
<path d="M451.9 201.5 454.9 198.9 457.7 202.1 454.6 204.6" fill="#5da84b"/>
<path d="M502.3 196.2 505.3 195.2 508.1 198.7 505.0 199.7" fill="#3fa359"/>
<path d="M608.6 200.2 611.6 199.2 614.3 202.8 611.3 203.8" fill="#70974a"/>
<path d="M454.9 198.9 458.0 196.7 460.7 200.0 457.7 202.1" fill="#64b24f"/>
<path d="M617.4 201.9 620.4 200.9 623.1 204.6 620.1 205.5" fill="#5ca551"/>
<path d="M511.1 197.8 514.1 196.8 516.9 200.3 513.8 201.3" fill="#3a9c5b"/>
<path d="M626.2 203.5 629.2 202.4 631.9 206.1 628.9 207.1" fill="#53af55"/>
<path d="M519.9 199.3 522.9 198.3 525.7 201.8 522.6 202.8" fill="#36955b"/>
<path d="M481.6 194.5 484.7 193.3 487.4 196.9 484.4 198.1" fill="#4fae55"/>
<path d="M587.9 198.4 590.9 197.2 593.7 200.7 590.6 202.0" fill="#798f47"/>
<path d="M469.8 194.9 472.8 193.5 475.6 197.1 472.5 198.5" fill="#5eb855"/>
<path d="M552.4 200.0 555.4 198.7 558.2 202.2 555.1 203.5" fill="#3e9f56"/>
<path d="M540.5 200.5 543.6 199.2 546.3 202.7 543.3 204.0" fill="#3b9d5a"/>
<path d="M564.2 199.4 567.3 198.1 570.0 201.6 567.0 203.0" fill="#479f53"/>
<path d="M576.1 198.8 579.1 197.5 581.8 201.0 578.8 202.3" fill="#5b984c"/>
<path d="M490.4 195.7 493.5 194.6 496.2 198.2 493.2 199.3" fill="#49ac57"/>
<path d="M528.7 200.7 531.7 199.5 534.5 203.0 531.4 204.1" fill="#36955b"/>
<path d="M596.7 199.6 599.8 198.6 602.5 202.1 599.5 203.2" fill="#828b45"/>
<path d="M499.3 197.2 502.3 196.2 505.0 199.7 502.0 200.8" fill="#42a558"/>
<path d="M605.5 201.2 608.6 200.2 611.3 203.8 608.3 204.7" fill="#799147"/>
<path d="M614.3 202.8 617.4 201.9 620.1 205.5 617.1 206.4" fill="#659e4d"/>
<path d="M508.1 198.7 511.1 197.8 513.8 201.3 510.8 202.3" fill="#3d9f5a"/>
<path d="M466.8 196.5 469.8 194.9 472.5 198.5 469.5 200.0" fill="#63ba55"/>
<path d="M623.1 204.6 626.2 203.5 628.9 207.1 625.9 208.2" fill="#56ac54"/>
<path d="M478.6 195.8 481.6 194.5 484.4 198.1 481.3 199.3" fill="#53b155"/>
<path d="M549.4 201.4 552.4 200.0 555.1 203.5 552.1 204.8" fill="#3d9f57"/>
<path d="M561.2 200.8 564.2 199.4 567.0 203.0 563.9 204.3" fill="#429e53"/>
<path d="M516.9 200.3 519.9 199.3 522.6 202.8 519.6 203.9" fill="#37965b"/>
<path d="M537.5 201.7 540.5 200.5 543.3 204.0 540.3 205.2" fill="#3a9b5b"/>
<path d="M584.9 199.7 587.9 198.4 590.6 202.0 587.6 203.2" fill="#719148"/>
<path d="M573.0 200.2 576.1 198.8 578.8 202.3 575.8 203.7" fill="#549b4f"/>
<path d="M525.7 201.8 528.7 200.7 531.4 204.1 528.4 205.3" fill="#36945b"/>
<path d="M487.4 196.9 490.4 195.7 493.2 199.3 490.1 200.5" fill="#4cae56"/>
<path d="M463.7 198.1 466.8 196.5 469.5 200.0 466.5 201.6" fill="#66bb54"/>
<path d="M593.7 200.7 596.7 199.6 599.5 203.2 596.4 204.3" fill="#828b45"/>
<path d="M496.2 198.2 499.3 197.2 502.0 200.8 499.0 201.8" fill="#45a857"/>
<path d="M475.6 197.1 478.6 195.8 481.3 199.3 478.3 200.6" fill="#58b656"/>
<path d="M558.2 202.2 561.2 200.8 563.9 204.3 560.9 205.7" fill="#409d54"/>
<path d="M546.3 202.7 549.4 201.4 552.1 204.8 549.1 206.1" fill="#3c9e58"/>
<path d="M570.0 201.6 573.0 200.2 575.8 203.7 572.7 205.1" fill="#4d9d51"/>
<path d="M602.5 202.1 605.5 201.2 608.3 204.7 605.2 205.7" fill="#808c45"/>
<path d="M581.8 201.0 584.9 199.7 587.6 203.2 584.6 204.5" fill="#689349"/>
<path d="M505.0 199.7 508.1 198.7 510.8 202.3 507.8 203.3" fill="#3fa259"/>
<path d="M534.5 203.0 537.5 201.7 540.3 205.2 537.2 206.4" fill="#38985b"/>
<path d="M460.7 200.0 463.7 198.1 466.5 201.6 463.4 203.3" fill="#68b953"/>
<path d="M611.3 203.8 614.3 202.8 617.1 206.4 614.0 207.3" fill="#6f9649"/>
<path d="M620.1 205.5 623.1 204.6 625.9 208.2 622.8 209.0" fill="#5ca651"/>
<path d="M628.9 207.1 631.9 206.1 634.7 209.8 631.6 210.8" fill="#52af55"/>
<path d="M513.8 201.3 516.9 200.3 519.6 203.9 516.6 204.9" fill="#39995b"/>
<path d="M457.7 202.1 460.7 200.0 463.4 203.3 460.4 205.3" fill="#66b550"/>
<path d="M454.6 204.6 457.7 202.1 460.4 205.3 457.4 207.7" fill="#5fab4c"/>
<path d="M484.4 198.1 487.4 196.9 490.1 200.5 487.1 201.7" fill="#4eb055"/>
<path d="M522.6 202.8 525.7 201.8 528.4 205.3 525.4 206.3" fill="#35935b"/>
<path d="M590.6 202.0 593.7 200.7 596.4 204.3 593.4 205.5" fill="#7d8d46"/>
<path d="M472.5 198.5 475.6 197.1 478.3 200.6 475.3 202.0" fill="#5eba56"/>
<path d="M555.1 203.5 558.2 202.2 560.9 205.7 557.9 207.0" fill="#3e9e55"/>
<path d="M567.0 203.0 570.0 201.6 572.7 205.1 569.7 206.5" fill="#489e52"/>
<path d="M543.3 204.0 546.3 202.7 549.1 206.1 546.0 207.4" fill="#3b9d59"/>
<path d="M578.8 202.3 581.8 201.0 584.6 204.5 581.5 205.9" fill="#5e964b"/>
<path d="M493.2 199.3 496.2 198.2 499.0 201.8 495.9 202.9" fill="#48ac57"/>
<path d="M531.4 204.1 534.5 203.0 537.2 206.4 534.2 207.6" fill="#36955b"/>
<path d="M599.5 203.2 602.5 202.1 605.2 205.7 602.2 206.7" fill="#848a44"/>
<path d="M502.0 200.8 505.0 199.7 507.8 203.3 504.7 204.4" fill="#41a558"/>
<path d="M608.3 204.7 611.3 203.8 614.0 207.3 611.0 208.2" fill="#788f46"/>
<path d="M617.1 206.4 620.1 205.5 622.8 209.0 619.8 209.9" fill="#639e4c"/>
<path d="M510.8 202.3 513.8 201.3 516.6 204.9 513.5 205.9" fill="#3c9d5a"/>
<path d="M625.9 208.2 628.9 207.1 631.6 210.8 628.6 211.7" fill="#56ac53"/>
<path d="M481.3 199.3 484.4 198.1 487.1 201.7 484.1 202.9" fill="#52b255"/>
<path d="M469.5 200.0 472.5 198.5 475.3 202.0 472.2 203.4" fill="#64bd56"/>
<path d="M552.1 204.8 555.1 203.5 557.9 207.0 554.8 208.3" fill="#3d9e56"/>
<path d="M563.9 204.3 567.0 203.0 569.7 206.5 566.7 207.9" fill="#439d53"/>
<path d="M587.6 203.2 590.6 202.0 593.4 205.5 590.4 206.8" fill="#759047"/>
<path d="M519.6 203.9 522.6 202.8 525.4 206.3 522.3 207.4" fill="#36935a"/>
<path d="M575.8 203.7 578.8 202.3 581.5 205.9 578.5 207.3" fill="#56994e"/>
<path d="M540.3 205.2 543.3 204.0 546.0 207.4 543.0 208.7" fill="#3a9c5a"/>
<path d="M490.1 200.5 493.2 199.3 495.9 202.9 492.9 204.1" fill="#4baf56"/>
<path d="M528.4 205.3 531.4 204.1 534.2 207.6 531.1 208.7" fill="#35935b"/>
<path d="M466.5 201.6 469.5 200.0 472.2 203.4 469.2 205.0" fill="#68be55"/>
<path d="M596.4 204.3 599.5 203.2 602.2 206.7 599.2 207.9" fill="#848a45"/>
<path d="M499.0 201.8 502.0 200.8 504.7 204.4 501.7 205.5" fill="#44a857"/>
<path d="M478.3 200.6 481.3 199.3 484.1 202.9 481.0 204.1" fill="#57b555"/>
<path d="M560.9 205.7 563.9 204.3 566.7 207.9 563.6 209.2" fill="#409c53"/>
<path d="M549.1 206.1 552.1 204.8 554.8 208.3 551.8 209.6" fill="#3c9d57"/>
<path d="M572.7 205.1 575.8 203.7 578.5 207.3 575.5 208.7" fill="#4e9c50"/>
<path d="M584.6 204.5 587.6 203.2 590.4 206.8 587.3 208.1" fill="#6b9249"/>
<path d="M507.8 203.3 510.8 202.3 513.5 205.9 510.5 206.9" fill="#3ea159"/>
<path d="M605.2 205.7 608.3 204.7 611.0 208.2 608.0 209.2" fill="#7f8b45"/>
<path d="M622.8 209.0 625.9 208.2 628.6 211.7 625.6 212.5" fill="#5aa650"/>
<path d="M537.2 206.4 540.3 205.2 543.0 208.7 540.0 209.9" fill="#38995b"/>
<path d="M614.0 207.3 617.1 206.4 619.8 209.9 616.8 210.7" fill="#6c9548"/>
<path d="M631.6 210.8 634.7 209.8 637.4 213.5 634.4 214.4" fill="#50ae53"/>
<path d="M463.4 203.3 466.5 201.6 469.2 205.0 466.2 206.7" fill="#6abd54"/>
<path d="M516.6 204.9 519.6 203.9 522.3 207.4 519.3 208.4" fill="#38965a"/>
<path d="M487.1 201.7 490.1 200.5 492.9 204.1 489.9 205.2" fill="#4eb055"/>
<path d="M525.4 206.3 528.4 205.3 531.1 208.7 528.1 209.8" fill="#35915b"/>
<path d="M460.4 205.3 463.4 203.3 466.2 206.7 463.1 208.6" fill="#68b952"/>
<path d="M593.4 205.5 596.4 204.3 599.2 207.9 596.1 209.1" fill="#808d46"/>
<path d="M475.3 202.0 478.3 200.6 481.0 204.1 478.0 205.5" fill="#5db955"/>
<path d="M557.9 207.0 560.9 205.7 563.6 209.2 560.6 210.5" fill="#3f9d55"/>
<path d="M569.7 206.5 572.7 205.1 575.5 208.7 572.4 210.0" fill="#489d52"/>
<path d="M457.4 207.7 460.4 205.3 463.1 208.6 460.1 210.7" fill="#61b04e"/>
<path d="M495.9 202.9 499.0 201.8 501.7 205.5 498.7 206.6" fill="#48ad57"/>
<path d="M581.5 205.9 584.6 204.5 587.3 208.1 584.3 209.5" fill="#61954b"/>
<path d="M546.0 207.4 549.1 206.1 551.8 209.6 548.8 210.9" fill="#3b9d58"/>
<path d="M534.2 207.6 537.2 206.4 540.0 209.9 536.9 211.1" fill="#37965c"/>
<path d="M504.7 204.4 507.8 203.3 510.5 206.9 507.5 208.0" fill="#41a458"/>
<path d="M602.2 206.7 605.2 205.7 608.0 209.2 604.9 210.2" fill="#838944"/>
<path d="M513.5 205.9 516.6 204.9 519.3 208.4 516.3 209.5" fill="#3a9b5a"/>
<path d="M628.6 211.7 631.6 210.8 634.4 214.4 631.4 215.2" fill="#54ab52"/>
<path d="M611.0 208.2 614.0 207.3 616.8 210.7 613.7 211.5" fill="#748f46"/>
<path d="M484.1 202.9 487.1 201.7 489.9 205.2 486.8 206.4" fill="#51b355"/>
<path d="M619.8 209.9 622.8 209.0 625.6 212.5 622.5 213.2" fill="#609d4b"/>
<path d="M472.2 203.4 475.3 202.0 478.0 205.5 475.0 206.8" fill="#63bc56"/>
<path d="M590.4 206.8 593.4 205.5 596.1 209.1 593.1 210.4" fill="#789047"/>
<path d="M566.7 207.9 569.7 206.5 572.4 210.0 569.4 211.4" fill="#449d52"/>
<path d="M554.8 208.3 557.9 207.0 560.6 210.5 557.6 211.8" fill="#3d9d55"/>
<path d="M578.5 207.3 581.5 205.9 584.3 209.5 581.3 210.9" fill="#57984d"/>
<path d="M522.3 207.4 525.4 206.3 528.1 209.8 525.1 210.9" fill="#35905a"/>
<path d="M543.0 208.7 546.0 207.4 548.8 210.9 545.7 212.1" fill="#3a9b5a"/>
<path d="M492.9 204.1 495.9 202.9 498.7 206.6 495.6 207.7" fill="#4aaf56"/>
<path d="M531.1 208.7 534.2 207.6 536.9 211.1 533.9 212.2" fill="#36945d"/>
<path d="M501.7 205.5 504.7 204.4 507.5 208.0 504.4 209.1" fill="#44a857"/>
<path d="M599.2 207.9 602.2 206.7 604.9 210.2 601.9 211.4" fill="#838a45"/>
<path d="M469.2 205.0 472.2 203.4 475.0 206.8 471.9 208.3" fill="#68bf55"/>
<path d="M481.0 204.1 484.1 202.9 486.8 206.4 483.8 207.7" fill="#56b555"/>
<path d="M587.3 208.1 590.4 206.8 593.1 210.4 590.1 211.7" fill="#6e9349"/>
<path d="M563.6 209.2 566.7 207.9 569.4 211.4 566.4 212.7" fill="#419d53"/>
<path d="M575.5 208.7 578.5 207.3 581.3 210.9 578.2 212.3" fill="#4f9a4f"/>
<path d="M510.5 206.9 513.5 205.9 516.3 209.5 513.2 210.5" fill="#3da059"/>
<path d="M551.8 209.6 554.8 208.3 557.6 211.8 554.5 213.1" fill="#3c9d56"/>
<path d="M634.4 214.4 637.4 213.5 640.2 217.2 637.1 217.9" fill="#4ead52"/>
<path d="M608.0 209.2 611.0 208.2 613.7 211.5 610.7 212.5" fill="#7a8a44"/>
<path d="M625.6 212.5 628.6 211.7 631.4 215.2 628.3 215.9" fill="#57a44e"/>
<path d="M540.0 209.9 543.0 208.7 545.7 212.1 542.7 213.4" fill="#399a5b"/>
<path d="M519.3 208.4 522.3 207.4 525.1 210.9 522.0 212.0" fill="#36935a"/>
<path d="M616.8 210.7 619.8 209.9 622.5 213.2 619.5 213.9" fill="#679548"/>
<path d="M489.9 205.2 492.9 204.1 495.6 207.7 492.6 208.9" fill="#4db155"/>
<path d="M466.2 206.7 469.2 205.0 471.9 208.3 468.9 209.9" fill="#6bc055"/>
<path d="M528.1 209.8 531.1 208.7 533.9 212.2 530.9 213.4" fill="#35925d"/>
<path d="M596.1 209.1 599.2 207.9 601.9 211.4 598.9 212.7" fill="#808d46"/>
<path d="M498.7 206.6 501.7 205.5 504.4 209.1 501.4 210.2" fill="#47ad56"/>
<path d="M572.4 210.0 575.5 208.7 578.2 212.3 575.2 213.6" fill="#499c51"/>
<path d="M478.0 205.5 481.0 204.1 483.8 207.7 480.8 209.0" fill="#5cb755"/>
<path d="M584.3 209.5 587.3 208.1 590.1 211.7 587.0 213.1" fill="#63974c"/>
<path d="M560.6 210.5 563.6 209.2 566.4 212.7 563.3 214.0" fill="#3f9e55"/>
<path d="M548.8 210.9 551.8 209.6 554.5 213.1 551.5 214.4" fill="#3b9c57"/>
<path d="M463.1 208.6 466.2 206.7 468.9 209.9 465.9 211.6" fill="#6bbd54"/>
<path d="M507.5 208.0 510.5 206.9 513.2 210.5 510.2 211.6" fill="#40a458"/>
<path d="M536.9 211.1 540.0 209.9 542.7 213.4 539.7 214.6" fill="#37975d"/>
<path d="M460.1 210.7 463.1 208.6 465.9 211.6 462.8 213.5" fill="#64b450"/>
<path d="M604.9 210.2 608.0 209.2 610.7 212.5 607.7 213.5" fill="#7f8a44"/>
<path d="M486.8 206.4 489.9 205.2 492.6 208.9 489.6 210.1" fill="#51b355"/>
<path d="M516.3 209.5 519.3 208.4 522.0 212.0 519.0 213.0" fill="#39985a"/>
<path d="M631.4 215.2 634.4 214.4 637.1 217.9 634.1 218.6" fill="#51aa51"/>
<path d="M593.1 210.4 596.1 209.1 598.9 212.7 595.8 214.0" fill="#789148"/>
<path d="M569.4 211.4 572.4 210.0 575.2 213.6 572.1 214.9" fill="#449b52"/>
<path d="M581.3 210.9 584.3 209.5 587.0 213.1 584.0 214.5" fill="#59994e"/>
<path d="M622.5 213.2 625.6 212.5 628.3 215.9 625.3 216.4" fill="#5b9b4a"/>
<path d="M475.0 206.8 478.0 205.5 480.8 209.0 477.7 210.3" fill="#62bb55"/>
<path d="M613.7 211.5 616.8 210.7 619.5 213.9 616.5 214.7" fill="#6e8f45"/>
<path d="M525.1 210.9 528.1 209.8 530.9 213.4 527.8 214.4" fill="#348f5c"/>
<path d="M557.6 211.8 560.6 210.5 563.3 214.0 560.3 215.3" fill="#3e9e55"/>
<path d="M495.6 207.7 498.7 206.6 501.4 210.2 498.4 211.4" fill="#4aaf56"/>
<path d="M545.7 212.1 548.8 210.9 551.5 214.4 548.5 215.6" fill="#3a9b59"/>
<path d="M533.9 212.2 536.9 211.1 539.7 214.6 536.6 215.7" fill="#36955e"/>
<path d="M504.4 209.1 507.5 208.0 510.2 211.6 507.2 212.7" fill="#43a857"/>
<path d="M483.8 207.7 486.8 206.4 489.6 210.1 486.5 211.4" fill="#55b555"/>
<path d="M601.9 211.4 604.9 210.2 607.7 213.5 604.6 214.8" fill="#7f8a45"/>
<path d="M590.1 211.7 593.1 210.4 595.8 214.0 592.8 215.3" fill="#6f954a"/>
<path d="M578.2 212.3 581.3 210.9 584.0 214.5 581.0 215.8" fill="#509b4f"/>
<path d="M471.9 208.3 475.0 206.8 477.7 210.3 474.7 211.7" fill="#68bf55"/>
<path d="M513.2 210.5 516.3 209.5 519.0 213.0 516.0 214.1" fill="#3c9e5a"/>
<path d="M566.4 212.7 569.4 211.4 572.1 214.9 569.1 216.2" fill="#419c53"/>
<path d="M637.1 217.9 640.2 217.2 642.9 220.9 639.9 221.4" fill="#4dac51"/>
<path d="M554.5 213.1 557.6 211.8 560.3 215.3 557.3 216.6" fill="#3d9d56"/>
<path d="M522.0 212.0 525.1 210.9 527.8 214.4 524.8 215.5" fill="#35915b"/>
<path d="M492.6 208.9 495.6 207.7 498.4 211.4 495.3 212.6" fill="#4cb155"/>
<path d="M542.7 213.4 545.7 212.1 548.5 215.6 545.4 216.8" fill="#399a5b"/>
<path d="M628.3 215.9 631.4 215.2 634.1 218.6 631.1 219.1" fill="#53a24d"/>
<path d="M610.7 212.5 613.7 211.5 616.5 214.7 613.4 215.7" fill="#738a44"/>
<path d="M619.5 213.9 622.5 213.2 625.3 216.4 622.3 217.0" fill="#629548"/>
<path d="M468.9 209.9 471.9 208.3 474.7 211.7 471.6 213.2" fill="#6cc156"/>
<path d="M530.9 213.4 533.9 212.2 536.6 215.7 533.6 216.9" fill="#35925f"/>
<path d="M598.9 212.7 601.9 211.4 604.6 214.8 601.6 216.2" fill="#7c8d46"/>
<path d="M480.8 209.0 483.8 207.7 486.5 211.4 483.5 212.7" fill="#5bb754"/>
<path d="M501.4 210.2 504.4 209.1 507.2 212.7 504.1 213.8" fill="#46ac56"/>
<path d="M587.0 213.1 590.1 211.7 592.8 215.3 589.8 216.7" fill="#64984c"/>
<path d="M575.2 213.6 578.2 212.3 581.0 215.8 577.9 217.1" fill="#499b51"/>
<path d="M563.3 214.0 566.4 212.7 569.1 216.2 566.1 217.5" fill="#409e55"/>
<path d="M551.5 214.4 554.5 213.1 557.3 216.6 554.2 217.8" fill="#3c9c57"/>
<path d="M510.2 211.6 513.2 210.5 516.0 214.1 512.9 215.2" fill="#3fa358"/>
<path d="M539.7 214.6 542.7 213.4 545.4 216.8 542.4 218.1" fill="#38985d"/>
<path d="M489.6 210.1 492.6 208.9 495.3 212.6 492.3 213.8" fill="#50b355"/>
<path d="M465.9 211.6 468.9 209.9 471.6 213.2 468.6 214.7" fill="#6cc055"/>
<path d="M519.0 213.0 522.0 212.0 524.8 215.5 521.8 216.6" fill="#38965b"/>
<path d="M634.1 218.6 637.1 217.9 639.9 221.4 636.8 222.0" fill="#4faa50"/>
<path d="M595.8 214.0 598.9 212.7 601.6 216.2 598.6 217.6" fill="#759148"/>
<path d="M607.7 213.5 610.7 212.5 613.4 215.7 610.4 216.7" fill="#778a44"/>
<path d="M477.7 210.3 480.8 209.0 483.5 212.7 480.5 214.1" fill="#61bb55"/>
<path d="M584.0 214.5 587.0 213.1 589.8 216.7 586.7 218.0" fill="#5a9b4f"/>
<path d="M572.1 214.9 575.2 213.6 577.9 217.1 574.9 218.4" fill="#449a51"/>
<path d="M527.8 214.4 530.9 213.4 533.6 216.9 530.6 218.0" fill="#348f5d"/>
<path d="M498.4 211.4 501.4 210.2 504.1 213.8 501.1 215.0" fill="#49ae55"/>
<path d="M560.3 215.3 563.3 214.0 566.1 217.5 563.0 218.8" fill="#3e9f56"/>
<path d="M462.8 213.5 465.9 211.6 468.6 214.7 465.6 216.5" fill="#67ba52"/>
<path d="M548.5 215.6 551.5 214.4 554.2 217.8 551.2 219.1" fill="#3a9b58"/>
<path d="M625.3 216.4 628.3 215.9 631.1 219.1 628.0 219.4" fill="#579b4a"/>
<path d="M616.5 214.7 619.5 213.9 622.3 217.0 619.2 217.7" fill="#689146"/>
<path d="M507.2 212.7 510.2 211.6 512.9 215.2 509.9 216.3" fill="#42a756"/>
<path d="M486.5 211.4 489.6 210.1 492.3 213.8 489.3 215.1" fill="#55b554"/>
<path d="M536.6 215.7 539.7 214.6 542.4 218.1 539.4 219.3" fill="#36955e"/>
<path d="M474.7 211.7 477.7 210.3 480.5 214.1 477.4 215.6" fill="#68bf56"/>
<path d="M592.8 215.3 595.8 214.0 598.6 217.6 595.5 218.9" fill="#6c954a"/>
<path d="M581.0 215.8 584.0 214.5 586.7 218.0 583.7 219.4" fill="#519d50"/>
<path d="M516.0 214.1 519.0 213.0 521.8 216.6 518.7 217.7" fill="#3b9c5a"/>
<path d="M569.1 216.2 572.1 214.9 574.9 218.4 571.9 219.7" fill="#419c52"/>
<path d="M604.6 214.8 607.7 213.5 610.4 216.7 607.4 218.0" fill="#788b44"/>
<path d="M557.3 216.6 560.3 215.3 563.0 218.8 560.0 220.0" fill="#3d9e56"/>
<path d="M495.3 212.6 498.4 211.4 501.1 215.0 498.1 216.2" fill="#4baf54"/>
<path d="M524.8 215.5 527.8 214.4 530.6 218.0 527.5 219.1" fill="#34905c"/>
<path d="M545.4 216.8 548.5 215.6 551.2 219.1 548.2 220.3" fill="#399a5a"/>
<path d="M483.5 212.7 486.5 211.4 489.3 215.1 486.2 216.5" fill="#5ab754"/>
<path d="M471.6 213.2 474.7 211.7 477.4 215.6 474.4 217.2" fill="#6dc357"/>
<path d="M631.1 219.1 634.1 218.6 636.8 222.0 633.8 222.1" fill="#50a24c"/>
<path d="M504.1 213.8 507.2 212.7 509.9 216.3 506.9 217.4" fill="#45ab55"/>
<path d="M533.6 216.9 536.6 215.7 539.4 219.3 536.3 220.4" fill="#34915f"/>
<path d="M589.8 216.7 592.8 215.3 595.5 218.9 592.5 220.2" fill="#63994d"/>
<path d="M577.9 217.1 581.0 215.8 583.7 219.4 580.7 220.7" fill="#4a9d52"/>
<path d="M613.4 215.7 616.5 214.7 619.2 217.7 616.2 218.6" fill="#6c8c44"/>
<path d="M601.6 216.2 604.6 214.8 607.4 218.0 604.3 219.6" fill="#758d46"/>
<path d="M566.1 217.5 569.1 216.2 571.9 219.7 568.8 221.0" fill="#409e54"/>
<path d="M512.9 215.2 516.0 214.1 518.7 217.7 515.7 218.8" fill="#3fa158"/>
<path d="M554.2 217.8 557.3 216.6 560.0 220.0 557.0 221.3" fill="#3c9d56"/>
<path d="M622.3 217.0 625.3 216.4 628.0 219.4 625.0 219.8" fill="#5d9949"/>
<path d="M492.3 213.8 495.3 212.6 498.1 216.2 495.0 217.4" fill="#4fb254"/>
<path d="M468.6 214.7 471.6 213.2 474.4 217.2 471.4 218.9" fill="#6fc457"/>
<path d="M542.4 218.1 545.4 216.8 548.2 220.3 545.1 221.6" fill="#38975c"/>
<path d="M521.8 216.6 524.8 215.5 527.5 219.1 524.5 220.2" fill="#37955c"/>
<path d="M480.5 214.1 483.5 212.7 486.2 216.5 483.2 217.9" fill="#61ba54"/>
<path d="M586.7 218.0 589.8 216.7 592.5 220.2 589.5 221.6" fill="#599c4f"/>
<path d="M598.6 217.6 601.6 216.2 604.3 219.6 601.3 221.0" fill="#6f9148"/>
<path d="M574.9 218.4 577.9 217.1 580.7 220.7 577.6 221.9" fill="#449b51"/>
<path d="M465.6 216.5 468.6 214.7 471.4 218.9 468.3 220.9" fill="#6bc256"/>
<path d="M501.1 215.0 504.1 213.8 506.9 217.4 503.8 218.6" fill="#48ad54"/>
<path d="M530.6 218.0 533.6 216.9 536.3 220.4 533.3 221.6" fill="#338f5e"/>
<path d="M563.0 218.8 566.1 217.5 568.8 221.0 565.8 222.2" fill="#3f9f55"/>
<path d="M610.4 216.7 613.4 215.7 616.2 218.6 613.1 219.6" fill="#6f8b44"/>
<path d="M551.2 219.1 554.2 217.8 557.0 221.3 553.9 222.5" fill="#3b9b57"/>
<path d="M509.9 216.3 512.9 215.2 515.7 218.8 512.6 219.9" fill="#42a656"/>
<path d="M489.3 215.1 492.3 213.8 495.0 217.4 492.0 218.7" fill="#54b454"/>
<path d="M477.4 215.6 480.5 214.1 483.2 217.9 480.2 219.4" fill="#67be55"/>
<path d="M539.4 219.3 542.4 218.1 545.1 221.6 542.1 222.8" fill="#36945d"/>
<path d="M583.7 219.4 586.7 218.0 589.5 221.6 586.4 222.9" fill="#519f51"/>
<path d="M518.7 217.7 521.8 216.6 524.5 220.2 521.5 221.3" fill="#3a9b5a"/>
<path d="M628.0 219.4 631.1 219.1 633.8 222.1 630.8 222.2" fill="#539d4a"/>
<path d="M595.5 218.9 598.6 217.6 601.3 221.0 598.3 222.3" fill="#67954a"/>
<path d="M571.9 219.7 574.9 218.4 577.6 221.9 574.6 223.2" fill="#419c52"/>
<path d="M619.2 217.7 622.3 217.0 625.0 219.8 622.0 220.3" fill="#639648"/>
<path d="M498.1 216.2 501.1 215.0 503.8 218.6 500.8 219.8" fill="#4aae53"/>
<path d="M560.0 220.0 563.0 218.8 565.8 222.2 562.8 223.5" fill="#3e9f56"/>
<path d="M474.4 217.2 477.4 215.6 480.2 219.4 477.1 221.1" fill="#6cc256"/>
<path d="M527.5 219.1 530.6 218.0 533.3 221.6 530.3 222.7" fill="#34905d"/>
<path d="M548.2 220.3 551.2 219.1 553.9 222.5 550.9 223.8" fill="#3a9959"/>
<path d="M486.2 216.5 489.3 215.1 492.0 218.7 489.0 220.0" fill="#59b653"/>
<path d="M607.4 218.0 610.4 216.7 613.1 219.6 610.1 221.0" fill="#6f8b44"/>
<path d="M506.9 217.4 509.9 216.3 512.6 219.9 509.6 221.1" fill="#45aa55"/>
<path d="M536.3 220.4 539.4 219.3 542.1 222.8 539.1 224.0" fill="#34905e"/>
<path d="M471.4 218.9 474.4 217.2 477.1 221.1 474.1 222.9" fill="#6ec356"/>
<path d="M580.7 220.7 583.7 219.4 586.4 222.9 583.4 224.1" fill="#4ba052"/>
<path d="M592.5 220.2 595.5 218.9 598.3 222.3 595.2 223.7" fill="#5f994c"/>
<path d="M515.7 218.8 518.7 217.7 521.5 221.3 518.4 222.4" fill="#3ea158"/>
<path d="M568.8 221.0 571.9 219.7 574.6 223.2 571.6 224.4" fill="#409f54"/>
<path d="M468.3 220.9 471.4 218.9 474.1 222.9 471.1 225.0" fill="#6ac055"/>
<path d="M495.0 217.4 498.1 216.2 500.8 219.8 497.8 221.0" fill="#4eb053"/>
<path d="M557.0 221.3 560.0 220.0 562.8 223.5 559.7 224.7" fill="#3c9d56"/>
<path d="M604.3 219.6 607.4 218.0 610.1 221.0 607.1 222.7" fill="#6c8d45"/>
<path d="M483.2 217.9 486.2 216.5 489.0 220.0 485.9 221.4" fill="#5fb853"/>
<path d="M524.5 220.2 527.5 219.1 530.3 222.7 527.2 223.8" fill="#36945c"/>
<path d="M545.1 221.6 548.2 220.3 550.9 223.8 547.9 225.1" fill="#38975a"/>
<path d="M616.2 218.6 619.2 217.7 622.0 220.3 618.9 221.2" fill="#648f45"/>
<path d="M503.8 218.6 506.9 217.4 509.6 221.1 506.6 222.3" fill="#47ac54"/>
<path d="M589.5 221.6 592.5 220.2 595.2 223.7 592.2 225.0" fill="#579d4f"/>
<path d="M577.6 221.9 580.7 220.7 583.4 224.1 580.4 225.4" fill="#459e52"/>
<path d="M533.3 221.6 536.3 220.4 539.1 224.0 536.0 225.1" fill="#338e5e"/>
<path d="M625.0 219.8 628.0 219.4 630.8 222.2 627.7 222.2" fill="#589b4a"/>
<path d="M601.3 221.0 604.3 219.6 607.1 222.7 604.0 224.2" fill="#679147"/>
<path d="M565.8 222.2 568.8 221.0 571.6 224.4 568.5 225.7" fill="#3f9f55"/>
<path d="M480.2 219.4 483.2 217.9 485.9 221.4 482.9 222.9" fill="#66bc54"/>
<path d="M512.6 219.9 515.7 218.8 518.4 222.4 515.4 223.6" fill="#41a556"/>
<path d="M492.0 218.7 495.0 217.4 497.8 221.0 494.7 222.3" fill="#53b353"/>
<path d="M553.9 222.5 557.0 221.3 559.7 224.7 556.7 226.0" fill="#3b9c56"/>
<path d="M542.1 222.8 545.1 221.6 547.9 225.1 544.8 226.4" fill="#36935b"/>
<path d="M521.5 221.3 524.5 220.2 527.2 223.8 524.2 224.9" fill="#3a9a5a"/>
<path d="M586.4 222.9 589.5 221.6 592.2 225.0 589.2 226.4" fill="#509f51"/>
<path d="M500.8 219.8 503.8 218.6 506.6 222.3 503.5 223.5" fill="#49ad53"/>
<path d="M598.3 222.3 601.3 221.0 604.0 224.2 601.0 225.6" fill="#609449"/>
<path d="M477.1 221.1 480.2 219.4 482.9 222.9 479.9 224.5" fill="#6abe54"/>
<path d="M574.6 223.2 577.6 221.9 580.4 225.4 577.3 226.6" fill="#429e53"/>
<path d="M613.1 219.6 616.2 218.6 618.9 221.2 615.9 222.1" fill="#678e45"/>
<path d="M530.3 222.7 533.3 221.6 536.0 225.1 533.0 226.3" fill="#348f5d"/>
<path d="M562.8 223.5 565.8 222.2 568.5 225.7 565.5 226.9" fill="#3e9f55"/>
<path d="M489.0 220.0 492.0 218.7 494.7 222.3 491.7 223.6" fill="#58b553"/>
<path d="M550.9 223.8 553.9 222.5 556.7 226.0 553.6 227.3" fill="#3a9a58"/>
<path d="M509.6 221.1 512.6 219.9 515.4 223.6 512.4 224.7" fill="#44aa55"/>
<path d="M474.1 222.9 477.1 221.1 479.9 224.5 476.8 226.3" fill="#6bbf54"/>
<path d="M539.1 224.0 542.1 222.8 544.8 226.4 541.8 227.6" fill="#34905c"/>
<path d="M583.4 224.1 586.4 222.9 589.2 226.4 586.1 227.5" fill="#4aa152"/>
<path d="M518.4 222.4 521.5 221.3 524.2 224.9 521.2 226.0" fill="#3ea058"/>
<path d="M595.2 223.7 598.3 222.3 601.0 225.6 598.0 226.9" fill="#59974b"/>
<path d="M471.1 225.0 474.1 222.9 476.8 226.3 473.8 228.3" fill="#67bb53"/>
<path d="M497.8 221.0 500.8 219.8 503.5 223.5 500.5 224.7" fill="#4daf52"/>
<path d="M622.0 220.3 625.0 219.8 627.7 222.2 624.7 222.5" fill="#5d9a49"/>
<path d="M571.6 224.4 574.6 223.2 577.3 226.6 574.3 227.8" fill="#41a054"/>
<path d="M610.1 221.0 613.1 219.6 615.9 222.1 612.9 223.6" fill="#668d44"/>
<path d="M559.7 224.7 562.8 223.5 565.5 226.9 562.5 228.2" fill="#3d9d55"/>
<path d="M485.9 221.4 489.0 220.0 491.7 223.6 488.7 225.0" fill="#5eb753"/>
<path d="M527.2 223.8 530.3 222.7 533.0 226.3 530.0 227.4" fill="#36935c"/>
<path d="M547.9 225.1 550.9 223.8 553.6 227.3 550.6 228.6" fill="#399959"/>
<path d="M506.6 222.3 509.6 221.1 512.4 224.7 509.3 225.9" fill="#47ad54"/>
<path d="M536.0 225.1 539.1 224.0 541.8 227.6 538.8 228.7" fill="#338e5c"/>
<path d="M607.1 222.7 610.1 221.0 612.9 223.6 609.8 225.5" fill="#638e45"/>
<path d="M592.2 225.0 595.2 223.7 598.0 226.9 594.9 228.3" fill="#539b4e"/>
<path d="M580.4 225.4 583.4 224.1 586.1 227.5 583.1 228.7" fill="#459f52"/>
<path d="M515.4 223.6 518.4 222.4 521.2 226.0 518.1 227.2" fill="#41a556"/>
<path d="M494.7 222.3 497.8 221.0 500.5 224.7 497.5 226.0" fill="#52b252"/>
<path d="M482.9 222.9 485.9 221.4 488.7 225.0 485.6 226.4" fill="#65ba53"/>
<path d="M568.5 225.7 571.6 224.4 574.3 227.8 571.3 229.0" fill="#40a155"/>
<path d="M556.7 226.0 559.7 224.7 562.5 228.2 559.4 229.4" fill="#3c9c55"/>
<path d="M544.8 226.4 547.9 225.1 550.6 228.6 547.6 229.9" fill="#37955b"/>
<path d="M604.0 224.2 607.1 222.7 609.8 225.5 606.8 227.2" fill="#609247"/>
<path d="M524.2 224.9 527.2 223.8 530.0 227.4 526.9 228.5" fill="#3a9a5a"/>
<path d="M503.5 223.5 506.6 222.3 509.3 225.9 506.3 227.1" fill="#49ae53"/>
<path d="M618.9 221.2 622.0 220.3 624.7 222.5 621.7 223.3" fill="#5e9346"/>
<path d="M589.2 226.4 592.2 225.0 594.9 228.3 591.9 229.7" fill="#4d9e50"/>
<path d="M533.0 226.3 536.0 225.1 538.8 228.7 535.7 229.9" fill="#348f5b"/>
<path d="M479.9 224.5 482.9 222.9 485.6 226.4 482.6 228.0" fill="#69bd54"/>
<path d="M577.3 226.6 580.4 225.4 583.1 228.7 580.1 229.9" fill="#42a053"/>
<path d="M491.7 223.6 494.7 222.3 497.5 226.0 494.4 227.3" fill="#57b452"/>
<path d="M512.4 224.7 515.4 223.6 518.1 227.2 515.1 228.4" fill="#44aa55"/>
<path d="M565.5 226.9 568.5 225.7 571.3 229.0 568.2 230.3" fill="#3fa155"/>
<path d="M601.0 225.6 604.0 224.2 606.8 227.2 603.8 228.6" fill="#5a9549"/>
<path d="M553.6 227.3 556.7 226.0 559.4 229.4 556.4 230.8" fill="#3b9c57"/>
<path d="M541.8 227.6 544.8 226.4 547.6 229.9 544.5 231.2" fill="#36935b"/>
<path d="M476.8 226.3 479.9 224.5 482.6 228.0 479.6 229.7" fill="#6abe54"/>
<path d="M521.2 226.0 524.2 224.9 526.9 228.5 523.9 229.7" fill="#3ea058"/>
<path d="M500.5 224.7 503.5 223.5 506.3 227.1 503.3 228.4" fill="#4db053"/>
<path d="M586.1 227.5 589.2 226.4 591.9 229.7 588.9 230.8" fill="#48a051"/>
<path d="M473.8 228.3 476.8 226.3 479.6 229.7 476.5 231.6" fill="#67bb53"/>
<path d="M488.7 225.0 491.7 223.6 494.4 227.3 491.4 228.7" fill="#5eb652"/>
<path d="M530.0 227.4 533.0 226.3 535.7 229.9 532.7 231.0" fill="#37945a"/>
<path d="M574.3 227.8 577.3 226.6 580.1 229.9 577.0 231.1" fill="#41a154"/>
<path d="M615.9 222.1 618.9 221.2 621.7 223.3 618.6 224.1" fill="#5e9045"/>
<path d="M598.0 226.9 601.0 225.6 603.8 228.6 600.7 230.0" fill="#54974b"/>
<path d="M562.5 228.2 565.5 226.9 568.2 230.3 565.2 231.6" fill="#3e9f55"/>
<path d="M550.6 228.6 553.6 227.3 556.4 230.8 553.4 232.2" fill="#3b9c59"/>
<path d="M509.3 225.9 512.4 224.7 515.1 228.4 512.1 229.6" fill="#47ad54"/>
<path d="M538.8 228.7 541.8 227.6 544.5 231.2 541.5 232.4" fill="#35915b"/>
<path d="M518.1 227.2 521.2 226.0 523.9 229.7 520.9 230.8" fill="#41a556"/>
<path d="M497.5 226.0 500.5 224.7 503.3 228.4 500.2 229.6" fill="#51b252"/>
<path d="M485.6 226.4 488.7 225.0 491.4 228.7 488.4 230.1" fill="#64b953"/>
<path d="M583.1 228.7 586.1 227.5 588.9 230.8 585.8 232.0" fill="#449f52"/>
<path d="M594.9 228.3 598.0 226.9 600.7 230.0 597.7 231.4" fill="#4f9a4d"/>
<path d="M547.6 229.9 550.6 228.6 553.4 232.2 550.3 233.5" fill="#3a9a5a"/>
<path d="M571.3 229.0 574.3 227.8 577.0 231.1 574.0 232.3" fill="#40a255"/>
<path d="M526.9 228.5 530.0 227.4 532.7 231.0 529.7 232.2" fill="#3a9b59"/>
<path d="M612.9 223.6 615.9 222.1 618.6 224.1 615.6 225.8" fill="#5c8d44"/>
<path d="M559.4 229.4 562.5 228.2 565.2 231.6 562.2 232.8" fill="#3d9e55"/>
<path d="M506.3 227.1 509.3 225.9 512.1 229.6 509.0 230.8" fill="#49af53"/>
<path d="M535.7 229.9 538.8 228.7 541.5 232.4 538.5 233.5" fill="#36925a"/>
<path d="M482.6 228.0 485.6 226.4 488.4 230.1 485.3 231.7" fill="#68bc53"/>
<path d="M609.8 225.5 612.9 223.6 615.6 225.8 612.6 227.9" fill="#5b8f45"/>
<path d="M494.4 227.3 497.5 226.0 500.2 229.6 497.2 231.0" fill="#57b452"/>
<path d="M515.1 228.4 518.1 227.2 520.9 230.8 517.8 232.0" fill="#44aa55"/>
<path d="M591.9 229.7 594.9 228.3 597.7 231.4 594.6 232.8" fill="#4a9d4f"/>
<path d="M580.1 229.9 583.1 228.7 585.8 232.0 582.8 233.1" fill="#419f52"/>
<path d="M606.8 227.2 609.8 225.5 612.6 227.9 609.5 229.8" fill="#599548"/>
<path d="M544.5 231.2 547.6 229.9 550.3 233.5 547.3 234.8" fill="#39985b"/>
<path d="M568.2 230.3 571.3 229.0 574.0 232.3 571.0 233.6" fill="#40a356"/>
<path d="M556.4 230.8 559.4 229.4 562.2 232.8 559.1 234.2" fill="#3c9d56"/>
<path d="M479.6 229.7 482.6 228.0 485.3 231.7 482.3 233.5" fill="#6abd54"/>
<path d="M523.9 229.7 526.9 228.5 529.7 232.2 526.6 233.3" fill="#3ea157"/>
<path d="M503.3 228.4 506.3 227.1 509.0 230.8 506.0 232.0" fill="#4db153"/>
<path d="M491.4 228.7 494.4 227.3 497.2 231.0 494.1 232.4" fill="#5db652"/>
<path d="M476.5 231.6 479.6 229.7 482.3 233.5 479.3 235.4" fill="#66ba52"/>
<path d="M532.7 231.0 535.7 229.9 538.5 233.5 535.4 234.7" fill="#389659"/>
<path d="M603.8 228.6 606.8 227.2 609.5 229.8 606.5 231.3" fill="#56984a"/>
<path d="M512.1 229.6 515.1 228.4 517.8 232.0 514.8 233.2" fill="#47ad54"/>
<path d="M588.9 230.8 591.9 229.7 594.6 232.8 591.6 233.9" fill="#469e50"/>
<path d="M553.4 232.2 556.4 230.8 559.1 234.2 556.1 235.8" fill="#3c9e58"/>
<path d="M565.2 231.6 568.2 230.3 571.0 233.6 567.9 234.9" fill="#3fa155"/>
<path d="M577.0 231.1 580.1 229.9 582.8 233.1 579.8 234.2" fill="#40a053"/>
<path d="M541.5 232.4 544.5 231.2 547.3 234.8 544.3 236.0" fill="#38975b"/>
<path d="M520.9 230.8 523.9 229.7 526.6 233.3 523.6 234.5" fill="#41a655"/>
<path d="M500.2 229.6 503.3 228.4 506.0 232.0 503.0 233.3" fill="#52b453"/>
<path d="M488.4 230.1 491.4 228.7 494.1 232.4 491.1 233.8" fill="#63b852"/>
<path d="M600.7 230.0 603.8 228.6 606.5 231.3 603.5 232.8" fill="#519a4b"/>
<path d="M529.7 232.2 532.7 231.0 535.4 234.7 532.4 235.8" fill="#3c9d58"/>
<path d="M550.3 233.5 553.4 232.2 556.1 235.8 553.1 237.2" fill="#3c9e5a"/>
<path d="M509.0 230.8 512.1 229.6 514.8 233.2 511.8 234.4" fill="#49af53"/>
<path d="M585.8 232.0 588.9 230.8 591.6 233.9 588.6 235.0" fill="#439e50"/>
<path d="M562.2 232.8 565.2 231.6 567.9 234.9 564.9 236.1" fill="#3ea055"/>
<path d="M485.3 231.7 488.4 230.1 491.1 233.8 488.1 235.4" fill="#67ba52"/>
<path d="M574.0 232.3 577.0 231.1 579.8 234.2 576.7 235.5" fill="#40a254"/>
<path d="M538.5 233.5 541.5 232.4 544.3 236.0 541.2 237.2" fill="#38975a"/>
<path d="M497.2 231.0 500.2 229.6 503.0 233.3 499.9 234.6" fill="#58b653"/>
<path d="M597.7 231.4 600.7 230.0 603.5 232.8 600.4 234.3" fill="#4c9c4d"/>
<path d="M517.8 232.0 520.9 230.8 523.6 234.5 520.6 235.7" fill="#44aa54"/>
<path d="M482.3 233.5 485.3 231.7 488.1 235.4 485.0 237.2" fill="#68ba52"/>
<path d="M547.3 234.8 550.3 233.5 553.1 237.2 550.0 238.5" fill="#3b9d5a"/>
<path d="M526.6 233.3 529.7 232.2 532.4 235.8 529.4 237.0" fill="#3fa357"/>
<path d="M506.0 232.0 509.0 230.8 511.8 234.4 508.7 235.7" fill="#4db253"/>
<path d="M559.1 234.2 562.2 232.8 564.9 236.1 561.9 237.7" fill="#3d9e55"/>
<path d="M571.0 233.6 574.0 232.3 576.7 235.5 573.7 236.8" fill="#40a255"/>
<path d="M479.3 235.4 482.3 233.5 485.0 237.2 482.0 239.2" fill="#64b550"/>
<path d="M594.6 232.8 597.7 231.4 600.4 234.3 597.4 235.7" fill="#489e4f"/>
<path d="M582.8 233.1 585.8 232.0 588.6 235.0 585.5 236.1" fill="#409d51"/>
<path d="M494.1 232.4 497.2 231.0 499.9 234.6 496.9 236.0" fill="#5eb752"/>
<path d="M535.4 234.7 538.5 233.5 541.2 237.2 538.2 238.4" fill="#3a9b59"/>
<path d="M514.8 233.2 517.8 232.0 520.6 235.7 517.5 236.9" fill="#46ac53"/>
<path d="M544.3 236.0 547.3 234.8 550.0 238.5 547.0 239.7" fill="#3b9c5a"/>
<path d="M556.1 235.8 559.1 234.2 561.9 237.7 558.8 239.3" fill="#3d9f56"/>
<path d="M523.6 234.5 526.6 233.3 529.4 237.0 526.3 238.2" fill="#42a755"/>
<path d="M503.0 233.3 506.0 232.0 508.7 235.7 505.7 236.9" fill="#53b453"/>
<path d="M491.1 233.8 494.1 232.4 496.9 236.0 493.9 237.5" fill="#64b852"/>
<path d="M567.9 234.9 571.0 233.6 573.7 236.8 570.7 238.1" fill="#3fa255"/>
<path d="M591.6 233.9 594.6 232.8 597.4 235.7 594.4 236.8" fill="#459f50"/>
<path d="M579.8 234.2 582.8 233.1 585.5 236.1 582.5 237.2" fill="#3f9e51"/>
<path d="M532.4 235.8 535.4 234.7 538.2 238.4 535.1 239.5" fill="#3ea058"/>
<path d="M553.1 237.2 556.1 235.8 558.8 239.3 555.8 240.8" fill="#3da058"/>
<path d="M511.8 234.4 514.8 233.2 517.5 236.9 514.5 238.1" fill="#49af53"/>
<path d="M488.1 235.4 491.1 233.8 493.9 237.5 490.8 239.0" fill="#68b952"/>
<path d="M541.2 237.2 544.3 236.0 547.0 239.7 544.0 240.9" fill="#3b9d59"/>
<path d="M499.9 234.6 503.0 233.3 505.7 236.9 502.7 238.3" fill="#59b753"/>
<path d="M520.6 235.7 523.6 234.5 526.3 238.2 523.3 239.4" fill="#44ab54"/>
<path d="M564.9 236.1 567.9 234.9 570.7 238.1 567.6 239.4" fill="#3ea154"/>
<path d="M588.6 235.0 591.6 233.9 594.4 236.8 591.3 237.8" fill="#429e50"/>
<path d="M576.7 235.5 579.8 234.2 582.5 237.2 579.5 238.6" fill="#3f9e51"/>
<path d="M550.0 238.5 553.1 237.2 555.8 240.8 552.8 242.2" fill="#3da059"/>
<path d="M485.0 237.2 488.1 235.4 490.8 239.0 487.8 240.8" fill="#68b751"/>
<path d="M529.4 237.0 532.4 235.8 535.1 239.5 532.1 240.7" fill="#40a556"/>
<path d="M508.7 235.7 511.8 234.4 514.5 238.1 511.5 239.4" fill="#4db153"/>
<path d="M482.0 239.2 485.0 237.2 487.8 240.8 484.8 242.8" fill="#62b14e"/>
<path d="M496.9 236.0 499.9 234.6 502.7 238.3 499.6 239.7" fill="#60b853"/>
<path d="M538.2 238.4 541.2 237.2 544.0 240.9 540.9 242.1" fill="#3d9f58"/>
<path d="M561.9 237.7 564.9 236.1 567.6 239.4 564.6 241.1" fill="#3d9e54"/>
<path d="M517.5 236.9 520.6 235.7 523.3 239.4 520.3 240.6" fill="#46ac53"/>
<path d="M573.7 236.8 576.7 235.5 579.5 238.6 576.4 239.9" fill="#3e9e52"/>
<path d="M547.0 239.7 550.0 238.5 552.8 242.2 549.7 243.5" fill="#3da058"/>
<path d="M585.5 236.1 588.6 235.0 591.3 237.8 588.3 238.9" fill="#409d4f"/>
<path d="M526.3 238.2 529.4 237.0 532.1 240.7 529.1 241.9" fill="#43a955"/>
<path d="M558.8 239.3 561.9 237.7 564.6 241.1 561.6 242.9" fill="#3d9e54"/>
<path d="M505.7 236.9 508.7 235.7 511.5 239.4 508.4 240.6" fill="#53b453"/>
<path d="M493.9 237.5 496.9 236.0 499.6 239.7 496.6 241.2" fill="#66b952"/>
<path d="M535.1 239.5 538.2 238.4 540.9 242.1 537.9 243.3" fill="#3fa357"/>
<path d="M514.5 238.1 517.5 236.9 520.3 240.6 517.2 241.8" fill="#49ae52"/>
<path d="M555.8 240.8 558.8 239.3 561.6 242.9 558.5 244.5" fill="#3ea156"/>
<path d="M570.7 238.1 573.7 236.8 576.4 239.9 573.4 241.2" fill="#3e9f52"/>
<path d="M544.0 240.9 547.0 239.7 549.7 243.5 546.7 244.7" fill="#3ea158"/>
<path d="M490.8 239.0 493.9 237.5 496.6 241.2 493.6 242.8" fill="#6ab952"/>
<path d="M502.7 238.3 505.7 236.9 508.4 240.6 505.4 242.0" fill="#5ab553"/>
<path d="M523.3 239.4 526.3 238.2 529.1 241.9 526.0 243.1" fill="#45ac54"/>
<path d="M582.5 237.2 585.5 236.1 588.3 238.9 585.3 240.0" fill="#3e9b4f"/>
<path d="M552.8 242.2 555.8 240.8 558.5 244.5 555.5 246.0" fill="#3ea257"/>
<path d="M487.8 240.8 490.8 239.0 493.6 242.8 490.5 244.6" fill="#6ab751"/>
<path d="M532.1 240.7 535.1 239.5 537.9 243.3 534.9 244.5" fill="#42a756"/>
<path d="M511.5 239.4 514.5 238.1 517.2 241.8 514.2 243.1" fill="#4db052"/>
<path d="M567.6 239.4 570.7 238.1 573.4 241.2 570.4 242.5" fill="#3e9f52"/>
<path d="M484.8 242.8 487.8 240.8 490.5 244.6 487.5 246.6" fill="#64b04e"/>
<path d="M540.9 242.1 544.0 240.9 546.7 244.7 543.7 245.9" fill="#3fa357"/>
<path d="M499.6 239.7 502.7 238.3 505.4 242.0 502.4 243.4" fill="#61b652"/>
<path d="M520.3 240.6 523.3 239.4 526.0 243.1 523.0 244.4" fill="#47ad53"/>
<path d="M579.5 238.6 582.5 237.2 585.3 240.0 582.2 241.4" fill="#3d994e"/>
<path d="M549.7 243.5 552.8 242.2 555.5 246.0 552.5 247.3" fill="#3fa256"/>
<path d="M564.6 241.1 567.6 239.4 570.4 242.5 567.3 244.4" fill="#3d9c51"/>
<path d="M529.1 241.9 532.1 240.7 534.9 244.5 531.8 245.7" fill="#44ab55"/>
<path d="M508.4 240.6 511.5 239.4 514.2 243.1 511.2 244.3" fill="#53b252"/>
<path d="M496.6 241.2 499.6 239.7 502.4 243.4 499.3 244.9" fill="#68b651"/>
<path d="M561.6 242.9 564.6 241.1 567.3 244.4 564.3 246.5" fill="#3d9d52"/>
<path d="M537.9 243.3 540.9 242.1 543.7 245.9 540.6 247.1" fill="#41a656"/>
<path d="M576.4 239.9 579.5 238.6 582.2 241.4 579.2 242.7" fill="#3c994e"/>
<path d="M517.2 241.8 520.3 240.6 523.0 244.4 520.0 245.6" fill="#49ae52"/>
<path d="M558.5 244.5 561.6 242.9 564.3 246.5 561.3 248.3" fill="#3ea054"/>
<path d="M546.7 244.7 549.7 243.5 552.5 247.3 549.4 248.5" fill="#40a456"/>
<path d="M493.6 242.8 496.6 241.2 499.3 244.9 496.3 246.6" fill="#6cb651"/>
<path d="M505.4 242.0 508.4 240.6 511.2 244.3 508.1 245.7" fill="#5ab351"/>
<path d="M526.0 243.1 529.1 241.9 531.8 245.7 528.8 246.9" fill="#45ad54"/>
<path d="M555.5 246.0 558.5 244.5 561.3 248.3 558.2 249.8" fill="#3fa255"/>
<path d="M490.5 244.6 493.6 242.8 496.3 246.6 493.3 248.4" fill="#6cb450"/>
<path d="M573.4 241.2 576.4 239.9 579.2 242.7 576.1 244.1" fill="#3c994e"/>
<path d="M534.9 244.5 537.9 243.3 540.6 247.1 537.6 248.3" fill="#43a955"/>
<path d="M514.2 243.1 517.2 241.8 520.0 245.6 516.9 246.8" fill="#4db052"/>
<path d="M487.5 246.6 490.5 244.6 493.3 248.4 490.2 250.5" fill="#67ae4d"/>
<path d="M543.7 245.9 546.7 244.7 549.4 248.5 546.4 249.7" fill="#41a656"/>
<path d="M502.4 243.4 505.4 242.0 508.1 245.7 505.1 247.1" fill="#62b350"/>
<path d="M523.0 244.4 526.0 243.1 528.8 246.9 525.8 248.1" fill="#47ae53"/>
<path d="M552.5 247.3 555.5 246.0 558.2 249.8 555.2 251.3" fill="#40a354"/>
<path d="M570.4 242.5 573.4 241.2 576.1 244.1 573.1 245.5" fill="#3c9a4f"/>
<path d="M531.8 245.7 534.9 244.5 537.6 248.3 534.6 249.5" fill="#44ab54"/>
<path d="M511.2 244.3 514.2 243.1 516.9 246.8 513.9 248.0" fill="#53b151"/>
<path d="M499.3 244.9 502.4 243.4 505.1 247.1 502.1 248.6" fill="#69b24f"/>
<path d="M540.6 247.1 543.7 245.9 546.4 249.7 543.4 250.9" fill="#42a855"/>
<path d="M567.3 244.4 570.4 242.5 573.1 245.5 570.1 247.6" fill="#3b984e"/>
<path d="M564.3 246.5 567.3 244.4 570.1 247.6 567.0 250.0" fill="#3c994f"/>
<path d="M549.4 248.5 552.5 247.3 555.2 251.3 552.2 252.5" fill="#41a655"/>
<path d="M520.0 245.6 523.0 244.4 525.8 248.1 522.7 249.3" fill="#49af52"/>
<path d="M561.3 248.3 564.3 246.5 567.0 250.0 564.0 252.1" fill="#3ea052"/>
<path d="M496.3 246.6 499.3 244.9 502.1 248.6 499.0 250.3" fill="#6eb14e"/>
<path d="M528.8 246.9 531.8 245.7 534.6 249.5 531.5 250.7" fill="#46ad53"/>
<path d="M508.1 245.7 511.2 244.3 513.9 248.0 510.9 249.4" fill="#5bb150"/>
<path d="M558.2 249.8 561.3 248.3 564.0 252.1 561.0 253.8" fill="#40a353"/>
<path d="M493.3 248.4 496.3 246.6 499.0 250.3 496.0 252.1" fill="#6faf4d"/>
<path d="M537.6 248.3 540.6 247.1 543.4 250.9 540.3 252.1" fill="#43aa54"/>
<path d="M546.4 249.7 549.4 248.5 552.2 252.5 549.1 253.7" fill="#42a855"/>
<path d="M490.2 250.5 493.3 248.4 496.0 252.1 493.0 254.3" fill="#6aaa4b"/>
<path d="M516.9 246.8 520.0 245.6 522.7 249.3 519.7 250.4" fill="#4db052"/>
<path d="M505.1 247.1 508.1 245.7 510.9 249.4 507.8 250.8" fill="#63b04f"/>
<path d="M555.2 251.3 558.2 249.8 561.0 253.8 557.9 255.3" fill="#40a453"/>
<path d="M525.8 248.1 528.8 246.9 531.5 250.7 528.5 251.9" fill="#47ae52"/>
<path d="M534.6 249.5 537.6 248.3 540.3 252.1 537.3 253.3" fill="#45ac53"/>
<path d="M543.4 250.9 546.4 249.7 549.1 253.7 546.1 254.9" fill="#43aa54"/>
<path d="M513.9 248.0 516.9 246.8 519.7 250.4 516.6 251.6" fill="#53b051"/>
<path d="M502.1 248.6 505.1 247.1 507.8 250.8 504.8 252.3" fill="#6bad4d"/>
<path d="M552.2 252.5 555.2 251.3 557.9 255.3 554.9 256.6" fill="#42a754"/>
<path d="M522.7 249.3 525.8 248.1 528.5 251.9 525.5 253.0" fill="#4aaf52"/>
<path d="M499.0 250.3 502.1 248.6 504.8 252.3 501.8 254.0" fill="#71ab4c"/>
<path d="M531.5 250.7 534.6 249.5 537.3 253.3 534.3 254.5" fill="#46ad52"/>
<path d="M510.9 249.4 513.9 248.0 516.6 251.6 513.6 252.9" fill="#5caf4f"/>
<path d="M540.3 252.1 543.4 250.9 546.1 254.9 543.1 256.1" fill="#44ab54"/>
<path d="M549.1 253.7 552.2 252.5 554.9 256.6 551.9 257.8" fill="#43aa54"/>
<path d="M496.0 252.1 499.0 250.3 501.8 254.0 498.7 255.9" fill="#72aa4b"/>
<path d="M493.0 254.3 496.0 252.1 498.7 255.9 495.7 258.0" fill="#6ea649"/>
<path d="M519.7 250.4 522.7 249.3 525.5 253.0 522.4 254.1" fill="#4eb052"/>
<path d="M528.5 251.9 531.5 250.7 534.3 254.5 531.2 255.7" fill="#47ae52"/>
<path d="M507.8 250.8 510.9 249.4 513.6 252.9 510.6 254.3" fill="#64ac4d"/>
<path d="M537.3 253.3 540.3 252.1 543.1 256.1 540.0 257.3" fill="#45ac53"/>
<path d="M546.1 254.9 549.1 253.7 551.9 257.8 548.8 259.0" fill="#44ac54"/>
<path d="M516.6 251.6 519.7 250.4 522.4 254.1 519.4 255.2" fill="#54b051"/>
<path d="M504.8 252.3 507.8 250.8 510.6 254.3 507.5 255.7" fill="#6ca84b"/>
<path d="M525.5 253.0 528.5 251.9 531.2 255.7 528.2 256.8" fill="#49af52"/>
<path d="M534.3 254.5 537.3 253.3 540.0 257.3 537.0 258.5" fill="#46ad52"/>
<path d="M543.1 256.1 546.1 254.9 548.8 259.0 545.8 260.2" fill="#45ad53"/>
<path d="M501.8 254.0 504.8 252.3 507.5 255.7 504.5 257.2" fill="#72a549"/>
<path d="M513.6 252.9 516.6 251.6 519.4 255.2 516.4 256.4" fill="#5caf4f"/>
<path d="M498.7 255.9 501.8 254.0 504.5 257.2 501.5 258.9" fill="#73a348"/>
<path d="M522.4 254.1 525.5 253.0 528.2 256.8 525.2 257.8" fill="#4db051"/>
<path d="M531.2 255.7 534.3 254.5 537.0 258.5 534.0 259.7" fill="#47ad51"/>
<path d="M540.0 257.3 543.1 256.1 545.8 260.2 542.8 261.4" fill="#46ae53"/>
<path d="M495.7 258.0 498.7 255.9 501.5 258.9 498.4 260.8" fill="#6f9f46"/>
<path d="M510.6 254.3 513.6 252.9 516.4 256.4 513.3 257.7" fill="#66ac4d"/>
<path d="M519.4 255.2 522.4 254.1 525.2 257.8 522.1 258.9" fill="#53b051"/>
<path d="M528.2 256.8 531.2 255.7 534.0 259.7 530.9 260.7" fill="#49af52"/>
<path d="M537.0 258.5 540.0 257.3 542.8 261.4 539.7 262.6" fill="#46af52"/>
<path d="M507.5 255.7 510.6 254.3 513.3 257.7 510.3 259.0" fill="#6ea74a"/>
<path d="M516.4 256.4 519.4 255.2 522.1 258.9 519.1 260.0" fill="#5caf4f"/>
<path d="M534.0 259.7 537.0 258.5 539.7 262.6 536.7 263.8" fill="#47ae52"/>
<path d="M504.5 257.2 507.5 255.7 510.3 259.0 507.3 260.4" fill="#73a348"/>
<path d="M525.2 257.8 528.2 256.8 530.9 260.7 527.9 261.6" fill="#4db052"/>
<path d="M501.5 258.9 504.5 257.2 507.3 260.4 504.2 261.9" fill="#75a046"/>
<path d="M513.3 257.7 516.4 256.4 519.1 260.0 516.1 261.2" fill="#65ad4d"/>
<path d="M530.9 260.7 534.0 259.7 536.7 263.8 533.7 264.8" fill="#49b052"/>
<path d="M498.4 260.8 501.5 258.9 504.2 261.9 501.2 263.5" fill="#719e46"/>
<path d="M522.1 258.9 525.2 257.8 527.9 261.6 524.9 262.6" fill="#52b051"/>
<path d="M510.3 259.0 513.3 257.7 516.1 261.2 513.0 262.4" fill="#6da84b"/>
<path d="M527.9 261.6 530.9 260.7 533.7 264.8 530.6 265.6" fill="#4db152"/>
<path d="M519.1 260.0 522.1 258.9 524.9 262.6 521.8 263.6" fill="#5ab050"/>
<path d="M507.3 260.4 510.3 259.0 513.0 262.4 510.0 263.7" fill="#73a348"/>
<path d="M516.1 261.2 519.1 260.0 521.8 263.6 518.8 264.7" fill="#63ae4e"/>
<path d="M524.9 262.6 527.9 261.6 530.6 265.6 527.6 266.5" fill="#51b151"/>
<path d="M504.2 261.9 507.3 260.4 510.0 263.7 507.0 264.9" fill="#75a047"/>
<path d="M501.2 263.5 504.2 261.9 507.0 264.9 503.9 266.3" fill="#719f46"/>
<path d="M513.0 262.4 516.1 261.2 518.8 264.7 515.8 265.9" fill="#6baa4b"/>
<path d="M521.8 263.6 524.9 262.6 527.6 266.5 524.6 267.5" fill="#58b150"/>
<path d="M510.0 263.7 513.0 262.4 515.8 265.9 512.7 267.0" fill="#70a549"/>
<path d="M518.8 264.7 521.8 263.6 524.6 267.5 521.5 268.5" fill="#60b04f"/>
<path d="M507.0 264.9 510.0 263.7 512.7 267.0 509.7 268.0" fill="#71a247"/>
<path d="M515.8 265.9 518.8 264.7 521.5 268.5 518.5 269.6" fill="#67ad4d"/>
<path d="M503.9 266.3 507.0 264.9 509.7 268.0 506.7 269.1" fill="#6ea047"/>
<path d="M512.7 267.0 515.8 265.9 518.5 269.6 515.5 270.6" fill="#6caa4c"/>
<path d="M509.7 268.0 512.7 267.0 515.5 270.6 512.4 271.6" fill="#6da84a"/>
<path d="M506.7 269.1 509.7 268.0 512.4 271.6 509.4 272.5" fill="#6ba74a"/>
</g>
<g clip-path="url(#cpB)">
<ellipse cx="493.6" cy="182.2" rx="8.3" ry="3.1" fill="url(#sdk)" opacity="0.55" transform="rotate(53 493.6 182.2)"/>
<ellipse cx="551.1" cy="180.1" rx="11.0" ry="3.1" fill="url(#sdk)" opacity="0.44" transform="rotate(53 551.1 180.1)"/>
<ellipse cx="522.0" cy="78.4" rx="13.0" ry="4.8" fill="url(#sdk)" opacity="0.36" transform="rotate(53 522.0 78.4)"/>
<ellipse cx="540.9" cy="167.5" rx="11.2" ry="4.0" fill="url(#sdk)" opacity="0.42" transform="rotate(53 540.9 167.5)"/>
<ellipse cx="497.5" cy="186.7" rx="9.8" ry="4.6" fill="url(#sdk)" opacity="0.45" transform="rotate(53 497.5 186.7)"/>
<ellipse cx="431.7" cy="132.2" rx="7.4" ry="4.4" fill="url(#sdk)" opacity="0.42" transform="rotate(53 431.7 132.2)"/>
<ellipse cx="515.6" cy="231.5" rx="11.0" ry="3.2" fill="url(#sdk)" opacity="0.49" transform="rotate(53 515.6 231.5)"/>
<ellipse cx="493.1" cy="210.2" rx="7.8" ry="3.9" fill="url(#sdk)" opacity="0.57" transform="rotate(53 493.1 210.2)"/>
<ellipse cx="504.3" cy="84.9" rx="13.7" ry="4.3" fill="url(#sdk)" opacity="0.53" transform="rotate(53 504.3 84.9)"/>
<ellipse cx="590.4" cy="211.8" rx="7.9" ry="4.6" fill="url(#sdk)" opacity="0.56" transform="rotate(53 590.4 211.8)"/>
<ellipse cx="503.9" cy="76.5" rx="9.7" ry="3.9" fill="url(#sdk)" opacity="0.48" transform="rotate(53 503.9 76.5)"/>
<ellipse cx="473.1" cy="111.3" rx="13.9" ry="3.1" fill="url(#sdk)" opacity="0.49" transform="rotate(53 473.1 111.3)"/>
<ellipse cx="577.5" cy="230.0" rx="8.4" ry="3.2" fill="url(#sdk)" opacity="0.57" transform="rotate(53 577.5 230.0)"/>
<ellipse cx="488.6" cy="236.3" rx="12.4" ry="4.7" fill="url(#sdk)" opacity="0.58" transform="rotate(53 488.6 236.3)"/>
<ellipse cx="457.7" cy="138.3" rx="9.2" ry="4.4" fill="url(#sdk)" opacity="0.37" transform="rotate(53 457.7 138.3)"/>
<ellipse cx="578.5" cy="211.3" rx="11.9" ry="4.6" fill="url(#sdk)" opacity="0.44" transform="rotate(53 578.5 211.3)"/>
<ellipse cx="451.9" cy="142.3" rx="12.1" ry="3.1" fill="url(#sdk)" opacity="0.46" transform="rotate(53 451.9 142.3)"/>
<ellipse cx="530.3" cy="190.1" rx="7.7" ry="4.1" fill="url(#sdk)" opacity="0.59" transform="rotate(53 530.3 190.1)"/>
<ellipse cx="525.8" cy="178.1" rx="13.9" ry="4.7" fill="url(#sdk)" opacity="0.47" transform="rotate(53 525.8 178.1)"/>
<ellipse cx="505.2" cy="243.8" rx="12.0" ry="4.5" fill="url(#sdk)" opacity="0.56" transform="rotate(53 505.2 243.8)"/>
<ellipse cx="536.8" cy="141.8" rx="10.6" ry="4.7" fill="url(#sdk)" opacity="0.56" transform="rotate(53 536.8 141.8)"/>
<ellipse cx="449.0" cy="118.9" rx="10.6" ry="3.9" fill="url(#sdk)" opacity="0.57" transform="rotate(53 449.0 118.9)"/>
<ellipse cx="515.5" cy="169.5" rx="9.6" ry="4.6" fill="url(#sdk)" opacity="0.59" transform="rotate(53 515.5 169.5)"/>
<ellipse cx="487.7" cy="209.3" rx="8.1" ry="3.6" fill="url(#sdk)" opacity="0.59" transform="rotate(53 487.7 209.3)"/>
<ellipse cx="518.4" cy="175.5" rx="12.0" ry="4.4" fill="url(#sdk)" opacity="0.36" transform="rotate(53 518.4 175.5)"/>
<ellipse cx="529.3" cy="99.8" rx="12.5" ry="4.3" fill="url(#sdk)" opacity="0.47" transform="rotate(53 529.3 99.8)"/>
<ellipse cx="543.7" cy="111.6" rx="12.7" ry="4.4" fill="url(#sdk)" opacity="0.41" transform="rotate(53 543.7 111.6)"/>
<ellipse cx="582.5" cy="158.3" rx="11.1" ry="3.3" fill="url(#sdk)" opacity="0.46" transform="rotate(53 582.5 158.3)"/>
<ellipse cx="494.0" cy="195.2" rx="9.5" ry="3.3" fill="url(#sdk)" opacity="0.44" transform="rotate(53 494.0 195.2)"/>
<ellipse cx="513.4" cy="225.2" rx="12.5" ry="3.3" fill="url(#sdk)" opacity="0.54" transform="rotate(53 513.4 225.2)"/>
<ellipse cx="429.9" cy="149.2" rx="11.6" ry="4.4" fill="url(#sdk)" opacity="0.47" transform="rotate(53 429.9 149.2)"/>
<ellipse cx="483.0" cy="158.9" rx="13.0" ry="4.0" fill="url(#sdk)" opacity="0.57" transform="rotate(53 483.0 158.9)"/>
<ellipse cx="621.3" cy="209.6" rx="10.5" ry="4.2" fill="url(#sdk)" opacity="0.40" transform="rotate(53 621.3 209.6)"/>
<ellipse cx="628.3" cy="216.4" rx="12.8" ry="4.1" fill="url(#sdk)" opacity="0.37" transform="rotate(53 628.3 216.4)"/>
<ellipse cx="447.9" cy="116.8" rx="8.4" ry="3.7" fill="url(#sdk)" opacity="0.48" transform="rotate(53 447.9 116.8)"/>
<ellipse cx="536.3" cy="111.9" rx="10.7" ry="4.7" fill="url(#sdk)" opacity="0.38" transform="rotate(53 536.3 111.9)"/>
<ellipse cx="511.1" cy="183.6" rx="8.3" ry="3.0" fill="url(#sdk)" opacity="0.50" transform="rotate(53 511.1 183.6)"/>
<ellipse cx="464.9" cy="205.2" rx="9.9" ry="3.5" fill="url(#sdk)" opacity="0.40" transform="rotate(53 464.9 205.2)"/>
<ellipse cx="578.0" cy="160.5" rx="8.2" ry="4.4" fill="url(#sdk)" opacity="0.41" transform="rotate(53 578.0 160.5)"/>
<ellipse cx="593.9" cy="179.2" rx="11.7" ry="5.0" fill="url(#sdk)" opacity="0.48" transform="rotate(53 593.9 179.2)"/>
<ellipse cx="560.7" cy="226.5" rx="13.7" ry="3.0" fill="url(#sdk)" opacity="0.56" transform="rotate(53 560.7 226.5)"/>
<ellipse cx="572.4" cy="228.6" rx="12.0" ry="4.9" fill="url(#sdk)" opacity="0.54" transform="rotate(53 572.4 228.6)"/>
<ellipse cx="445.0" cy="123.8" rx="13.3" ry="4.0" fill="url(#sdk)" opacity="0.56" transform="rotate(53 445.0 123.8)"/>
<ellipse cx="452.2" cy="178.0" rx="8.4" ry="4.7" fill="url(#sdk)" opacity="0.52" transform="rotate(53 452.2 178.0)"/>
<ellipse cx="474.0" cy="206.1" rx="12.9" ry="3.1" fill="url(#sdk)" opacity="0.50" transform="rotate(53 474.0 206.1)"/>
<ellipse cx="529.9" cy="92.6" rx="12.1" ry="3.3" fill="url(#sdk)" opacity="0.56" transform="rotate(53 529.9 92.6)"/>
<ellipse cx="463.7" cy="166.0" rx="9.5" ry="3.8" fill="url(#sdk)" opacity="0.60" transform="rotate(53 463.7 166.0)"/>
<ellipse cx="463.3" cy="161.9" rx="12.4" ry="3.9" fill="url(#sdk)" opacity="0.49" transform="rotate(53 463.3 161.9)"/>
<ellipse cx="605.6" cy="226.4" rx="12.7" ry="3.9" fill="url(#sdk)" opacity="0.44" transform="rotate(53 605.6 226.4)"/>
<ellipse cx="538.3" cy="232.2" rx="12.3" ry="3.2" fill="url(#sdk)" opacity="0.48" transform="rotate(53 538.3 232.2)"/>
<ellipse cx="536.2" cy="156.7" rx="10.7" ry="4.7" fill="url(#sdk)" opacity="0.43" transform="rotate(53 536.2 156.7)"/>
<ellipse cx="482.5" cy="201.3" rx="11.6" ry="5.0" fill="url(#sdk)" opacity="0.56" transform="rotate(53 482.5 201.3)"/>
<ellipse cx="601.0" cy="218.0" rx="9.8" ry="3.6" fill="url(#sdk)" opacity="0.52" transform="rotate(53 601.0 218.0)"/>
<ellipse cx="525.1" cy="167.5" rx="8.6" ry="4.3" fill="url(#sdk)" opacity="0.52" transform="rotate(53 525.1 167.5)"/>
<ellipse cx="474.6" cy="136.9" rx="14.0" ry="3.5" fill="url(#sdk)" opacity="0.39" transform="rotate(53 474.6 136.9)"/>
<ellipse cx="549.2" cy="150.1" rx="13.7" ry="3.7" fill="url(#sdk)" opacity="0.50" transform="rotate(53 549.2 150.1)"/>
<ellipse cx="484.7" cy="232.6" rx="13.8" ry="4.4" fill="url(#sdk)" opacity="0.56" transform="rotate(53 484.7 232.6)"/>
<ellipse cx="498.7" cy="229.9" rx="10.0" ry="3.4" fill="url(#sdk)" opacity="0.58" transform="rotate(53 498.7 229.9)"/>
<ellipse cx="504.2" cy="115.0" rx="8.9" ry="3.3" fill="url(#sdk)" opacity="0.51" transform="rotate(53 504.2 115.0)"/>
<ellipse cx="492.6" cy="88.6" rx="13.8" ry="3.6" fill="url(#sdk)" opacity="0.51" transform="rotate(53 492.6 88.6)"/>
<ellipse cx="595.5" cy="207.1" rx="11.9" ry="4.3" fill="url(#sdk)" opacity="0.47" transform="rotate(53 595.5 207.1)"/>
<ellipse cx="549.7" cy="242.5" rx="11.3" ry="4.7" fill="url(#sdk)" opacity="0.57" transform="rotate(53 549.7 242.5)"/>
<ellipse cx="443.6" cy="140.1" rx="7.2" ry="3.3" fill="url(#sdk)" opacity="0.38" transform="rotate(53 443.6 140.1)"/>
<ellipse cx="620.9" cy="216.8" rx="10.6" ry="3.9" fill="url(#sdk)" opacity="0.52" transform="rotate(53 620.9 216.8)"/>
<ellipse cx="491.2" cy="215.3" rx="10.1" ry="4.3" fill="url(#sdk)" opacity="0.55" transform="rotate(53 491.2 215.3)"/>
<ellipse cx="499.9" cy="135.5" rx="9.3" ry="3.4" fill="url(#sdk)" opacity="0.55" transform="rotate(53 499.9 135.5)"/>
<ellipse cx="527.6" cy="204.1" rx="9.0" ry="3.6" fill="url(#sdk)" opacity="0.43" transform="rotate(53 527.6 204.1)"/>
<ellipse cx="564.4" cy="229.4" rx="12.1" ry="3.5" fill="url(#sdk)" opacity="0.36" transform="rotate(53 564.4 229.4)"/>
<ellipse cx="484.8" cy="138.6" rx="12.4" ry="3.8" fill="url(#sdk)" opacity="0.40" transform="rotate(53 484.8 138.6)"/>
<ellipse cx="599.7" cy="193.2" rx="9.4" ry="3.6" fill="url(#sdk)" opacity="0.50" transform="rotate(53 599.7 193.2)"/>
<ellipse cx="407.0" cy="121.5" rx="19.5" ry="8.0" fill="url(#sh)" opacity="1.00" transform="rotate(53 407.0 121.5)"/>
<ellipse cx="424.8" cy="112.3" rx="19.0" ry="7.8" fill="url(#sh)" opacity="0.99" transform="rotate(53 424.8 112.3)"/>
<ellipse cx="448.2" cy="101.7" rx="19.0" ry="7.8" fill="url(#sh)" opacity="0.99" transform="rotate(53 448.2 101.7)"/>
<ellipse cx="473.7" cy="88.9" rx="19.0" ry="7.8" fill="url(#sh)" opacity="0.99" transform="rotate(53 473.7 88.9)"/>
<ellipse cx="447.0" cy="131.5" rx="19.5" ry="8.0" fill="url(#sh)" opacity="0.90" transform="rotate(53 447.0 131.5)"/>
<ellipse cx="482.5" cy="127.0" rx="19.5" ry="8.0" fill="url(#sh)" opacity="0.90" transform="rotate(53 482.5 127.0)"/>
<ellipse cx="503.5" cy="68.0" rx="20.0" ry="8.0" fill="url(#sh)" opacity="1.00" transform="rotate(53 503.5 68.0)"/>
<ellipse cx="519.5" cy="79.7" rx="19.0" ry="7.8" fill="url(#sh)" opacity="0.90" transform="rotate(53 519.5 79.7)"/>
<ellipse cx="532.1" cy="84.0" rx="19.0" ry="7.8" fill="url(#sh)" opacity="0.90" transform="rotate(53 532.1 84.0)"/>
<ellipse cx="528.9" cy="105.0" rx="19.0" ry="7.8" fill="url(#sh)" opacity="0.81" transform="rotate(53 528.9 105.0)"/>
<ellipse cx="475.8" cy="89.2" rx="18.5" ry="7.8" fill="url(#sh)" opacity="0.81" transform="rotate(53 475.8 89.2)"/>
<ellipse cx="541.7" cy="115.8" rx="19.0" ry="7.8" fill="url(#sh)" opacity="0.81" transform="rotate(53 541.7 115.8)"/>
<ellipse cx="507.5" cy="116.0" rx="19.0" ry="7.8" fill="url(#sh)" opacity="0.81" transform="rotate(53 507.5 116.0)"/>
<ellipse cx="429.2" cy="147.5" rx="19.5" ry="8.0" fill="url(#sh)" opacity="0.90" transform="rotate(53 429.2 147.5)"/>
<ellipse cx="462.5" cy="173.0" rx="20.0" ry="8.2" fill="url(#sh)" opacity="1.00" transform="rotate(53 462.5 173.0)"/>
<ellipse cx="489.5" cy="141.0" rx="19.5" ry="8.0" fill="url(#sh)" opacity="0.99" transform="rotate(53 489.5 141.0)"/>
<ellipse cx="542.5" cy="121.0" rx="19.0" ry="7.8" fill="url(#sh)" opacity="0.90" transform="rotate(53 542.5 121.0)"/>
<ellipse cx="548.9" cy="131.8" rx="19.0" ry="7.8" fill="url(#sh)" opacity="0.90" transform="rotate(53 548.9 131.8)"/>
<ellipse cx="517.0" cy="128.6" rx="19.0" ry="7.8" fill="url(#sh)" opacity="0.81" transform="rotate(53 517.0 128.6)"/>
<ellipse cx="572.4" cy="163.7" rx="19.0" ry="7.8" fill="url(#sh)" opacity="0.90" transform="rotate(53 572.4 163.7)"/>
<ellipse cx="583.5" cy="173.0" rx="19.0" ry="7.8" fill="url(#sh)" opacity="0.90" transform="rotate(53 583.5 173.0)"/>
<ellipse cx="544.5" cy="176.5" rx="19.0" ry="7.8" fill="url(#sh)" opacity="0.81" transform="rotate(53 544.5 176.5)"/>
<ellipse cx="527.5" cy="106.3" rx="18.5" ry="7.8" fill="url(#sh)" opacity="0.81" transform="rotate(53 527.5 106.3)"/>
<ellipse cx="540.5" cy="106.3" rx="18.5" ry="7.8" fill="url(#sh)" opacity="0.72" transform="rotate(53 540.5 106.3)"/>
<ellipse cx="509.5" cy="224.0" rx="20.5" ry="8.5" fill="url(#sh)" opacity="1.00" transform="rotate(53 509.5 224.0)"/>
<ellipse cx="481.9" cy="215.4" rx="19.5" ry="8.0" fill="url(#sh)" opacity="1.00" transform="rotate(53 481.9 215.4)"/>
<ellipse cx="498.9" cy="242.0" rx="21.0" ry="7.8" fill="url(#sh)" opacity="0.99" transform="rotate(53 498.9 242.0)"/>
<ellipse cx="533.0" cy="266.5" rx="20.0" ry="8.0" fill="url(#sh)" opacity="1.00" transform="rotate(53 533.0 266.5)"/>
<ellipse cx="460.5" cy="196.3" rx="19.0" ry="8.0" fill="url(#sh)" opacity="0.90" transform="rotate(53 460.5 196.3)"/>
<ellipse cx="585.1" cy="179.7" rx="19.5" ry="8.0" fill="url(#sh)" opacity="1.00" transform="rotate(53 585.1 179.7)"/>
<ellipse cx="605.5" cy="187.3" rx="19.5" ry="8.0" fill="url(#sh)" opacity="0.99" transform="rotate(53 605.5 187.3)"/>
<ellipse cx="618.2" cy="212.8" rx="19.0" ry="8.0" fill="url(#sh)" opacity="0.99" transform="rotate(53 618.2 212.8)"/>
<ellipse cx="590.2" cy="218.0" rx="19.0" ry="7.8" fill="url(#sh)" opacity="0.81" transform="rotate(53 590.2 218.0)"/>
<ellipse cx="564.5" cy="235.8" rx="19.0" ry="7.8" fill="url(#sh)" opacity="0.81" transform="rotate(53 564.5 235.8)"/>
<ellipse cx="546.8" cy="177.1" rx="19.0" ry="7.8" fill="url(#sh)" opacity="0.81" transform="rotate(53 546.8 177.1)"/>
<ellipse cx="515.7" cy="261.7" rx="19.0" ry="7.8" fill="url(#sh)" opacity="0.63" transform="rotate(53 515.7 261.7)"/>
<ellipse cx="457.3" cy="156.7" rx="19.0" ry="7.8" fill="url(#sh)" opacity="0.63" transform="rotate(53 457.3 156.7)"/>
<ellipse cx="494.4" cy="196.0" rx="19.0" ry="7.8" fill="url(#sh)" opacity="0.63" transform="rotate(53 494.4 196.0)"/>
<ellipse cx="503.8" cy="207.6" rx="19.0" ry="7.8" fill="url(#sh)" opacity="0.63" transform="rotate(53 503.8 207.6)"/>
<ellipse cx="521.4" cy="239.5" rx="19.0" ry="7.8" fill="url(#sh)" opacity="0.63" transform="rotate(53 521.4 239.5)"/>
<ellipse cx="488.8" cy="167.3" rx="19.0" ry="7.8" fill="url(#sh)" opacity="0.63" transform="rotate(53 488.8 167.3)"/>
<ellipse cx="507.0" cy="187.0" rx="19.0" ry="7.8" fill="url(#sh)" opacity="0.63" transform="rotate(53 507.0 187.0)"/>
<ellipse cx="520.1" cy="206.3" rx="19.0" ry="7.8" fill="url(#sh)" opacity="0.63" transform="rotate(53 520.1 206.3)"/>
<ellipse cx="536.9" cy="221.2" rx="19.0" ry="7.8" fill="url(#sh)" opacity="0.63" transform="rotate(53 536.9 221.2)"/>
<ellipse cx="555.0" cy="248.7" rx="19.0" ry="7.8" fill="url(#sh)" opacity="0.63" transform="rotate(53 555.0 248.7)"/>
<ellipse cx="501.8" cy="157.8" rx="19.0" ry="7.8" fill="url(#sh)" opacity="0.63" transform="rotate(53 501.8 157.8)"/>
<ellipse cx="524.8" cy="174.8" rx="19.0" ry="7.8" fill="url(#sh)" opacity="0.63" transform="rotate(53 524.8 174.8)"/>
<ellipse cx="534.7" cy="199.7" rx="19.0" ry="7.8" fill="url(#sh)" opacity="0.63" transform="rotate(53 534.7 199.7)"/>
<ellipse cx="556.8" cy="221.4" rx="19.0" ry="7.8" fill="url(#sh)" opacity="0.63" transform="rotate(53 556.8 221.4)"/>
<ellipse cx="528.1" cy="150.5" rx="19.0" ry="7.8" fill="url(#sh)" opacity="0.63" transform="rotate(53 528.1 150.5)"/>
<ellipse cx="558.4" cy="195.5" rx="19.0" ry="7.8" fill="url(#sh)" opacity="0.63" transform="rotate(53 558.4 195.5)"/>
<ellipse cx="574.0" cy="212.2" rx="19.0" ry="7.8" fill="url(#sh)" opacity="0.63" transform="rotate(53 574.0 212.2)"/>
<ellipse cx="555.9" cy="160.3" rx="19.0" ry="7.8" fill="url(#sh)" opacity="0.63" transform="rotate(53 555.9 160.3)"/>
<ellipse cx="571.7" cy="139.1" rx="19.0" ry="7.8" fill="url(#sh)" opacity="0.63" transform="rotate(53 571.7 139.1)"/>
<ellipse cx="405.5" cy="119.5" rx="8.5" ry="4.8" fill="url(#sgc)" opacity="0.84" transform="rotate(50 405.5 119.5)"/>
<ellipse cx="423.3" cy="110.3" rx="7.6" ry="4.0" fill="url(#sgc)" opacity="0.77" transform="rotate(50 423.3 110.3)"/>
<ellipse cx="446.7" cy="99.7" rx="7.6" ry="4.0" fill="url(#sgc)" opacity="0.77" transform="rotate(50 446.7 99.7)"/>
<ellipse cx="472.2" cy="86.9" rx="7.6" ry="4.0" fill="url(#sgc)" opacity="0.77" transform="rotate(50 472.2 86.9)"/>
<ellipse cx="445.5" cy="129.5" rx="8.5" ry="4.8" fill="url(#sgc)" opacity="0.70" transform="rotate(50 445.5 129.5)"/>
<ellipse cx="481.0" cy="125.0" rx="8.5" ry="4.8" fill="url(#sgc)" opacity="0.70" transform="rotate(50 481.0 125.0)"/>
<ellipse cx="502.0" cy="66.0" rx="9.5" ry="4.8" fill="url(#sgc)" opacity="0.84" transform="rotate(50 502.0 66.0)"/>
<ellipse cx="518.0" cy="77.7" rx="7.6" ry="4.0" fill="url(#sgc)" opacity="0.70" transform="rotate(50 518.0 77.7)"/>
<ellipse cx="530.6" cy="82.0" rx="7.6" ry="4.0" fill="url(#sgc)" opacity="0.70" transform="rotate(50 530.6 82.0)"/>
<ellipse cx="527.4" cy="103.0" rx="7.6" ry="4.0" fill="url(#sgc)" opacity="0.63" transform="rotate(50 527.4 103.0)"/>
<ellipse cx="474.3" cy="87.2" rx="6.6" ry="4.0" fill="url(#sgc)" opacity="0.63" transform="rotate(50 474.3 87.2)"/>
<ellipse cx="540.2" cy="113.8" rx="7.6" ry="4.0" fill="url(#sgc)" opacity="0.63" transform="rotate(50 540.2 113.8)"/>
<ellipse cx="506.0" cy="114.0" rx="7.6" ry="4.0" fill="url(#sgc)" opacity="0.63" transform="rotate(50 506.0 114.0)"/>
<ellipse cx="427.7" cy="145.5" rx="8.5" ry="4.8" fill="url(#sgc)" opacity="0.70" transform="rotate(50 427.7 145.5)"/>
<ellipse cx="461.0" cy="171.0" rx="9.5" ry="5.6" fill="url(#sgc)" opacity="0.84" transform="rotate(50 461.0 171.0)"/>
<ellipse cx="488.0" cy="139.0" rx="8.5" ry="4.8" fill="url(#sgc)" opacity="0.77" transform="rotate(50 488.0 139.0)"/>
<ellipse cx="541.0" cy="119.0" rx="7.6" ry="4.0" fill="url(#sgc)" opacity="0.70" transform="rotate(50 541.0 119.0)"/>
<ellipse cx="547.4" cy="129.8" rx="7.6" ry="4.0" fill="url(#sgc)" opacity="0.70" transform="rotate(50 547.4 129.8)"/>
<ellipse cx="515.5" cy="126.6" rx="7.6" ry="4.0" fill="url(#sgc)" opacity="0.63" transform="rotate(50 515.5 126.6)"/>
<ellipse cx="570.9" cy="161.7" rx="7.6" ry="4.0" fill="url(#sgc)" opacity="0.70" transform="rotate(50 570.9 161.7)"/>
<ellipse cx="582.0" cy="171.0" rx="7.6" ry="4.0" fill="url(#sgc)" opacity="0.70" transform="rotate(50 582.0 171.0)"/>
<ellipse cx="543.0" cy="174.5" rx="7.6" ry="4.0" fill="url(#sgc)" opacity="0.63" transform="rotate(50 543.0 174.5)"/>
<ellipse cx="526.0" cy="104.3" rx="6.6" ry="4.0" fill="url(#sgc)" opacity="0.63" transform="rotate(50 526.0 104.3)"/>
<ellipse cx="539.0" cy="104.3" rx="6.6" ry="4.0" fill="url(#sgc)" opacity="0.56" transform="rotate(50 539.0 104.3)"/>
<ellipse cx="508.0" cy="222.0" rx="10.4" ry="6.4" fill="url(#sgc)" opacity="1.00" transform="rotate(50 508.0 222.0)"/>
<ellipse cx="480.4" cy="213.4" rx="8.5" ry="4.8" fill="url(#sgc)" opacity="0.84" transform="rotate(50 480.4 213.4)"/>
<ellipse cx="497.4" cy="240.0" rx="11.4" ry="4.0" fill="url(#sgc)" opacity="0.77" transform="rotate(50 497.4 240.0)"/>
<ellipse cx="531.5" cy="264.5" rx="9.5" ry="4.8" fill="url(#sgc)" opacity="0.84" transform="rotate(50 531.5 264.5)"/>
<ellipse cx="459.0" cy="194.3" rx="7.6" ry="4.8" fill="url(#sgc)" opacity="0.70" transform="rotate(50 459.0 194.3)"/>
<ellipse cx="583.6" cy="177.7" rx="8.5" ry="4.8" fill="url(#sgc)" opacity="0.84" transform="rotate(50 583.6 177.7)"/>
<ellipse cx="604.0" cy="185.3" rx="8.5" ry="4.8" fill="url(#sgc)" opacity="0.77" transform="rotate(50 604.0 185.3)"/>
<ellipse cx="616.7" cy="210.8" rx="7.6" ry="4.8" fill="url(#sgc)" opacity="0.77" transform="rotate(50 616.7 210.8)"/>
<ellipse cx="588.7" cy="216.0" rx="7.6" ry="4.0" fill="url(#sgc)" opacity="0.63" transform="rotate(50 588.7 216.0)"/>
<ellipse cx="563.0" cy="233.8" rx="7.6" ry="4.0" fill="url(#sgc)" opacity="0.63" transform="rotate(50 563.0 233.8)"/>
<ellipse cx="545.3" cy="175.1" rx="7.6" ry="4.0" fill="url(#sgc)" opacity="0.63" transform="rotate(50 545.3 175.1)"/>
<ellipse cx="514.2" cy="259.7" rx="7.6" ry="4.0" fill="url(#sgc)" opacity="0.49" transform="rotate(50 514.2 259.7)"/>
<ellipse cx="455.8" cy="154.7" rx="7.6" ry="4.0" fill="url(#sgc)" opacity="0.49" transform="rotate(50 455.8 154.7)"/>
<ellipse cx="492.9" cy="194.0" rx="7.6" ry="4.0" fill="url(#sgc)" opacity="0.49" transform="rotate(50 492.9 194.0)"/>
<ellipse cx="502.3" cy="205.6" rx="7.6" ry="4.0" fill="url(#sgc)" opacity="0.49" transform="rotate(50 502.3 205.6)"/>
<ellipse cx="519.9" cy="237.5" rx="7.6" ry="4.0" fill="url(#sgc)" opacity="0.49" transform="rotate(50 519.9 237.5)"/>
<ellipse cx="487.3" cy="165.3" rx="7.6" ry="4.0" fill="url(#sgc)" opacity="0.49" transform="rotate(50 487.3 165.3)"/>
<ellipse cx="505.5" cy="185.0" rx="7.6" ry="4.0" fill="url(#sgc)" opacity="0.49" transform="rotate(50 505.5 185.0)"/>
<ellipse cx="518.6" cy="204.3" rx="7.6" ry="4.0" fill="url(#sgc)" opacity="0.49" transform="rotate(50 518.6 204.3)"/>
<ellipse cx="535.4" cy="219.2" rx="7.6" ry="4.0" fill="url(#sgc)" opacity="0.49" transform="rotate(50 535.4 219.2)"/>
<ellipse cx="553.5" cy="246.7" rx="7.6" ry="4.0" fill="url(#sgc)" opacity="0.49" transform="rotate(50 553.5 246.7)"/>
<ellipse cx="500.3" cy="155.8" rx="7.6" ry="4.0" fill="url(#sgc)" opacity="0.49" transform="rotate(50 500.3 155.8)"/>
<ellipse cx="523.3" cy="172.8" rx="7.6" ry="4.0" fill="url(#sgc)" opacity="0.49" transform="rotate(50 523.3 172.8)"/>
<ellipse cx="533.2" cy="197.7" rx="7.6" ry="4.0" fill="url(#sgc)" opacity="0.49" transform="rotate(50 533.2 197.7)"/>
<ellipse cx="555.3" cy="219.4" rx="7.6" ry="4.0" fill="url(#sgc)" opacity="0.49" transform="rotate(50 555.3 219.4)"/>
<ellipse cx="526.6" cy="148.5" rx="7.6" ry="4.0" fill="url(#sgc)" opacity="0.49" transform="rotate(50 526.6 148.5)"/>
<ellipse cx="556.9" cy="193.5" rx="7.6" ry="4.0" fill="url(#sgc)" opacity="0.49" transform="rotate(50 556.9 193.5)"/>
<ellipse cx="572.5" cy="210.2" rx="7.6" ry="4.0" fill="url(#sgc)" opacity="0.49" transform="rotate(50 572.5 210.2)"/>
<ellipse cx="554.4" cy="158.3" rx="7.6" ry="4.0" fill="url(#sgc)" opacity="0.49" transform="rotate(50 554.4 158.3)"/>
<ellipse cx="570.2" cy="137.1" rx="7.6" ry="4.0" fill="url(#sgc)" opacity="0.49" transform="rotate(50 570.2 137.1)"/>
</g>
<g filter="url(#bl)"><path d="M508.4 168.9L516.9 165.3L521.4 171.3L512.8 174.9 Z" fill="#fff"/></g>
<g filter="url(#tb)">
<line x1="55.4" y1="159.0" x2="55.4" y2="78.0" class="ax"/>
<line x1="55.4" y1="159.0" x2="175.9" y2="319.0" class="ax"/>
<line x1="175.9" y1="319.0" x2="309.4" y2="261.4" class="ax"/>
<line x1="55.4" y1="83.0" x2="50.8" y2="85.0" class="ax"/>
<line x1="55.4" y1="116.5" x2="50.8" y2="118.5" class="ax"/>
<line x1="55.4" y1="150.0" x2="50.8" y2="152.0" class="ax"/>
<line x1="65.2" y1="172.0" x2="60.6" y2="173.9" class="ax"/>
<line x1="90.8" y1="206.0" x2="86.2" y2="208.0" class="ax"/>
<line x1="116.4" y1="240.0" x2="111.8" y2="241.9" class="ax"/>
<line x1="142.0" y1="274.0" x2="137.4" y2="276.0" class="ax"/>
<line x1="167.6" y1="308.0" x2="163.0" y2="309.9" class="ax"/>
<line x1="199.4" y1="308.9" x2="202.1" y2="312.5" class="ax"/>
<line x1="243.1" y1="290.0" x2="245.8" y2="293.6" class="ax"/>
<line x1="286.8" y1="271.1" x2="289.5" y2="274.7" class="ax"/>
<line x1="388.9" y1="159.0" x2="388.9" y2="78.0" class="ax"/>
<line x1="388.9" y1="159.0" x2="509.4" y2="319.0" class="ax"/>
<line x1="509.4" y1="319.0" x2="642.9" y2="261.4" class="ax"/>
<line x1="388.9" y1="83.0" x2="384.3" y2="85.0" class="ax"/>
<line x1="388.9" y1="116.5" x2="384.3" y2="118.5" class="ax"/>
<line x1="388.9" y1="150.0" x2="384.3" y2="152.0" class="ax"/>
<line x1="398.7" y1="172.0" x2="394.1" y2="173.9" class="ax"/>
<line x1="424.3" y1="206.0" x2="419.7" y2="208.0" class="ax"/>
<line x1="449.9" y1="240.0" x2="445.3" y2="241.9" class="ax"/>
<line x1="475.5" y1="274.0" x2="470.9" y2="276.0" class="ax"/>
<line x1="501.1" y1="308.0" x2="496.5" y2="309.9" class="ax"/>
<line x1="532.9" y1="308.9" x2="535.6" y2="312.5" class="ax"/>
<line x1="576.6" y1="290.0" x2="579.3" y2="293.6" class="ax"/>
<line x1="620.3" y1="271.1" x2="623.0" y2="274.7" class="ax"/>
</g>
<g filter="url(#tb)">
<text x="49.2" y="83.6" text-anchor="end" class="tk">200</text>
<text x="49.2" y="115.9" text-anchor="end" class="tk">0</text>
<text x="49.2" y="149.2" text-anchor="end" class="tk">-200</text>
<text x="55.0" y="187.9" text-anchor="end" class="tk">400</text>
<text x="81.0" y="222.5" text-anchor="end" class="tk">200</text>
<text x="106.8" y="255.7" text-anchor="end" class="tk">0</text>
<text x="132.3" y="290.4" text-anchor="end" class="tk">-200</text>
<text x="158.4" y="323.4" text-anchor="end" class="tk">-400</text>
<text x="228.4" y="329.0" text-anchor="end" class="tk">-200</text>
<text x="253.6" y="309.8" text-anchor="end" class="tk">0</text>
<text x="312.1" y="289.8" text-anchor="end" class="tk">200</text>
<text x="60.6" y="315.0" class="al">y [<tspan class="mu">&#956;</tspan>m]</text>
<text x="254.6" y="340.0" class="al">x [<tspan class="mu">&#956;</tspan>m]</text>
<text transform="translate(15.2,119.3) rotate(-90)" text-anchor="middle" class="al" style="font-size:12.4px">z [pm]</text>
<text x="382.7" y="83.6" text-anchor="end" class="tk">200</text>
<text x="382.7" y="115.9" text-anchor="end" class="tk">0</text>
<text x="382.7" y="149.2" text-anchor="end" class="tk">-200</text>
<text x="388.5" y="187.9" text-anchor="end" class="tk">400</text>
<text x="414.5" y="222.5" text-anchor="end" class="tk">200</text>
<text x="440.3" y="255.7" text-anchor="end" class="tk">0</text>
<text x="465.8" y="290.4" text-anchor="end" class="tk">-200</text>
<text x="491.9" y="323.4" text-anchor="end" class="tk">-400</text>
<text x="561.9" y="329.0" text-anchor="end" class="tk">-200</text>
<text x="587.1" y="309.8" text-anchor="end" class="tk">0</text>
<text x="645.6" y="289.8" text-anchor="end" class="tk">200</text>
<text x="394.1" y="315.0" class="al">y [<tspan class="mu">&#956;</tspan>m]</text>
<text x="588.1" y="340.0" class="al">x [<tspan class="mu">&#956;</tspan>m]</text>
<text transform="translate(348.7,119.3) rotate(-90)" text-anchor="middle" class="al" style="font-size:12.4px">z [pm]</text>
<text x="164.2" y="363.6" class="lab">(a)</text>
<text x="509.8" y="363.6" class="lab">(b)</text>
<rect x="669" y="24" width="7" height="303.5" fill="url(#cbg)" stroke="#777" stroke-width="1"/>
<line x1="674.5" y1="25.6" x2="676" y2="25.6" class="cbt"/>
<line x1="674.5" y1="55.8" x2="676" y2="55.8" class="cbt"/>
<line x1="674.5" y1="86.0" x2="676" y2="86.0" class="cbt"/>
<line x1="674.5" y1="116.2" x2="676" y2="116.2" class="cbt"/>
<line x1="674.5" y1="146.4" x2="676" y2="146.4" class="cbt"/>
<line x1="674.5" y1="176.6" x2="676" y2="176.6" class="cbt"/>
<line x1="674.5" y1="206.8" x2="676" y2="206.8" class="cbt"/>
<line x1="674.5" y1="237.0" x2="676" y2="237.0" class="cbt"/>
<line x1="674.5" y1="267.2" x2="676" y2="267.2" class="cbt"/>
<line x1="674.5" y1="297.4" x2="676" y2="297.4" class="cbt"/>
<line x1="674.5" y1="327.6" x2="676" y2="327.6" class="cbt"/>
<text x="679.5" y="29.6" class="cb">250</text>
<text x="679.5" y="59.8" class="cb">200</text>
<text x="679.5" y="90.1" class="cb">150</text>
<text x="679.5" y="120.3" class="cb">100</text>
<text x="679.5" y="150.5" class="cb">50</text>
<text x="679.5" y="180.7" class="cb">0</text>
<text x="679.5" y="211.0" class="cb">-50</text>
<text x="679.5" y="241.2" class="cb">-100</text>
<text x="679.5" y="271.4" class="cb">-150</text>
<text x="679.5" y="301.7" class="cb">-200</text>
<text x="679.5" y="331.9" class="cb">-250</text>
<text x="660.2" y="16.5" class="cb" style="font-size:12px">[pm]</text>
</g>
</svg>
</body></html>
